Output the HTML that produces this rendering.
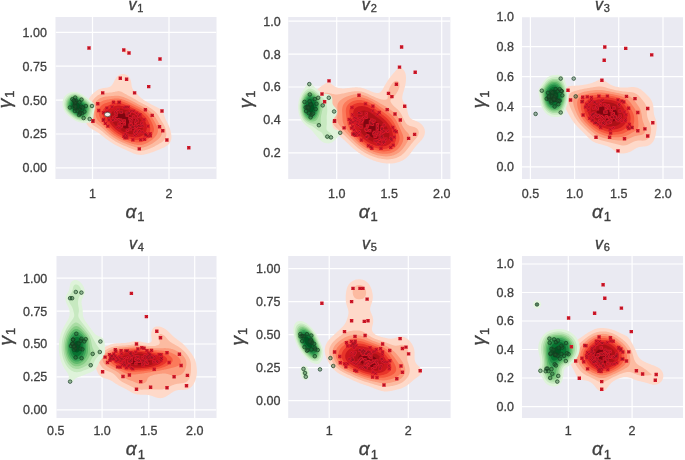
<!DOCTYPE html>
<html><head><meta charset="utf-8"><style>
html,body{margin:0;padding:0;background:#fff;width:685px;height:460px;overflow:hidden;position:relative}
text{font-family:"Liberation Sans",sans-serif;fill:#404040}
.tk{font-size:12.5px;stroke:#404040;stroke-width:0.3px}
.ti{font-size:16px;stroke:#404040;stroke-width:0.35px}
.lb{font-size:19px;stroke:#404040;stroke-width:0.35px}
</style></head><body>
<svg width="685" height="460" viewBox="0 0 685 460" style="position:absolute;left:0;top:0;filter:blur(0.45px)">
<defs>
<clipPath id="c0"><rect x="55.5" y="17" width="161" height="162"/></clipPath>
<clipPath id="c1"><rect x="288.2" y="17" width="162.2" height="162"/></clipPath>
<clipPath id="c2"><rect x="522" y="17" width="161" height="162"/></clipPath>
<clipPath id="c3"><rect x="56.3" y="256" width="160.2" height="162"/></clipPath>
<clipPath id="c4"><rect x="288.2" y="256" width="162.4" height="162"/></clipPath>
<clipPath id="c5"><rect x="522" y="256" width="161" height="162"/></clipPath>
</defs>
<rect x="55.5" y="17" width="161" height="162" fill="#EAEAF2"/>
<g clip-path="url(#c0)">
<line x1="92.5" y1="17" x2="92.5" y2="179" stroke="#fff" stroke-width="1.2"/>
<line x1="169.0" y1="17" x2="169.0" y2="179" stroke="#fff" stroke-width="1.2"/>
<line x1="55.5" y1="32.3" x2="216.5" y2="32.3" stroke="#fff" stroke-width="1.2"/>
<line x1="55.5" y1="66.2" x2="216.5" y2="66.2" stroke="#fff" stroke-width="1.2"/>
<line x1="55.5" y1="100.1" x2="216.5" y2="100.1" stroke="#fff" stroke-width="1.2"/>
<line x1="55.5" y1="134.0" x2="216.5" y2="134.0" stroke="#fff" stroke-width="1.2"/>
<line x1="55.5" y1="167.9" x2="216.5" y2="167.9" stroke="#fff" stroke-width="1.2"/>
<path d="M124.5 49.8L125.5 49.2L126.5 49.1L127.5 49.5L128.2 50.0L128.5 50.4L128.8 51.0L128.9 52.0L128.6 53.0L128.5 53.1L127.5 53.7L126.5 53.9L125.5 53.6L124.6 53.0L124.5 52.9L124.0 52.0L123.9 51.0L124.3 50.0ZM122.5 74.0L122.7 74.0L123.5 74.0L124.5 74.1L125.5 74.4L126.5 74.9L126.7 75.0L127.5 75.5L128.1 76.0L128.5 76.4L129.0 77.0L129.5 77.7L129.7 78.0L130.2 79.0L130.5 79.8L130.6 80.0L130.9 81.0L131.1 82.0L131.3 83.0L131.4 84.0L131.5 84.8L131.5 85.0L131.7 86.0L131.9 87.0L132.2 88.0L132.5 88.6L132.7 89.0L133.4 90.0L133.5 90.1L134.4 91.0L134.5 91.1L135.4 92.0L135.5 92.1L136.4 93.0L136.5 93.1L137.3 94.0L137.5 94.2L138.2 95.0L138.5 95.4L139.0 96.0L139.5 96.5L140.0 97.0L140.5 97.5L141.1 98.0L141.5 98.3L142.3 99.0L142.5 99.1L143.5 99.8L143.8 100.0L144.5 100.4L145.4 101.0L145.5 101.1L146.5 101.6L147.1 102.0L147.5 102.2L148.5 102.7L148.9 103.0L149.5 103.3L150.5 103.9L150.7 104.0L151.5 104.4L152.5 105.0L152.6 105.0L153.5 105.5L154.5 106.0L154.5 106.0L155.5 106.5L156.5 107.0L156.5 107.0L157.5 107.5L158.5 108.0L158.5 108.0L159.5 108.6L160.1 109.0L160.5 109.3L161.3 110.0L161.5 110.2L162.2 111.0L162.5 111.4L162.9 112.0L163.3 113.0L163.5 113.4L163.7 114.0L164.1 115.0L164.4 116.0L164.5 116.3L164.7 117.0L165.1 118.0L165.5 119.0L165.5 119.0L166.0 120.0L166.5 121.0L166.5 121.1L167.0 122.0L167.5 123.0L167.5 123.0L168.0 124.0L168.5 125.0L168.5 125.1L168.9 126.0L169.3 127.0L169.5 127.5L169.7 128.0L170.1 129.0L170.3 130.0L170.5 130.6L170.6 131.0L170.9 132.0L171.0 133.0L171.2 134.0L171.3 135.0L171.4 136.0L171.4 137.0L171.4 138.0L171.3 139.0L171.1 140.0L170.7 141.0L170.5 141.6L170.3 142.0L169.7 143.0L169.5 143.3L168.9 144.0L168.5 144.4L167.9 145.0L167.5 145.3L166.5 146.0L166.5 146.0L165.5 146.6L164.8 147.0L164.5 147.2L163.5 147.7L162.8 148.0L162.5 148.1L161.5 148.6L160.5 149.0L160.5 149.0L159.5 149.4L158.5 149.8L158.1 150.0L157.5 150.2L156.5 150.6L155.6 151.0L155.5 151.0L154.5 151.4L153.5 151.8L152.9 152.0L152.5 152.2L151.5 152.5L150.5 152.8L150.0 153.0L149.5 153.2L148.5 153.5L147.5 153.8L146.7 154.0L146.5 154.1L145.5 154.3L144.5 154.5L143.5 154.7L142.5 154.8L141.5 154.9L140.5 154.9L139.5 154.8L138.5 154.8L137.5 154.6L136.5 154.4L135.5 154.1L135.2 154.0L134.5 153.8L133.5 153.4L132.6 153.0L132.5 153.0L131.5 152.5L130.5 152.1L130.3 152.0L129.5 151.6L128.5 151.2L128.2 151.0L127.5 150.7L126.5 150.2L126.0 150.0L125.5 149.8L124.5 149.3L123.8 149.0L123.5 148.9L122.5 148.5L121.5 148.0L121.5 148.0L120.5 147.5L119.5 147.0L119.4 147.0L118.5 146.6L117.5 146.1L117.4 146.0L116.5 145.5L115.5 145.0L115.5 145.0L114.5 144.4L113.8 144.0L113.5 143.9L112.5 143.3L112.1 143.0L111.5 142.6L110.6 142.0L110.5 142.0L109.5 141.3L109.1 141.0L108.5 140.6L107.7 140.0L107.5 139.9L106.5 139.1L106.3 139.0L105.5 138.4L105.0 138.0L104.5 137.6L103.8 137.0L103.5 136.8L102.6 136.0L102.5 136.0L101.5 135.2L101.3 135.0L100.5 134.4L100.0 134.0L99.5 133.6L98.6 133.0L98.5 132.9L97.5 132.3L97.1 132.0L96.5 131.7L95.5 131.1L95.4 131.0L94.5 130.5L93.5 130.0L93.5 130.0L92.5 129.4L91.8 129.0L91.5 128.8L90.5 128.1L90.3 128.0L89.5 127.4L89.1 127.0L88.5 126.4L88.1 126.0L87.5 125.2L87.4 125.0L86.7 124.0L86.5 123.5L86.3 123.0L85.9 122.0L85.6 121.0L85.5 120.3L85.4 120.0L85.3 119.0L85.2 118.0L85.2 117.0L85.2 116.0L85.3 115.0L85.4 114.0L85.5 113.0L85.5 112.6L85.5 112.0L85.6 111.0L85.7 110.0L85.8 109.0L86.0 108.0L86.1 107.0L86.3 106.0L86.5 105.0L86.5 105.0L86.7 104.0L87.0 103.0L87.3 102.0L87.5 101.6L87.7 101.0L88.2 100.0L88.5 99.4L88.7 99.0L89.3 98.0L89.5 97.7L90.0 97.0L90.5 96.3L90.8 96.0L91.5 95.1L91.6 95.0L92.5 94.1L92.6 94.0L93.5 93.1L93.6 93.0L94.5 92.2L94.8 92.0L95.5 91.4L96.1 91.0L96.5 90.7L97.5 90.1L97.7 90.0L98.5 89.6L99.5 89.1L99.8 89.0L100.5 88.7L101.5 88.5L102.5 88.2L103.5 88.1L104.0 88.0L104.5 87.9L105.5 87.8L106.5 87.7L107.5 87.5L108.5 87.2L109.3 87.0L109.5 86.9L110.5 86.4L111.0 86.0L111.5 85.6L112.0 85.0L112.5 84.3L112.7 84.0L113.3 83.0L113.5 82.6L113.8 82.0L114.2 81.0L114.5 80.5L114.7 80.0L115.3 79.0L115.5 78.7L115.9 78.0L116.5 77.2L116.7 77.0L117.5 76.2L117.7 76.0L118.5 75.4L119.1 75.0L119.5 74.8L120.5 74.4L121.5 74.1L122.5 74.0Z" fill="#fed9c9"/>
<path d="M114.5 91.9L115.5 91.6L116.5 91.4L117.5 91.2L118.5 91.1L119.5 91.2L120.5 91.4L121.5 91.8L121.9 92.0L122.5 92.3L123.5 92.9L123.6 93.0L124.5 93.5L125.3 94.0L125.5 94.1L126.5 94.6L127.1 95.0L127.5 95.2L128.5 95.7L129.1 96.0L129.5 96.2L130.5 96.7L131.0 97.0L131.5 97.3L132.5 97.8L132.8 98.0L133.5 98.4L134.5 99.0L134.5 99.0L135.5 99.6L136.2 100.0L136.5 100.2L137.5 100.8L137.8 101.0L138.5 101.4L139.5 102.0L139.5 102.0L140.5 102.5L141.4 103.0L141.5 103.1L142.5 103.6L143.3 104.0L143.5 104.1L144.5 104.6L145.2 105.0L145.5 105.1L146.5 105.7L147.1 106.0L147.5 106.3L148.5 106.8L148.7 107.0L149.5 107.5L150.3 108.0L150.5 108.1L151.5 108.8L151.8 109.0L152.5 109.5L153.1 110.0L153.5 110.3L154.4 111.0L154.5 111.1L155.5 112.0L155.5 112.0L156.4 113.0L156.5 113.1L157.3 114.0L157.5 114.3L158.0 115.0L158.5 115.8L158.6 116.0L159.2 117.0L159.5 117.5L159.8 118.0L160.4 119.0L160.5 119.2L161.0 120.0L161.5 120.9L161.5 121.0L162.2 122.0L162.5 122.5L162.8 123.0L163.4 124.0L163.5 124.2L163.9 125.0L164.4 126.0L164.5 126.1L164.9 127.0L165.3 128.0L165.5 128.6L165.6 129.0L165.9 130.0L166.1 131.0L166.2 132.0L166.3 133.0L166.3 134.0L166.3 135.0L166.1 136.0L165.9 137.0L165.5 138.0L165.5 138.0L165.0 139.0L164.5 139.7L164.3 140.0L163.5 140.8L163.3 141.0L162.5 141.7L162.0 142.0L161.5 142.4L160.5 143.0L160.5 143.0L159.5 143.6L158.8 144.0L158.5 144.2L157.5 144.7L157.0 145.0L156.5 145.3L155.5 145.8L155.2 146.0L154.5 146.4L153.5 146.9L153.2 147.0L152.5 147.4L151.5 147.8L151.1 148.0L150.5 148.3L149.5 148.7L148.7 149.0L148.5 149.1L147.5 149.5L146.5 149.8L145.9 150.0L145.5 150.1L144.5 150.4L143.5 150.6L142.5 150.8L141.5 150.9L140.5 150.9L139.5 150.9L138.5 150.8L137.5 150.6L136.5 150.4L135.5 150.2L135.0 150.0L134.5 149.8L133.5 149.5L132.5 149.1L132.3 149.0L131.5 148.7L130.5 148.3L129.8 148.0L129.5 147.9L128.5 147.5L127.5 147.0L127.4 147.0L126.5 146.6L125.5 146.2L125.0 146.0L124.5 145.8L123.5 145.4L122.7 145.0L122.5 144.9L121.5 144.5L120.5 144.0L120.5 144.0L119.5 143.5L118.5 143.0L118.5 143.0L117.5 142.5L116.6 142.0L116.5 141.9L115.5 141.4L114.9 141.0L114.5 140.8L113.5 140.1L113.3 140.0L112.5 139.5L111.8 139.0L111.5 138.8L110.5 138.1L110.4 138.0L109.5 137.4L109.0 137.0L108.5 136.6L107.7 136.0L107.5 135.8L106.5 135.0L106.5 135.0L105.5 134.2L105.3 134.0L104.5 133.3L104.1 133.0L103.5 132.5L103.0 132.0L102.5 131.6L101.8 131.0L101.5 130.8L100.5 130.0L100.5 130.0L99.5 129.3L99.1 129.0L98.5 128.6L97.6 128.0L97.5 127.9L96.5 127.3L96.0 127.0L95.5 126.7L94.5 126.1L94.4 126.0L93.5 125.4L93.0 125.0L92.5 124.5L92.0 124.0L91.5 123.5L91.1 123.0L90.5 122.0L90.5 122.0L90.0 121.0L89.7 120.0L89.5 119.1L89.5 119.0L89.3 118.0L89.3 117.0L89.3 116.0L89.3 115.0L89.4 114.0L89.4 113.0L89.5 112.3L89.5 112.0L89.6 111.0L89.7 110.0L89.9 109.0L90.0 108.0L90.2 107.0L90.5 106.0L90.5 105.9L90.7 105.0L91.1 104.0L91.5 103.0L91.5 102.9L91.9 102.0L92.5 101.0L92.5 101.0L93.1 100.0L93.5 99.5L93.9 99.0L94.5 98.3L94.8 98.0L95.5 97.3L95.8 97.0L96.5 96.4L97.0 96.0L97.5 95.6L98.4 95.0L98.5 95.0L99.5 94.4L100.4 94.0L100.5 93.9L101.5 93.6L102.5 93.3L103.5 93.1L104.0 93.0L104.5 92.9L105.5 92.8L106.5 92.8L107.5 92.7L108.5 92.7L109.5 92.6L110.5 92.5L111.5 92.4L112.5 92.2L113.5 92.1L113.9 92.0Z" fill="#fcbba1"/>
<path d="M112.5 96.0L113.5 95.9L114.5 95.8L115.5 95.8L116.5 95.7L117.5 95.8L118.5 95.8L119.5 96.0L119.5 96.0L120.5 96.2L121.5 96.4L122.5 96.7L123.2 97.0L123.5 97.1L124.5 97.5L125.5 97.9L125.8 98.0L126.5 98.3L127.5 98.8L128.0 99.0L128.5 99.2L129.5 99.7L130.1 100.0L130.5 100.2L131.5 100.7L132.1 101.0L132.5 101.2L133.5 101.7L134.0 102.0L134.5 102.3L135.5 102.8L135.9 103.0L136.5 103.3L137.5 103.9L137.8 104.0L138.5 104.4L139.5 104.9L139.7 105.0L140.5 105.4L141.5 105.9L141.7 106.0L142.5 106.4L143.5 106.9L143.6 107.0L144.5 107.5L145.4 108.0L145.5 108.1L146.5 108.7L147.0 109.0L147.5 109.3L148.4 110.0L148.5 110.1L149.5 110.8L149.7 111.0L150.5 111.7L150.9 112.0L151.5 112.6L151.9 113.0L152.5 113.6L152.9 114.0L153.5 114.8L153.7 115.0L154.4 116.0L154.5 116.1L155.1 117.0L155.5 117.6L155.8 118.0L156.4 119.0L156.5 119.2L157.0 120.0L157.5 120.8L157.6 121.0L158.2 122.0L158.5 122.4L158.8 123.0L159.5 124.0L159.5 124.1L160.0 125.0L160.5 125.8L160.6 126.0L161.1 127.0L161.5 128.0L161.5 128.1L161.8 129.0L162.0 130.0L162.1 131.0L162.1 132.0L162.0 133.0L161.8 134.0L161.5 134.9L161.4 135.0L160.9 136.0L160.5 136.7L160.3 137.0L159.5 137.9L159.4 138.0L158.5 138.9L158.4 139.0L157.5 139.8L157.2 140.0L156.5 140.6L156.0 141.0L155.5 141.3L154.6 142.0L154.5 142.1L153.5 142.7L153.1 143.0L152.5 143.4L151.5 144.0L151.5 144.0L150.5 144.6L149.7 145.0L149.5 145.1L148.5 145.6L147.6 146.0L147.5 146.0L146.5 146.4L145.5 146.8L144.9 147.0L144.5 147.1L143.5 147.4L142.5 147.6L141.5 147.7L140.5 147.8L139.5 147.8L138.5 147.7L137.5 147.6L136.5 147.4L135.5 147.2L134.8 147.0L134.5 146.9L133.5 146.6L132.5 146.3L131.8 146.0L131.5 145.9L130.5 145.6L129.5 145.2L129.0 145.0L128.5 144.8L127.5 144.4L126.5 144.0L126.4 144.0L125.5 143.6L124.5 143.2L124.0 143.0L123.5 142.8L122.5 142.4L121.7 142.0L121.5 141.9L120.5 141.4L119.7 141.0L119.5 140.9L118.5 140.4L117.8 140.0L117.5 139.9L116.5 139.3L116.0 139.0L115.5 138.7L114.5 138.0L114.4 138.0L113.5 137.4L112.9 137.0L112.5 136.7L111.6 136.0L111.5 136.0L110.5 135.2L110.2 135.0L109.5 134.4L109.0 134.0L108.5 133.6L107.8 133.0L107.5 132.7L106.7 132.0L106.5 131.8L105.6 131.0L105.5 130.9L104.5 130.0L104.5 130.0L103.5 129.1L103.4 129.0L102.5 128.2L102.3 128.0L101.5 127.3L101.1 127.0L100.5 126.5L99.8 126.0L99.5 125.8L98.5 125.0L98.5 125.0L97.5 124.3L97.2 124.0L96.5 123.5L95.9 123.0L95.5 122.6L94.9 122.0L94.5 121.5L94.1 121.0L93.5 120.0L93.5 119.9L93.1 119.0L92.9 118.0L92.7 117.0L92.6 116.0L92.5 115.0L92.5 114.0L92.6 113.0L92.6 112.0L92.7 111.0L92.8 110.0L93.0 109.0L93.2 108.0L93.4 107.0L93.5 106.7L93.7 106.0L94.1 105.0L94.5 104.1L94.5 104.0L95.1 103.0L95.5 102.4L95.8 102.0L96.5 101.1L96.6 101.0L97.5 100.1L97.7 100.0L98.5 99.3L99.0 99.0L99.5 98.6L100.5 98.1L100.7 98.0L101.5 97.7L102.5 97.3L103.5 97.0L103.6 97.0L104.5 96.8L105.5 96.6L106.5 96.5L107.5 96.4L108.5 96.3L109.5 96.2L110.5 96.2L111.5 96.1L112.3 96.0Z" fill="#fc9b7c"/>
<path d="M111.5 98.9L112.5 98.8L113.5 98.7L114.5 98.6L115.5 98.5L116.5 98.5L117.5 98.5L118.5 98.5L119.5 98.7L120.5 98.9L121.1 99.0L121.5 99.1L122.5 99.4L123.5 99.7L124.4 100.0L124.5 100.0L125.5 100.4L126.5 100.9L126.8 101.0L127.5 101.3L128.5 101.7L129.0 102.0L129.5 102.2L130.5 102.7L131.1 103.0L131.5 103.2L132.5 103.7L133.1 104.0L133.5 104.2L134.5 104.7L135.0 105.0L135.5 105.2L136.5 105.8L137.0 106.0L137.5 106.3L138.5 106.8L138.9 107.0L139.5 107.3L140.5 107.8L140.9 108.0L141.5 108.3L142.5 108.9L142.7 109.0L143.5 109.5L144.3 110.0L144.5 110.1L145.5 110.8L145.8 111.0L146.5 111.5L147.1 112.0L147.5 112.3L148.3 113.0L148.5 113.2L149.3 114.0L149.5 114.2L150.2 115.0L150.5 115.4L151.0 116.0L151.5 116.7L151.7 117.0L152.4 118.0L152.5 118.2L153.0 119.0L153.5 119.8L153.6 120.0L154.2 121.0L154.5 121.6L154.7 122.0L155.3 123.0L155.5 123.4L155.8 124.0L156.3 125.0L156.5 125.3L156.8 126.0L157.2 127.0L157.5 127.8L157.6 128.0L157.8 129.0L157.9 130.0L157.9 131.0L157.8 132.0L157.5 133.0L157.5 133.0L157.1 134.0L156.5 135.0L156.5 135.0L155.8 136.0L155.5 136.3L154.9 137.0L154.5 137.5L154.0 138.0L153.5 138.5L153.0 139.0L152.5 139.4L151.8 140.0L151.5 140.2L150.5 141.0L150.4 141.0L149.5 141.6L148.9 142.0L148.5 142.3L147.5 142.8L147.1 143.0L146.5 143.3L145.5 143.8L144.9 144.0L144.5 144.1L143.5 144.5L142.5 144.7L141.5 144.9L140.7 145.0L140.5 145.0L139.5 145.1L138.5 145.1L137.9 145.0L137.5 145.0L136.5 144.8L135.5 144.6L134.5 144.4L133.5 144.1L133.0 144.0L132.5 143.9L131.5 143.6L130.5 143.2L129.8 143.0L129.5 142.9L128.5 142.6L127.5 142.2L127.0 142.0L126.5 141.8L125.5 141.4L124.5 141.0L124.4 141.0L123.5 140.6L122.5 140.2L122.1 140.0L121.5 139.7L120.5 139.2L120.1 139.0L119.5 138.7L118.5 138.2L118.2 138.0L117.5 137.6L116.5 137.0L116.5 137.0L115.5 136.3L115.0 136.0L114.5 135.7L113.6 135.0L113.5 135.0L112.5 134.2L112.2 134.0L111.5 133.4L111.0 133.0L110.5 132.6L109.8 132.0L109.5 131.7L108.7 131.0L108.5 130.8L107.6 130.0L107.5 129.9L106.6 129.0L106.5 128.9L105.6 128.0L105.5 127.9L104.6 127.0L104.5 126.9L103.6 126.0L103.5 125.9L102.5 125.0L102.5 125.0L101.5 124.0L101.5 124.0L100.5 123.1L100.4 123.0L99.5 122.1L99.4 122.0L98.5 121.1L98.4 121.0L97.6 120.0L97.5 119.8L97.0 119.0L96.5 118.1L96.5 118.0L96.1 117.0L95.8 116.0L95.7 115.0L95.6 114.0L95.5 113.0L95.6 112.0L95.6 111.0L95.7 110.0L95.9 109.0L96.2 108.0L96.5 107.0L96.5 107.0L96.9 106.0L97.5 105.0L97.5 105.0L98.2 104.0L98.5 103.7L99.2 103.0L99.5 102.7L100.4 102.0L100.5 102.0L101.5 101.4L102.3 101.0L102.5 100.9L103.5 100.5L104.5 100.2L105.4 100.0L105.5 100.0L106.5 99.8L107.5 99.6L108.5 99.4L109.5 99.2L110.5 99.1L111.0 99.0Z" fill="#fb7a5a"/>
<path d="M114.5 101.0L115.5 100.9L116.5 100.8L117.5 100.8L118.5 100.9L119.5 101.0L119.8 101.0L120.5 101.1L121.5 101.3L122.5 101.6L123.5 101.9L123.7 102.0L124.5 102.3L125.5 102.7L126.3 103.0L126.5 103.1L127.5 103.5L128.5 104.0L128.6 104.0L129.5 104.4L130.5 104.9L130.6 105.0L131.5 105.4L132.5 105.9L132.7 106.0L133.5 106.4L134.5 106.9L134.6 107.0L135.5 107.4L136.5 108.0L136.6 108.0L137.5 108.5L138.5 109.0L138.5 109.0L139.5 109.5L140.3 110.0L140.5 110.1L141.5 110.7L142.0 111.0L142.5 111.3L143.5 112.0L143.5 112.0L144.5 112.8L144.8 113.0L145.5 113.6L145.9 114.0L146.5 114.5L146.9 115.0L147.5 115.6L147.8 116.0L148.5 116.8L148.6 117.0L149.3 118.0L149.5 118.3L150.0 119.0L150.5 119.9L150.5 120.0L151.1 121.0L151.5 121.8L151.6 122.0L152.1 123.0L152.5 124.0L152.5 124.0L152.9 125.0L153.3 126.0L153.5 126.8L153.5 127.0L153.8 128.0L153.9 129.0L153.9 130.0L153.8 131.0L153.5 132.0L153.5 132.1L153.2 133.0L152.7 134.0L152.5 134.3L152.0 135.0L151.5 135.7L151.3 136.0L150.5 136.9L150.4 137.0L149.5 137.9L149.4 138.0L148.5 138.7L148.2 139.0L147.5 139.5L146.7 140.0L146.5 140.1L145.5 140.7L144.9 141.0L144.5 141.2L143.5 141.6L142.5 141.9L142.2 142.0L141.5 142.2L140.5 142.3L139.5 142.5L138.5 142.5L137.5 142.5L136.5 142.4L135.5 142.3L134.5 142.1L134.1 142.0L133.5 141.9L132.5 141.6L131.5 141.4L130.5 141.1L130.2 141.0L129.5 140.8L128.5 140.5L127.5 140.1L127.1 140.0L126.5 139.8L125.5 139.4L124.5 139.0L124.5 139.0L123.5 138.6L122.5 138.1L122.2 138.0L121.5 137.6L120.5 137.1L120.3 137.0L119.5 136.6L118.5 136.0L118.5 136.0L117.5 135.4L116.8 135.0L116.5 134.8L115.5 134.1L115.4 134.0L114.5 133.4L114.0 133.0L113.5 132.6L112.7 132.0L112.5 131.8L111.6 131.0L111.5 131.0L110.5 130.0L110.4 130.0L109.5 129.1L109.4 129.0L108.5 128.1L108.4 128.0L107.5 127.0L107.5 127.0L106.6 126.0L106.5 125.9L105.7 125.0L105.5 124.8L104.8 124.0L104.5 123.6L104.0 123.0L103.5 122.4L103.1 122.0L102.5 121.2L102.3 121.0L101.5 120.0L101.5 120.0L100.8 119.0L100.5 118.5L100.2 118.0L99.7 117.0L99.5 116.4L99.3 116.0L99.0 115.0L98.9 114.0L98.7 113.0L98.7 112.0L98.8 111.0L99.0 110.0L99.2 109.0L99.5 108.3L99.6 108.0L100.2 107.0L100.5 106.6L101.0 106.0L101.5 105.5L102.1 105.0L102.5 104.7L103.5 104.1L103.7 104.0L104.5 103.6L105.5 103.2L106.1 103.0L106.5 102.9L107.5 102.6L108.5 102.3L109.5 102.0L109.6 102.0L110.5 101.8L111.5 101.5L112.5 101.3L113.5 101.1L114.4 101.0Z" fill="#f6583e"/>
<path d="M112.5 103.9L113.5 103.7L114.5 103.4L115.5 103.3L116.5 103.1L117.5 103.1L118.5 103.1L119.5 103.2L120.5 103.3L121.5 103.5L122.5 103.8L123.2 104.0L123.5 104.1L124.5 104.4L125.5 104.8L125.9 105.0L126.5 105.2L127.5 105.7L128.2 106.0L128.5 106.1L129.5 106.6L130.3 107.0L130.5 107.1L131.5 107.6L132.4 108.0L132.5 108.1L133.5 108.6L134.3 109.0L134.5 109.1L135.5 109.6L136.2 110.0L136.5 110.2L137.5 110.7L138.0 111.0L138.5 111.3L139.5 111.9L139.7 112.0L140.5 112.5L141.2 113.0L141.5 113.2L142.5 114.0L142.5 114.0L143.5 114.9L143.6 115.0L144.5 115.9L144.6 116.0L145.5 117.0L145.5 117.0L146.3 118.0L146.5 118.3L147.0 119.0L147.5 119.9L147.6 120.0L148.1 121.0L148.5 121.9L148.6 122.0L149.0 123.0L149.4 124.0L149.5 124.4L149.7 125.0L149.9 126.0L150.1 127.0L150.2 128.0L150.3 129.0L150.2 130.0L150.0 131.0L149.7 132.0L149.5 132.4L149.2 133.0L148.6 134.0L148.5 134.2L147.9 135.0L147.5 135.5L147.0 136.0L146.5 136.5L145.9 137.0L145.5 137.3L144.5 138.0L144.4 138.0L143.5 138.5L142.5 139.0L142.4 139.0L141.5 139.3L140.5 139.6L139.5 139.8L138.5 139.9L137.5 140.0L136.5 140.0L135.5 139.9L134.5 139.8L133.5 139.6L132.5 139.4L131.5 139.2L130.6 139.0L130.5 139.0L129.5 138.7L128.5 138.4L127.5 138.1L127.2 138.0L126.5 137.7L125.5 137.4L124.6 137.0L124.5 137.0L123.5 136.5L122.5 136.1L122.4 136.0L121.5 135.6L120.5 135.0L120.4 135.0L119.5 134.5L118.7 134.0L118.5 133.9L117.5 133.2L117.2 133.0L116.5 132.5L115.8 132.0L115.5 131.8L114.5 131.0L114.5 131.0L113.5 130.2L113.3 130.0L112.5 129.3L112.2 129.0L111.5 128.3L111.2 128.0L110.5 127.3L110.3 127.0L109.5 126.1L109.4 126.0L108.5 125.0L108.5 125.0L107.7 124.0L107.5 123.7L107.0 123.0L106.5 122.3L106.3 122.0L105.6 121.0L105.5 120.8L105.0 120.0L104.5 119.2L104.4 119.0L103.8 118.0L103.5 117.2L103.4 117.0L103.0 116.0L102.7 115.0L102.5 114.0L102.5 113.6L102.5 113.0L102.5 112.0L102.5 111.9L102.7 111.0L103.0 110.0L103.5 109.1L103.6 109.0L104.4 108.0L104.5 107.9L105.5 107.1L105.6 107.0L106.5 106.4L107.3 106.0L107.5 105.9L108.5 105.4L109.4 105.0L109.5 105.0L110.5 104.6L111.5 104.2L112.3 104.0Z" fill="#e83429"/>
<path d="M115.5 105.9L116.5 105.7L117.5 105.6L118.5 105.6L119.5 105.6L120.5 105.7L121.5 105.9L122.1 106.0L122.5 106.1L123.5 106.4L124.5 106.7L125.2 107.0L125.5 107.1L126.5 107.5L127.5 107.9L127.6 108.0L128.5 108.4L129.5 108.9L129.8 109.0L130.5 109.4L131.5 109.8L131.8 110.0L132.5 110.4L133.5 110.9L133.7 111.0L134.5 111.4L135.5 112.0L135.5 112.0L136.5 112.6L137.2 113.0L137.5 113.2L138.5 113.9L138.7 114.0L139.5 114.6L140.0 115.0L140.5 115.4L141.2 116.0L141.5 116.3L142.2 117.0L142.5 117.4L143.0 118.0L143.5 118.6L143.8 119.0L144.4 120.0L144.5 120.1L145.0 121.0L145.5 122.0L145.5 122.1L145.9 123.0L146.2 124.0L146.5 125.0L146.5 125.2L146.7 126.0L146.8 127.0L146.8 128.0L146.7 129.0L146.5 130.0L146.5 130.1L146.2 131.0L145.8 132.0L145.5 132.4L145.1 133.0L144.5 133.8L144.3 134.0L143.5 134.7L143.2 135.0L142.5 135.5L141.6 136.0L141.5 136.1L140.5 136.5L139.5 136.9L138.9 137.0L138.5 137.1L137.5 137.3L136.5 137.3L135.5 137.4L134.5 137.3L133.5 137.2L132.5 137.1L131.8 137.0L131.5 136.9L130.5 136.7L129.5 136.5L128.5 136.2L127.8 136.0L127.5 135.9L126.5 135.6L125.5 135.2L125.0 135.0L124.5 134.8L123.5 134.3L122.8 134.0L122.5 133.8L121.5 133.3L120.9 133.0L120.5 132.8L119.5 132.1L119.3 132.0L118.5 131.5L117.8 131.0L117.5 130.8L116.5 130.0L116.5 130.0L115.5 129.2L115.3 129.0L114.5 128.3L114.2 128.0L113.5 127.3L113.2 127.0L112.5 126.2L112.3 126.0L111.5 125.1L111.4 125.0L110.7 124.0L110.5 123.8L110.0 123.0L109.5 122.3L109.3 122.0L108.7 121.0L108.5 120.6L108.2 120.0L107.7 119.0L107.5 118.4L107.3 118.0L107.0 117.0L106.8 116.0L106.6 115.0L106.6 114.0L106.7 113.0L107.0 112.0L107.5 111.0L107.5 111.0L108.2 110.0L108.5 109.7L109.2 109.0L109.5 108.8L110.5 108.1L110.6 108.0L111.5 107.5L112.4 107.0L112.5 107.0L113.5 106.6L114.5 106.2L115.2 106.0Z" fill="#ca181d"/>
<path d="M117.5 108.8L118.5 108.6L119.5 108.6L120.5 108.6L121.5 108.7L122.5 108.9L123.0 109.0L123.5 109.1L124.5 109.5L125.5 109.8L126.0 110.0L126.5 110.2L127.5 110.6L128.4 111.0L128.5 111.0L129.5 111.5L130.5 112.0L130.5 112.0L131.5 112.5L132.4 113.0L132.5 113.1L133.5 113.6L134.1 114.0L134.5 114.2L135.5 114.9L135.7 115.0L136.5 115.6L137.0 116.0L137.5 116.4L138.2 117.0L138.5 117.3L139.2 118.0L139.5 118.4L140.0 119.0L140.5 119.6L140.8 120.0L141.4 121.0L141.5 121.2L141.9 122.0L142.3 123.0L142.5 123.6L142.6 124.0L142.8 125.0L143.0 126.0L143.0 127.0L142.9 128.0L142.6 129.0L142.5 129.4L142.3 130.0L141.7 131.0L141.5 131.2L140.8 132.0L140.5 132.3L139.5 133.0L139.5 133.0L138.5 133.5L137.5 133.9L137.1 134.0L136.5 134.1L135.5 134.3L134.5 134.4L133.5 134.4L132.5 134.3L131.5 134.2L130.5 134.1L130.1 134.0L129.5 133.9L128.5 133.6L127.5 133.3L126.5 133.0L126.5 133.0L125.5 132.6L124.5 132.2L124.1 132.0L123.5 131.7L122.5 131.2L122.1 131.0L121.5 130.6L120.5 130.0L120.5 130.0L119.5 129.3L119.1 129.0L118.5 128.5L117.8 128.0L117.5 127.7L116.7 127.0L116.5 126.8L115.7 126.0L115.5 125.8L114.8 125.0L114.5 124.6L114.0 124.0L113.5 123.2L113.3 123.0L112.7 122.0L112.5 121.6L112.2 121.0L111.7 120.0L111.5 119.4L111.4 119.0L111.1 118.0L110.9 117.0L110.9 116.0L110.9 115.0L111.2 114.0L111.5 113.2L111.6 113.0L112.2 112.0L112.5 111.7L113.1 111.0L113.5 110.7L114.4 110.0L114.5 110.0L115.5 109.4L116.5 109.0L116.6 109.0Z" fill="#ac1117"/>
<path d="M118.5 114.0L119.5 113.5L120.5 113.2L121.5 113.1L122.5 113.1L123.5 113.3L124.5 113.5L125.5 113.8L126.2 114.0L126.5 114.1L127.5 114.5L128.5 114.9L128.6 115.0L129.5 115.5L130.5 116.0L130.5 116.0L131.5 116.6L132.1 117.0L132.5 117.3L133.5 118.0L133.5 118.0L134.5 118.9L134.6 119.0L135.5 120.0L135.5 120.0L136.2 121.0L136.5 121.5L136.8 122.0L137.2 123.0L137.5 124.0L137.5 124.4L137.6 125.0L137.5 125.9L137.5 126.0L137.2 127.0L136.6 128.0L136.5 128.2L135.6 129.0L135.5 129.1L134.5 129.6L133.5 129.9L133.0 130.0L132.5 130.1L131.5 130.1L130.5 130.1L129.6 130.0L129.5 130.0L128.5 129.8L127.5 129.5L126.5 129.2L126.0 129.0L125.5 128.8L124.5 128.3L123.9 128.0L123.5 127.8L122.5 127.1L122.3 127.0L121.5 126.4L121.0 126.0L120.5 125.6L119.9 125.0L119.5 124.6L119.0 124.0L118.5 123.4L118.2 123.0L117.6 122.0L117.5 121.8L117.1 121.0L116.7 120.0L116.5 119.0L116.5 119.0L116.4 118.0L116.5 117.2L116.5 117.0L116.8 116.0L117.4 115.0L117.5 114.9L118.5 114.0Z" fill="#7e0610"/>
<path d="M72.5 91.9L73.5 91.7L74.5 91.7L75.5 91.8L76.5 91.9L76.7 92.0L77.5 92.2L78.5 92.5L79.5 92.9L79.7 93.0L80.5 93.4L81.5 93.9L81.6 94.0L82.5 94.5L83.2 95.0L83.5 95.2L84.5 95.9L84.7 96.0L85.5 96.6L86.1 97.0L86.5 97.3L87.3 98.0L87.5 98.1L88.5 99.0L88.5 99.0L89.5 99.8L89.8 100.0L90.5 100.5L91.1 101.0L91.5 101.3L92.3 102.0L92.5 102.2L93.3 103.0L93.5 103.2L94.1 104.0L94.5 104.9L94.6 105.0L94.9 106.0L94.9 107.0L94.9 108.0L94.7 109.0L94.5 109.9L94.5 110.0L94.3 111.0L94.0 112.0L93.9 113.0L93.7 114.0L93.6 115.0L93.5 116.0L93.5 116.4L93.4 117.0L93.3 118.0L93.0 119.0L92.5 120.0L92.5 120.1L91.8 121.0L91.5 121.3L90.5 121.9L90.4 122.0L89.5 122.4L88.5 122.7L87.5 122.8L86.5 122.9L85.5 123.0L84.5 123.0L83.5 123.0L82.5 122.9L81.5 122.7L80.5 122.6L79.5 122.3L78.7 122.0L78.5 121.9L77.5 121.6L76.5 121.2L76.1 121.0L75.5 120.7L74.5 120.2L74.2 120.0L73.5 119.6L72.6 119.0L72.5 118.9L71.5 118.2L71.2 118.0L70.5 117.5L69.9 117.0L69.5 116.6L68.8 116.0L68.5 115.8L67.7 115.0L67.5 114.8L66.7 114.0L66.5 113.7L65.9 113.0L65.5 112.5L65.1 112.0L64.5 111.0L64.5 111.0L64.0 110.0L63.5 109.0L63.5 108.9L63.2 108.0L62.9 107.0L62.7 106.0L62.6 105.0L62.5 104.0L62.5 103.0L62.6 102.0L62.7 101.0L62.9 100.0L63.3 99.0L63.5 98.5L63.7 98.0L64.2 97.0L64.5 96.6L65.0 96.0L65.5 95.4L65.9 95.0L66.5 94.5L67.1 94.0L67.5 93.7L68.5 93.2L68.9 93.0L69.5 92.7L70.5 92.3L71.5 92.1L71.8 92.0Z" fill="#dff3da"/>
<path d="M71.5 93.8L72.5 93.6L73.5 93.4L74.5 93.3L75.5 93.4L76.5 93.5L77.5 93.8L78.0 94.0L78.5 94.2L79.5 94.6L80.2 95.0L80.5 95.2L81.5 95.7L81.9 96.0L82.5 96.4L83.4 97.0L83.5 97.1L84.5 97.8L84.8 98.0L85.5 98.6L86.1 99.0L86.5 99.3L87.3 100.0L87.5 100.2L88.5 101.0L88.5 101.0L89.5 101.9L89.6 102.0L90.5 102.9L90.6 103.0L91.5 104.0L91.5 104.0L92.2 105.0L92.5 105.9L92.5 106.0L92.7 107.0L92.7 108.0L92.6 109.0L92.5 109.5L92.4 110.0L92.2 111.0L92.0 112.0L91.8 113.0L91.6 114.0L91.5 114.5L91.4 115.0L91.3 116.0L91.1 117.0L90.7 118.0L90.5 118.4L90.1 119.0L89.5 119.6L89.0 120.0L88.5 120.3L87.5 120.6L86.5 120.9L85.9 121.0L85.5 121.1L84.5 121.2L83.5 121.2L82.5 121.1L81.5 121.0L81.4 121.0L80.5 120.8L79.5 120.6L78.5 120.3L77.8 120.0L77.5 119.9L76.5 119.5L75.6 119.0L75.5 119.0L74.5 118.4L73.9 118.0L73.5 117.7L72.5 117.0L72.5 117.0L71.5 116.3L71.2 116.0L70.5 115.4L70.0 115.0L69.5 114.5L68.9 114.0L68.5 113.6L67.9 113.0L67.5 112.5L67.1 112.0L66.5 111.2L66.4 111.0L65.7 110.0L65.5 109.5L65.3 109.0L64.9 108.0L64.6 107.0L64.5 106.2L64.5 106.0L64.3 105.0L64.3 104.0L64.4 103.0L64.5 102.1L64.5 102.0L64.7 101.0L65.0 100.0L65.5 99.0L65.5 99.0L66.0 98.0L66.5 97.4L66.8 97.0L67.5 96.2L67.8 96.0L68.5 95.4L69.1 95.0L69.5 94.7L70.5 94.2L71.1 94.0Z" fill="#c7e9c0"/>
<path d="M72.5 94.8L73.5 94.6L74.5 94.5L75.5 94.6L76.5 94.7L77.4 95.0L77.5 95.0L78.5 95.4L79.5 95.9L79.7 96.0L80.5 96.5L81.3 97.0L81.5 97.1L82.5 97.8L82.8 98.0L83.5 98.5L84.2 99.0L84.5 99.2L85.5 100.0L85.5 100.0L86.5 100.8L86.7 101.0L87.5 101.7L87.8 102.0L88.5 102.6L88.9 103.0L89.5 103.7L89.7 104.0L90.4 105.0L90.5 105.2L90.9 106.0L91.1 107.0L91.1 108.0L91.1 109.0L90.9 110.0L90.7 111.0L90.5 111.7L90.4 112.0L90.2 113.0L90.0 114.0L89.7 115.0L89.5 115.7L89.4 116.0L89.0 117.0L88.5 117.7L88.3 118.0L87.5 118.6L86.9 119.0L86.5 119.2L85.5 119.5L84.5 119.7L83.5 119.8L82.5 119.8L81.5 119.8L80.5 119.6L79.5 119.4L78.5 119.1L78.4 119.0L77.5 118.7L76.5 118.2L76.1 118.0L75.5 117.7L74.5 117.0L74.4 117.0L73.5 116.4L73.0 116.0L72.5 115.6L71.8 115.0L71.5 114.8L70.6 114.0L70.5 113.9L69.5 113.0L69.5 113.0L68.6 112.0L68.5 111.9L67.7 111.0L67.5 110.7L67.1 110.0L66.5 109.0L66.5 108.9L66.1 108.0L65.9 107.0L65.7 106.0L65.6 105.0L65.6 104.0L65.7 103.0L65.9 102.0L66.2 101.0L66.5 100.2L66.6 100.0L67.1 99.0L67.5 98.4L67.8 98.0L68.5 97.2L68.7 97.0L69.5 96.3L70.0 96.0L70.5 95.7L71.5 95.2L72.0 95.0Z" fill="#a9dca3"/>
<path d="M72.5 95.9L73.5 95.6L74.5 95.5L75.5 95.5L76.5 95.7L77.4 96.0L77.5 96.0L78.5 96.5L79.5 97.0L79.5 97.0L80.5 97.6L81.1 98.0L81.5 98.3L82.5 99.0L82.5 99.0L83.5 99.7L83.9 100.0L84.5 100.5L85.2 101.0L85.5 101.3L86.4 102.0L86.5 102.1L87.4 103.0L87.5 103.1L88.3 104.0L88.5 104.3L89.0 105.0L89.5 106.0L89.5 106.1L89.7 107.0L89.8 108.0L89.8 109.0L89.6 110.0L89.5 110.4L89.4 111.0L89.1 112.0L88.8 113.0L88.5 114.0L88.5 114.0L88.1 115.0L87.6 116.0L87.5 116.2L86.9 117.0L86.5 117.4L85.5 118.0L85.5 118.0L84.5 118.4L83.5 118.6L82.5 118.7L81.5 118.7L80.5 118.5L79.5 118.3L78.5 118.0L78.5 118.0L77.5 117.6L76.5 117.1L76.3 117.0L75.5 116.6L74.7 116.0L74.5 115.9L73.5 115.1L73.3 115.0L72.5 114.3L72.1 114.0L71.5 113.5L70.9 113.0L70.5 112.6L69.9 112.0L69.5 111.6L69.0 111.0L68.5 110.4L68.2 110.0L67.6 109.0L67.5 108.7L67.2 108.0L66.9 107.0L66.7 106.0L66.7 105.0L66.7 104.0L66.9 103.0L67.1 102.0L67.4 101.0L67.5 100.8L67.9 100.0L68.5 99.0L68.5 99.0L69.3 98.0L69.5 97.8L70.4 97.0L70.5 97.0L71.5 96.3L72.3 96.0Z" fill="#86cc85"/>
<path d="M72.5 96.9L73.5 96.6L74.5 96.5L75.5 96.5L76.5 96.7L77.5 97.0L77.5 97.0L78.5 97.5L79.4 98.0L79.5 98.1L80.5 98.7L80.9 99.0L81.5 99.4L82.3 100.0L82.5 100.1L83.5 100.9L83.7 101.0L84.5 101.6L84.9 102.0L85.5 102.5L86.1 103.0L86.5 103.4L87.0 104.0L87.5 104.7L87.7 105.0L88.3 106.0L88.5 106.9L88.5 107.0L88.6 108.0L88.6 109.0L88.5 109.4L88.4 110.0L88.1 111.0L87.8 112.0L87.5 112.9L87.5 113.0L87.1 114.0L86.5 115.0L86.5 115.1L85.8 116.0L85.5 116.3L84.5 117.0L84.4 117.0L83.5 117.4L82.5 117.6L81.5 117.6L80.5 117.5L79.5 117.3L78.5 117.0L78.4 117.0L77.5 116.6L76.5 116.1L76.3 116.0L75.5 115.5L74.8 115.0L74.5 114.8L73.5 114.0L73.5 114.0L72.5 113.2L72.3 113.0L71.5 112.3L71.2 112.0L70.5 111.3L70.2 111.0L69.5 110.2L69.3 110.0L68.7 109.0L68.5 108.6L68.2 108.0L67.9 107.0L67.7 106.0L67.7 105.0L67.7 104.0L67.9 103.0L68.2 102.0L68.5 101.2L68.6 101.0L69.1 100.0L69.5 99.4L69.8 99.0L70.5 98.3L70.8 98.0L71.5 97.5L72.4 97.0Z" fill="#60ba6c"/>
<path d="M72.5 98.0L73.5 97.6L74.5 97.4L75.5 97.4L76.5 97.6L77.5 98.0L77.6 98.0L78.5 98.5L79.3 99.0L79.5 99.1L80.5 99.8L80.8 100.0L81.5 100.5L82.1 101.0L82.5 101.3L83.5 102.0L83.5 102.0L84.5 102.8L84.7 103.0L85.5 103.8L85.7 104.0L86.5 105.0L86.5 105.0L87.1 106.0L87.4 107.0L87.5 108.0L87.4 109.0L87.2 110.0L86.9 111.0L86.5 112.0L86.5 112.1L86.1 113.0L85.6 114.0L85.5 114.1L84.8 115.0L84.5 115.3L83.5 116.0L83.5 116.0L82.5 116.3L81.5 116.5L80.5 116.5L79.5 116.3L78.5 116.0L78.4 116.0L77.5 115.6L76.5 115.0L76.4 115.0L75.5 114.4L75.0 114.0L74.5 113.6L73.7 113.0L73.5 112.8L72.6 112.0L72.5 112.0L71.5 111.0L71.5 111.0L70.5 110.0L70.5 110.0L69.8 109.0L69.5 108.5L69.2 108.0L68.9 107.0L68.7 106.0L68.7 105.0L68.8 104.0L69.0 103.0L69.3 102.0L69.5 101.5L69.7 101.0L70.3 100.0L70.5 99.8L71.2 99.0L71.5 98.7L72.5 98.0Z" fill="#3ba458"/>
<path d="M73.5 98.7L74.5 98.4L75.5 98.4L76.5 98.6L77.5 99.0L77.5 99.0L78.5 99.6L79.1 100.0L79.5 100.3L80.5 101.0L80.5 101.0L81.5 101.8L81.8 102.0L82.5 102.5L83.1 103.0L83.5 103.3L84.3 104.0L84.5 104.2L85.2 105.0L85.5 105.5L85.8 106.0L86.1 107.0L86.3 108.0L86.2 109.0L85.9 110.0L85.6 111.0L85.5 111.1L85.1 112.0L84.5 113.0L84.5 113.1L83.7 114.0L83.5 114.2L82.5 114.9L82.3 115.0L81.5 115.2L80.5 115.3L79.5 115.2L78.8 115.0L78.5 114.9L77.5 114.4L76.7 114.0L76.5 113.9L75.5 113.1L75.3 113.0L74.5 112.3L74.1 112.0L73.5 111.5L72.9 111.0L72.5 110.6L71.9 110.0L71.5 109.6L71.0 109.0L70.5 108.2L70.4 108.0L70.0 107.0L69.8 106.0L69.7 105.0L69.8 104.0L70.1 103.0L70.4 102.0L70.5 101.8L70.9 101.0L71.5 100.2L71.6 100.0L72.5 99.2L72.8 99.0Z" fill="#228a44"/>
<path d="M73.5 100.0L74.5 99.6L75.5 99.6L76.5 99.8L76.9 100.0L77.5 100.3L78.5 101.0L78.6 101.0L79.5 101.8L79.8 102.0L80.5 102.5L81.1 103.0L81.5 103.3L82.4 104.0L82.5 104.1L83.5 105.0L83.5 105.0L84.3 106.0L84.5 106.5L84.7 107.0L84.8 108.0L84.7 109.0L84.5 109.6L84.3 110.0L83.9 111.0L83.5 111.7L83.3 112.0L82.5 112.9L82.4 113.0L81.5 113.6L80.5 113.8L79.5 113.8L78.5 113.5L77.5 113.0L77.4 113.0L76.5 112.4L76.0 112.0L75.5 111.6L74.8 111.0L74.5 110.8L73.6 110.0L73.5 109.9L72.6 109.0L72.5 108.9L71.8 108.0L71.5 107.5L71.3 107.0L71.0 106.0L71.0 105.0L71.1 104.0L71.3 103.0L71.5 102.5L71.7 102.0L72.3 101.0L72.5 100.8L73.4 100.0Z" fill="#077331"/>
<path d="M74.5 101.5L75.5 101.3L76.5 101.7L77.1 102.0L77.5 102.4L78.2 103.0L78.5 103.3L79.2 104.0L79.5 104.3L80.4 105.0L80.5 105.1L81.5 106.0L81.5 106.0L82.1 107.0L82.3 108.0L82.0 109.0L81.6 110.0L81.5 110.1L80.6 111.0L80.5 111.1L79.5 111.3L78.5 111.1L78.3 111.0L77.5 110.5L76.8 110.0L76.5 109.7L75.5 109.0L75.5 109.0L74.5 108.2L74.3 108.0L73.5 107.1L73.4 107.0L73.0 106.0L72.8 105.0L72.9 104.0L73.2 103.0L73.5 102.3L73.8 102.0Z" fill="#005321"/>
<circle cx="81.2" cy="106.7" r="1.8" fill="#245c31" fill-opacity="0.4" stroke="#163c1f" stroke-width="0.7"/><circle cx="74.3" cy="105.8" r="1.8" fill="#245c31" fill-opacity="0.4" stroke="#163c1f" stroke-width="0.7"/><circle cx="82.2" cy="113.2" r="1.8" fill="#245c31" fill-opacity="0.4" stroke="#163c1f" stroke-width="0.7"/><circle cx="81.5" cy="99.6" r="1.8" fill="#245c31" fill-opacity="0.4" stroke="#163c1f" stroke-width="0.7"/><circle cx="76.0" cy="100.8" r="1.8" fill="#245c31" fill-opacity="0.4" stroke="#163c1f" stroke-width="0.7"/><circle cx="82.7" cy="107.5" r="1.8" fill="#245c31" fill-opacity="0.4" stroke="#163c1f" stroke-width="0.7"/><circle cx="75.0" cy="108.4" r="1.8" fill="#245c31" fill-opacity="0.4" stroke="#163c1f" stroke-width="0.7"/><circle cx="74.9" cy="111.0" r="1.8" fill="#245c31" fill-opacity="0.4" stroke="#163c1f" stroke-width="0.7"/><circle cx="79.4" cy="110.0" r="1.8" fill="#245c31" fill-opacity="0.4" stroke="#163c1f" stroke-width="0.7"/><circle cx="72.4" cy="99.3" r="1.8" fill="#245c31" fill-opacity="0.4" stroke="#163c1f" stroke-width="0.7"/><circle cx="74.8" cy="103.1" r="1.8" fill="#245c31" fill-opacity="0.4" stroke="#163c1f" stroke-width="0.7"/><circle cx="80.0" cy="112.8" r="1.8" fill="#245c31" fill-opacity="0.4" stroke="#163c1f" stroke-width="0.7"/><circle cx="80.1" cy="113.9" r="1.8" fill="#245c31" fill-opacity="0.4" stroke="#163c1f" stroke-width="0.7"/><circle cx="84.4" cy="111.7" r="1.8" fill="#245c31" fill-opacity="0.4" stroke="#163c1f" stroke-width="0.7"/><circle cx="75.5" cy="106.6" r="1.8" fill="#245c31" fill-opacity="0.4" stroke="#163c1f" stroke-width="0.7"/><circle cx="77.5" cy="110.9" r="1.8" fill="#245c31" fill-opacity="0.4" stroke="#163c1f" stroke-width="0.7"/><circle cx="75.1" cy="102.2" r="1.8" fill="#245c31" fill-opacity="0.4" stroke="#163c1f" stroke-width="0.7"/><circle cx="79.4" cy="102.3" r="1.8" fill="#245c31" fill-opacity="0.4" stroke="#163c1f" stroke-width="0.7"/><circle cx="75.2" cy="97.6" r="1.8" fill="#245c31" fill-opacity="0.4" stroke="#163c1f" stroke-width="0.7"/><circle cx="74.0" cy="100.6" r="1.8" fill="#245c31" fill-opacity="0.4" stroke="#163c1f" stroke-width="0.7"/><circle cx="69.9" cy="107.5" r="1.8" fill="#245c31" fill-opacity="0.4" stroke="#163c1f" stroke-width="0.7"/><circle cx="85.9" cy="106.0" r="1.8" fill="#245c31" fill-opacity="0.4" stroke="#163c1f" stroke-width="0.7"/><circle cx="92.0" cy="106.0" r="1.8" fill="#245c31" fill-opacity="0.4" stroke="#163c1f" stroke-width="0.7"/><circle cx="79.0" cy="115.0" r="1.8" fill="#245c31" fill-opacity="0.4" stroke="#163c1f" stroke-width="0.7"/><circle cx="83.6" cy="118.0" r="1.8" fill="#245c31" fill-opacity="0.4" stroke="#163c1f" stroke-width="0.7"/><circle cx="89.7" cy="119.0" r="1.8" fill="#245c31" fill-opacity="0.4" stroke="#163c1f" stroke-width="0.7"/>
<path d="M104.9 112.3h3.4v3.4h-3.4zM134.9 132.9h3.4v3.4h-3.4zM103.7 121.7h3.4v3.4h-3.4zM132.7 133.7h3.4v3.4h-3.4zM131.2 138.0h3.4v3.4h-3.4zM101.8 111.0h3.4v3.4h-3.4zM114.3 113.7h3.4v3.4h-3.4zM125.4 111.5h3.4v3.4h-3.4zM129.5 123.2h3.4v3.4h-3.4zM131.8 109.5h3.4v3.4h-3.4zM128.6 127.2h3.4v3.4h-3.4zM125.7 128.6h3.4v3.4h-3.4zM113.7 109.8h3.4v3.4h-3.4zM134.8 117.6h3.4v3.4h-3.4zM128.4 123.5h3.4v3.4h-3.4zM111.8 100.5h3.4v3.4h-3.4zM139.0 138.1h3.4v3.4h-3.4zM126.5 105.5h3.4v3.4h-3.4zM106.2 124.4h3.4v3.4h-3.4zM114.2 117.9h3.4v3.4h-3.4zM141.0 124.1h3.4v3.4h-3.4zM107.3 118.3h3.4v3.4h-3.4zM125.5 113.3h3.4v3.4h-3.4zM136.8 124.1h3.4v3.4h-3.4zM136.9 114.5h3.4v3.4h-3.4zM142.3 117.9h3.4v3.4h-3.4zM143.5 132.0h3.4v3.4h-3.4zM130.0 117.9h3.4v3.4h-3.4zM125.1 133.8h3.4v3.4h-3.4zM105.4 110.2h3.4v3.4h-3.4zM107.5 110.6h3.4v3.4h-3.4zM123.3 136.2h3.4v3.4h-3.4zM131.9 115.2h3.4v3.4h-3.4zM134.6 125.7h3.4v3.4h-3.4zM146.2 124.5h3.4v3.4h-3.4zM146.0 134.4h3.4v3.4h-3.4zM123.6 132.3h3.4v3.4h-3.4zM119.6 110.4h3.4v3.4h-3.4zM134.0 124.2h3.4v3.4h-3.4zM128.3 116.8h3.4v3.4h-3.4zM115.5 125.8h3.4v3.4h-3.4zM143.8 133.3h3.4v3.4h-3.4zM114.5 111.5h3.4v3.4h-3.4zM122.6 122.1h3.4v3.4h-3.4zM119.7 119.5h3.4v3.4h-3.4zM122.5 119.2h3.4v3.4h-3.4zM140.0 121.5h3.4v3.4h-3.4zM144.4 133.3h3.4v3.4h-3.4zM111.0 118.5h3.4v3.4h-3.4zM112.2 115.8h3.4v3.4h-3.4zM122.2 134.5h3.4v3.4h-3.4zM131.6 125.9h3.4v3.4h-3.4zM148.4 132.1h3.4v3.4h-3.4zM119.6 110.4h3.4v3.4h-3.4zM148.7 134.2h3.4v3.4h-3.4zM106.7 113.6h3.4v3.4h-3.4zM111.2 118.6h3.4v3.4h-3.4zM101.7 118.7h3.4v3.4h-3.4zM125.2 136.0h3.4v3.4h-3.4zM134.1 129.3h3.4v3.4h-3.4zM127.6 111.6h3.4v3.4h-3.4zM117.9 126.2h3.4v3.4h-3.4zM101.9 117.7h3.4v3.4h-3.4zM140.7 130.2h3.4v3.4h-3.4zM119.7 124.3h3.4v3.4h-3.4zM137.1 123.9h3.4v3.4h-3.4zM134.9 111.5h3.4v3.4h-3.4zM133.1 130.6h3.4v3.4h-3.4zM136.9 130.3h3.4v3.4h-3.4zM127.1 111.5h3.4v3.4h-3.4zM135.3 119.2h3.4v3.4h-3.4zM133.7 120.5h3.4v3.4h-3.4zM117.2 100.8h3.4v3.4h-3.4zM137.8 128.9h3.4v3.4h-3.4zM116.3 107.6h3.4v3.4h-3.4zM130.5 125.7h3.4v3.4h-3.4zM110.4 105.2h3.4v3.4h-3.4zM129.2 119.9h3.4v3.4h-3.4zM118.8 118.5h3.4v3.4h-3.4zM124.3 105.4h3.4v3.4h-3.4zM138.8 124.5h3.4v3.4h-3.4zM117.5 122.3h3.4v3.4h-3.4zM138.2 112.9h3.4v3.4h-3.4zM103.7 111.5h3.4v3.4h-3.4zM122.3 105.9h3.4v3.4h-3.4zM116.8 118.0h3.4v3.4h-3.4zM129.0 109.5h3.4v3.4h-3.4zM131.2 124.8h3.4v3.4h-3.4zM142.8 137.6h3.4v3.4h-3.4zM105.2 106.4h3.4v3.4h-3.4zM87.3 46.3h3.4v3.4h-3.4zM122.1 48.3h3.4v3.4h-3.4zM127.3 51.3h3.4v3.4h-3.4zM118.6 76.5h3.4v3.4h-3.4zM124.9 77.5h3.4v3.4h-3.4zM147.0 84.9h3.4v3.4h-3.4zM158.3 57.3h3.4v3.4h-3.4zM101.0 91.2h3.4v3.4h-3.4zM132.9 91.2h3.4v3.4h-3.4zM117.7 100.6h3.4v3.4h-3.4zM96.1 102.0h3.4v3.4h-3.4zM97.1 108.8h3.4v3.4h-3.4zM160.3 109.3h3.4v3.4h-3.4zM143.7 108.0h3.4v3.4h-3.4zM150.5 113.7h3.4v3.4h-3.4zM91.2 119.6h3.4v3.4h-3.4zM157.8 125.1h3.4v3.4h-3.4zM161.1 129.0h3.4v3.4h-3.4zM165.2 138.3h3.4v3.4h-3.4zM137.6 147.2h3.4v3.4h-3.4zM187.1 146.0h3.4v3.4h-3.4zM91.3 119.1h3.4v3.4h-3.4z" fill="#e0182a"/><path d="M105.4 112.8l2.4 2.4M105.4 115.2l2.4 -2.4M135.4 133.4l2.4 2.4M135.4 135.8l2.4 -2.4M104.2 122.2l2.4 2.4M104.2 124.6l2.4 -2.4M133.2 134.2l2.4 2.4M133.2 136.6l2.4 -2.4M131.7 138.5l2.4 2.4M131.7 140.9l2.4 -2.4M102.3 111.5l2.4 2.4M102.3 113.9l2.4 -2.4M114.8 114.2l2.4 2.4M114.8 116.6l2.4 -2.4M125.9 112.0l2.4 2.4M125.9 114.4l2.4 -2.4M130.0 123.7l2.4 2.4M130.0 126.1l2.4 -2.4M132.3 110.0l2.4 2.4M132.3 112.4l2.4 -2.4M129.1 127.7l2.4 2.4M129.1 130.1l2.4 -2.4M126.2 129.1l2.4 2.4M126.2 131.5l2.4 -2.4M114.2 110.3l2.4 2.4M114.2 112.7l2.4 -2.4M135.3 118.1l2.4 2.4M135.3 120.5l2.4 -2.4M128.9 124.0l2.4 2.4M128.9 126.4l2.4 -2.4M112.3 101.0l2.4 2.4M112.3 103.4l2.4 -2.4M139.5 138.6l2.4 2.4M139.5 141.0l2.4 -2.4M127.0 106.0l2.4 2.4M127.0 108.4l2.4 -2.4M106.7 124.9l2.4 2.4M106.7 127.3l2.4 -2.4M114.7 118.4l2.4 2.4M114.7 120.8l2.4 -2.4M141.5 124.6l2.4 2.4M141.5 127.0l2.4 -2.4M107.8 118.8l2.4 2.4M107.8 121.2l2.4 -2.4M126.0 113.8l2.4 2.4M126.0 116.2l2.4 -2.4M137.3 124.6l2.4 2.4M137.3 127.0l2.4 -2.4M137.4 115.0l2.4 2.4M137.4 117.4l2.4 -2.4M142.8 118.4l2.4 2.4M142.8 120.8l2.4 -2.4M144.0 132.5l2.4 2.4M144.0 134.9l2.4 -2.4M130.5 118.4l2.4 2.4M130.5 120.8l2.4 -2.4M125.6 134.3l2.4 2.4M125.6 136.7l2.4 -2.4M105.9 110.7l2.4 2.4M105.9 113.1l2.4 -2.4M108.0 111.1l2.4 2.4M108.0 113.5l2.4 -2.4M123.8 136.7l2.4 2.4M123.8 139.1l2.4 -2.4M132.4 115.7l2.4 2.4M132.4 118.1l2.4 -2.4M135.1 126.2l2.4 2.4M135.1 128.6l2.4 -2.4M146.7 125.0l2.4 2.4M146.7 127.4l2.4 -2.4M146.5 134.9l2.4 2.4M146.5 137.3l2.4 -2.4M124.1 132.8l2.4 2.4M124.1 135.2l2.4 -2.4M120.1 110.9l2.4 2.4M120.1 113.3l2.4 -2.4M134.5 124.7l2.4 2.4M134.5 127.1l2.4 -2.4M128.8 117.3l2.4 2.4M128.8 119.7l2.4 -2.4M116.0 126.3l2.4 2.4M116.0 128.7l2.4 -2.4M144.3 133.8l2.4 2.4M144.3 136.2l2.4 -2.4M115.0 112.0l2.4 2.4M115.0 114.4l2.4 -2.4M123.1 122.6l2.4 2.4M123.1 125.0l2.4 -2.4M120.2 120.0l2.4 2.4M120.2 122.4l2.4 -2.4M123.0 119.7l2.4 2.4M123.0 122.1l2.4 -2.4M140.5 122.0l2.4 2.4M140.5 124.4l2.4 -2.4M144.9 133.8l2.4 2.4M144.9 136.2l2.4 -2.4M111.5 119.0l2.4 2.4M111.5 121.4l2.4 -2.4M112.7 116.3l2.4 2.4M112.7 118.7l2.4 -2.4M122.7 135.0l2.4 2.4M122.7 137.4l2.4 -2.4M132.1 126.4l2.4 2.4M132.1 128.8l2.4 -2.4M148.9 132.6l2.4 2.4M148.9 135.0l2.4 -2.4M120.1 110.9l2.4 2.4M120.1 113.3l2.4 -2.4M149.2 134.7l2.4 2.4M149.2 137.1l2.4 -2.4M107.2 114.1l2.4 2.4M107.2 116.5l2.4 -2.4M111.7 119.1l2.4 2.4M111.7 121.5l2.4 -2.4M102.2 119.2l2.4 2.4M102.2 121.6l2.4 -2.4M125.7 136.5l2.4 2.4M125.7 138.9l2.4 -2.4M134.6 129.8l2.4 2.4M134.6 132.2l2.4 -2.4M128.1 112.1l2.4 2.4M128.1 114.5l2.4 -2.4M118.4 126.7l2.4 2.4M118.4 129.1l2.4 -2.4M102.4 118.2l2.4 2.4M102.4 120.6l2.4 -2.4M141.2 130.7l2.4 2.4M141.2 133.1l2.4 -2.4M120.2 124.8l2.4 2.4M120.2 127.2l2.4 -2.4M137.6 124.4l2.4 2.4M137.6 126.8l2.4 -2.4M135.4 112.0l2.4 2.4M135.4 114.4l2.4 -2.4M133.6 131.1l2.4 2.4M133.6 133.5l2.4 -2.4M137.4 130.8l2.4 2.4M137.4 133.2l2.4 -2.4M127.6 112.0l2.4 2.4M127.6 114.4l2.4 -2.4M135.8 119.7l2.4 2.4M135.8 122.1l2.4 -2.4M134.2 121.0l2.4 2.4M134.2 123.4l2.4 -2.4M117.7 101.3l2.4 2.4M117.7 103.7l2.4 -2.4M138.3 129.4l2.4 2.4M138.3 131.8l2.4 -2.4M116.8 108.1l2.4 2.4M116.8 110.5l2.4 -2.4M131.0 126.2l2.4 2.4M131.0 128.6l2.4 -2.4M110.9 105.7l2.4 2.4M110.9 108.1l2.4 -2.4M129.7 120.4l2.4 2.4M129.7 122.8l2.4 -2.4M119.3 119.0l2.4 2.4M119.3 121.4l2.4 -2.4M124.8 105.9l2.4 2.4M124.8 108.3l2.4 -2.4M139.3 125.0l2.4 2.4M139.3 127.4l2.4 -2.4M118.0 122.8l2.4 2.4M118.0 125.2l2.4 -2.4M138.7 113.4l2.4 2.4M138.7 115.8l2.4 -2.4M104.2 112.0l2.4 2.4M104.2 114.4l2.4 -2.4M122.8 106.4l2.4 2.4M122.8 108.8l2.4 -2.4M117.3 118.5l2.4 2.4M117.3 120.9l2.4 -2.4M129.5 110.0l2.4 2.4M129.5 112.4l2.4 -2.4M131.7 125.3l2.4 2.4M131.7 127.7l2.4 -2.4M143.3 138.1l2.4 2.4M143.3 140.5l2.4 -2.4M105.7 106.9l2.4 2.4M105.7 109.3l2.4 -2.4M87.8 46.8l2.4 2.4M87.8 49.2l2.4 -2.4M122.6 48.8l2.4 2.4M122.6 51.2l2.4 -2.4M127.8 51.8l2.4 2.4M127.8 54.2l2.4 -2.4M119.1 77.0l2.4 2.4M119.1 79.4l2.4 -2.4M125.4 78.0l2.4 2.4M125.4 80.4l2.4 -2.4M147.5 85.4l2.4 2.4M147.5 87.8l2.4 -2.4M158.8 57.8l2.4 2.4M158.8 60.2l2.4 -2.4M101.5 91.7l2.4 2.4M101.5 94.1l2.4 -2.4M133.4 91.7l2.4 2.4M133.4 94.1l2.4 -2.4M118.2 101.1l2.4 2.4M118.2 103.5l2.4 -2.4M96.6 102.5l2.4 2.4M96.6 104.9l2.4 -2.4M97.6 109.3l2.4 2.4M97.6 111.7l2.4 -2.4M160.8 109.8l2.4 2.4M160.8 112.2l2.4 -2.4M144.2 108.5l2.4 2.4M144.2 110.9l2.4 -2.4M151.0 114.2l2.4 2.4M151.0 116.6l2.4 -2.4M91.7 120.1l2.4 2.4M91.7 122.5l2.4 -2.4M158.3 125.6l2.4 2.4M158.3 128.0l2.4 -2.4M161.6 129.5l2.4 2.4M161.6 131.9l2.4 -2.4M165.7 138.8l2.4 2.4M165.7 141.2l2.4 -2.4M138.1 147.7l2.4 2.4M138.1 150.1l2.4 -2.4M187.6 146.5l2.4 2.4M187.6 148.9l2.4 -2.4M91.8 119.6l2.4 2.4M91.8 122.0l2.4 -2.4" stroke="#7a1420" stroke-width="0.6" opacity="0.75" fill="none"/>
<ellipse cx="107.5" cy="114.5" rx="3" ry="2.2" fill="#f4eeee" stroke="#2a4a30" stroke-width="0.6"/>
</g>
<text x="92.5" y="197.5" text-anchor="middle" class="tk">1</text>
<text x="169.0" y="197.5" text-anchor="middle" class="tk">2</text>
<text x="46.9" y="36.7" text-anchor="end" class="tk">1.00</text>
<text x="46.9" y="70.6" text-anchor="end" class="tk">0.75</text>
<text x="46.9" y="104.5" text-anchor="end" class="tk">0.50</text>
<text x="46.9" y="138.4" text-anchor="end" class="tk">0.25</text>
<text x="46.9" y="172.3" text-anchor="end" class="tk">0.00</text>
<text x="136.0" y="9.5" text-anchor="middle" class="ti"><tspan font-style="italic">v</tspan><tspan font-size="11" dy="2.2" dx="0.8">1</tspan></text>
<text x="135.0" y="217.7" text-anchor="middle" class="lb"><tspan font-style="italic">&#945;</tspan><tspan font-size="13" dy="3.3" dx="1">1</tspan></text>
<text transform="translate(10.9,99.3) rotate(-90)" text-anchor="middle" class="lb"><tspan font-style="italic">&#947;</tspan><tspan font-size="13" dy="3.3" dx="1">1</tspan></text>
<rect x="288.2" y="17" width="162.2" height="162" fill="#EAEAF2"/>
<g clip-path="url(#c1)">
<line x1="336.7" y1="17" x2="336.7" y2="179" stroke="#fff" stroke-width="1.2"/>
<line x1="389.2" y1="17" x2="389.2" y2="179" stroke="#fff" stroke-width="1.2"/>
<line x1="441.7" y1="17" x2="441.7" y2="179" stroke="#fff" stroke-width="1.2"/>
<line x1="288.2" y1="21.2" x2="450.4" y2="21.2" stroke="#fff" stroke-width="1.2"/>
<line x1="288.2" y1="54.1" x2="450.4" y2="54.1" stroke="#fff" stroke-width="1.2"/>
<line x1="288.2" y1="87.0" x2="450.4" y2="87.0" stroke="#fff" stroke-width="1.2"/>
<line x1="288.2" y1="119.9" x2="450.4" y2="119.9" stroke="#fff" stroke-width="1.2"/>
<line x1="288.2" y1="152.8" x2="450.4" y2="152.8" stroke="#fff" stroke-width="1.2"/>
<path d="M400.2 68.0L400.2 68.0L401.2 68.2L402.2 68.7L402.5 69.0L403.2 69.6L403.6 70.0L404.2 70.8L404.3 71.0L404.9 72.0L405.2 72.7L405.3 73.0L405.6 74.0L405.8 75.0L405.9 76.0L406.0 77.0L406.0 78.0L406.0 79.0L405.9 80.0L405.9 81.0L405.8 82.0L405.7 83.0L405.5 84.0L405.3 85.0L405.2 85.7L405.1 86.0L404.9 87.0L404.6 88.0L404.3 89.0L404.2 89.4L404.0 90.0L403.7 91.0L403.4 92.0L403.2 92.7L403.1 93.0L402.8 94.0L402.6 95.0L402.4 96.0L402.3 97.0L402.2 98.0L402.3 99.0L402.6 100.0L403.0 101.0L403.2 101.4L403.6 102.0L404.2 102.9L404.3 103.0L405.0 104.0L405.2 104.3L405.6 105.0L406.2 106.0L406.2 106.1L406.6 107.0L406.9 108.0L407.1 109.0L407.2 109.5L407.3 110.0L407.5 111.0L407.6 112.0L407.9 113.0L408.1 114.0L408.2 114.2L408.5 115.0L408.9 116.0L409.2 116.5L409.5 117.0L410.2 117.9L410.3 118.0L411.2 118.8L411.5 119.0L412.2 119.4L413.2 119.9L413.4 120.0L414.2 120.3L415.2 120.7L415.9 121.0L416.2 121.1L417.2 121.5L418.1 122.0L418.2 122.0L419.2 122.6L419.8 123.0L420.2 123.3L421.1 124.0L421.2 124.1L422.1 125.0L422.2 125.1L422.9 126.0L423.2 126.4L423.6 127.0L424.1 128.0L424.2 128.3L424.5 129.0L424.7 130.0L424.9 131.0L425.0 132.0L424.9 133.0L424.7 134.0L424.5 135.0L424.2 135.7L424.1 136.0L423.6 137.0L423.2 137.7L423.0 138.0L422.3 139.0L422.2 139.2L421.6 140.0L421.2 140.4L420.7 141.0L420.2 141.5L419.8 142.0L419.2 142.6L418.8 143.0L418.2 143.6L417.9 144.0L417.2 144.7L416.9 145.0L416.2 145.8L416.1 146.0L415.2 147.0L415.2 147.0L414.4 148.0L414.2 148.3L413.7 149.0L413.2 149.6L412.9 150.0L412.2 151.0L412.2 151.0L411.5 152.0L411.2 152.4L410.7 153.0L410.2 153.7L410.0 154.0L409.2 154.9L409.2 155.0L408.3 156.0L408.2 156.1L407.3 157.0L407.2 157.1L406.2 158.0L406.2 158.0L405.2 158.8L404.9 159.0L404.2 159.5L403.4 160.0L403.2 160.1L402.2 160.7L401.5 161.0L401.2 161.1L400.2 161.6L399.2 161.9L399.0 162.0L398.2 162.3L397.2 162.6L396.2 162.8L395.2 163.0L395.2 163.0L394.2 163.2L393.2 163.3L392.2 163.4L391.2 163.5L390.2 163.5L389.2 163.5L388.2 163.5L387.2 163.5L386.2 163.4L385.2 163.3L384.2 163.2L383.2 163.0L383.0 163.0L382.2 162.9L381.2 162.7L380.2 162.5L379.2 162.2L378.3 162.0L378.2 162.0L377.2 161.7L376.2 161.4L375.2 161.1L374.9 161.0L374.2 160.8L373.2 160.4L372.2 160.0L372.2 160.0L371.2 159.6L370.2 159.2L369.8 159.0L369.2 158.8L368.2 158.3L367.6 158.0L367.2 157.8L366.2 157.3L365.6 157.0L365.2 156.8L364.2 156.2L363.8 156.0L363.2 155.6L362.2 155.0L362.2 155.0L361.2 154.4L360.6 154.0L360.2 153.8L359.2 153.1L359.1 153.0L358.2 152.4L357.7 152.0L357.2 151.6L356.4 151.0L356.2 150.9L355.2 150.1L355.1 150.0L354.2 149.3L353.9 149.0L353.2 148.4L352.7 148.0L352.2 147.6L351.6 147.0L351.2 146.7L350.5 146.0L350.2 145.7L349.4 145.0L349.2 144.8L348.4 144.0L348.2 143.8L347.3 143.0L347.2 142.9L346.3 142.0L346.2 141.9L345.2 141.0L345.2 141.0L344.2 140.1L344.1 140.0L343.2 139.2L343.0 139.0L342.2 138.3L341.8 138.0L341.2 137.4L340.7 137.0L340.2 136.6L339.5 136.0L339.2 135.7L338.3 135.0L338.2 134.9L337.2 134.1L337.1 134.0L336.2 133.3L335.8 133.0L335.2 132.5L334.6 132.0L334.2 131.7L333.3 131.0L333.2 130.9L332.2 130.1L332.1 130.0L331.2 129.1L331.0 129.0L330.2 128.1L330.1 128.0L329.3 127.0L329.2 126.9L328.6 126.0L328.2 125.3L328.0 125.0L327.5 124.0L327.2 123.0L327.2 123.0L326.9 122.0L326.7 121.0L326.5 120.0L326.4 119.0L326.3 118.0L326.2 117.6L326.1 117.0L325.9 116.0L325.6 115.0L325.2 114.0L325.2 114.0L324.6 113.0L324.2 112.6L323.7 112.0L323.2 111.5L322.6 111.0L322.2 110.7L321.3 110.0L321.2 109.9L320.2 109.1L320.0 109.0L319.2 108.3L318.8 108.0L318.2 107.4L317.8 107.0L317.2 106.4L316.9 106.0L316.2 105.2L316.1 105.0L315.4 104.0L315.2 103.6L314.9 103.0L314.5 102.0L314.2 101.2L314.1 101.0L313.9 100.0L313.8 99.0L313.7 98.0L313.8 97.0L313.9 96.0L314.1 95.0L314.2 94.8L314.5 94.0L314.9 93.0L315.2 92.5L315.5 92.0L316.2 91.0L316.2 91.0L317.0 90.0L317.2 89.8L318.0 89.0L318.2 88.8L319.1 88.0L319.2 87.9L320.2 87.1L320.3 87.0L321.2 86.3L321.7 86.0L322.2 85.6L323.1 85.0L323.2 84.9L324.2 84.2L324.6 84.0L325.2 83.6L326.2 83.1L326.4 83.0L327.2 82.7L328.2 82.5L329.2 82.6L330.1 83.0L330.2 83.0L331.2 83.7L331.5 84.0L332.2 84.5L332.7 85.0L333.2 85.3L334.0 86.0L334.2 86.1L335.2 86.7L335.7 87.0L336.2 87.2L337.2 87.6L338.2 87.9L338.6 88.0L339.2 88.1L340.2 88.3L341.2 88.3L342.2 88.4L343.2 88.4L344.2 88.4L345.2 88.3L346.2 88.2L347.2 88.1L348.2 88.0L348.5 88.0L349.2 87.9L350.2 87.8L351.2 87.7L352.2 87.6L353.2 87.5L354.2 87.4L355.2 87.3L356.2 87.3L357.2 87.3L358.2 87.4L359.2 87.5L360.2 87.6L361.2 87.8L362.2 88.0L362.2 88.0L363.2 88.3L364.2 88.6L365.2 88.9L365.4 89.0L366.2 89.3L367.2 89.7L367.9 90.0L368.2 90.1L369.2 90.6L370.2 91.0L370.2 91.0L371.2 91.4L372.2 91.8L372.6 92.0L373.2 92.2L374.2 92.5L375.2 92.8L376.2 93.0L376.2 93.0L377.2 93.1L378.2 93.0L378.3 93.0L379.2 92.8L380.2 92.2L380.5 92.0L381.2 91.3L381.4 91.0L382.2 90.0L382.2 90.0L382.8 89.0L383.2 88.3L383.4 88.0L383.9 87.0L384.2 86.6L384.5 86.0L385.1 85.0L385.2 84.8L385.7 84.0L386.2 83.1L386.3 83.0L386.9 82.0L387.2 81.5L387.5 81.0L388.1 80.0L388.2 79.9L388.8 79.0L389.2 78.5L389.6 78.0L390.2 77.2L390.3 77.0L391.1 76.0L391.2 75.9L392.0 75.0L392.2 74.7L392.8 74.0L393.2 73.5L393.7 73.0L394.2 72.4L394.6 72.0L395.2 71.2L395.4 71.0L396.2 70.1L396.4 70.0L397.2 69.2L397.5 69.0L398.2 68.5L399.2 68.1L400.2 68.0Z" fill="#fed9c9"/>
<path d="M396.2 80.8L397.2 80.9L397.5 81.0L398.2 81.4L398.7 82.0L399.2 82.9L399.2 83.0L399.5 84.0L399.5 85.0L399.5 86.0L399.3 87.0L399.2 87.4L399.0 88.0L398.7 89.0L398.3 90.0L398.2 90.2L397.8 91.0L397.3 92.0L397.2 92.1L396.7 93.0L396.2 93.8L396.0 94.0L395.3 95.0L395.2 95.2L394.5 96.0L394.2 96.4L393.5 97.0L393.2 97.4L392.5 98.0L392.2 98.3L391.3 99.0L391.2 99.1L390.5 100.0L390.4 101.0L390.7 102.0L391.2 102.8L391.3 103.0L392.0 104.0L392.2 104.2L392.8 105.0L393.2 105.4L393.8 106.0L394.2 106.4L394.9 107.0L395.2 107.3L396.0 108.0L396.2 108.2L397.1 109.0L397.2 109.1L398.2 110.0L398.2 110.0L399.1 111.0L399.2 111.1L399.9 112.0L400.2 112.4L400.6 113.0L401.2 114.0L401.2 114.0L401.8 115.0L402.2 115.9L402.3 116.0L402.7 117.0L403.2 118.0L403.2 118.0L403.7 119.0L404.1 120.0L404.2 120.1L404.7 121.0L405.2 122.0L405.2 122.0L405.9 123.0L406.2 123.4L406.8 124.0L407.2 124.4L408.0 125.0L408.2 125.1L409.2 125.7L410.1 126.0L410.2 126.0L411.2 126.3L412.2 126.6L413.2 126.8L413.9 127.0L414.2 127.1L415.2 127.5L416.2 128.0L416.2 128.0L417.2 128.8L417.4 129.0L418.1 130.0L418.2 130.1L418.6 131.0L418.8 132.0L418.8 133.0L418.6 134.0L418.3 135.0L418.2 135.2L417.8 136.0L417.2 136.9L417.1 137.0L416.4 138.0L416.2 138.2L415.6 139.0L415.2 139.4L414.7 140.0L414.2 140.6L413.8 141.0L413.2 141.7L413.0 142.0L412.2 142.9L412.1 143.0L411.3 144.0L411.2 144.1L410.5 145.0L410.2 145.4L409.7 146.0L409.2 146.7L409.0 147.0L408.2 148.0L408.2 148.0L407.4 149.0L407.2 149.3L406.7 150.0L406.2 150.6L405.8 151.0L405.2 151.7L405.0 152.0L404.2 152.8L404.0 153.0L403.2 153.8L402.9 154.0L402.2 154.6L401.7 155.0L401.2 155.4L400.3 156.0L400.2 156.1L399.2 156.6L398.5 157.0L398.2 157.1L397.2 157.6L396.2 158.0L396.1 158.0L395.2 158.3L394.2 158.6L393.2 158.8L392.2 159.0L392.2 159.0L391.2 159.1L390.2 159.3L389.2 159.3L388.2 159.4L387.2 159.4L386.2 159.4L385.2 159.3L384.2 159.2L383.2 159.1L382.4 159.0L382.2 159.0L381.2 158.8L380.2 158.6L379.2 158.4L378.2 158.2L377.5 158.0L377.2 157.9L376.2 157.6L375.2 157.3L374.3 157.0L374.2 157.0L373.2 156.6L372.2 156.2L371.6 156.0L371.2 155.8L370.2 155.4L369.3 155.0L369.2 154.9L368.2 154.5L367.3 154.0L367.2 153.9L366.2 153.4L365.5 153.0L365.2 152.9L364.2 152.3L363.8 152.0L363.2 151.7L362.2 151.0L362.2 151.0L361.2 150.4L360.7 150.0L360.2 149.7L359.3 149.0L359.2 148.9L358.2 148.2L358.0 148.0L357.2 147.4L356.8 147.0L356.2 146.5L355.6 146.0L355.2 145.7L354.5 145.0L354.2 144.8L353.4 144.0L353.2 143.8L352.3 143.0L352.2 142.9L351.3 142.0L351.2 141.9L350.3 141.0L350.2 140.9L349.3 140.0L349.2 139.9L348.3 139.0L348.2 138.9L347.2 138.0L347.2 138.0L346.2 137.0L346.2 137.0L345.2 136.1L345.1 136.0L344.2 135.1L344.1 135.0L343.2 134.2L343.0 134.0L342.2 133.2L341.9 133.0L341.2 132.3L340.9 132.0L340.2 131.4L339.8 131.0L339.2 130.5L338.7 130.0L338.2 129.6L337.6 129.0L337.2 128.6L336.5 128.0L336.2 127.7L335.5 127.0L335.2 126.7L334.5 126.0L334.2 125.6L333.7 125.0L333.2 124.2L333.1 124.0L332.5 123.0L332.2 122.1L332.2 122.0L331.9 121.0L331.7 120.0L331.7 119.0L331.7 118.0L331.7 117.0L331.8 116.0L331.8 115.0L331.8 114.0L331.7 113.0L331.5 112.0L331.2 111.0L331.2 111.0L330.7 110.0L330.2 109.3L330.0 109.0L329.2 108.2L328.9 108.0L328.2 107.4L327.5 107.0L327.2 106.8L326.2 106.2L325.8 106.0L325.2 105.6L324.2 105.0L324.2 105.0L323.2 104.3L322.9 104.0L322.2 103.4L321.9 103.0L321.2 102.1L321.1 102.0L320.6 101.0L320.2 100.0L320.2 100.0L320.0 99.0L320.0 98.0L320.2 97.0L320.2 96.9L320.6 96.0L321.2 95.0L321.2 95.0L322.2 94.0L322.2 94.0L323.2 93.4L324.1 93.0L324.2 93.0L325.2 92.7L326.2 92.7L327.2 92.7L328.2 92.9L328.8 93.0L329.2 93.1L330.2 93.4L331.2 93.6L332.2 93.9L332.6 94.0L333.2 94.1L334.2 94.3L335.2 94.4L336.2 94.4L337.2 94.4L338.2 94.3L339.2 94.2L340.2 94.0L340.3 94.0L341.2 93.8L342.2 93.6L343.2 93.4L344.2 93.2L345.1 93.0L345.2 93.0L346.2 92.8L347.2 92.5L348.2 92.3L349.2 92.1L349.8 92.0L350.2 91.9L351.2 91.7L352.2 91.6L353.2 91.4L354.2 91.3L355.2 91.2L356.2 91.2L357.2 91.2L358.2 91.2L359.2 91.3L360.2 91.4L361.2 91.6L362.2 91.8L362.7 92.0L363.2 92.1L364.2 92.5L365.2 92.8L365.7 93.0L366.2 93.2L367.2 93.6L368.1 94.0L368.2 94.1L369.2 94.5L370.2 95.0L370.3 95.0L371.2 95.4L372.2 95.9L372.5 96.0L373.2 96.3L374.2 96.8L374.7 97.0L375.2 97.2L376.2 97.7L377.0 98.0L377.2 98.1L378.2 98.5L379.2 98.8L379.8 99.0L380.2 99.1L381.2 99.4L382.2 99.6L383.2 99.7L384.2 99.8L385.2 99.7L386.2 99.5L387.1 99.0L387.2 98.9L387.7 98.0L387.7 97.0L387.7 96.0L387.7 95.0L387.8 94.0L387.9 93.0L388.1 92.0L388.2 91.6L388.4 91.0L388.7 90.0L389.0 89.0L389.2 88.6L389.5 88.0L390.0 87.0L390.2 86.5L390.5 86.0L391.1 85.0L391.2 84.8L391.8 84.0L392.2 83.5L392.6 83.0L393.2 82.4L393.7 82.0L394.2 81.6L395.2 81.1L395.4 81.0Z" fill="#fcbba1"/>
<path d="M352.2 94.9L353.2 94.6L354.2 94.5L355.2 94.3L356.2 94.2L357.2 94.2L358.2 94.2L359.2 94.3L360.2 94.4L361.2 94.6L362.2 94.8L362.8 95.0L363.2 95.1L364.2 95.4L365.2 95.8L365.8 96.0L366.2 96.1L367.2 96.5L368.2 97.0L368.2 97.0L369.2 97.4L370.2 97.9L370.4 98.0L371.2 98.4L372.2 98.9L372.5 99.0L373.2 99.4L374.2 99.9L374.4 100.0L375.2 100.5L376.1 101.0L376.2 101.0L377.2 101.6L377.9 102.0L378.2 102.2L379.2 102.8L379.6 103.0L380.2 103.4L381.2 104.0L381.3 104.0L382.2 104.5L383.0 105.0L383.2 105.1L384.2 105.7L384.8 106.0L385.2 106.2L386.2 106.8L386.4 107.0L387.2 107.5L388.0 108.0L388.2 108.1L389.2 108.8L389.5 109.0L390.2 109.5L390.9 110.0L391.2 110.2L392.2 111.0L392.2 111.0L393.2 111.8L393.4 112.0L394.2 112.7L394.5 113.0L395.2 113.6L395.6 114.0L396.2 114.7L396.5 115.0L397.2 115.9L397.2 116.0L397.9 117.0L398.2 117.4L398.6 118.0L399.1 119.0L399.2 119.1L399.6 120.0L400.1 121.0L400.2 121.2L400.6 122.0L401.0 123.0L401.2 123.3L401.5 124.0L402.0 125.0L402.2 125.4L402.5 126.0L403.0 127.0L403.2 127.3L403.7 128.0L404.2 128.8L404.3 129.0L405.1 130.0L405.2 130.1L406.0 131.0L406.2 131.2L407.0 132.0L407.2 132.2L408.0 133.0L408.2 133.3L408.7 134.0L409.2 135.0L409.2 135.0L409.4 136.0L409.3 137.0L409.2 137.5L409.1 138.0L408.7 139.0L408.3 140.0L408.2 140.2L407.8 141.0L407.3 142.0L407.2 142.1L406.7 143.0L406.2 143.8L406.1 144.0L405.4 145.0L405.2 145.4L404.8 146.0L404.2 146.8L404.1 147.0L403.3 148.0L403.2 148.2L402.5 149.0L402.2 149.4L401.6 150.0L401.2 150.5L400.6 151.0L400.2 151.4L399.5 152.0L399.2 152.2L398.2 153.0L398.2 153.0L397.2 153.6L396.5 154.0L396.2 154.2L395.2 154.6L394.3 155.0L394.2 155.0L393.2 155.4L392.2 155.6L391.2 155.9L390.5 156.0L390.2 156.1L389.2 156.2L388.2 156.3L387.2 156.4L386.2 156.4L385.2 156.4L384.2 156.3L383.2 156.2L382.2 156.1L381.3 156.0L381.2 156.0L380.2 155.8L379.2 155.6L378.2 155.4L377.2 155.2L376.7 155.0L376.2 154.9L375.2 154.6L374.2 154.2L373.6 154.0L373.2 153.9L372.2 153.5L371.2 153.1L371.1 153.0L370.2 152.6L369.2 152.2L368.9 152.0L368.2 151.7L367.2 151.1L367.0 151.0L366.2 150.6L365.2 150.0L365.2 150.0L364.2 149.4L363.6 149.0L363.2 148.7L362.2 148.1L362.1 148.0L361.2 147.3L360.7 147.0L360.2 146.6L359.4 146.0L359.2 145.8L358.2 145.0L358.2 145.0L357.2 144.1L357.1 144.0L356.2 143.2L355.9 143.0L355.2 142.3L354.9 142.0L354.2 141.3L353.9 141.0L353.2 140.3L352.9 140.0L352.2 139.3L351.9 139.0L351.2 138.3L350.9 138.0L350.2 137.2L350.0 137.0L349.2 136.2L349.0 136.0L348.2 135.1L348.1 135.0L347.2 134.1L347.1 134.0L346.2 133.0L346.2 133.0L345.2 132.0L345.2 132.0L344.3 131.0L344.2 130.9L343.4 130.0L343.2 129.8L342.5 129.0L342.2 128.6L341.6 128.0L341.2 127.4L340.8 127.0L340.2 126.2L340.0 126.0L339.3 125.0L339.2 124.8L338.6 124.0L338.2 123.2L338.1 123.0L337.7 122.0L337.4 121.0L337.2 120.0L337.2 120.0L337.1 119.0L337.2 118.0L337.2 117.6L337.3 117.0L337.4 116.0L337.5 115.0L337.5 114.0L337.6 113.0L337.6 112.0L337.6 111.0L337.5 110.0L337.4 109.0L337.4 108.0L337.3 107.0L337.4 106.0L337.5 105.0L337.7 104.0L338.1 103.0L338.2 102.9L338.7 102.0L339.2 101.5L339.6 101.0L340.2 100.5L340.7 100.0L341.2 99.7L342.1 99.0L342.2 98.9L343.2 98.3L343.8 98.0L344.2 97.8L345.2 97.3L345.8 97.0L346.2 96.8L347.2 96.4L348.2 96.0L348.3 96.0L349.2 95.7L350.2 95.4L351.2 95.1L351.6 95.0Z" fill="#fc9b7c"/>
<path d="M353.2 97.8L354.2 97.5L355.2 97.3L356.2 97.2L357.2 97.1L358.2 97.1L359.2 97.1L360.2 97.2L361.2 97.3L362.2 97.5L363.2 97.8L364.0 98.0L364.2 98.1L365.2 98.4L366.2 98.7L366.9 99.0L367.2 99.1L368.2 99.5L369.2 100.0L369.2 100.0L370.2 100.5L371.2 101.0L371.3 101.0L372.2 101.5L373.1 102.0L373.2 102.1L374.2 102.7L374.7 103.0L375.2 103.3L376.2 104.0L376.3 104.0L377.2 104.6L377.7 105.0L378.2 105.3L379.2 106.0L379.2 106.0L380.2 106.7L380.6 107.0L381.2 107.4L382.1 108.0L382.2 108.1L383.2 108.7L383.6 109.0L384.2 109.4L385.1 110.0L385.2 110.1L386.2 110.7L386.6 111.0L387.2 111.4L388.0 112.0L388.2 112.2L389.2 112.9L389.3 113.0L390.2 113.7L390.5 114.0L391.2 114.6L391.6 115.0L392.2 115.6L392.6 116.0L393.2 116.6L393.6 117.0L394.2 117.7L394.4 118.0L395.2 119.0L395.2 119.1L395.8 120.0L396.2 120.6L396.4 121.0L397.0 122.0L397.2 122.4L397.5 123.0L398.0 124.0L398.2 124.5L398.4 125.0L398.9 126.0L399.2 126.8L399.3 127.0L399.8 128.0L400.2 129.0L400.2 129.0L400.7 130.0L401.1 131.0L401.2 131.2L401.6 132.0L402.0 133.0L402.2 133.4L402.5 134.0L402.8 135.0L403.1 136.0L403.2 136.4L403.3 137.0L403.4 138.0L403.4 139.0L403.2 140.0L403.2 140.1L403.0 141.0L402.7 142.0L402.2 143.0L402.2 143.1L401.7 144.0L401.2 145.0L401.2 145.0L400.5 146.0L400.2 146.4L399.8 147.0L399.2 147.7L399.0 148.0L398.2 148.8L398.0 149.0L397.2 149.7L396.8 150.0L396.2 150.5L395.4 151.0L395.2 151.1L394.2 151.7L393.6 152.0L393.2 152.2L392.2 152.6L391.2 152.9L390.9 153.0L390.2 153.2L389.2 153.4L388.2 153.6L387.2 153.7L386.2 153.8L385.2 153.8L384.2 153.8L383.2 153.8L382.2 153.7L381.2 153.6L380.2 153.4L379.2 153.2L378.2 153.0L378.1 153.0L377.2 152.8L376.2 152.5L375.2 152.2L374.6 152.0L374.2 151.9L373.2 151.5L372.2 151.1L371.9 151.0L371.2 150.7L370.2 150.2L369.7 150.0L369.2 149.8L368.2 149.3L367.7 149.0L367.2 148.7L366.2 148.1L366.0 148.0L365.2 147.5L364.4 147.0L364.2 146.9L363.2 146.2L362.9 146.0L362.2 145.5L361.6 145.0L361.2 144.7L360.3 144.0L360.2 143.9L359.2 143.1L359.1 143.0L358.2 142.2L358.0 142.0L357.2 141.2L356.9 141.0L356.2 140.3L355.9 140.0L355.2 139.3L355.0 139.0L354.2 138.2L354.0 138.0L353.2 137.1L353.1 137.0L352.2 136.0L352.2 136.0L351.3 135.0L351.2 134.9L350.4 134.0L350.2 133.7L349.6 133.0L349.2 132.6L348.7 132.0L348.2 131.4L347.9 131.0L347.2 130.1L347.1 130.0L346.4 129.0L346.2 128.7L345.7 128.0L345.2 127.2L345.1 127.0L344.5 126.0L344.2 125.4L344.0 125.0L343.6 124.0L343.2 123.0L343.2 122.9L342.9 122.0L342.7 121.0L342.6 120.0L342.5 119.0L342.5 118.0L342.4 117.0L342.4 116.0L342.3 115.0L342.3 114.0L342.2 113.0L342.2 112.4L342.2 112.0L342.1 111.0L342.1 110.0L342.2 109.0L342.2 108.8L342.3 108.0L342.5 107.0L342.8 106.0L343.2 105.0L343.2 105.0L343.8 104.0L344.2 103.4L344.5 103.0L345.2 102.3L345.5 102.0L346.2 101.4L346.7 101.0L347.2 100.6L348.1 100.0L348.2 100.0L349.2 99.4L349.9 99.0L350.2 98.9L351.2 98.5L352.2 98.1L352.4 98.0Z" fill="#fb7a5a"/>
<path d="M357.2 100.0L358.2 99.9L359.2 99.9L360.2 99.9L361.0 100.0L361.2 100.0L362.2 100.2L363.2 100.4L364.2 100.6L365.2 100.9L365.5 101.0L366.2 101.2L367.2 101.6L368.2 102.0L368.2 102.0L369.2 102.4L370.2 102.9L370.3 103.0L371.2 103.5L372.1 104.0L372.2 104.1L373.2 104.7L373.7 105.0L374.2 105.4L375.1 106.0L375.2 106.1L376.2 106.8L376.5 107.0L377.2 107.5L377.8 108.0L378.2 108.3L379.1 109.0L379.2 109.1L380.2 109.8L380.5 110.0L381.2 110.5L381.9 111.0L382.2 111.2L383.2 112.0L383.3 112.0L384.2 112.7L384.6 113.0L385.2 113.4L386.0 114.0L386.2 114.2L387.2 115.0L387.2 115.0L388.2 115.8L388.4 116.0L389.2 116.8L389.5 117.0L390.2 117.7L390.5 118.0L391.2 118.8L391.4 119.0L392.2 120.0L392.2 120.0L392.9 121.0L393.2 121.4L393.6 122.0L394.2 122.9L394.2 123.0L394.8 124.0L395.2 124.8L395.3 125.0L395.8 126.0L396.2 126.9L396.3 127.0L396.7 128.0L397.1 129.0L397.2 129.3L397.5 130.0L397.9 131.0L398.2 131.9L398.2 132.0L398.6 133.0L398.9 134.0L399.1 135.0L399.2 135.4L399.3 136.0L399.5 137.0L399.5 138.0L399.5 139.0L399.4 140.0L399.2 140.7L399.1 141.0L398.8 142.0L398.4 143.0L398.2 143.4L397.9 144.0L397.3 145.0L397.2 145.1L396.5 146.0L396.2 146.3L395.6 147.0L395.2 147.4L394.5 148.0L394.2 148.2L393.2 148.9L393.1 149.0L392.2 149.5L391.2 150.0L391.1 150.0L390.2 150.4L389.2 150.7L388.2 150.9L387.9 151.0L387.2 151.1L386.2 151.3L385.2 151.3L384.2 151.4L383.2 151.4L382.2 151.3L381.2 151.3L380.2 151.1L379.4 151.0L379.2 151.0L378.2 150.8L377.2 150.5L376.2 150.3L375.2 150.0L375.2 150.0L374.2 149.7L373.2 149.3L372.4 149.0L372.2 148.9L371.2 148.5L370.2 148.0L370.2 148.0L369.2 147.5L368.2 147.0L368.2 147.0L367.2 146.4L366.5 146.0L366.2 145.8L365.2 145.2L365.0 145.0L364.2 144.5L363.5 144.0L363.2 143.8L362.2 143.0L362.2 143.0L361.2 142.2L361.0 142.0L360.2 141.3L359.9 141.0L359.2 140.4L358.8 140.0L358.2 139.4L357.8 139.0L357.2 138.4L356.8 138.0L356.2 137.3L355.9 137.0L355.2 136.2L355.0 136.0L354.2 135.0L354.2 135.0L353.4 134.0L353.2 133.8L352.6 133.0L352.2 132.5L351.8 132.0L351.2 131.2L351.1 131.0L350.4 130.0L350.2 129.7L349.7 129.0L349.2 128.1L349.1 128.0L348.6 127.0L348.2 126.1L348.1 126.0L347.8 125.0L347.4 124.0L347.2 123.1L347.2 123.0L347.0 122.0L346.8 121.0L346.7 120.0L346.6 119.0L346.5 118.0L346.4 117.0L346.2 116.0L346.2 115.6L346.1 115.0L346.0 114.0L345.9 113.0L345.9 112.0L345.8 111.0L345.9 110.0L346.0 109.0L346.2 108.0L346.2 107.9L346.5 107.0L347.0 106.0L347.2 105.7L347.7 105.0L348.2 104.4L348.6 104.0L349.2 103.4L349.8 103.0L350.2 102.7L351.2 102.0L351.3 102.0L352.2 101.5L353.2 101.0L353.3 101.0L354.2 100.7L355.2 100.4L356.2 100.2L357.2 100.0Z" fill="#f6583e"/>
<path d="M358.2 103.0L359.2 102.8L360.2 102.8L361.2 102.8L362.2 102.9L362.7 103.0L363.2 103.1L364.2 103.3L365.2 103.5L366.2 103.8L366.7 104.0L367.2 104.2L368.2 104.6L369.1 105.0L369.2 105.0L370.2 105.6L371.0 106.0L371.2 106.1L372.2 106.8L372.5 107.0L373.2 107.5L373.9 108.0L374.2 108.2L375.2 109.0L375.3 109.0L376.2 109.7L376.5 110.0L377.2 110.5L377.8 111.0L378.2 111.3L379.1 112.0L379.2 112.1L380.2 112.8L380.4 113.0L381.2 113.6L381.7 114.0L382.2 114.4L383.0 115.0L383.2 115.1L384.2 115.9L384.3 116.0L385.2 116.8L385.5 117.0L386.2 117.6L386.6 118.0L387.2 118.6L387.7 119.0L388.2 119.6L388.6 120.0L389.2 120.7L389.5 121.0L390.2 121.9L390.3 122.0L391.0 123.0L391.2 123.3L391.7 124.0L392.2 124.8L392.3 125.0L392.8 126.0L393.2 126.7L393.3 127.0L393.8 128.0L394.2 128.9L394.2 129.0L394.6 130.0L395.0 131.0L395.2 131.7L395.3 132.0L395.6 133.0L395.8 134.0L396.0 135.0L396.1 136.0L396.2 137.0L396.2 138.0L396.1 139.0L395.9 140.0L395.6 141.0L395.2 142.0L395.2 142.0L394.7 143.0L394.2 143.7L394.0 144.0L393.2 145.0L393.2 145.0L392.2 145.9L392.1 146.0L391.2 146.7L390.6 147.0L390.2 147.3L389.2 147.7L388.5 148.0L388.2 148.1L387.2 148.4L386.2 148.7L385.2 148.8L384.2 148.9L383.2 149.0L382.2 149.0L381.2 148.9L380.2 148.8L379.2 148.7L378.2 148.5L377.2 148.3L376.2 148.1L376.0 148.0L375.2 147.8L374.2 147.4L373.2 147.1L373.0 147.0L372.2 146.7L371.2 146.2L370.7 146.0L370.2 145.8L369.2 145.3L368.7 145.0L368.2 144.7L367.2 144.1L367.0 144.0L366.2 143.5L365.5 143.0L365.2 142.8L364.2 142.0L364.1 142.0L363.2 141.3L362.9 141.0L362.2 140.4L361.7 140.0L361.2 139.5L360.7 139.0L360.2 138.6L359.6 138.0L359.2 137.5L358.7 137.0L358.2 136.4L357.8 136.0L357.2 135.3L357.0 135.0L356.2 134.0L356.2 134.0L355.4 133.0L355.2 132.7L354.7 132.0L354.2 131.3L354.0 131.0L353.4 130.0L353.2 129.7L352.8 129.0L352.3 128.0L352.2 127.8L351.8 127.0L351.4 126.0L351.2 125.3L351.1 125.0L350.8 124.0L350.6 123.0L350.4 122.0L350.3 121.0L350.2 120.1L350.2 120.0L350.1 119.0L349.9 118.0L349.8 117.0L349.7 116.0L349.6 115.0L349.5 114.0L349.4 113.0L349.3 112.0L349.3 111.0L349.5 110.0L349.7 109.0L350.1 108.0L350.2 107.7L350.6 107.0L351.2 106.3L351.5 106.0L352.2 105.4L352.7 105.0L353.2 104.7L354.2 104.1L354.5 104.0L355.2 103.7L356.2 103.4L357.2 103.1L357.9 103.0Z" fill="#e83429"/>
<path d="M357.2 106.9L358.2 106.6L359.2 106.3L360.2 106.2L361.2 106.1L362.2 106.1L363.2 106.2L364.2 106.3L365.2 106.5L366.2 106.8L366.8 107.0L367.2 107.1L368.2 107.6L369.1 108.0L369.2 108.0L370.2 108.6L370.8 109.0L371.2 109.2L372.2 109.9L372.3 110.0L373.2 110.6L373.7 111.0L374.2 111.4L375.0 112.0L375.2 112.2L376.2 113.0L376.2 113.0L377.2 113.8L377.5 114.0L378.2 114.5L378.8 115.0L379.2 115.3L380.1 116.0L380.2 116.1L381.2 116.8L381.4 117.0L382.2 117.7L382.6 118.0L383.2 118.5L383.8 119.0L384.2 119.4L384.9 120.0L385.2 120.3L385.9 121.0L386.2 121.3L386.8 122.0L387.2 122.5L387.6 123.0L388.2 123.7L388.4 124.0L389.1 125.0L389.2 125.1L389.7 126.0L390.2 126.8L390.3 127.0L390.8 128.0L391.2 128.8L391.3 129.0L391.7 130.0L392.0 131.0L392.2 131.5L392.3 132.0L392.6 133.0L392.8 134.0L392.9 135.0L393.0 136.0L393.0 137.0L392.8 138.0L392.6 139.0L392.3 140.0L392.2 140.3L391.9 141.0L391.3 142.0L391.2 142.1L390.5 143.0L390.2 143.3L389.4 144.0L389.2 144.1L388.2 144.8L387.8 145.0L387.2 145.3L386.2 145.7L385.2 146.0L385.0 146.0L384.2 146.2L383.2 146.3L382.2 146.4L381.2 146.4L380.2 146.3L379.2 146.2L378.2 146.1L377.6 146.0L377.2 145.9L376.2 145.7L375.2 145.4L374.2 145.1L374.0 145.0L373.2 144.7L372.2 144.3L371.5 144.0L371.2 143.9L370.2 143.4L369.5 143.0L369.2 142.8L368.2 142.2L367.8 142.0L367.2 141.6L366.4 141.0L366.2 140.9L365.2 140.1L365.0 140.0L364.2 139.3L363.8 139.0L363.2 138.4L362.7 138.0L362.2 137.5L361.7 137.0L361.2 136.5L360.8 136.0L360.2 135.3L359.9 135.0L359.2 134.1L359.1 134.0L358.4 133.0L358.2 132.8L357.7 132.0L357.2 131.3L357.0 131.0L356.4 130.0L356.2 129.5L355.9 129.0L355.5 128.0L355.2 127.4L355.0 127.0L354.7 126.0L354.4 125.0L354.2 124.0L354.2 124.0L354.0 123.0L353.9 122.0L353.8 121.0L353.7 120.0L353.6 119.0L353.5 118.0L353.4 117.0L353.4 116.0L353.3 115.0L353.2 114.0L353.2 113.0L353.3 112.0L353.5 111.0L353.8 110.0L354.2 109.4L354.4 109.0L355.2 108.2L355.4 108.0L356.2 107.5L357.1 107.0Z" fill="#ca181d"/>
<path d="M362.2 110.8L363.2 110.7L364.2 110.6L365.2 110.7L366.2 110.9L366.6 111.0L367.2 111.2L368.2 111.6L369.1 112.0L369.2 112.0L370.2 112.6L370.9 113.0L371.2 113.2L372.2 113.9L372.4 114.0L373.2 114.6L373.8 115.0L374.2 115.3L375.2 116.0L375.2 116.0L376.2 116.7L376.6 117.0L377.2 117.4L377.9 118.0L378.2 118.2L379.2 119.0L379.3 119.0L380.2 119.8L380.5 120.0L381.2 120.6L381.7 121.0L382.2 121.5L382.7 122.0L383.2 122.5L383.7 123.0L384.2 123.5L384.6 124.0L385.2 124.7L385.4 125.0L386.2 126.0L386.2 126.0L386.8 127.0L387.2 127.7L387.4 128.0L387.9 129.0L388.2 129.7L388.3 130.0L388.7 131.0L388.9 132.0L389.2 133.0L389.2 133.3L389.3 134.0L389.3 135.0L389.3 136.0L389.2 136.8L389.2 137.0L388.9 138.0L388.5 139.0L388.2 139.4L387.8 140.0L387.2 140.7L386.9 141.0L386.2 141.6L385.6 142.0L385.2 142.2L384.2 142.6L383.2 143.0L383.0 143.0L382.2 143.2L381.2 143.3L380.2 143.3L379.2 143.3L378.2 143.2L377.2 143.1L376.9 143.0L376.2 142.8L375.2 142.6L374.2 142.3L373.4 142.0L373.2 141.9L372.2 141.5L371.2 141.0L371.2 141.0L370.2 140.5L369.4 140.0L369.2 139.9L368.2 139.2L367.9 139.0L367.2 138.5L366.5 138.0L366.2 137.7L365.4 137.0L365.2 136.9L364.3 136.0L364.2 135.9L363.4 135.0L363.2 134.8L362.5 134.0L362.2 133.6L361.7 133.0L361.2 132.2L361.0 132.0L360.4 131.0L360.2 130.6L359.9 130.0L359.4 129.0L359.2 128.6L359.0 128.0L358.6 127.0L358.3 126.0L358.2 125.4L358.1 125.0L358.0 124.0L357.9 123.0L357.8 122.0L357.8 121.0L357.8 120.0L357.9 119.0L357.9 118.0L358.0 117.0L358.1 116.0L358.2 115.6L358.3 115.0L358.6 114.0L359.1 113.0L359.2 112.8L359.9 112.0L360.2 111.8L361.2 111.2L361.6 111.0Z" fill="#ac1117"/>
<path d="M366.2 118.9L367.2 118.5L368.2 118.4L369.2 118.5L370.2 118.7L371.0 119.0L371.2 119.1L372.2 119.5L373.2 120.0L373.2 120.0L374.2 120.6L374.9 121.0L375.2 121.2L376.2 121.8L376.4 122.0L377.2 122.6L377.8 123.0L378.2 123.4L379.0 124.0L379.2 124.2L380.0 125.0L380.2 125.2L380.9 126.0L381.2 126.4L381.7 127.0L382.2 127.7L382.4 128.0L382.9 129.0L383.2 129.5L383.4 130.0L383.7 131.0L384.0 132.0L384.1 133.0L384.1 134.0L383.9 135.0L383.4 136.0L383.2 136.4L382.7 137.0L382.2 137.5L381.4 138.0L381.2 138.1L380.2 138.5L379.2 138.7L378.2 138.7L377.2 138.7L376.2 138.6L375.2 138.4L374.2 138.1L374.0 138.0L373.2 137.7L372.2 137.2L371.7 137.0L371.2 136.7L370.2 136.1L370.1 136.0L369.2 135.3L368.8 135.0L368.2 134.5L367.7 134.0L367.2 133.5L366.8 133.0L366.2 132.3L366.0 132.0L365.3 131.0L365.2 130.8L364.8 130.0L364.3 129.0L364.2 128.8L363.9 128.0L363.7 127.0L363.5 126.0L363.5 125.0L363.5 124.0L363.7 123.0L363.9 122.0L364.2 121.3L364.3 121.0L364.9 120.0L365.2 119.7L366.0 119.0Z" fill="#7e0610"/>
<path d="M309.2 82.9L310.2 83.0L310.3 83.0L311.2 83.4L311.9 84.0L312.2 84.3L312.8 85.0L313.2 85.4L313.6 86.0L314.2 86.6L314.5 87.0L315.2 87.7L315.5 88.0L316.2 88.6L316.6 89.0L317.2 89.5L317.8 90.0L318.2 90.3L319.1 91.0L319.2 91.1L320.2 91.8L320.6 92.0L321.2 92.4L322.2 92.9L322.4 93.0L323.2 93.3L324.2 93.6L325.2 93.7L326.2 93.8L327.2 93.9L327.6 94.0L328.2 94.1L329.2 94.5L330.2 95.0L330.2 95.0L331.2 96.0L331.2 96.0L331.8 97.0L332.2 98.0L332.2 98.2L332.3 99.0L332.4 100.0L332.4 101.0L332.4 102.0L332.4 103.0L332.7 104.0L333.1 105.0L333.2 105.1L333.8 106.0L334.2 106.4L334.8 107.0L335.2 107.4L335.7 108.0L336.2 108.7L336.4 109.0L336.9 110.0L337.2 111.0L337.2 111.3L337.2 112.0L337.2 112.3L337.1 113.0L336.8 114.0L336.3 115.0L336.2 115.2L335.7 116.0L335.2 116.7L334.9 117.0L334.2 118.0L334.2 118.0L333.6 119.0L333.2 119.8L333.1 120.0L332.8 121.0L332.5 122.0L332.4 123.0L332.3 124.0L332.4 125.0L332.5 126.0L332.8 127.0L333.2 127.8L333.3 128.0L334.2 128.9L334.3 129.0L335.2 129.5L336.2 129.9L336.6 130.0L337.2 130.2L338.2 130.4L339.2 130.7L339.9 131.0L340.2 131.2L340.9 132.0L341.1 133.0L340.8 134.0L340.2 134.8L340.1 135.0L339.2 135.7L338.9 136.0L338.2 136.5L337.7 137.0L337.2 137.5L336.8 138.0L336.2 138.6L335.9 139.0L335.2 139.8L335.0 140.0L334.2 140.8L334.0 141.0L333.2 141.6L332.6 142.0L332.2 142.3L331.2 142.7L330.3 143.0L330.2 143.0L329.2 143.3L328.2 143.4L327.2 143.3L326.2 143.2L325.2 143.0L325.2 143.0L324.2 142.7L323.2 142.2L322.7 142.0L322.2 141.7L321.2 141.0L321.2 141.0L320.2 140.1L320.0 140.0L319.2 139.2L319.0 139.0L318.2 138.1L318.1 138.0L317.3 137.0L317.2 136.9L316.4 136.0L316.2 135.8L315.6 135.0L315.2 134.6L314.7 134.0L314.2 133.4L313.9 133.0L313.2 132.1L313.1 132.0L312.3 131.0L312.2 130.9L311.4 130.0L311.2 129.8L310.4 129.0L310.2 128.9L309.2 128.0L309.2 128.0L308.2 127.3L307.8 127.0L307.2 126.6L306.5 126.0L306.2 125.8L305.3 125.0L305.2 124.9L304.3 124.0L304.2 123.9L303.4 123.0L303.2 122.8L302.6 122.0L302.2 121.5L301.9 121.0L301.3 120.0L301.2 119.8L300.7 119.0L300.3 118.0L300.2 117.8L299.9 117.0L299.5 116.0L299.2 115.0L299.2 114.9L298.9 114.0L298.7 113.0L298.5 112.0L298.4 111.0L298.3 110.0L298.2 109.2L298.2 109.0L298.1 108.0L298.1 107.0L298.1 106.0L298.2 105.0L298.2 104.8L298.3 104.0L298.4 103.0L298.5 102.0L298.7 101.0L298.9 100.0L299.2 99.0L299.2 99.0L299.5 98.0L299.8 97.0L300.2 96.0L300.2 96.0L300.6 95.0L301.0 94.0L301.2 93.7L301.5 93.0L302.1 92.0L302.2 91.9L302.7 91.0L303.2 90.2L303.4 90.0L304.0 89.0L304.2 88.7L304.7 88.0L305.2 87.1L305.3 87.0L305.9 86.0L306.2 85.4L306.5 85.0L307.2 84.0L307.2 84.0L308.2 83.2L308.8 83.0Z" fill="#dff3da"/>
<path d="M308.2 88.8L309.2 88.5L310.2 88.4L311.2 88.6L312.2 89.0L312.2 89.0L313.2 89.5L314.0 90.0L314.2 90.1L315.2 90.8L315.4 91.0L316.2 91.6L316.7 92.0L317.2 92.4L317.9 93.0L318.2 93.3L319.0 94.0L319.2 94.2L320.0 95.0L320.2 95.2L321.0 96.0L321.2 96.2L322.0 97.0L322.2 97.2L323.0 98.0L323.2 98.2L324.1 99.0L324.2 99.1L325.1 100.0L325.2 100.2L325.8 101.0L326.2 102.0L326.2 102.1L326.5 103.0L326.6 104.0L326.8 105.0L326.9 106.0L327.0 107.0L327.1 108.0L327.2 108.7L327.2 109.0L327.3 110.0L327.3 111.0L327.2 112.0L327.2 112.2L327.1 113.0L327.0 114.0L326.8 115.0L326.7 116.0L326.7 117.0L326.7 118.0L326.7 119.0L326.8 120.0L326.8 121.0L326.8 122.0L326.8 123.0L326.8 124.0L326.7 125.0L326.6 126.0L326.5 127.0L326.4 128.0L326.5 129.0L326.8 130.0L327.2 130.5L327.6 131.0L328.2 131.5L328.9 132.0L329.2 132.2L330.2 133.0L330.2 133.0L331.2 134.0L331.2 134.1L331.7 135.0L332.0 136.0L331.8 137.0L331.3 138.0L331.2 138.1L330.2 139.0L330.2 139.0L329.2 139.3L328.2 139.4L327.2 139.3L326.3 139.0L326.2 139.0L325.2 138.3L324.9 138.0L324.2 137.1L324.1 137.0L323.6 136.0L323.2 135.1L323.1 135.0L322.7 134.0L322.2 133.2L322.1 133.0L321.2 132.3L320.9 132.0L320.2 131.7L319.2 131.1L319.0 131.0L318.2 130.5L317.4 130.0L317.2 129.9L316.2 129.1L316.1 129.0L315.2 128.2L314.9 128.0L314.2 127.4L313.6 127.0L313.2 126.7L312.2 126.1L312.0 126.0L311.2 125.6L310.2 125.2L309.9 125.0L309.2 124.7L308.2 124.2L308.0 124.0L307.2 123.6L306.4 123.0L306.2 122.8L305.3 122.0L305.2 122.0L304.3 121.0L304.2 120.9L303.5 120.0L303.2 119.6L302.8 119.0L302.2 118.0L302.2 118.0L301.7 117.0L301.3 116.0L301.2 115.8L300.9 115.0L300.6 114.0L300.3 113.0L300.2 112.4L300.1 112.0L299.9 111.0L299.8 110.0L299.7 109.0L299.6 108.0L299.6 107.0L299.6 106.0L299.7 105.0L299.8 104.0L299.9 103.0L300.1 102.0L300.2 101.5L300.3 101.0L300.5 100.0L300.8 99.0L301.2 98.0L301.2 98.0L301.6 97.0L302.0 96.0L302.2 95.6L302.5 95.0L303.1 94.0L303.2 93.8L303.7 93.0L304.2 92.3L304.5 92.0L305.2 91.1L305.3 91.0L306.2 90.2L306.4 90.0L307.2 89.4L307.9 89.0Z" fill="#c7e9c0"/>
<path d="M309.2 90.7L310.2 90.6L311.2 90.8L312.0 91.0L312.2 91.1L313.2 91.5L314.1 92.0L314.2 92.1L315.2 92.8L315.5 93.0L316.2 93.6L316.7 94.0L317.2 94.5L317.7 95.0L318.2 95.6L318.6 96.0L319.2 96.8L319.3 97.0L320.0 98.0L320.2 98.4L320.6 99.0L321.1 100.0L321.2 100.3L321.5 101.0L321.9 102.0L322.2 102.9L322.2 103.0L322.5 104.0L322.7 105.0L322.8 106.0L322.8 107.0L322.7 108.0L322.6 109.0L322.4 110.0L322.2 110.7L322.1 111.0L321.9 112.0L321.7 113.0L321.5 114.0L321.2 115.0L321.2 115.2L321.1 116.0L320.9 117.0L320.8 118.0L320.7 119.0L320.7 120.0L320.7 121.0L320.8 122.0L320.9 123.0L320.7 124.0L320.2 124.8L319.7 125.0L319.2 125.1L318.5 125.0L318.2 125.0L317.2 124.6L316.2 124.3L315.2 124.1L314.9 124.0L314.2 123.9L313.2 123.7L312.2 123.5L311.2 123.3L310.4 123.0L310.2 123.0L309.2 122.6L308.2 122.1L308.0 122.0L307.2 121.6L306.5 121.0L306.2 120.8L305.3 120.0L305.2 119.9L304.5 119.0L304.2 118.7L303.7 118.0L303.2 117.1L303.1 117.0L302.6 116.0L302.2 115.0L302.2 115.0L301.8 114.0L301.5 113.0L301.3 112.0L301.2 111.7L301.1 111.0L300.9 110.0L300.8 109.0L300.7 108.0L300.7 107.0L300.7 106.0L300.8 105.0L300.9 104.0L301.1 103.0L301.2 102.3L301.3 102.0L301.5 101.0L301.8 100.0L302.1 99.0L302.2 98.7L302.5 98.0L302.9 97.0L303.2 96.4L303.4 96.0L304.0 95.0L304.2 94.7L304.7 94.0L305.2 93.4L305.6 93.0L306.2 92.4L306.7 92.0L307.2 91.6L308.2 91.1L308.4 91.0Z" fill="#a9dca3"/>
<path d="M308.2 92.7L309.2 92.4L310.2 92.3L311.2 92.4L312.2 92.6L313.0 93.0L313.2 93.1L314.2 93.7L314.6 94.0L315.2 94.4L315.9 95.0L316.2 95.3L316.8 96.0L317.2 96.5L317.6 97.0L318.2 97.9L318.3 98.0L318.8 99.0L319.2 99.8L319.3 100.0L319.7 101.0L320.0 102.0L320.2 102.7L320.3 103.0L320.5 104.0L320.7 105.0L320.8 106.0L320.8 107.0L320.7 108.0L320.6 109.0L320.4 110.0L320.2 111.0L320.2 111.0L320.0 112.0L319.7 113.0L319.5 114.0L319.2 114.8L319.1 115.0L318.8 116.0L318.4 117.0L318.2 117.4L317.9 118.0L317.3 119.0L317.2 119.2L316.5 120.0L316.2 120.3L315.2 120.9L315.0 121.0L314.2 121.3L313.2 121.5L312.2 121.5L311.2 121.4L310.2 121.2L309.4 121.0L309.2 120.9L308.2 120.5L307.4 120.0L307.2 119.9L306.2 119.1L306.1 119.0L305.2 118.0L305.2 118.0L304.4 117.0L304.2 116.6L303.8 116.0L303.3 115.0L303.2 114.7L302.9 114.0L302.6 113.0L302.3 112.0L302.2 111.6L302.1 111.0L301.9 110.0L301.8 109.0L301.7 108.0L301.7 107.0L301.7 106.0L301.8 105.0L301.9 104.0L302.1 103.0L302.2 102.3L302.3 102.0L302.5 101.0L302.8 100.0L303.2 99.0L303.2 99.0L303.6 98.0L304.1 97.0L304.2 96.9L304.7 96.0L305.2 95.3L305.5 95.0L306.2 94.2L306.4 94.0L307.2 93.3L307.7 93.0Z" fill="#86cc85"/>
<path d="M309.2 93.9L310.2 93.7L311.2 93.8L312.0 94.0L312.2 94.1L313.2 94.5L313.9 95.0L314.2 95.2L315.2 96.0L315.2 96.0L316.1 97.0L316.2 97.1L316.8 98.0L317.2 98.6L317.4 99.0L317.9 100.0L318.2 100.7L318.3 101.0L318.7 102.0L318.9 103.0L319.1 104.0L319.2 104.6L319.3 105.0L319.3 106.0L319.4 107.0L319.3 108.0L319.2 109.0L319.2 109.0L319.0 110.0L318.9 111.0L318.6 112.0L318.3 113.0L318.2 113.3L318.0 114.0L317.6 115.0L317.2 115.8L317.1 116.0L316.5 117.0L316.2 117.4L315.7 118.0L315.2 118.5L314.5 119.0L314.2 119.2L313.2 119.6L312.2 119.8L311.2 119.8L310.2 119.7L309.2 119.4L308.3 119.0L308.2 119.0L307.2 118.3L306.8 118.0L306.2 117.4L305.8 117.0L305.2 116.2L305.1 116.0L304.5 115.0L304.2 114.5L304.0 114.0L303.6 113.0L303.3 112.0L303.2 111.8L303.0 111.0L302.8 110.0L302.7 109.0L302.6 108.0L302.6 107.0L302.6 106.0L302.7 105.0L302.8 104.0L303.0 103.0L303.2 102.1L303.2 102.0L303.5 101.0L303.9 100.0L304.2 99.2L304.3 99.0L304.8 98.0L305.2 97.3L305.4 97.0L306.1 96.0L306.2 95.9L307.1 95.0L307.2 94.9L308.2 94.3L308.8 94.0Z" fill="#60ba6c"/>
<path d="M308.2 95.8L309.2 95.3L310.2 95.1L311.2 95.2L312.2 95.5L313.2 96.0L313.2 96.0L314.2 96.8L314.5 97.0L315.2 97.8L315.4 98.0L316.1 99.0L316.2 99.2L316.6 100.0L317.1 101.0L317.2 101.3L317.4 102.0L317.7 103.0L317.9 104.0L318.1 105.0L318.2 106.0L318.2 107.0L318.1 108.0L318.0 109.0L317.9 110.0L317.7 111.0L317.4 112.0L317.2 112.6L317.1 113.0L316.6 114.0L316.2 114.9L316.1 115.0L315.5 116.0L315.2 116.3L314.5 117.0L314.2 117.3L313.2 117.9L312.9 118.0L312.2 118.2L311.2 118.3L310.2 118.2L309.4 118.0L309.2 117.9L308.2 117.4L307.6 117.0L307.2 116.7L306.5 116.0L306.2 115.7L305.7 115.0L305.2 114.2L305.1 114.0L304.6 113.0L304.3 112.0L304.2 111.8L304.0 111.0L303.8 110.0L303.6 109.0L303.5 108.0L303.5 107.0L303.5 106.0L303.6 105.0L303.8 104.0L304.0 103.0L304.2 102.1L304.2 102.0L304.6 101.0L305.0 100.0L305.2 99.5L305.5 99.0L306.1 98.0L306.2 97.8L306.8 97.0L307.2 96.6L307.9 96.0Z" fill="#3ba458"/>
<path d="M309.2 96.9L310.2 96.7L311.2 96.7L312.1 97.0L312.2 97.0L313.2 97.6L313.6 98.0L314.2 98.6L314.6 99.0L315.2 99.9L315.3 100.0L315.8 101.0L316.2 102.0L316.2 102.0L316.5 103.0L316.8 104.0L316.9 105.0L317.0 106.0L317.1 107.0L317.0 108.0L316.9 109.0L316.7 110.0L316.5 111.0L316.2 111.9L316.2 112.0L315.7 113.0L315.2 114.0L315.2 114.0L314.5 115.0L314.2 115.3L313.4 116.0L313.2 116.1L312.2 116.6L311.2 116.7L310.2 116.7L309.2 116.4L308.5 116.0L308.2 115.8L307.3 115.0L307.2 114.9L306.5 114.0L306.2 113.6L305.9 113.0L305.4 112.0L305.2 111.5L305.1 111.0L304.8 110.0L304.6 109.0L304.5 108.0L304.5 107.0L304.5 106.0L304.6 105.0L304.8 104.0L305.0 103.0L305.2 102.4L305.3 102.0L305.8 101.0L306.2 100.0L306.2 100.0L306.9 99.0L307.2 98.5L307.7 98.0L308.2 97.5L309.1 97.0Z" fill="#228a44"/>
<path d="M309.2 98.9L310.2 98.6L311.2 98.6L312.2 99.0L312.3 99.0L313.2 99.7L313.5 100.0L314.2 100.9L314.2 101.0L314.7 102.0L315.2 103.0L315.2 103.1L315.5 104.0L315.6 105.0L315.8 106.0L315.8 107.0L315.8 108.0L315.7 109.0L315.5 110.0L315.2 110.9L315.2 111.0L314.7 112.0L314.2 113.0L314.2 113.0L313.3 114.0L313.2 114.1L312.2 114.7L311.2 114.9L310.2 114.9L309.2 114.5L308.5 114.0L308.2 113.8L307.5 113.0L307.2 112.6L306.9 112.0L306.4 111.0L306.2 110.4L306.1 110.0L305.9 109.0L305.8 108.0L305.7 107.0L305.8 106.0L305.9 105.0L306.1 104.0L306.2 103.6L306.4 103.0L306.8 102.0L307.2 101.1L307.3 101.0L308.0 100.0L308.2 99.8L309.1 99.0Z" fill="#077331"/>
<path d="M310.2 101.7L311.2 101.6L312.2 102.0L312.2 102.0L313.0 103.0L313.2 103.3L313.5 104.0L313.9 105.0L314.1 106.0L314.2 107.0L314.1 108.0L313.9 109.0L313.6 110.0L313.2 110.9L313.1 111.0L312.2 111.9L312.0 112.0L311.2 112.3L310.2 112.1L310.0 112.0L309.2 111.4L308.9 111.0L308.3 110.0L308.2 109.8L308.0 109.0L307.8 108.0L307.8 107.0L307.9 106.0L308.0 105.0L308.2 104.3L308.3 104.0L308.8 103.0L309.2 102.4L309.7 102.0Z" fill="#005321"/>
<circle cx="308.6" cy="108.5" r="1.8" fill="#245c31" fill-opacity="0.4" stroke="#163c1f" stroke-width="0.7"/><circle cx="311.6" cy="114.9" r="1.8" fill="#245c31" fill-opacity="0.4" stroke="#163c1f" stroke-width="0.7"/><circle cx="310.6" cy="117.3" r="1.8" fill="#245c31" fill-opacity="0.4" stroke="#163c1f" stroke-width="0.7"/><circle cx="307.3" cy="106.6" r="1.8" fill="#245c31" fill-opacity="0.4" stroke="#163c1f" stroke-width="0.7"/><circle cx="307.2" cy="107.5" r="1.8" fill="#245c31" fill-opacity="0.4" stroke="#163c1f" stroke-width="0.7"/><circle cx="315.7" cy="109.1" r="1.8" fill="#245c31" fill-opacity="0.4" stroke="#163c1f" stroke-width="0.7"/><circle cx="305.7" cy="107.4" r="1.8" fill="#245c31" fill-opacity="0.4" stroke="#163c1f" stroke-width="0.7"/><circle cx="306.1" cy="111.1" r="1.8" fill="#245c31" fill-opacity="0.4" stroke="#163c1f" stroke-width="0.7"/><circle cx="308.4" cy="107.5" r="1.8" fill="#245c31" fill-opacity="0.4" stroke="#163c1f" stroke-width="0.7"/><circle cx="316.5" cy="103.8" r="1.8" fill="#245c31" fill-opacity="0.4" stroke="#163c1f" stroke-width="0.7"/><circle cx="308.9" cy="113.2" r="1.8" fill="#245c31" fill-opacity="0.4" stroke="#163c1f" stroke-width="0.7"/><circle cx="310.5" cy="104.3" r="1.8" fill="#245c31" fill-opacity="0.4" stroke="#163c1f" stroke-width="0.7"/><circle cx="304.5" cy="101.9" r="1.8" fill="#245c31" fill-opacity="0.4" stroke="#163c1f" stroke-width="0.7"/><circle cx="309.6" cy="101.4" r="1.8" fill="#245c31" fill-opacity="0.4" stroke="#163c1f" stroke-width="0.7"/><circle cx="314.8" cy="99.1" r="1.8" fill="#245c31" fill-opacity="0.4" stroke="#163c1f" stroke-width="0.7"/><circle cx="313.0" cy="113.6" r="1.8" fill="#245c31" fill-opacity="0.4" stroke="#163c1f" stroke-width="0.7"/><circle cx="309.3" cy="84.1" r="1.8" fill="#245c31" fill-opacity="0.4" stroke="#163c1f" stroke-width="0.7"/><circle cx="309.8" cy="94.5" r="1.8" fill="#245c31" fill-opacity="0.4" stroke="#163c1f" stroke-width="0.7"/><circle cx="318.2" cy="97.8" r="1.8" fill="#245c31" fill-opacity="0.4" stroke="#163c1f" stroke-width="0.7"/><circle cx="328.8" cy="97.8" r="1.8" fill="#245c31" fill-opacity="0.4" stroke="#163c1f" stroke-width="0.7"/><circle cx="322.7" cy="105.4" r="1.8" fill="#245c31" fill-opacity="0.4" stroke="#163c1f" stroke-width="0.7"/><circle cx="334.1" cy="111.5" r="1.8" fill="#245c31" fill-opacity="0.4" stroke="#163c1f" stroke-width="0.7"/><circle cx="318.9" cy="125.2" r="1.8" fill="#245c31" fill-opacity="0.4" stroke="#163c1f" stroke-width="0.7"/><circle cx="327.3" cy="136.6" r="1.8" fill="#245c31" fill-opacity="0.4" stroke="#163c1f" stroke-width="0.7"/><circle cx="331.0" cy="137.4" r="1.8" fill="#245c31" fill-opacity="0.4" stroke="#163c1f" stroke-width="0.7"/><circle cx="340.2" cy="132.8" r="1.8" fill="#245c31" fill-opacity="0.4" stroke="#163c1f" stroke-width="0.7"/>
<path d="M376.2 142.1h3.4v3.4h-3.4zM365.0 128.5h3.4v3.4h-3.4zM378.2 142.7h3.4v3.4h-3.4zM352.5 128.1h3.4v3.4h-3.4zM375.6 112.9h3.4v3.4h-3.4zM364.9 135.6h3.4v3.4h-3.4zM375.2 130.4h3.4v3.4h-3.4zM347.5 117.7h3.4v3.4h-3.4zM370.2 146.6h3.4v3.4h-3.4zM353.6 119.1h3.4v3.4h-3.4zM351.2 132.3h3.4v3.4h-3.4zM373.4 134.5h3.4v3.4h-3.4zM381.3 139.8h3.4v3.4h-3.4zM379.3 146.7h3.4v3.4h-3.4zM377.7 137.5h3.4v3.4h-3.4zM369.2 121.1h3.4v3.4h-3.4zM351.2 120.5h3.4v3.4h-3.4zM380.0 127.9h3.4v3.4h-3.4zM356.8 123.8h3.4v3.4h-3.4zM391.5 143.4h3.4v3.4h-3.4zM380.4 126.1h3.4v3.4h-3.4zM370.8 122.5h3.4v3.4h-3.4zM372.2 119.4h3.4v3.4h-3.4zM369.2 145.2h3.4v3.4h-3.4zM368.8 120.3h3.4v3.4h-3.4zM391.1 125.8h3.4v3.4h-3.4zM384.1 137.6h3.4v3.4h-3.4zM366.7 144.0h3.4v3.4h-3.4zM352.5 115.9h3.4v3.4h-3.4zM375.7 126.9h3.4v3.4h-3.4zM357.2 111.2h3.4v3.4h-3.4zM375.7 125.7h3.4v3.4h-3.4zM386.0 129.6h3.4v3.4h-3.4zM380.3 127.5h3.4v3.4h-3.4zM364.4 115.6h3.4v3.4h-3.4zM375.5 139.1h3.4v3.4h-3.4zM377.5 110.7h3.4v3.4h-3.4zM381.8 141.8h3.4v3.4h-3.4zM354.4 116.6h3.4v3.4h-3.4zM357.2 110.9h3.4v3.4h-3.4zM364.2 127.5h3.4v3.4h-3.4zM392.8 129.1h3.4v3.4h-3.4zM355.0 131.0h3.4v3.4h-3.4zM394.5 130.1h3.4v3.4h-3.4zM377.6 131.3h3.4v3.4h-3.4zM375.7 123.1h3.4v3.4h-3.4zM368.0 128.9h3.4v3.4h-3.4zM373.5 139.4h3.4v3.4h-3.4zM357.7 129.9h3.4v3.4h-3.4zM364.6 111.8h3.4v3.4h-3.4zM349.9 126.4h3.4v3.4h-3.4zM359.1 111.7h3.4v3.4h-3.4zM355.1 122.8h3.4v3.4h-3.4zM361.9 115.7h3.4v3.4h-3.4zM357.5 133.2h3.4v3.4h-3.4zM380.3 134.3h3.4v3.4h-3.4zM389.1 135.9h3.4v3.4h-3.4zM352.4 131.8h3.4v3.4h-3.4zM369.9 118.4h3.4v3.4h-3.4zM352.6 133.0h3.4v3.4h-3.4zM382.5 129.4h3.4v3.4h-3.4zM366.0 134.2h3.4v3.4h-3.4zM382.5 123.2h3.4v3.4h-3.4zM365.7 124.3h3.4v3.4h-3.4zM376.7 133.2h3.4v3.4h-3.4zM382.7 140.1h3.4v3.4h-3.4zM348.7 121.4h3.4v3.4h-3.4zM389.0 145.7h3.4v3.4h-3.4zM351.1 124.7h3.4v3.4h-3.4zM356.0 120.2h3.4v3.4h-3.4zM350.9 113.0h3.4v3.4h-3.4zM359.2 125.3h3.4v3.4h-3.4zM349.2 118.8h3.4v3.4h-3.4zM354.1 133.6h3.4v3.4h-3.4zM389.2 137.4h3.4v3.4h-3.4zM372.2 131.8h3.4v3.4h-3.4zM381.2 130.7h3.4v3.4h-3.4zM392.4 135.4h3.4v3.4h-3.4zM364.8 135.2h3.4v3.4h-3.4zM380.4 136.1h3.4v3.4h-3.4zM373.0 130.7h3.4v3.4h-3.4zM370.9 109.3h3.4v3.4h-3.4zM360.5 118.4h3.4v3.4h-3.4zM358.1 116.7h3.4v3.4h-3.4zM359.6 120.0h3.4v3.4h-3.4zM359.7 138.3h3.4v3.4h-3.4zM368.8 122.2h3.4v3.4h-3.4zM379.5 134.8h3.4v3.4h-3.4zM389.9 138.4h3.4v3.4h-3.4zM370.7 122.6h3.4v3.4h-3.4zM399.9 45.3h3.4v3.4h-3.4zM397.8 65.4h3.4v3.4h-3.4zM413.5 70.6h3.4v3.4h-3.4zM327.3 79.2h3.4v3.4h-3.4zM394.7 82.6h3.4v3.4h-3.4zM320.3 92.3h3.4v3.4h-3.4zM322.9 100.1h3.4v3.4h-3.4zM357.3 93.6h3.4v3.4h-3.4zM386.8 91.7h3.4v3.4h-3.4zM390.2 94.9h3.4v3.4h-3.4zM403.0 104.5h3.4v3.4h-3.4zM363.8 102.2h3.4v3.4h-3.4zM371.2 104.5h3.4v3.4h-3.4zM350.3 105.8h3.4v3.4h-3.4zM332.8 119.7h3.4v3.4h-3.4zM342.4 126.2h3.4v3.4h-3.4zM385.5 107.9h3.4v3.4h-3.4zM393.3 112.3h3.4v3.4h-3.4zM398.6 118.3h3.4v3.4h-3.4zM406.9 136.7h3.4v3.4h-3.4zM412.9 132.7h3.4v3.4h-3.4zM332.9 119.0h3.4v3.4h-3.4z" fill="#e0182a"/><path d="M376.7 142.6l2.4 2.4M376.7 145.0l2.4 -2.4M365.5 129.0l2.4 2.4M365.5 131.4l2.4 -2.4M378.7 143.2l2.4 2.4M378.7 145.6l2.4 -2.4M353.0 128.6l2.4 2.4M353.0 131.0l2.4 -2.4M376.1 113.4l2.4 2.4M376.1 115.8l2.4 -2.4M365.4 136.1l2.4 2.4M365.4 138.5l2.4 -2.4M375.7 130.9l2.4 2.4M375.7 133.3l2.4 -2.4M348.0 118.2l2.4 2.4M348.0 120.6l2.4 -2.4M370.7 147.1l2.4 2.4M370.7 149.5l2.4 -2.4M354.1 119.6l2.4 2.4M354.1 122.0l2.4 -2.4M351.7 132.8l2.4 2.4M351.7 135.2l2.4 -2.4M373.9 135.0l2.4 2.4M373.9 137.4l2.4 -2.4M381.8 140.3l2.4 2.4M381.8 142.7l2.4 -2.4M379.8 147.2l2.4 2.4M379.8 149.6l2.4 -2.4M378.2 138.0l2.4 2.4M378.2 140.4l2.4 -2.4M369.7 121.6l2.4 2.4M369.7 124.0l2.4 -2.4M351.7 121.0l2.4 2.4M351.7 123.4l2.4 -2.4M380.5 128.4l2.4 2.4M380.5 130.8l2.4 -2.4M357.3 124.3l2.4 2.4M357.3 126.7l2.4 -2.4M392.0 143.9l2.4 2.4M392.0 146.3l2.4 -2.4M380.9 126.6l2.4 2.4M380.9 129.0l2.4 -2.4M371.3 123.0l2.4 2.4M371.3 125.4l2.4 -2.4M372.7 119.9l2.4 2.4M372.7 122.3l2.4 -2.4M369.7 145.7l2.4 2.4M369.7 148.1l2.4 -2.4M369.3 120.8l2.4 2.4M369.3 123.2l2.4 -2.4M391.6 126.3l2.4 2.4M391.6 128.7l2.4 -2.4M384.6 138.1l2.4 2.4M384.6 140.5l2.4 -2.4M367.2 144.5l2.4 2.4M367.2 146.9l2.4 -2.4M353.0 116.4l2.4 2.4M353.0 118.8l2.4 -2.4M376.2 127.4l2.4 2.4M376.2 129.8l2.4 -2.4M357.7 111.7l2.4 2.4M357.7 114.1l2.4 -2.4M376.2 126.2l2.4 2.4M376.2 128.6l2.4 -2.4M386.5 130.1l2.4 2.4M386.5 132.5l2.4 -2.4M380.8 128.0l2.4 2.4M380.8 130.4l2.4 -2.4M364.9 116.1l2.4 2.4M364.9 118.5l2.4 -2.4M376.0 139.6l2.4 2.4M376.0 142.0l2.4 -2.4M378.0 111.2l2.4 2.4M378.0 113.6l2.4 -2.4M382.3 142.3l2.4 2.4M382.3 144.7l2.4 -2.4M354.9 117.1l2.4 2.4M354.9 119.5l2.4 -2.4M357.7 111.4l2.4 2.4M357.7 113.8l2.4 -2.4M364.7 128.0l2.4 2.4M364.7 130.4l2.4 -2.4M393.3 129.6l2.4 2.4M393.3 132.0l2.4 -2.4M355.5 131.5l2.4 2.4M355.5 133.9l2.4 -2.4M395.0 130.6l2.4 2.4M395.0 133.0l2.4 -2.4M378.1 131.8l2.4 2.4M378.1 134.2l2.4 -2.4M376.2 123.6l2.4 2.4M376.2 126.0l2.4 -2.4M368.5 129.4l2.4 2.4M368.5 131.8l2.4 -2.4M374.0 139.9l2.4 2.4M374.0 142.3l2.4 -2.4M358.2 130.4l2.4 2.4M358.2 132.8l2.4 -2.4M365.1 112.3l2.4 2.4M365.1 114.7l2.4 -2.4M350.4 126.9l2.4 2.4M350.4 129.3l2.4 -2.4M359.6 112.2l2.4 2.4M359.6 114.6l2.4 -2.4M355.6 123.3l2.4 2.4M355.6 125.7l2.4 -2.4M362.4 116.2l2.4 2.4M362.4 118.6l2.4 -2.4M358.0 133.7l2.4 2.4M358.0 136.1l2.4 -2.4M380.8 134.8l2.4 2.4M380.8 137.2l2.4 -2.4M389.6 136.4l2.4 2.4M389.6 138.8l2.4 -2.4M352.9 132.3l2.4 2.4M352.9 134.7l2.4 -2.4M370.4 118.9l2.4 2.4M370.4 121.3l2.4 -2.4M353.1 133.5l2.4 2.4M353.1 135.9l2.4 -2.4M383.0 129.9l2.4 2.4M383.0 132.3l2.4 -2.4M366.5 134.7l2.4 2.4M366.5 137.1l2.4 -2.4M383.0 123.7l2.4 2.4M383.0 126.1l2.4 -2.4M366.2 124.8l2.4 2.4M366.2 127.2l2.4 -2.4M377.2 133.7l2.4 2.4M377.2 136.1l2.4 -2.4M383.2 140.6l2.4 2.4M383.2 143.0l2.4 -2.4M349.2 121.9l2.4 2.4M349.2 124.3l2.4 -2.4M389.5 146.2l2.4 2.4M389.5 148.6l2.4 -2.4M351.6 125.2l2.4 2.4M351.6 127.6l2.4 -2.4M356.5 120.7l2.4 2.4M356.5 123.1l2.4 -2.4M351.4 113.5l2.4 2.4M351.4 115.9l2.4 -2.4M359.7 125.8l2.4 2.4M359.7 128.2l2.4 -2.4M349.7 119.3l2.4 2.4M349.7 121.7l2.4 -2.4M354.6 134.1l2.4 2.4M354.6 136.5l2.4 -2.4M389.7 137.9l2.4 2.4M389.7 140.3l2.4 -2.4M372.7 132.3l2.4 2.4M372.7 134.7l2.4 -2.4M381.7 131.2l2.4 2.4M381.7 133.6l2.4 -2.4M392.9 135.9l2.4 2.4M392.9 138.3l2.4 -2.4M365.3 135.7l2.4 2.4M365.3 138.1l2.4 -2.4M380.9 136.6l2.4 2.4M380.9 139.0l2.4 -2.4M373.5 131.2l2.4 2.4M373.5 133.6l2.4 -2.4M371.4 109.8l2.4 2.4M371.4 112.2l2.4 -2.4M361.0 118.9l2.4 2.4M361.0 121.3l2.4 -2.4M358.6 117.2l2.4 2.4M358.6 119.6l2.4 -2.4M360.1 120.5l2.4 2.4M360.1 122.9l2.4 -2.4M360.2 138.8l2.4 2.4M360.2 141.2l2.4 -2.4M369.3 122.7l2.4 2.4M369.3 125.1l2.4 -2.4M380.0 135.3l2.4 2.4M380.0 137.7l2.4 -2.4M390.4 138.9l2.4 2.4M390.4 141.3l2.4 -2.4M371.2 123.1l2.4 2.4M371.2 125.5l2.4 -2.4M400.4 45.8l2.4 2.4M400.4 48.2l2.4 -2.4M398.3 65.9l2.4 2.4M398.3 68.3l2.4 -2.4M414.0 71.1l2.4 2.4M414.0 73.5l2.4 -2.4M327.8 79.7l2.4 2.4M327.8 82.1l2.4 -2.4M395.2 83.1l2.4 2.4M395.2 85.5l2.4 -2.4M320.8 92.8l2.4 2.4M320.8 95.2l2.4 -2.4M323.4 100.6l2.4 2.4M323.4 103.0l2.4 -2.4M357.8 94.1l2.4 2.4M357.8 96.5l2.4 -2.4M387.3 92.2l2.4 2.4M387.3 94.6l2.4 -2.4M390.7 95.4l2.4 2.4M390.7 97.8l2.4 -2.4M403.5 105.0l2.4 2.4M403.5 107.4l2.4 -2.4M364.3 102.7l2.4 2.4M364.3 105.1l2.4 -2.4M371.7 105.0l2.4 2.4M371.7 107.4l2.4 -2.4M350.8 106.3l2.4 2.4M350.8 108.7l2.4 -2.4M333.3 120.2l2.4 2.4M333.3 122.6l2.4 -2.4M342.9 126.7l2.4 2.4M342.9 129.1l2.4 -2.4M386.0 108.4l2.4 2.4M386.0 110.8l2.4 -2.4M393.8 112.8l2.4 2.4M393.8 115.2l2.4 -2.4M399.1 118.8l2.4 2.4M399.1 121.2l2.4 -2.4M407.4 137.2l2.4 2.4M407.4 139.6l2.4 -2.4M413.4 133.2l2.4 2.4M413.4 135.6l2.4 -2.4M333.4 119.5l2.4 2.4M333.4 121.9l2.4 -2.4" stroke="#7a1420" stroke-width="0.6" opacity="0.75" fill="none"/>
</g>
<text x="336.7" y="197.5" text-anchor="middle" class="tk">1.0</text>
<text x="389.2" y="197.5" text-anchor="middle" class="tk">1.5</text>
<text x="441.7" y="197.5" text-anchor="middle" class="tk">2.0</text>
<text x="280.7" y="25.6" text-anchor="end" class="tk">1.0</text>
<text x="280.7" y="58.5" text-anchor="end" class="tk">0.8</text>
<text x="280.7" y="91.4" text-anchor="end" class="tk">0.6</text>
<text x="280.7" y="124.3" text-anchor="end" class="tk">0.4</text>
<text x="280.7" y="157.2" text-anchor="end" class="tk">0.2</text>
<text x="369.3" y="9.5" text-anchor="middle" class="ti"><tspan font-style="italic">v</tspan><tspan font-size="11" dy="2.2" dx="0.8">2</tspan></text>
<text x="368.3" y="217.7" text-anchor="middle" class="lb"><tspan font-style="italic">&#945;</tspan><tspan font-size="13" dy="3.3" dx="1">1</tspan></text>
<text transform="translate(251.6,99.3) rotate(-90)" text-anchor="middle" class="lb"><tspan font-style="italic">&#947;</tspan><tspan font-size="13" dy="3.3" dx="1">1</tspan></text>
<rect x="522" y="17" width="161" height="162" fill="#EAEAF2"/>
<g clip-path="url(#c2)">
<line x1="530.4" y1="17" x2="530.4" y2="179" stroke="#fff" stroke-width="1.2"/>
<line x1="574.6" y1="17" x2="574.6" y2="179" stroke="#fff" stroke-width="1.2"/>
<line x1="618.7" y1="17" x2="618.7" y2="179" stroke="#fff" stroke-width="1.2"/>
<line x1="663.0" y1="17" x2="663.0" y2="179" stroke="#fff" stroke-width="1.2"/>
<line x1="522" y1="16.6" x2="683" y2="16.6" stroke="#fff" stroke-width="1.2"/>
<line x1="522" y1="46.6" x2="683" y2="46.6" stroke="#fff" stroke-width="1.2"/>
<line x1="522" y1="76.7" x2="683" y2="76.7" stroke="#fff" stroke-width="1.2"/>
<line x1="522" y1="106.7" x2="683" y2="106.7" stroke="#fff" stroke-width="1.2"/>
<line x1="522" y1="136.8" x2="683" y2="136.8" stroke="#fff" stroke-width="1.2"/>
<line x1="522" y1="166.8" x2="683" y2="166.8" stroke="#fff" stroke-width="1.2"/>
<path d="M599.0 79.8L600.0 79.6L601.0 79.4L602.0 79.5L603.0 79.7L603.7 80.0L604.0 80.1L605.0 80.7L605.4 81.0L606.0 81.4L606.7 82.0L607.0 82.2L608.0 83.0L608.0 83.0L609.0 83.7L609.5 84.0L610.0 84.3L611.0 84.9L611.3 85.0L612.0 85.3L613.0 85.7L613.7 86.0L614.0 86.1L615.0 86.4L616.0 86.7L617.0 86.9L617.5 87.0L618.0 87.1L619.0 87.2L620.0 87.4L621.0 87.5L622.0 87.5L623.0 87.6L624.0 87.6L625.0 87.6L626.0 87.5L627.0 87.5L628.0 87.4L629.0 87.3L630.0 87.2L631.0 87.1L632.0 87.1L633.0 87.1L634.0 87.1L635.0 87.2L636.0 87.4L637.0 87.6L638.0 88.0L638.1 88.0L639.0 88.4L640.0 88.9L640.1 89.0L641.0 89.6L641.5 90.0L642.0 90.4L642.8 91.0L643.0 91.2L643.9 92.0L644.0 92.1L645.0 93.0L645.0 93.0L646.0 94.0L646.0 94.0L647.0 95.0L647.0 95.0L648.0 96.0L648.0 96.0L649.0 97.0L649.0 97.0L649.8 98.0L650.0 98.2L650.6 99.0L651.0 99.7L651.2 100.0L651.7 101.0L652.0 101.6L652.2 102.0L652.6 103.0L652.8 104.0L653.0 104.7L653.1 105.0L653.2 106.0L653.4 107.0L653.4 108.0L653.5 109.0L653.6 110.0L653.6 111.0L653.7 112.0L653.8 113.0L654.0 114.0L654.0 114.1L654.2 115.0L654.5 116.0L654.8 117.0L655.0 117.4L655.2 118.0L655.6 119.0L655.9 120.0L656.0 120.3L656.2 121.0L656.5 122.0L656.6 123.0L656.8 124.0L656.8 125.0L656.8 126.0L656.8 127.0L656.7 128.0L656.6 129.0L656.4 130.0L656.3 131.0L656.1 132.0L656.0 132.7L656.0 133.0L655.8 134.0L655.6 135.0L655.4 136.0L655.1 137.0L655.0 137.3L654.8 138.0L654.5 139.0L654.0 140.0L654.0 140.0L653.5 141.0L653.0 141.8L652.8 142.0L652.0 143.0L652.0 143.0L651.0 144.0L651.0 144.0L650.0 144.7L649.5 145.0L649.0 145.3L648.0 145.7L647.0 146.0L647.0 146.0L646.0 146.3L645.0 146.4L644.0 146.5L643.0 146.6L642.0 146.7L641.0 146.7L640.0 146.9L639.3 147.0L639.0 147.1L638.0 147.4L637.0 147.8L636.5 148.0L636.0 148.3L635.0 148.9L634.8 149.0L634.0 149.5L633.3 150.0L633.0 150.2L632.0 150.8L631.7 151.0L631.0 151.4L630.0 151.8L629.6 152.0L629.0 152.2L628.0 152.6L627.0 152.9L626.4 153.0L626.0 153.1L625.0 153.3L624.0 153.4L623.0 153.5L622.0 153.5L621.0 153.5L620.0 153.4L619.0 153.2L618.4 153.0L618.0 152.9L617.0 152.4L616.3 152.0L616.0 151.8L615.0 151.1L614.9 151.0L614.0 150.3L613.6 150.0L613.0 149.5L612.3 149.0L612.0 148.8L611.0 148.1L610.9 148.0L610.0 147.5L609.1 147.0L609.0 147.0L608.0 146.5L607.0 146.1L606.7 146.0L606.0 145.8L605.0 145.5L604.0 145.2L603.4 145.0L603.0 144.9L602.0 144.6L601.0 144.4L600.0 144.1L599.5 144.0L599.0 143.9L598.0 143.6L597.0 143.3L596.1 143.0L596.0 143.0L595.0 142.6L594.0 142.1L593.8 142.0L593.0 141.5L592.2 141.0L592.0 140.9L591.0 140.1L590.8 140.0L590.0 139.3L589.7 139.0L589.0 138.3L588.7 138.0L588.0 137.3L587.7 137.0L587.0 136.3L586.7 136.0L586.0 135.2L585.8 135.0L585.0 134.2L584.8 134.0L584.0 133.2L583.8 133.0L583.0 132.2L582.8 132.0L582.0 131.2L581.8 131.0L581.0 130.3L580.7 130.0L580.0 129.3L579.7 129.0L579.0 128.3L578.7 128.0L578.0 127.3L577.7 127.0L577.0 126.2L576.8 126.0L576.0 125.1L575.9 125.0L575.0 124.0L575.0 124.0L574.2 123.0L574.0 122.7L573.5 122.0L573.0 121.4L572.7 121.0L572.1 120.0L572.0 119.9L571.4 119.0L571.0 118.3L570.8 118.0L570.2 117.0L570.0 116.7L569.6 116.0L569.1 115.0L569.0 114.9L568.5 114.0L568.0 113.1L568.0 113.0L567.4 112.0L567.0 111.2L566.9 111.0L566.4 110.0L566.0 109.2L565.9 109.0L565.4 108.0L565.0 107.1L565.0 107.0L564.5 106.0L564.1 105.0L564.0 104.6L563.8 104.0L563.5 103.0L563.2 102.0L563.0 101.0L563.0 101.0L562.8 100.0L562.7 99.0L562.6 98.0L562.5 97.0L562.5 96.0L562.6 95.0L562.7 94.0L562.9 93.0L563.0 92.5L563.1 92.0L563.5 91.0L564.0 90.0L564.0 90.0L564.7 89.0L565.0 88.6L565.7 88.0L566.0 87.7L567.0 87.1L567.1 87.0L568.0 86.6L569.0 86.3L570.0 86.1L570.4 86.0L571.0 85.9L572.0 85.8L573.0 85.8L574.0 85.7L575.0 85.7L576.0 85.6L577.0 85.6L578.0 85.5L579.0 85.4L580.0 85.3L581.0 85.2L582.0 85.0L582.2 85.0L583.0 84.9L584.0 84.7L585.0 84.5L586.0 84.4L587.0 84.2L588.0 84.0L588.0 84.0L589.0 83.8L590.0 83.5L591.0 83.2L591.8 83.0L592.0 82.9L593.0 82.5L594.0 82.1L594.3 82.0L595.0 81.7L596.0 81.2L596.4 81.0L597.0 80.7L598.0 80.2L598.6 80.0Z" fill="#fed9c9"/>
<path d="M595.0 87.0L596.0 86.8L597.0 86.7L598.0 86.6L599.0 86.5L600.0 86.5L601.0 86.6L602.0 86.7L603.0 86.8L603.7 87.0L604.0 87.1L605.0 87.3L606.0 87.6L607.0 87.9L607.3 88.0L608.0 88.2L609.0 88.5L610.0 88.8L610.7 89.0L611.0 89.1L612.0 89.3L613.0 89.6L614.0 89.8L614.9 90.0L615.0 90.0L616.0 90.2L617.0 90.4L618.0 90.6L619.0 90.8L620.0 90.9L620.5 91.0L621.0 91.1L622.0 91.2L623.0 91.4L624.0 91.5L625.0 91.6L626.0 91.7L627.0 91.8L628.0 91.9L629.0 92.0L629.3 92.0L630.0 92.1L631.0 92.2L632.0 92.3L633.0 92.5L634.0 92.8L634.6 93.0L635.0 93.2L636.0 93.7L636.6 94.0L637.0 94.3L637.9 95.0L638.0 95.1L639.0 96.0L639.0 96.0L639.9 97.0L640.0 97.1L640.8 98.0L641.0 98.3L641.6 99.0L642.0 99.5L642.5 100.0L643.0 100.7L643.3 101.0L644.0 101.9L644.1 102.0L644.8 103.0L645.0 103.4L645.3 104.0L645.8 105.0L646.0 105.5L646.2 106.0L646.5 107.0L646.6 108.0L646.8 109.0L646.8 110.0L646.9 111.0L646.9 112.0L646.9 113.0L647.0 114.0L647.0 114.2L647.1 115.0L647.2 116.0L647.4 117.0L647.7 118.0L648.0 118.9L648.0 119.0L648.4 120.0L648.9 121.0L649.0 121.3L649.3 122.0L649.8 123.0L650.0 123.6L650.2 124.0L650.5 125.0L650.7 126.0L650.9 127.0L651.0 127.9L651.0 128.0L651.1 129.0L651.1 130.0L651.0 131.0L651.0 131.3L650.9 132.0L650.8 133.0L650.6 134.0L650.3 135.0L650.0 135.9L650.0 136.0L649.5 137.0L649.0 137.8L648.8 138.0L648.0 138.9L647.9 139.0L647.0 139.6L646.3 140.0L646.0 140.1L645.0 140.4L644.0 140.6L643.0 140.7L642.0 140.7L641.0 140.6L640.0 140.6L639.0 140.6L638.0 140.6L637.0 140.7L636.0 140.9L635.7 141.0L635.0 141.2L634.0 141.6L633.0 142.0L633.0 142.0L632.0 142.5L631.1 143.0L631.0 143.1L630.0 143.6L629.3 144.0L629.0 144.1L628.0 144.6L627.0 144.9L626.6 145.0L626.0 145.2L625.0 145.3L624.0 145.4L623.0 145.4L622.0 145.4L621.0 145.2L620.0 145.0L619.8 145.0L619.0 144.8L618.0 144.6L617.0 144.3L616.0 144.1L615.8 144.0L615.0 143.8L614.0 143.6L613.0 143.3L612.0 143.0L611.8 143.0L611.0 142.8L610.0 142.6L609.0 142.3L608.0 142.1L607.7 142.0L607.0 141.8L606.0 141.6L605.0 141.3L604.0 141.1L603.8 141.0L603.0 140.8L602.0 140.5L601.0 140.2L600.3 140.0L600.0 139.9L599.0 139.6L598.0 139.2L597.5 139.0L597.0 138.8L596.0 138.3L595.4 138.0L595.0 137.8L594.0 137.1L593.8 137.0L593.0 136.4L592.5 136.0L592.0 135.6L591.3 135.0L591.0 134.7L590.2 134.0L590.0 133.8L589.1 133.0L589.0 132.9L588.1 132.0L588.0 131.9L587.0 131.0L587.0 131.0L586.0 130.0L586.0 130.0L585.0 129.1L584.9 129.0L584.0 128.1L583.9 128.0L583.0 127.1L582.9 127.0L582.0 126.1L581.9 126.0L581.0 125.1L580.9 125.0L580.0 124.0L580.0 124.0L579.2 123.0L579.0 122.8L578.3 122.0L578.0 121.5L577.6 121.0L577.0 120.2L576.9 120.0L576.2 119.0L576.0 118.7L575.6 118.0L575.0 117.0L575.0 117.0L574.4 116.0L574.0 115.2L573.9 115.0L573.4 114.0L573.0 113.2L572.9 113.0L572.4 112.0L572.0 111.1L571.9 111.0L571.5 110.0L571.0 109.0L571.0 108.9L570.6 108.0L570.1 107.0L570.0 106.6L569.7 106.0L569.4 105.0L569.0 104.0L569.0 103.9L568.7 103.0L568.5 102.0L568.3 101.0L568.2 100.0L568.2 99.0L568.2 98.0L568.4 97.0L568.6 96.0L569.0 95.1L569.0 95.0L569.7 94.0L570.0 93.6L570.7 93.0L571.0 92.7L572.0 92.1L572.2 92.0L573.0 91.7L574.0 91.3L574.8 91.0L575.0 90.9L576.0 90.7L577.0 90.4L578.0 90.1L578.5 90.0L579.0 89.9L580.0 89.6L581.0 89.4L582.0 89.2L582.8 89.0L583.0 89.0L584.0 88.7L585.0 88.6L586.0 88.4L587.0 88.2L588.0 88.1L588.4 88.0L589.0 87.9L590.0 87.7L591.0 87.6L592.0 87.4L593.0 87.3L594.0 87.1L594.8 87.0Z" fill="#fcbba1"/>
<path d="M597.0 90.0L598.0 90.0L599.0 89.9L600.0 90.0L600.8 90.0L601.0 90.0L602.0 90.1L603.0 90.2L604.0 90.3L605.0 90.5L606.0 90.7L607.0 90.9L607.4 91.0L608.0 91.1L609.0 91.3L610.0 91.5L611.0 91.7L612.0 92.0L612.2 92.0L613.0 92.1L614.0 92.3L615.0 92.5L616.0 92.7L617.0 92.9L617.3 93.0L618.0 93.1L619.0 93.3L620.0 93.6L621.0 93.8L621.9 94.0L622.0 94.0L623.0 94.3L624.0 94.5L625.0 94.8L625.7 95.0L626.0 95.1L627.0 95.4L628.0 95.8L628.6 96.0L629.0 96.2L630.0 96.6L630.7 97.0L631.0 97.2L632.0 97.9L632.1 98.0L633.0 98.8L633.2 99.0L634.0 99.9L634.1 100.0L634.9 101.0L635.0 101.2L635.6 102.0L636.0 102.6L636.3 103.0L636.9 104.0L637.0 104.1L637.6 105.0L638.0 105.5L638.3 106.0L639.0 107.0L639.0 107.1L639.6 108.0L640.0 108.9L640.1 109.0L640.5 110.0L640.9 111.0L641.0 111.5L641.1 112.0L641.3 113.0L641.5 114.0L641.7 115.0L641.8 116.0L642.0 117.0L642.0 117.3L642.1 118.0L642.3 119.0L642.5 120.0L642.8 121.0L643.0 121.7L643.1 122.0L643.5 123.0L643.9 124.0L644.0 124.4L644.3 125.0L644.6 126.0L644.9 127.0L645.0 127.3L645.2 128.0L645.3 129.0L645.3 130.0L645.2 131.0L645.0 131.9L645.0 132.0L644.4 133.0L644.0 133.5L643.4 134.0L643.0 134.3L642.0 134.7L641.0 135.0L640.9 135.0L640.0 135.2L639.0 135.3L638.0 135.5L637.0 135.7L636.0 135.9L635.5 136.0L635.0 136.1L634.0 136.5L633.0 136.8L632.6 137.0L632.0 137.2L631.0 137.7L630.3 138.0L630.0 138.2L629.0 138.6L628.1 139.0L628.0 139.1L627.0 139.5L626.0 139.8L625.2 140.0L625.0 140.0L624.0 140.2L623.0 140.4L622.0 140.4L621.0 140.5L620.0 140.5L619.0 140.4L618.0 140.4L617.0 140.3L616.0 140.2L615.0 140.1L614.1 140.0L614.0 140.0L613.0 139.9L612.0 139.8L611.0 139.6L610.0 139.5L609.0 139.3L608.0 139.1L607.7 139.0L607.0 138.8L606.0 138.6L605.0 138.3L604.0 138.1L603.8 138.0L603.0 137.8L602.0 137.4L601.0 137.1L600.8 137.0L600.0 136.7L599.0 136.3L598.3 136.0L598.0 135.8L597.0 135.3L596.4 135.0L596.0 134.7L595.0 134.1L594.9 134.0L594.0 133.4L593.5 133.0L593.0 132.6L592.3 132.0L592.0 131.8L591.1 131.0L591.0 130.9L590.0 130.0L589.9 130.0L589.0 129.2L588.8 129.0L588.0 128.2L587.7 128.0L587.0 127.3L586.7 127.0L586.0 126.3L585.6 126.0L585.0 125.4L584.6 125.0L584.0 124.3L583.7 124.0L583.0 123.2L582.8 123.0L582.0 122.1L581.9 122.0L581.1 121.0L581.0 120.8L580.4 120.0L580.0 119.4L579.7 119.0L579.1 118.0L579.0 117.9L578.5 117.0L578.0 116.1L577.9 116.0L577.4 115.0L577.0 114.2L576.9 114.0L576.5 113.0L576.0 112.0L576.0 111.9L575.6 111.0L575.2 110.0L575.0 109.4L574.9 109.0L574.5 108.0L574.2 107.0L574.0 106.5L573.8 106.0L573.6 105.0L573.3 104.0L573.2 103.0L573.1 102.0L573.1 101.0L573.2 100.0L573.4 99.0L573.8 98.0L574.0 97.7L574.4 97.0L575.0 96.3L575.3 96.0L576.0 95.4L576.6 95.0L577.0 94.7L578.0 94.1L578.2 94.0L579.0 93.6L580.0 93.2L580.5 93.0L581.0 92.8L582.0 92.4L583.0 92.1L583.5 92.0L584.0 91.8L585.0 91.6L586.0 91.4L587.0 91.2L588.0 91.0L588.1 91.0L589.0 90.9L590.0 90.7L591.0 90.6L592.0 90.5L593.0 90.3L594.0 90.2L595.0 90.1L596.0 90.1L597.0 90.0Z" fill="#fc9b7c"/>
<path d="M593.0 92.9L594.0 92.8L595.0 92.7L596.0 92.6L597.0 92.6L598.0 92.5L599.0 92.5L600.0 92.5L601.0 92.6L602.0 92.6L603.0 92.7L604.0 92.8L605.0 92.9L605.3 93.0L606.0 93.1L607.0 93.2L608.0 93.4L609.0 93.6L610.0 93.8L611.0 93.9L611.4 94.0L612.0 94.1L613.0 94.3L614.0 94.5L615.0 94.7L616.0 94.9L616.5 95.0L617.0 95.1L618.0 95.4L619.0 95.6L620.0 95.9L620.3 96.0L621.0 96.2L622.0 96.6L623.0 97.0L623.1 97.0L624.0 97.4L625.0 97.9L625.2 98.0L626.0 98.5L626.8 99.0L627.0 99.1L628.0 99.9L628.1 100.0L629.0 100.9L629.1 101.0L630.0 102.0L630.0 102.0L630.8 103.0L631.0 103.3L631.5 104.0L632.0 104.7L632.2 105.0L632.9 106.0L633.0 106.1L633.6 107.0L634.0 107.6L634.3 108.0L634.9 109.0L635.0 109.1L635.5 110.0L636.0 110.9L636.1 111.0L636.5 112.0L636.9 113.0L637.0 113.4L637.2 114.0L637.4 115.0L637.6 116.0L637.8 117.0L637.9 118.0L638.0 119.0L638.0 119.2L638.1 120.0L638.2 121.0L638.3 122.0L638.3 123.0L638.4 124.0L638.4 125.0L638.4 126.0L638.2 127.0L638.0 127.8L637.9 128.0L637.4 129.0L637.0 129.4L636.5 130.0L636.0 130.4L635.1 131.0L635.0 131.1L634.0 131.7L633.5 132.0L633.0 132.3L632.0 132.8L631.6 133.0L631.0 133.3L630.0 133.9L629.8 134.0L629.0 134.4L628.0 134.9L627.8 135.0L627.0 135.4L626.0 135.8L625.4 136.0L625.0 136.1L624.0 136.4L623.0 136.7L622.0 136.9L621.1 137.0L621.0 137.0L620.0 137.1L619.0 137.2L618.0 137.2L617.0 137.3L616.0 137.3L615.0 137.3L614.0 137.2L613.0 137.2L612.0 137.1L611.2 137.0L611.0 137.0L610.0 136.8L609.0 136.7L608.0 136.5L607.0 136.3L606.0 136.0L605.9 136.0L605.0 135.7L604.0 135.4L603.0 135.1L602.7 135.0L602.0 134.7L601.0 134.3L600.2 134.0L600.0 133.9L599.0 133.4L598.2 133.0L598.0 132.9L597.0 132.3L596.5 132.0L596.0 131.7L595.0 131.0L595.0 131.0L594.0 130.3L593.6 130.0L593.0 129.5L592.4 129.0L592.0 128.7L591.2 128.0L591.0 127.8L590.0 127.0L590.0 127.0L589.0 126.1L588.9 126.0L588.0 125.1L587.9 125.0L587.0 124.1L586.9 124.0L586.0 123.1L585.9 123.0L585.0 122.0L585.0 122.0L584.2 121.0L584.0 120.7L583.4 120.0L583.0 119.4L582.7 119.0L582.0 118.0L582.0 117.9L581.4 117.0L581.0 116.2L580.9 116.0L580.4 115.0L580.0 114.2L579.9 114.0L579.5 113.0L579.1 112.0L579.0 111.7L578.7 111.0L578.4 110.0L578.1 109.0L578.0 108.6L577.8 108.0L577.6 107.0L577.4 106.0L577.2 105.0L577.2 104.0L577.1 103.0L577.2 102.0L577.4 101.0L577.8 100.0L578.0 99.6L578.3 99.0L579.0 98.1L579.1 98.0L580.0 97.1L580.1 97.0L581.0 96.4L581.5 96.0L582.0 95.7L583.0 95.2L583.5 95.0L584.0 94.8L585.0 94.5L586.0 94.2L586.6 94.0L587.0 93.9L588.0 93.7L589.0 93.5L590.0 93.3L591.0 93.2L592.0 93.0L592.2 93.0Z" fill="#fb7a5a"/>
<path d="M596.0 95.0L597.0 94.9L598.0 94.8L599.0 94.8L600.0 94.8L601.0 94.8L602.0 94.9L603.0 94.9L604.0 95.0L604.0 95.0L605.0 95.1L606.0 95.2L607.0 95.3L608.0 95.5L609.0 95.6L610.0 95.8L611.0 95.9L611.3 96.0L612.0 96.1L613.0 96.3L614.0 96.5L615.0 96.7L616.0 96.9L616.2 97.0L617.0 97.2L618.0 97.5L619.0 97.8L619.4 98.0L620.0 98.2L621.0 98.7L621.7 99.0L622.0 99.2L623.0 99.8L623.4 100.0L624.0 100.5L624.7 101.0L625.0 101.3L625.8 102.0L626.0 102.2L626.7 103.0L627.0 103.4L627.5 104.0L628.0 104.6L628.3 105.0L629.0 106.0L629.0 106.1L629.6 107.0L630.0 107.5L630.3 108.0L630.9 109.0L631.0 109.1L631.5 110.0L632.0 110.8L632.1 111.0L632.6 112.0L633.0 112.9L633.0 113.0L633.4 114.0L633.7 115.0L633.9 116.0L634.0 116.6L634.1 117.0L634.2 118.0L634.2 119.0L634.2 120.0L634.2 121.0L634.1 122.0L634.0 122.4L633.9 123.0L633.7 124.0L633.4 125.0L633.0 125.8L632.9 126.0L632.3 127.0L632.0 127.4L631.5 128.0L631.0 128.5L630.5 129.0L630.0 129.4L629.3 130.0L629.0 130.2L628.0 130.9L627.8 131.0L627.0 131.5L626.2 132.0L626.0 132.1L625.0 132.6L624.0 133.0L624.0 133.0L623.0 133.4L622.0 133.7L621.0 133.9L620.7 134.0L620.0 134.2L619.0 134.3L618.0 134.4L617.0 134.6L616.0 134.6L615.0 134.7L614.0 134.7L613.0 134.7L612.0 134.6L611.0 134.5L610.0 134.4L609.0 134.3L608.0 134.1L607.6 134.0L607.0 133.9L606.0 133.6L605.0 133.3L604.1 133.0L604.0 133.0L603.0 132.6L602.0 132.2L601.5 132.0L601.0 131.8L600.0 131.3L599.4 131.0L599.0 130.8L598.0 130.2L597.6 130.0L597.0 129.6L596.1 129.0L596.0 129.0L595.0 128.3L594.7 128.0L594.0 127.5L593.4 127.0L593.0 126.7L592.2 126.0L592.0 125.9L591.0 125.0L591.0 125.0L590.0 124.1L589.9 124.0L589.0 123.1L588.9 123.0L588.0 122.0L588.0 122.0L587.1 121.0L587.0 120.9L586.3 120.0L586.0 119.6L585.5 119.0L585.0 118.2L584.8 118.0L584.2 117.0L584.0 116.6L583.7 116.0L583.1 115.0L583.0 114.7L582.7 114.0L582.3 113.0L582.0 112.2L581.9 112.0L581.6 111.0L581.3 110.0L581.1 109.0L581.0 108.5L580.9 108.0L580.8 107.0L580.7 106.0L580.6 105.0L580.7 104.0L580.8 103.0L581.0 102.4L581.1 102.0L581.5 101.0L582.0 100.3L582.2 100.0L583.0 99.1L583.1 99.0L584.0 98.3L584.4 98.0L585.0 97.6L586.0 97.1L586.3 97.0L587.0 96.7L588.0 96.4L589.0 96.1L589.4 96.0L590.0 95.9L591.0 95.7L592.0 95.5L593.0 95.3L594.0 95.2L595.0 95.1L595.7 95.0Z" fill="#f6583e"/>
<path d="M593.0 97.8L594.0 97.6L595.0 97.5L596.0 97.3L597.0 97.2L598.0 97.1L599.0 97.1L600.0 97.0L601.0 97.0L602.0 97.0L603.0 97.1L604.0 97.1L605.0 97.2L606.0 97.3L607.0 97.4L608.0 97.5L609.0 97.6L610.0 97.8L611.0 97.9L611.3 98.0L612.0 98.1L613.0 98.3L614.0 98.5L615.0 98.8L615.8 99.0L616.0 99.1L617.0 99.4L618.0 99.8L618.5 100.0L619.0 100.2L620.0 100.7L620.4 101.0L621.0 101.4L621.9 102.0L622.0 102.1L623.0 103.0L623.0 103.0L624.0 104.0L624.0 104.0L624.8 105.0L625.0 105.3L625.5 106.0L626.0 106.7L626.2 107.0L626.9 108.0L627.0 108.2L627.5 109.0L628.0 109.9L628.1 110.0L628.6 111.0L629.0 111.8L629.1 112.0L629.5 113.0L629.9 114.0L630.0 114.4L630.2 115.0L630.4 116.0L630.5 117.0L630.6 118.0L630.6 119.0L630.5 120.0L630.4 121.0L630.1 122.0L630.0 122.4L629.8 123.0L629.4 124.0L629.0 124.6L628.8 125.0L628.1 126.0L628.0 126.1L627.2 127.0L627.0 127.2L626.1 128.0L626.0 128.1L625.0 128.8L624.7 129.0L624.0 129.5L623.0 130.0L623.0 130.0L622.0 130.5L621.0 130.9L620.6 131.0L620.0 131.2L619.0 131.5L618.0 131.7L617.0 131.9L616.0 132.0L616.0 132.0L615.0 132.1L614.0 132.2L613.0 132.2L612.0 132.2L611.0 132.1L610.0 132.0L609.9 132.0L609.0 131.9L608.0 131.7L607.0 131.5L606.0 131.2L605.4 131.0L605.0 130.9L604.0 130.5L603.0 130.1L602.6 130.0L602.0 129.7L601.0 129.3L600.5 129.0L600.0 128.8L599.0 128.2L598.6 128.0L598.0 127.6L597.0 127.0L597.0 127.0L596.0 126.3L595.6 126.0L595.0 125.5L594.3 125.0L594.0 124.7L593.1 124.0L593.0 123.9L592.0 123.0L592.0 123.0L591.0 122.0L591.0 122.0L590.0 121.0L590.0 121.0L589.2 120.0L589.0 119.8L588.4 119.0L588.0 118.5L587.7 118.0L587.0 117.0L587.0 117.0L586.4 116.0L586.0 115.2L585.9 115.0L585.5 114.0L585.1 113.0L585.0 112.8L584.7 112.0L584.5 111.0L584.3 110.0L584.1 109.0L584.0 108.2L584.0 108.0L583.9 107.0L584.0 106.0L584.0 105.7L584.1 105.0L584.3 104.0L584.7 103.0L585.0 102.4L585.3 102.0L586.0 101.1L586.1 101.0L587.0 100.2L587.3 100.0L588.0 99.6L589.0 99.1L589.2 99.0L590.0 98.7L591.0 98.4L592.0 98.1L592.3 98.0Z" fill="#e83429"/>
<path d="M596.0 100.0L597.0 99.8L598.0 99.6L599.0 99.5L600.0 99.4L601.0 99.4L602.0 99.3L603.0 99.3L604.0 99.4L605.0 99.4L606.0 99.5L607.0 99.6L608.0 99.7L609.0 99.8L610.0 99.9L610.5 100.0L611.0 100.1L612.0 100.3L613.0 100.5L614.0 100.7L614.9 101.0L615.0 101.0L616.0 101.4L617.0 101.8L617.3 102.0L618.0 102.4L619.0 103.0L619.0 103.0L620.0 103.8L620.3 104.0L621.0 104.7L621.3 105.0L622.0 105.8L622.2 106.0L622.9 107.0L623.0 107.1L623.6 108.0L624.0 108.7L624.2 109.0L624.7 110.0L625.0 110.5L625.2 111.0L625.7 112.0L626.0 112.7L626.1 113.0L626.4 114.0L626.7 115.0L626.9 116.0L627.0 117.0L627.0 117.0L627.0 118.0L627.0 118.3L626.9 119.0L626.8 120.0L626.5 121.0L626.1 122.0L626.0 122.3L625.6 123.0L625.0 123.9L625.0 124.0L624.1 125.0L624.0 125.1L623.1 126.0L623.0 126.0L622.0 126.8L621.7 127.0L621.0 127.4L620.0 127.9L619.8 128.0L619.0 128.3L618.0 128.7L617.0 129.0L616.8 129.0L616.0 129.2L615.0 129.3L614.0 129.5L613.0 129.5L612.0 129.6L611.0 129.5L610.0 129.4L609.0 129.3L608.0 129.1L607.4 129.0L607.0 128.9L606.0 128.6L605.0 128.3L604.1 128.0L604.0 128.0L603.0 127.6L602.0 127.1L601.8 127.0L601.0 126.6L600.0 126.1L599.8 126.0L599.0 125.5L598.2 125.0L598.0 124.9L597.0 124.2L596.8 124.0L596.0 123.4L595.5 123.0L595.0 122.6L594.3 122.0L594.0 121.7L593.3 121.0L593.0 120.7L592.3 120.0L592.0 119.6L591.5 119.0L591.0 118.4L590.7 118.0L590.0 117.0L590.0 117.0L589.4 116.0L589.0 115.2L588.9 115.0L588.4 114.0L588.1 113.0L588.0 112.8L587.8 112.0L587.5 111.0L587.4 110.0L587.3 109.0L587.3 108.0L587.4 107.0L587.6 106.0L588.0 105.0L588.0 105.0L588.6 104.0L589.0 103.4L589.4 103.0L590.0 102.5L590.6 102.0L591.0 101.8L592.0 101.2L592.5 101.0L593.0 100.8L594.0 100.5L595.0 100.2L595.8 100.0Z" fill="#ca181d"/>
<path d="M604.0 102.0L604.2 102.0L605.0 102.0L606.0 102.0L607.0 102.1L608.0 102.2L609.0 102.3L610.0 102.5L611.0 102.6L612.0 102.9L612.5 103.0L613.0 103.1L614.0 103.5L615.0 103.9L615.2 104.0L616.0 104.4L616.9 105.0L617.0 105.1L618.0 105.9L618.2 106.0L619.0 106.9L619.1 107.0L619.9 108.0L620.0 108.2L620.6 109.0L621.0 109.8L621.1 110.0L621.6 111.0L622.0 111.8L622.1 112.0L622.4 113.0L622.7 114.0L622.9 115.0L623.0 115.5L623.1 116.0L623.1 117.0L623.0 118.0L623.0 118.1L622.8 119.0L622.5 120.0L622.1 121.0L622.0 121.1L621.4 122.0L621.0 122.5L620.6 123.0L620.0 123.5L619.4 124.0L619.0 124.3L618.0 124.9L617.8 125.0L617.0 125.4L616.0 125.8L615.2 126.0L615.0 126.1L614.0 126.3L613.0 126.4L612.0 126.5L611.0 126.5L610.0 126.4L609.0 126.3L608.0 126.2L607.1 126.0L607.0 126.0L606.0 125.7L605.0 125.4L604.0 125.0L604.0 125.0L603.0 124.6L602.0 124.1L601.8 124.0L601.0 123.5L600.1 123.0L600.0 123.0L599.0 122.3L598.6 122.0L598.0 121.5L597.3 121.0L597.0 120.7L596.2 120.0L596.0 119.8L595.2 119.0L595.0 118.8L594.3 118.0L594.0 117.5L593.6 117.0L593.0 116.1L592.9 116.0L592.4 115.0L592.0 114.1L592.0 114.0L591.6 113.0L591.4 112.0L591.2 111.0L591.2 110.0L591.3 109.0L591.5 108.0L591.8 107.0L592.0 106.7L592.4 106.0L593.0 105.3L593.3 105.0L594.0 104.5L594.7 104.0L595.0 103.8L596.0 103.4L597.0 103.0L597.0 103.0L598.0 102.7L599.0 102.5L600.0 102.3L601.0 102.2L602.0 102.1L603.0 102.0L603.9 102.0Z" fill="#ac1117"/>
<path d="M605.0 105.9L606.0 105.9L607.0 105.9L608.0 106.0L608.3 106.0L609.0 106.1L610.0 106.3L611.0 106.5L612.0 106.9L612.3 107.0L613.0 107.4L614.0 108.0L614.1 108.0L615.0 108.8L615.2 109.0L616.0 110.0L616.0 110.0L616.6 111.0L617.0 111.9L617.0 112.0L617.4 113.0L617.6 114.0L617.7 115.0L617.6 116.0L617.5 117.0L617.1 118.0L617.0 118.3L616.6 119.0L616.0 119.7L615.7 120.0L615.0 120.5L614.3 121.0L614.0 121.1L613.0 121.5L612.0 121.8L611.0 122.0L611.0 122.0L610.0 122.1L609.0 122.0L608.8 122.0L608.0 121.9L607.0 121.7L606.0 121.4L605.0 121.1L604.8 121.0L604.0 120.6L603.0 120.1L602.8 120.0L602.0 119.5L601.3 119.0L601.0 118.8L600.1 118.0L600.0 117.9L599.1 117.0L599.0 116.8L598.4 116.0L598.0 115.4L597.7 115.0L597.3 114.0L597.0 113.1L597.0 113.0L596.9 112.0L596.9 111.0L597.0 110.5L597.2 110.0L597.7 109.0L598.0 108.6L598.6 108.0L599.0 107.7L600.0 107.1L600.2 107.0L601.0 106.7L602.0 106.4L603.0 106.2L604.0 106.0L604.0 106.0Z" fill="#7e0610"/>
<path d="M555.0 74.9L556.0 74.9L557.0 74.8L558.0 74.8L559.0 74.9L559.5 75.0L560.0 75.1L561.0 75.4L562.0 75.9L562.2 76.0L563.0 76.7L563.3 77.0L563.9 78.0L564.0 78.2L564.4 79.0L564.7 80.0L565.0 81.0L565.0 81.1L565.3 82.0L565.6 83.0L566.0 84.0L566.0 84.1L566.3 85.0L566.7 86.0L567.0 87.0L567.0 87.0L567.3 88.0L567.6 89.0L567.8 90.0L568.0 91.0L568.0 91.0L568.2 92.0L568.4 93.0L568.5 94.0L568.6 95.0L568.6 96.0L568.6 97.0L568.5 98.0L568.4 99.0L568.2 100.0L568.0 101.0L568.0 101.1L567.8 102.0L567.6 103.0L567.3 104.0L567.0 105.0L567.0 105.0L566.7 106.0L566.4 107.0L566.0 108.0L566.0 108.0L565.7 109.0L565.4 110.0L565.1 111.0L565.0 111.2L564.8 112.0L564.3 113.0L564.0 113.6L563.7 114.0L563.0 114.9L562.9 115.0L562.0 115.7L561.4 116.0L561.0 116.2L560.0 116.5L559.0 116.8L558.0 116.9L557.0 116.9L556.0 117.0L555.0 117.0L554.0 116.9L553.0 116.8L552.0 116.7L551.0 116.4L550.0 116.0L550.0 116.0L549.0 115.5L548.1 115.0L548.0 114.9L547.0 114.2L546.8 114.0L546.0 113.3L545.7 113.0L545.0 112.3L544.7 112.0L544.0 111.1L544.0 111.0L543.3 110.0L543.0 109.6L542.7 109.0L542.2 108.0L542.0 107.6L541.7 107.0L541.3 106.0L541.0 105.0L541.0 105.0L540.7 104.0L540.4 103.0L540.2 102.0L540.0 101.0L540.0 100.9L539.8 100.0L539.7 99.0L539.5 98.0L539.4 97.0L539.2 96.0L539.0 95.0L539.0 94.9L538.8 94.0L538.6 93.0L538.5 92.0L538.5 91.0L538.6 90.0L538.9 89.0L539.0 88.8L539.3 88.0L539.9 87.0L540.0 86.9L540.6 86.0L541.0 85.4L541.3 85.0L542.0 84.0L542.0 83.9L542.6 83.0L543.0 82.4L543.3 82.0L544.0 81.0L544.0 81.0L544.8 80.0L545.0 79.7L545.7 79.0L546.0 78.7L546.8 78.0L547.0 77.8L548.0 77.1L548.1 77.0L549.0 76.5L550.0 76.0L550.0 76.0L551.0 75.6L552.0 75.3L553.0 75.1L554.0 75.0L554.3 75.0Z" fill="#dff3da"/>
<path d="M551.0 77.9L552.0 77.6L553.0 77.4L554.0 77.3L555.0 77.2L556.0 77.1L557.0 77.1L558.0 77.1L559.0 77.2L560.0 77.5L560.9 78.0L561.0 78.0L561.9 79.0L562.0 79.2L562.4 80.0L562.9 81.0L563.0 81.4L563.2 82.0L563.6 83.0L564.0 83.9L564.0 84.0L564.5 85.0L564.9 86.0L565.0 86.4L565.3 87.0L565.6 88.0L565.9 89.0L566.0 89.4L566.2 90.0L566.4 91.0L566.6 92.0L566.7 93.0L566.8 94.0L566.9 95.0L566.9 96.0L566.9 97.0L566.8 98.0L566.7 99.0L566.6 100.0L566.4 101.0L566.2 102.0L566.0 102.6L565.9 103.0L565.6 104.0L565.3 105.0L565.0 105.7L564.9 106.0L564.5 107.0L564.1 108.0L564.0 108.4L563.8 109.0L563.4 110.0L563.0 111.0L563.0 111.1L562.6 112.0L562.0 112.9L561.9 113.0L561.0 113.8L560.6 114.0L560.0 114.3L559.0 114.6L558.0 114.7L557.0 114.8L556.0 114.8L555.0 114.8L554.0 114.7L553.0 114.6L552.0 114.4L551.0 114.1L550.9 114.0L550.0 113.6L549.0 113.1L548.9 113.0L548.0 112.4L547.5 112.0L547.0 111.6L546.4 111.0L546.0 110.5L545.6 110.0L545.0 109.2L544.8 109.0L544.2 108.0L544.0 107.6L543.6 107.0L543.2 106.0L543.0 105.6L542.8 105.0L542.4 104.0L542.1 103.0L542.0 102.6L541.8 102.0L541.6 101.0L541.4 100.0L541.3 99.0L541.1 98.0L541.0 97.0L541.0 97.0L540.8 96.0L540.7 95.0L540.5 94.0L540.3 93.0L540.3 92.0L540.3 91.0L540.5 90.0L540.8 89.0L541.0 88.7L541.4 88.0L542.0 87.0L542.0 87.0L542.7 86.0L543.0 85.5L543.4 85.0L544.0 84.1L544.1 84.0L544.8 83.0L545.0 82.7L545.5 82.0L546.0 81.5L546.4 81.0L547.0 80.4L547.5 80.0L548.0 79.6L548.9 79.0L549.0 78.9L550.0 78.4L550.9 78.0Z" fill="#c7e9c0"/>
<path d="M554.0 79.0L555.0 78.9L556.0 78.9L557.0 78.9L557.9 79.0L558.0 79.0L559.0 79.3L560.0 79.9L560.1 80.0L560.9 81.0L561.0 81.1L561.5 82.0L562.0 83.0L562.0 83.0L562.5 84.0L563.0 85.0L563.0 85.0L563.5 86.0L563.9 87.0L564.0 87.2L564.3 88.0L564.6 89.0L564.9 90.0L565.0 90.3L565.2 91.0L565.4 92.0L565.5 93.0L565.6 94.0L565.7 95.0L565.7 96.0L565.7 97.0L565.6 98.0L565.5 99.0L565.4 100.0L565.2 101.0L565.0 101.7L564.9 102.0L564.6 103.0L564.3 104.0L564.0 104.8L563.9 105.0L563.5 106.0L563.1 107.0L563.0 107.2L562.7 108.0L562.2 109.0L562.0 109.5L561.8 110.0L561.2 111.0L561.0 111.3L560.3 112.0L560.0 112.2L559.0 112.7L558.0 113.0L557.8 113.0L557.0 113.1L556.0 113.1L555.0 113.1L554.0 113.0L553.7 113.0L553.0 112.9L552.0 112.7L551.0 112.3L550.3 112.0L550.0 111.9L549.0 111.3L548.7 111.0L548.0 110.5L547.5 110.0L547.0 109.5L546.5 109.0L546.0 108.3L545.8 108.0L545.1 107.0L545.0 106.8L544.6 106.0L544.1 105.0L544.0 104.7L543.7 104.0L543.4 103.0L543.1 102.0L543.0 101.7L542.8 101.0L542.6 100.0L542.5 99.0L542.3 98.0L542.2 97.0L542.1 96.0L542.0 95.6L541.9 95.0L541.8 94.0L541.7 93.0L541.6 92.0L541.7 91.0L541.9 90.0L542.0 89.9L542.4 89.0L542.9 88.0L543.0 87.9L543.6 87.0L544.0 86.4L544.3 86.0L545.0 85.0L545.0 85.0L545.7 84.0L546.0 83.6L546.5 83.0L547.0 82.5L547.5 82.0L548.0 81.5L548.7 81.0L549.0 80.7L550.0 80.1L550.3 80.0L551.0 79.7L552.0 79.3L553.0 79.1L553.7 79.0Z" fill="#a9dca3"/>
<path d="M552.0 80.8L553.0 80.6L554.0 80.4L555.0 80.4L556.0 80.5L557.0 80.6L558.0 80.9L558.2 81.0L559.0 81.5L559.5 82.0L560.0 82.5L560.4 83.0L561.0 83.9L561.1 84.0L561.7 85.0L562.0 85.6L562.2 86.0L562.7 87.0L563.0 87.7L563.1 88.0L563.5 89.0L563.8 90.0L564.0 90.6L564.1 91.0L564.3 92.0L564.5 93.0L564.6 94.0L564.7 95.0L564.7 96.0L564.7 97.0L564.6 98.0L564.5 99.0L564.3 100.0L564.1 101.0L564.0 101.4L563.8 102.0L563.5 103.0L563.2 104.0L563.0 104.4L562.7 105.0L562.3 106.0L562.0 106.6L561.8 107.0L561.2 108.0L561.0 108.4L560.6 109.0L560.0 109.9L559.9 110.0L559.0 110.8L558.6 111.0L558.0 111.2L557.0 111.5L556.0 111.6L555.0 111.6L554.0 111.6L553.0 111.4L552.0 111.2L551.5 111.0L551.0 110.8L550.0 110.3L549.5 110.0L549.0 109.6L548.3 109.0L548.0 108.8L547.3 108.0L547.0 107.7L546.5 107.0L546.0 106.2L545.9 106.0L545.3 105.0L545.0 104.3L544.9 104.0L544.5 103.0L544.2 102.0L544.0 101.4L543.9 101.0L543.7 100.0L543.5 99.0L543.3 98.0L543.2 97.0L543.1 96.0L543.0 95.1L543.0 95.0L542.9 94.0L542.8 93.0L542.8 92.0L543.0 91.0L543.0 90.9L543.3 90.0L543.7 89.0L544.0 88.5L544.3 88.0L545.0 87.0L545.0 87.0L545.7 86.0L546.0 85.5L546.4 85.0L547.0 84.3L547.3 84.0L548.0 83.2L548.2 83.0L549.0 82.4L549.5 82.0L550.0 81.7L551.0 81.2L551.5 81.0Z" fill="#86cc85"/>
<path d="M553.0 82.0L554.0 81.9L555.0 81.9L556.0 82.0L556.0 82.0L557.0 82.3L558.0 82.8L558.3 83.0L559.0 83.5L559.4 84.0L560.0 84.7L560.2 85.0L560.9 86.0L561.0 86.1L561.5 87.0L562.0 88.0L562.0 88.0L562.4 89.0L562.8 90.0L563.0 90.7L563.1 91.0L563.3 92.0L563.5 93.0L563.6 94.0L563.7 95.0L563.7 96.0L563.7 97.0L563.6 98.0L563.5 99.0L563.3 100.0L563.1 101.0L563.0 101.3L562.8 102.0L562.4 103.0L562.0 104.0L562.0 104.1L561.5 105.0L561.0 106.0L561.0 106.0L560.4 107.0L560.0 107.6L559.6 108.0L559.0 108.7L558.6 109.0L558.0 109.4L557.0 109.9L556.4 110.0L556.0 110.1L555.0 110.2L554.0 110.2L553.0 110.0L552.9 110.0L552.0 109.8L551.0 109.4L550.3 109.0L550.0 108.8L549.0 108.1L548.9 108.0L548.0 107.1L547.9 107.0L547.2 106.0L547.0 105.8L546.5 105.0L546.0 104.0L546.0 104.0L545.6 103.0L545.2 102.0L545.0 101.3L544.9 101.0L544.7 100.0L544.5 99.0L544.3 98.0L544.2 97.0L544.1 96.0L544.0 95.0L544.0 94.9L543.9 94.0L543.9 93.0L544.0 92.0L544.0 91.9L544.2 91.0L544.5 90.0L545.0 89.0L545.0 89.0L545.6 88.0L546.0 87.4L546.3 87.0L547.0 86.1L547.1 86.0L547.9 85.0L548.0 84.9L548.9 84.0L549.0 83.9L550.0 83.2L550.3 83.0L551.0 82.6L552.0 82.2L552.9 82.0Z" fill="#60ba6c"/>
<path d="M552.0 83.7L553.0 83.4L554.0 83.3L555.0 83.3L556.0 83.5L557.0 83.9L557.1 84.0L558.0 84.5L558.5 85.0L559.0 85.5L559.5 86.0L560.0 86.7L560.2 87.0L560.8 88.0L561.0 88.4L561.3 89.0L561.7 90.0L562.0 90.8L562.1 91.0L562.3 92.0L562.5 93.0L562.6 94.0L562.7 95.0L562.8 96.0L562.7 97.0L562.6 98.0L562.5 99.0L562.3 100.0L562.1 101.0L562.0 101.2L561.7 102.0L561.3 103.0L561.0 103.7L560.8 104.0L560.2 105.0L560.0 105.4L559.5 106.0L559.0 106.7L558.7 107.0L558.0 107.6L557.3 108.0L557.0 108.2L556.0 108.5L555.0 108.7L554.0 108.7L553.0 108.6L552.0 108.3L551.2 108.0L551.0 107.9L550.0 107.3L549.7 107.0L549.0 106.4L548.6 106.0L548.0 105.2L547.8 105.0L547.2 104.0L547.0 103.6L546.7 103.0L546.3 102.0L546.0 101.2L545.9 101.0L545.7 100.0L545.5 99.0L545.3 98.0L545.2 97.0L545.1 96.0L545.0 95.0L545.0 94.0L545.0 93.0L545.2 92.0L545.4 91.0L545.8 90.0L546.0 89.6L546.4 89.0L547.0 88.0L547.0 88.0L547.7 87.0L548.0 86.7L548.6 86.0L549.0 85.6L549.7 85.0L550.0 84.7L551.0 84.1L551.2 84.0Z" fill="#3ba458"/>
<path d="M553.0 84.9L554.0 84.8L555.0 84.9L555.4 85.0L556.0 85.2L557.0 85.7L557.5 86.0L558.0 86.4L558.6 87.0L559.0 87.5L559.4 88.0L560.0 89.0L560.0 89.0L560.5 90.0L560.9 91.0L561.0 91.3L561.2 92.0L561.4 93.0L561.6 94.0L561.7 95.0L561.7 96.0L561.7 97.0L561.6 98.0L561.4 99.0L561.2 100.0L561.0 100.7L560.9 101.0L560.5 102.0L560.0 103.0L560.0 103.0L559.4 104.0L559.0 104.6L558.6 105.0L558.0 105.6L557.6 106.0L557.0 106.4L556.0 106.9L555.5 107.0L555.0 107.1L554.0 107.2L553.0 107.1L552.8 107.0L552.0 106.8L551.0 106.3L550.6 106.0L550.0 105.5L549.5 105.0L549.0 104.5L548.7 104.0L548.0 103.0L548.0 103.0L547.5 102.0L547.1 101.0L547.0 100.7L546.8 100.0L546.6 99.0L546.4 98.0L546.3 97.0L546.2 96.0L546.2 95.0L546.2 94.0L546.3 93.0L546.5 92.0L546.8 91.0L547.0 90.5L547.2 90.0L547.8 89.0L548.0 88.7L548.5 88.0L549.0 87.4L549.4 87.0L550.0 86.5L550.6 86.0L551.0 85.7L552.0 85.2L552.8 85.0Z" fill="#228a44"/>
<path d="M553.0 86.8L554.0 86.7L555.0 86.8L555.6 87.0L556.0 87.1L557.0 87.8L557.3 88.0L558.0 88.7L558.2 89.0L558.9 90.0L559.0 90.1L559.4 91.0L559.8 92.0L560.0 92.6L560.1 93.0L560.3 94.0L560.4 95.0L560.4 96.0L560.4 97.0L560.3 98.0L560.1 99.0L560.0 99.4L559.8 100.0L559.4 101.0L559.0 101.9L558.9 102.0L558.2 103.0L558.0 103.3L557.3 104.0L557.0 104.3L556.0 104.9L555.7 105.0L555.0 105.2L554.0 105.3L553.0 105.2L552.4 105.0L552.0 104.8L551.0 104.2L550.7 104.0L550.0 103.3L549.8 103.0L549.1 102.0L549.0 101.9L548.6 101.0L548.2 100.0L548.0 99.4L547.9 99.0L547.7 98.0L547.6 97.0L547.5 96.0L547.5 95.0L547.6 94.0L547.7 93.0L548.0 92.0L548.0 91.9L548.4 91.0L548.9 90.0L549.0 89.9L549.7 89.0L550.0 88.6L550.7 88.0L551.0 87.8L552.0 87.2L552.4 87.0Z" fill="#077331"/>
<path d="M553.0 89.7L554.0 89.5L555.0 89.7L555.6 90.0L556.0 90.2L556.8 91.0L557.0 91.2L557.5 92.0L558.0 93.0L558.0 93.1L558.2 94.0L558.4 95.0L558.4 96.0L558.4 97.0L558.2 98.0L558.0 98.9L558.0 99.0L557.5 100.0L557.0 100.8L556.8 101.0L556.0 101.8L555.6 102.0L555.0 102.3L554.0 102.5L553.0 102.3L552.4 102.0L552.0 101.8L551.2 101.0L551.0 100.8L550.5 100.0L550.0 99.0L550.0 99.0L549.8 98.0L549.6 97.0L549.5 96.0L549.6 95.0L549.7 94.0L549.9 93.0L550.0 92.8L550.4 92.0L551.0 91.1L551.1 91.0L552.0 90.2L552.3 90.0Z" fill="#005321"/>
<circle cx="548.0" cy="92.8" r="1.8" fill="#245c31" fill-opacity="0.4" stroke="#163c1f" stroke-width="0.7"/><circle cx="558.9" cy="101.1" r="1.8" fill="#245c31" fill-opacity="0.4" stroke="#163c1f" stroke-width="0.7"/><circle cx="561.8" cy="91.2" r="1.8" fill="#245c31" fill-opacity="0.4" stroke="#163c1f" stroke-width="0.7"/><circle cx="546.7" cy="98.8" r="1.8" fill="#245c31" fill-opacity="0.4" stroke="#163c1f" stroke-width="0.7"/><circle cx="555.7" cy="89.1" r="1.8" fill="#245c31" fill-opacity="0.4" stroke="#163c1f" stroke-width="0.7"/><circle cx="551.0" cy="97.6" r="1.8" fill="#245c31" fill-opacity="0.4" stroke="#163c1f" stroke-width="0.7"/><circle cx="555.9" cy="99.9" r="1.8" fill="#245c31" fill-opacity="0.4" stroke="#163c1f" stroke-width="0.7"/><circle cx="559.7" cy="100.7" r="1.8" fill="#245c31" fill-opacity="0.4" stroke="#163c1f" stroke-width="0.7"/><circle cx="551.4" cy="102.6" r="1.8" fill="#245c31" fill-opacity="0.4" stroke="#163c1f" stroke-width="0.7"/><circle cx="551.5" cy="91.5" r="1.8" fill="#245c31" fill-opacity="0.4" stroke="#163c1f" stroke-width="0.7"/><circle cx="553.7" cy="98.8" r="1.8" fill="#245c31" fill-opacity="0.4" stroke="#163c1f" stroke-width="0.7"/><circle cx="551.2" cy="100.8" r="1.8" fill="#245c31" fill-opacity="0.4" stroke="#163c1f" stroke-width="0.7"/><circle cx="551.9" cy="95.9" r="1.8" fill="#245c31" fill-opacity="0.4" stroke="#163c1f" stroke-width="0.7"/><circle cx="555.6" cy="95.6" r="1.8" fill="#245c31" fill-opacity="0.4" stroke="#163c1f" stroke-width="0.7"/><circle cx="549.0" cy="99.3" r="1.8" fill="#245c31" fill-opacity="0.4" stroke="#163c1f" stroke-width="0.7"/><circle cx="554.6" cy="106.5" r="1.8" fill="#245c31" fill-opacity="0.4" stroke="#163c1f" stroke-width="0.7"/><circle cx="554.9" cy="99.9" r="1.8" fill="#245c31" fill-opacity="0.4" stroke="#163c1f" stroke-width="0.7"/><circle cx="548.7" cy="97.4" r="1.8" fill="#245c31" fill-opacity="0.4" stroke="#163c1f" stroke-width="0.7"/><circle cx="558.3" cy="104.2" r="1.8" fill="#245c31" fill-opacity="0.4" stroke="#163c1f" stroke-width="0.7"/><circle cx="561.1" cy="90.8" r="1.8" fill="#245c31" fill-opacity="0.4" stroke="#163c1f" stroke-width="0.7"/><circle cx="554.4" cy="97.3" r="1.8" fill="#245c31" fill-opacity="0.4" stroke="#163c1f" stroke-width="0.7"/><circle cx="552.4" cy="92.6" r="1.8" fill="#245c31" fill-opacity="0.4" stroke="#163c1f" stroke-width="0.7"/><circle cx="557.6" cy="91.3" r="1.8" fill="#245c31" fill-opacity="0.4" stroke="#163c1f" stroke-width="0.7"/><circle cx="559.7" cy="89.2" r="1.8" fill="#245c31" fill-opacity="0.4" stroke="#163c1f" stroke-width="0.7"/><circle cx="557.6" cy="100.6" r="1.8" fill="#245c31" fill-opacity="0.4" stroke="#163c1f" stroke-width="0.7"/><circle cx="553.9" cy="99.3" r="1.8" fill="#245c31" fill-opacity="0.4" stroke="#163c1f" stroke-width="0.7"/><circle cx="548.9" cy="96.5" r="1.8" fill="#245c31" fill-opacity="0.4" stroke="#163c1f" stroke-width="0.7"/><circle cx="562.3" cy="95.4" r="1.8" fill="#245c31" fill-opacity="0.4" stroke="#163c1f" stroke-width="0.7"/><circle cx="535.6" cy="113.9" r="1.8" fill="#245c31" fill-opacity="0.4" stroke="#163c1f" stroke-width="0.7"/><circle cx="541.8" cy="90.7" r="1.8" fill="#245c31" fill-opacity="0.4" stroke="#163c1f" stroke-width="0.7"/><circle cx="573.7" cy="78.6" r="1.8" fill="#245c31" fill-opacity="0.4" stroke="#163c1f" stroke-width="0.7"/><circle cx="575.7" cy="96.4" r="1.8" fill="#245c31" fill-opacity="0.4" stroke="#163c1f" stroke-width="0.7"/><circle cx="560.7" cy="78.6" r="1.8" fill="#245c31" fill-opacity="0.4" stroke="#163c1f" stroke-width="0.7"/><circle cx="560.7" cy="112.5" r="1.8" fill="#245c31" fill-opacity="0.4" stroke="#163c1f" stroke-width="0.7"/>
<path d="M626.9 106.5h3.4v3.4h-3.4zM591.0 118.1h3.4v3.4h-3.4zM599.0 125.8h3.4v3.4h-3.4zM603.0 103.2h3.4v3.4h-3.4zM594.2 121.2h3.4v3.4h-3.4zM601.0 98.6h3.4v3.4h-3.4zM596.9 113.7h3.4v3.4h-3.4zM630.4 125.8h3.4v3.4h-3.4zM618.4 109.3h3.4v3.4h-3.4zM609.3 118.1h3.4v3.4h-3.4zM608.6 120.7h3.4v3.4h-3.4zM590.4 112.8h3.4v3.4h-3.4zM624.3 113.0h3.4v3.4h-3.4zM583.8 105.4h3.4v3.4h-3.4zM593.0 100.1h3.4v3.4h-3.4zM589.7 95.8h3.4v3.4h-3.4zM585.6 95.2h3.4v3.4h-3.4zM623.6 119.4h3.4v3.4h-3.4zM616.7 116.7h3.4v3.4h-3.4zM581.4 113.3h3.4v3.4h-3.4zM608.5 127.6h3.4v3.4h-3.4zM604.5 106.5h3.4v3.4h-3.4zM613.2 115.8h3.4v3.4h-3.4zM600.8 115.9h3.4v3.4h-3.4zM617.1 102.5h3.4v3.4h-3.4zM580.8 99.5h3.4v3.4h-3.4zM627.1 126.9h3.4v3.4h-3.4zM587.0 105.5h3.4v3.4h-3.4zM623.8 117.7h3.4v3.4h-3.4zM593.9 113.3h3.4v3.4h-3.4zM580.3 100.1h3.4v3.4h-3.4zM611.6 112.0h3.4v3.4h-3.4zM592.8 101.0h3.4v3.4h-3.4zM586.8 108.4h3.4v3.4h-3.4zM618.9 116.7h3.4v3.4h-3.4zM591.5 115.7h3.4v3.4h-3.4zM589.7 98.5h3.4v3.4h-3.4zM605.7 94.4h3.4v3.4h-3.4zM590.5 118.9h3.4v3.4h-3.4zM587.9 100.5h3.4v3.4h-3.4zM630.1 125.9h3.4v3.4h-3.4zM613.7 115.3h3.4v3.4h-3.4zM595.1 102.4h3.4v3.4h-3.4zM612.3 106.3h3.4v3.4h-3.4zM607.7 106.4h3.4v3.4h-3.4zM622.1 100.3h3.4v3.4h-3.4zM612.7 114.8h3.4v3.4h-3.4zM594.8 120.8h3.4v3.4h-3.4zM599.0 103.0h3.4v3.4h-3.4zM620.1 99.4h3.4v3.4h-3.4zM601.8 121.8h3.4v3.4h-3.4zM607.9 116.3h3.4v3.4h-3.4zM606.4 119.9h3.4v3.4h-3.4zM604.3 110.4h3.4v3.4h-3.4zM602.4 117.4h3.4v3.4h-3.4zM591.9 106.4h3.4v3.4h-3.4zM595.7 107.0h3.4v3.4h-3.4zM587.9 116.6h3.4v3.4h-3.4zM610.5 112.8h3.4v3.4h-3.4zM602.0 119.9h3.4v3.4h-3.4zM590.0 113.7h3.4v3.4h-3.4zM622.6 110.3h3.4v3.4h-3.4zM618.5 114.4h3.4v3.4h-3.4zM585.1 102.8h3.4v3.4h-3.4zM626.1 125.4h3.4v3.4h-3.4zM601.0 121.4h3.4v3.4h-3.4zM616.4 118.9h3.4v3.4h-3.4zM603.0 122.6h3.4v3.4h-3.4zM598.0 118.8h3.4v3.4h-3.4zM599.8 114.8h3.4v3.4h-3.4zM627.7 122.6h3.4v3.4h-3.4zM597.2 94.5h3.4v3.4h-3.4zM596.6 122.5h3.4v3.4h-3.4zM592.1 111.5h3.4v3.4h-3.4zM609.5 108.9h3.4v3.4h-3.4zM603.2 110.3h3.4v3.4h-3.4zM608.9 131.4h3.4v3.4h-3.4zM617.6 104.0h3.4v3.4h-3.4zM606.7 104.0h3.4v3.4h-3.4zM591.4 112.4h3.4v3.4h-3.4zM598.8 124.3h3.4v3.4h-3.4zM620.2 119.6h3.4v3.4h-3.4zM604.7 115.0h3.4v3.4h-3.4zM606.1 121.2h3.4v3.4h-3.4zM596.0 114.5h3.4v3.4h-3.4zM611.7 125.9h3.4v3.4h-3.4zM593.0 121.1h3.4v3.4h-3.4zM595.1 105.0h3.4v3.4h-3.4zM615.1 117.7h3.4v3.4h-3.4zM598.8 99.4h3.4v3.4h-3.4zM603.1 45.3h3.4v3.4h-3.4zM624.0 46.7h3.4v3.4h-3.4zM650.0 53.2h3.4v3.4h-3.4zM602.5 58.5h3.4v3.4h-3.4zM600.2 78.6h3.4v3.4h-3.4zM566.3 88.5h3.4v3.4h-3.4zM624.8 94.7h3.4v3.4h-3.4zM633.3 96.9h3.4v3.4h-3.4zM616.3 98.3h3.4v3.4h-3.4zM646.0 106.8h3.4v3.4h-3.4zM651.1 121.0h3.4v3.4h-3.4zM636.1 110.8h3.4v3.4h-3.4zM643.2 127.2h3.4v3.4h-3.4zM636.1 129.1h3.4v3.4h-3.4zM646.0 134.3h3.4v3.4h-3.4zM622.8 137.1h3.4v3.4h-3.4zM607.9 135.6h3.4v3.4h-3.4zM594.3 135.6h3.4v3.4h-3.4zM616.3 149.2h3.4v3.4h-3.4zM568.9 98.3h3.4v3.4h-3.4zM581.0 95.5h3.4v3.4h-3.4z" fill="#e0182a"/><path d="M627.4 107.0l2.4 2.4M627.4 109.4l2.4 -2.4M591.5 118.6l2.4 2.4M591.5 121.0l2.4 -2.4M599.5 126.3l2.4 2.4M599.5 128.7l2.4 -2.4M603.5 103.7l2.4 2.4M603.5 106.1l2.4 -2.4M594.7 121.7l2.4 2.4M594.7 124.1l2.4 -2.4M601.5 99.1l2.4 2.4M601.5 101.5l2.4 -2.4M597.4 114.2l2.4 2.4M597.4 116.6l2.4 -2.4M630.9 126.3l2.4 2.4M630.9 128.7l2.4 -2.4M618.9 109.8l2.4 2.4M618.9 112.2l2.4 -2.4M609.8 118.6l2.4 2.4M609.8 121.0l2.4 -2.4M609.1 121.2l2.4 2.4M609.1 123.6l2.4 -2.4M590.9 113.3l2.4 2.4M590.9 115.7l2.4 -2.4M624.8 113.5l2.4 2.4M624.8 115.9l2.4 -2.4M584.3 105.9l2.4 2.4M584.3 108.3l2.4 -2.4M593.5 100.6l2.4 2.4M593.5 103.0l2.4 -2.4M590.2 96.3l2.4 2.4M590.2 98.7l2.4 -2.4M586.1 95.7l2.4 2.4M586.1 98.1l2.4 -2.4M624.1 119.9l2.4 2.4M624.1 122.3l2.4 -2.4M617.2 117.2l2.4 2.4M617.2 119.6l2.4 -2.4M581.9 113.8l2.4 2.4M581.9 116.2l2.4 -2.4M609.0 128.1l2.4 2.4M609.0 130.5l2.4 -2.4M605.0 107.0l2.4 2.4M605.0 109.4l2.4 -2.4M613.7 116.3l2.4 2.4M613.7 118.7l2.4 -2.4M601.3 116.4l2.4 2.4M601.3 118.8l2.4 -2.4M617.6 103.0l2.4 2.4M617.6 105.4l2.4 -2.4M581.3 100.0l2.4 2.4M581.3 102.4l2.4 -2.4M627.6 127.4l2.4 2.4M627.6 129.8l2.4 -2.4M587.5 106.0l2.4 2.4M587.5 108.4l2.4 -2.4M624.3 118.2l2.4 2.4M624.3 120.6l2.4 -2.4M594.4 113.8l2.4 2.4M594.4 116.2l2.4 -2.4M580.8 100.6l2.4 2.4M580.8 103.0l2.4 -2.4M612.1 112.5l2.4 2.4M612.1 114.9l2.4 -2.4M593.3 101.5l2.4 2.4M593.3 103.9l2.4 -2.4M587.3 108.9l2.4 2.4M587.3 111.3l2.4 -2.4M619.4 117.2l2.4 2.4M619.4 119.6l2.4 -2.4M592.0 116.2l2.4 2.4M592.0 118.6l2.4 -2.4M590.2 99.0l2.4 2.4M590.2 101.4l2.4 -2.4M606.2 94.9l2.4 2.4M606.2 97.3l2.4 -2.4M591.0 119.4l2.4 2.4M591.0 121.8l2.4 -2.4M588.4 101.0l2.4 2.4M588.4 103.4l2.4 -2.4M630.6 126.4l2.4 2.4M630.6 128.8l2.4 -2.4M614.2 115.8l2.4 2.4M614.2 118.2l2.4 -2.4M595.6 102.9l2.4 2.4M595.6 105.3l2.4 -2.4M612.8 106.8l2.4 2.4M612.8 109.2l2.4 -2.4M608.2 106.9l2.4 2.4M608.2 109.3l2.4 -2.4M622.6 100.8l2.4 2.4M622.6 103.2l2.4 -2.4M613.2 115.3l2.4 2.4M613.2 117.7l2.4 -2.4M595.3 121.3l2.4 2.4M595.3 123.7l2.4 -2.4M599.5 103.5l2.4 2.4M599.5 105.9l2.4 -2.4M620.6 99.9l2.4 2.4M620.6 102.3l2.4 -2.4M602.3 122.3l2.4 2.4M602.3 124.7l2.4 -2.4M608.4 116.8l2.4 2.4M608.4 119.2l2.4 -2.4M606.9 120.4l2.4 2.4M606.9 122.8l2.4 -2.4M604.8 110.9l2.4 2.4M604.8 113.3l2.4 -2.4M602.9 117.9l2.4 2.4M602.9 120.3l2.4 -2.4M592.4 106.9l2.4 2.4M592.4 109.3l2.4 -2.4M596.2 107.5l2.4 2.4M596.2 109.9l2.4 -2.4M588.4 117.1l2.4 2.4M588.4 119.5l2.4 -2.4M611.0 113.3l2.4 2.4M611.0 115.7l2.4 -2.4M602.5 120.4l2.4 2.4M602.5 122.8l2.4 -2.4M590.5 114.2l2.4 2.4M590.5 116.6l2.4 -2.4M623.1 110.8l2.4 2.4M623.1 113.2l2.4 -2.4M619.0 114.9l2.4 2.4M619.0 117.3l2.4 -2.4M585.6 103.3l2.4 2.4M585.6 105.7l2.4 -2.4M626.6 125.9l2.4 2.4M626.6 128.3l2.4 -2.4M601.5 121.9l2.4 2.4M601.5 124.3l2.4 -2.4M616.9 119.4l2.4 2.4M616.9 121.8l2.4 -2.4M603.5 123.1l2.4 2.4M603.5 125.5l2.4 -2.4M598.5 119.3l2.4 2.4M598.5 121.7l2.4 -2.4M600.3 115.3l2.4 2.4M600.3 117.7l2.4 -2.4M628.2 123.1l2.4 2.4M628.2 125.5l2.4 -2.4M597.7 95.0l2.4 2.4M597.7 97.4l2.4 -2.4M597.1 123.0l2.4 2.4M597.1 125.4l2.4 -2.4M592.6 112.0l2.4 2.4M592.6 114.4l2.4 -2.4M610.0 109.4l2.4 2.4M610.0 111.8l2.4 -2.4M603.7 110.8l2.4 2.4M603.7 113.2l2.4 -2.4M609.4 131.9l2.4 2.4M609.4 134.3l2.4 -2.4M618.1 104.5l2.4 2.4M618.1 106.9l2.4 -2.4M607.2 104.5l2.4 2.4M607.2 106.9l2.4 -2.4M591.9 112.9l2.4 2.4M591.9 115.3l2.4 -2.4M599.3 124.8l2.4 2.4M599.3 127.2l2.4 -2.4M620.7 120.1l2.4 2.4M620.7 122.5l2.4 -2.4M605.2 115.5l2.4 2.4M605.2 117.9l2.4 -2.4M606.6 121.7l2.4 2.4M606.6 124.1l2.4 -2.4M596.5 115.0l2.4 2.4M596.5 117.4l2.4 -2.4M612.2 126.4l2.4 2.4M612.2 128.8l2.4 -2.4M593.5 121.6l2.4 2.4M593.5 124.0l2.4 -2.4M595.6 105.5l2.4 2.4M595.6 107.9l2.4 -2.4M615.6 118.2l2.4 2.4M615.6 120.6l2.4 -2.4M599.3 99.9l2.4 2.4M599.3 102.3l2.4 -2.4M603.6 45.8l2.4 2.4M603.6 48.2l2.4 -2.4M624.5 47.2l2.4 2.4M624.5 49.6l2.4 -2.4M650.5 53.7l2.4 2.4M650.5 56.1l2.4 -2.4M603.0 59.0l2.4 2.4M603.0 61.4l2.4 -2.4M600.7 79.1l2.4 2.4M600.7 81.5l2.4 -2.4M566.8 89.0l2.4 2.4M566.8 91.4l2.4 -2.4M625.3 95.2l2.4 2.4M625.3 97.6l2.4 -2.4M633.8 97.4l2.4 2.4M633.8 99.8l2.4 -2.4M616.8 98.8l2.4 2.4M616.8 101.2l2.4 -2.4M646.5 107.3l2.4 2.4M646.5 109.7l2.4 -2.4M651.6 121.5l2.4 2.4M651.6 123.9l2.4 -2.4M636.6 111.3l2.4 2.4M636.6 113.7l2.4 -2.4M643.7 127.7l2.4 2.4M643.7 130.1l2.4 -2.4M636.6 129.6l2.4 2.4M636.6 132.0l2.4 -2.4M646.5 134.8l2.4 2.4M646.5 137.2l2.4 -2.4M623.3 137.6l2.4 2.4M623.3 140.0l2.4 -2.4M608.4 136.1l2.4 2.4M608.4 138.5l2.4 -2.4M594.8 136.1l2.4 2.4M594.8 138.5l2.4 -2.4M616.8 149.7l2.4 2.4M616.8 152.1l2.4 -2.4M569.4 98.8l2.4 2.4M569.4 101.2l2.4 -2.4M581.5 96.0l2.4 2.4M581.5 98.4l2.4 -2.4" stroke="#7a1420" stroke-width="0.6" opacity="0.75" fill="none"/>
</g>
<text x="530.4" y="197.5" text-anchor="middle" class="tk">0.5</text>
<text x="574.6" y="197.5" text-anchor="middle" class="tk">1.0</text>
<text x="618.7" y="197.5" text-anchor="middle" class="tk">1.5</text>
<text x="663.0" y="197.5" text-anchor="middle" class="tk">2.0</text>
<text x="514.0" y="21.0" text-anchor="end" class="tk">1.0</text>
<text x="514.0" y="51.0" text-anchor="end" class="tk">0.8</text>
<text x="514.0" y="81.1" text-anchor="end" class="tk">0.6</text>
<text x="514.0" y="111.1" text-anchor="end" class="tk">0.4</text>
<text x="514.0" y="141.2" text-anchor="end" class="tk">0.2</text>
<text x="514.0" y="171.2" text-anchor="end" class="tk">0.0</text>
<text x="602.5" y="9.5" text-anchor="middle" class="ti"><tspan font-style="italic">v</tspan><tspan font-size="11" dy="2.2" dx="0.8">3</tspan></text>
<text x="601.5" y="217.7" text-anchor="middle" class="lb"><tspan font-style="italic">&#945;</tspan><tspan font-size="13" dy="3.3" dx="1">1</tspan></text>
<text transform="translate(485.4,99.3) rotate(-90)" text-anchor="middle" class="lb"><tspan font-style="italic">&#947;</tspan><tspan font-size="13" dy="3.3" dx="1">1</tspan></text>
<rect x="56.3" y="256" width="160.2" height="162" fill="#EAEAF2"/>
<g clip-path="url(#c3)">
<line x1="55.8" y1="256" x2="55.8" y2="418" stroke="#fff" stroke-width="1.2"/>
<line x1="102.1" y1="256" x2="102.1" y2="418" stroke="#fff" stroke-width="1.2"/>
<line x1="148.8" y1="256" x2="148.8" y2="418" stroke="#fff" stroke-width="1.2"/>
<line x1="194.7" y1="256" x2="194.7" y2="418" stroke="#fff" stroke-width="1.2"/>
<line x1="56.3" y1="278.2" x2="216.5" y2="278.2" stroke="#fff" stroke-width="1.2"/>
<line x1="56.3" y1="311.1" x2="216.5" y2="311.1" stroke="#fff" stroke-width="1.2"/>
<line x1="56.3" y1="344.0" x2="216.5" y2="344.0" stroke="#fff" stroke-width="1.2"/>
<line x1="56.3" y1="376.9" x2="216.5" y2="376.9" stroke="#fff" stroke-width="1.2"/>
<line x1="56.3" y1="409.8" x2="216.5" y2="409.8" stroke="#fff" stroke-width="1.2"/>
<path d="M155.3 326.8L156.3 326.5L157.3 326.4L158.3 326.4L159.3 326.5L160.3 326.8L161.1 327.0L161.3 327.0L162.3 327.4L163.3 327.9L163.6 328.0L164.3 328.4L165.2 329.0L165.3 329.0L166.3 329.7L166.6 330.0L167.3 330.5L167.8 331.0L168.3 331.4L168.9 332.0L169.3 332.4L169.9 333.0L170.3 333.4L170.9 334.0L171.3 334.4L171.9 335.0L172.3 335.4L172.9 336.0L173.3 336.3L174.0 337.0L174.3 337.2L175.2 338.0L175.3 338.1L176.3 338.8L176.5 339.0L177.3 339.5L177.9 340.0L178.3 340.3L179.3 341.0L179.3 341.0L180.3 341.7L180.7 342.0L181.3 342.5L181.9 343.0L182.3 343.3L183.1 344.0L183.3 344.2L184.1 345.0L184.3 345.2L185.1 346.0L185.3 346.2L186.0 347.0L186.3 347.3L186.9 348.0L187.3 348.4L187.8 349.0L188.3 349.6L188.6 350.0L189.3 350.8L189.5 351.0L190.3 352.0L190.3 352.0L191.1 353.0L191.3 353.3L191.8 354.0L192.3 354.7L192.5 355.0L193.1 356.0L193.3 356.3L193.7 357.0L194.2 358.0L194.3 358.2L194.7 359.0L195.1 360.0L195.3 360.7L195.4 361.0L195.7 362.0L196.0 363.0L196.2 364.0L196.3 364.8L196.3 365.0L196.5 366.0L196.6 367.0L196.7 368.0L196.8 369.0L196.9 370.0L196.9 371.0L196.9 372.0L196.9 373.0L196.8 374.0L196.7 375.0L196.5 376.0L196.3 377.0L196.3 377.1L196.1 378.0L195.8 379.0L195.5 380.0L195.3 380.4L195.1 381.0L194.6 382.0L194.3 382.7L194.1 383.0L193.6 384.0L193.3 384.5L192.9 385.0L192.3 385.9L192.2 386.0L191.3 387.0L191.3 387.0L190.3 387.8L190.0 388.0L189.3 388.5L188.3 389.0L188.3 389.0L187.3 389.4L186.3 389.6L185.3 389.8L184.3 389.8L183.3 389.9L182.3 389.9L181.3 389.8L180.3 389.9L179.3 389.9L178.3 390.0L178.3 390.0L177.3 390.2L176.3 390.5L175.3 390.8L174.9 391.0L174.3 391.3L173.3 391.8L172.9 392.0L172.3 392.4L171.3 393.0L171.3 393.0L170.3 393.7L169.9 394.0L169.3 394.4L168.4 395.0L168.3 395.1L167.3 395.7L166.9 396.0L166.3 396.3L165.3 396.9L165.0 397.0L164.3 397.3L163.3 397.7L162.3 397.9L161.9 398.0L161.3 398.1L160.3 398.2L159.3 398.1L158.4 398.0L158.3 398.0L157.3 397.8L156.3 397.5L155.3 397.2L154.9 397.0L154.3 396.8L153.3 396.4L152.3 396.1L152.1 396.0L151.3 395.7L150.3 395.5L149.3 395.2L148.3 395.0L148.2 395.0L147.3 394.9L146.3 394.8L145.3 394.7L144.3 394.7L143.3 394.7L142.3 394.7L141.3 394.7L140.3 394.7L139.3 394.6L138.3 394.6L137.3 394.4L136.3 394.3L135.3 394.0L135.3 394.0L134.3 393.7L133.3 393.3L132.7 393.0L132.3 392.8L131.3 392.3L130.8 392.0L130.3 391.7L129.3 391.1L129.2 391.0L128.3 390.5L127.5 390.0L127.3 389.9L126.3 389.3L125.8 389.0L125.3 388.7L124.3 388.2L123.9 388.0L123.3 387.7L122.3 387.2L121.8 387.0L121.3 386.8L120.3 386.3L119.8 386.0L119.3 385.8L118.3 385.2L117.9 385.0L117.3 384.6L116.3 384.0L116.3 384.0L115.3 383.4L114.8 383.0L114.3 382.7L113.3 382.0L113.3 382.0L112.3 381.3L111.7 381.0L111.3 380.7L110.3 380.2L109.9 380.0L109.3 379.7L108.3 379.4L107.3 379.0L107.2 379.0L106.3 378.7L105.3 378.5L104.3 378.2L103.9 378.0L103.3 377.8L102.3 377.4L101.6 377.0L101.3 376.8L100.3 376.1L100.2 376.0L99.3 375.1L99.2 375.0L98.4 374.0L98.3 373.8L97.9 373.0L97.4 372.0L97.3 371.8L97.0 371.0L96.6 370.0L96.3 369.2L96.2 369.0L95.9 368.0L95.5 367.0L95.3 366.6L95.1 366.0L94.7 365.0L94.3 364.1L94.3 364.0L93.9 363.0L93.5 362.0L93.3 361.0L93.3 361.0L93.1 360.0L93.0 359.0L93.1 358.0L93.3 357.1L93.3 357.0L93.7 356.0L94.2 355.0L94.3 354.8L94.9 354.0L95.3 353.5L95.8 353.0L96.3 352.5L96.9 352.0L97.3 351.7L98.2 351.0L98.3 350.9L99.3 350.2L99.7 350.0L100.3 349.6L101.3 349.0L101.3 349.0L102.3 348.4L103.1 348.0L103.3 347.9L104.3 347.4L105.0 347.0L105.3 346.8L106.3 346.3L107.0 346.0L107.3 345.9L108.3 345.4L109.3 345.0L109.4 345.0L110.3 344.6L111.3 344.3L112.3 344.0L112.4 344.0L113.3 343.8L114.3 343.6L115.3 343.4L116.3 343.3L117.3 343.2L118.3 343.2L119.3 343.2L120.3 343.2L121.3 343.1L122.3 343.1L123.3 343.1L124.3 343.0L124.7 343.0L125.3 342.9L126.3 342.8L127.3 342.6L128.3 342.5L129.3 342.3L130.3 342.1L130.6 342.0L131.3 341.8L132.3 341.6L133.3 341.4L134.3 341.2L135.3 341.1L136.3 341.1L137.3 341.1L138.3 341.2L139.3 341.3L140.3 341.5L141.3 341.8L142.2 342.0L142.3 342.0L143.3 342.2L144.3 342.4L145.3 342.6L146.3 342.8L147.3 342.9L148.3 342.9L149.3 342.7L150.3 342.4L151.1 342.0L151.3 341.7L151.6 341.0L151.7 340.0L151.7 339.0L151.5 338.0L151.4 337.0L151.3 336.5L151.2 336.0L151.2 335.0L151.2 334.0L151.3 333.0L151.3 332.8L151.4 332.0L151.7 331.0L152.1 330.0L152.3 329.5L152.6 329.0L153.3 328.1L153.4 328.0L154.3 327.3L154.8 327.0Z" fill="#fed9c9"/>
<path d="M159.3 334.5L160.3 334.1L161.3 334.1L162.3 334.4L163.3 334.9L163.4 335.0L164.3 335.6L164.7 336.0L165.3 336.6L165.7 337.0L166.3 337.7L166.5 338.0L167.3 338.9L167.4 339.0L168.2 340.0L168.3 340.1L169.2 341.0L169.3 341.1L170.3 341.9L170.4 342.0L171.3 342.6L171.9 343.0L172.3 343.2L173.3 343.8L173.7 344.0L174.3 344.3L175.3 344.9L175.5 345.0L176.3 345.4L177.3 346.0L177.3 346.0L178.3 346.6L178.8 347.0L179.3 347.3L180.2 348.0L180.3 348.0L181.3 348.8L181.5 349.0L182.3 349.7L182.6 350.0L183.3 350.6L183.7 351.0L184.3 351.6L184.7 352.0L185.3 352.6L185.6 353.0L186.3 353.8L186.5 354.0L187.3 355.0L187.3 355.0L188.0 356.0L188.3 356.5L188.6 357.0L189.2 358.0L189.3 358.2L189.7 359.0L190.1 360.0L190.3 360.8L190.4 361.0L190.6 362.0L190.8 363.0L190.9 364.0L191.0 365.0L191.0 366.0L191.0 367.0L191.0 368.0L191.0 369.0L191.0 370.0L190.9 371.0L190.9 372.0L190.8 373.0L190.6 374.0L190.5 375.0L190.3 375.7L190.2 376.0L189.9 377.0L189.5 378.0L189.3 378.5L189.0 379.0L188.4 380.0L188.3 380.1L187.5 381.0L187.3 381.2L186.3 382.0L186.2 382.0L185.3 382.5L184.3 382.8L183.6 383.0L183.3 383.1L182.3 383.2L181.3 383.3L180.3 383.4L179.3 383.5L178.3 383.7L177.3 383.8L176.5 384.0L176.3 384.0L175.3 384.3L174.3 384.6L173.3 384.9L173.1 385.0L172.3 385.3L171.3 385.8L170.7 386.0L170.3 386.2L169.3 386.7L168.6 387.0L168.3 387.2L167.3 387.6L166.5 388.0L166.3 388.1L165.3 388.5L164.3 388.9L163.8 389.0L163.3 389.2L162.3 389.4L161.3 389.5L160.3 389.6L159.3 389.6L158.3 389.6L157.3 389.6L156.3 389.5L155.3 389.5L154.3 389.4L153.3 389.4L152.3 389.4L151.3 389.4L150.3 389.4L149.3 389.4L148.3 389.5L147.3 389.5L146.3 389.5L145.3 389.6L144.3 389.6L143.3 389.6L142.3 389.7L141.3 389.7L140.3 389.6L139.3 389.6L138.3 389.4L137.3 389.2L136.5 389.0L136.3 388.9L135.3 388.6L134.3 388.1L134.0 388.0L133.3 387.6L132.3 387.1L132.2 387.0L131.3 386.5L130.4 386.0L130.3 386.0L129.3 385.4L128.5 385.0L128.3 384.9L127.3 384.4L126.4 384.0L126.3 384.0L125.3 383.5L124.3 383.0L124.3 383.0L123.3 382.5L122.4 382.0L122.3 381.9L121.3 381.3L120.9 381.0L120.3 380.6L119.6 380.0L119.3 379.7L118.6 379.0L118.3 378.7L117.6 378.0L117.3 377.6L116.8 377.0L116.3 376.5L115.9 376.0L115.3 375.4L114.9 375.0L114.3 374.5L113.7 374.0L113.3 373.7L112.3 373.1L112.1 373.0L111.3 372.6L110.3 372.1L110.1 372.0L109.3 371.7L108.3 371.3L107.6 371.0L107.3 370.9L106.3 370.4L105.5 370.0L105.3 369.9L104.3 369.3L103.9 369.0L103.3 368.5L102.8 368.0L102.3 367.5L101.9 367.0L101.3 366.3L101.1 366.0L100.4 365.0L100.3 364.8L99.8 364.0L99.4 363.0L99.3 362.8L99.0 362.0L98.7 361.0L98.5 360.0L98.5 359.0L98.6 358.0L98.9 357.0L99.3 356.0L99.3 356.0L99.9 355.0L100.3 354.5L100.7 354.0L101.3 353.4L101.7 353.0L102.3 352.5L102.9 352.0L103.3 351.7L104.2 351.0L104.3 351.0L105.3 350.3L105.8 350.0L106.3 349.7L107.3 349.1L107.5 349.0L108.3 348.6L109.3 348.1L109.6 348.0L110.3 347.7L111.3 347.3L112.2 347.0L112.3 347.0L113.3 346.7L114.3 346.4L115.3 346.2L116.3 346.1L117.0 346.0L117.3 346.0L118.3 345.9L119.3 345.8L120.3 345.7L121.3 345.7L122.3 345.6L123.3 345.6L124.3 345.5L125.3 345.4L126.3 345.3L127.3 345.2L128.3 345.1L129.3 345.0L129.3 345.0L130.3 344.9L131.3 344.7L132.3 344.6L133.3 344.5L134.3 344.4L135.3 344.4L136.3 344.3L137.3 344.4L138.3 344.4L139.3 344.5L140.3 344.7L141.3 344.8L142.3 345.0L142.3 345.0L143.3 345.2L144.3 345.3L145.3 345.5L146.3 345.6L147.3 345.8L148.3 345.9L149.2 346.0L149.3 346.0L150.3 346.1L151.3 346.1L152.3 346.1L153.3 346.1L154.3 346.0L154.5 346.0L155.3 345.9L156.3 345.6L157.3 345.3L158.1 345.0L158.3 344.9L159.3 344.0L159.3 344.0L159.8 343.0L159.7 342.0L159.4 341.0L159.3 340.6L159.1 340.0L158.7 339.0L158.4 338.0L158.3 337.1L158.3 337.0L158.3 336.8L158.4 336.0L158.8 335.0Z" fill="#fcbba1"/>
<path d="M127.3 347.0L128.3 346.8L129.3 346.7L130.3 346.6L131.3 346.5L132.3 346.4L133.3 346.3L134.3 346.3L135.3 346.2L136.3 346.2L137.3 346.3L138.3 346.3L139.3 346.4L140.3 346.5L141.3 346.6L142.3 346.8L143.3 346.9L143.7 347.0L144.3 347.1L145.3 347.2L146.3 347.4L147.3 347.5L148.3 347.7L149.3 347.8L150.3 347.9L151.1 348.0L151.3 348.0L152.3 348.1L153.3 348.2L154.3 348.2L155.3 348.3L156.3 348.3L157.3 348.3L158.3 348.3L159.3 348.3L160.3 348.3L161.3 348.3L162.3 348.2L163.3 348.2L164.3 348.1L165.3 348.1L166.3 348.2L167.3 348.2L168.3 348.3L169.3 348.5L170.3 348.6L171.3 348.9L171.7 349.0L172.3 349.1L173.3 349.5L174.3 349.8L174.7 350.0L175.3 350.2L176.3 350.7L176.9 351.0L177.3 351.2L178.3 351.8L178.7 352.0L179.3 352.4L180.1 353.0L180.3 353.1L181.3 354.0L181.3 354.0L182.3 354.9L182.4 355.0L183.3 356.0L183.3 356.0L184.1 357.0L184.3 357.2L184.8 358.0L185.3 358.9L185.4 359.0L185.8 360.0L186.1 361.0L186.3 361.9L186.3 362.0L186.4 363.0L186.4 364.0L186.4 365.0L186.3 365.6L186.2 366.0L186.0 367.0L185.7 368.0L185.4 369.0L185.3 369.3L185.0 370.0L184.5 371.0L184.3 371.3L183.8 372.0L183.3 372.7L183.0 373.0L182.3 373.7L181.9 374.0L181.3 374.4L180.3 374.9L180.0 375.0L179.3 375.2L178.3 375.5L177.3 375.7L176.3 375.8L175.3 375.9L174.3 375.9L173.3 375.8L172.3 375.6L171.3 375.3L170.7 375.0L170.3 374.9L169.3 374.5L168.3 374.2L167.8 374.0L167.3 373.9L166.3 373.7L165.3 373.6L164.3 373.6L163.3 373.6L162.3 373.6L161.3 373.7L160.3 373.8L159.3 373.9L158.3 374.0L158.2 374.0L157.3 374.2L156.3 374.4L155.3 374.6L154.3 374.8L153.4 375.0L153.3 375.0L152.3 375.4L151.3 375.7L150.5 376.0L150.3 376.1L149.3 376.7L148.8 377.0L148.3 377.6L147.9 378.0L147.4 379.0L147.3 379.5L147.1 380.0L146.7 381.0L146.3 381.6L146.0 382.0L145.3 382.5L144.6 383.0L144.3 383.1L143.3 383.4L142.3 383.7L141.3 383.8L140.3 383.8L139.3 383.7L138.3 383.5L137.3 383.2L136.7 383.0L136.3 382.8L135.3 382.4L134.4 382.0L134.3 382.0L133.3 381.5L132.3 381.1L132.0 381.0L131.3 380.7L130.3 380.4L129.3 380.0L129.2 380.0L128.3 379.7L127.3 379.3L126.7 379.0L126.3 378.8L125.3 378.3L124.8 378.0L124.3 377.6L123.4 377.0L123.3 376.9L122.3 376.0L122.3 376.0L121.3 375.1L121.2 375.0L120.3 374.2L120.0 374.0L119.3 373.4L118.8 373.0L118.3 372.6L117.4 372.0L117.3 371.9L116.3 371.3L115.8 371.0L115.3 370.7L114.3 370.2L114.0 370.0L113.3 369.7L112.3 369.2L112.0 369.0L111.3 368.7L110.3 368.2L109.9 368.0L109.3 367.7L108.3 367.1L108.1 367.0L107.3 366.5L106.6 366.0L106.3 365.8L105.4 365.0L105.3 364.9L104.5 364.0L104.3 363.8L103.7 363.0L103.3 362.2L103.2 362.0L102.8 361.0L102.6 360.0L102.5 359.0L102.7 358.0L102.9 357.0L103.3 356.2L103.4 356.0L104.0 355.0L104.3 354.7L104.9 354.0L105.3 353.6L105.9 353.0L106.3 352.7L107.1 352.0L107.3 351.9L108.3 351.2L108.6 351.0L109.3 350.6L110.3 350.1L110.4 350.0L111.3 349.6L112.3 349.2L112.8 349.0L113.3 348.8L114.3 348.5L115.3 348.3L116.3 348.1L116.6 348.0L117.3 347.9L118.3 347.7L119.3 347.6L120.3 347.5L121.3 347.5L122.3 347.4L123.3 347.3L124.3 347.2L125.3 347.1L126.3 347.1L126.9 347.0Z" fill="#fc9b7c"/>
<path d="M131.3 348.0L132.3 347.9L133.3 347.8L134.3 347.8L135.3 347.7L136.3 347.7L137.3 347.8L138.3 347.8L139.3 347.9L140.3 348.0L140.5 348.0L141.3 348.1L142.3 348.2L143.3 348.4L144.3 348.5L145.3 348.7L146.3 348.8L147.3 349.0L147.5 349.0L148.3 349.1L149.3 349.3L150.3 349.4L151.3 349.5L152.3 349.7L153.3 349.8L154.3 349.9L155.0 350.0L155.3 350.0L156.3 350.1L157.3 350.2L158.3 350.3L159.3 350.4L160.3 350.5L161.3 350.6L162.3 350.7L163.3 350.8L164.3 351.0L164.5 351.0L165.3 351.1L166.3 351.3L167.3 351.5L168.3 351.8L169.1 352.0L169.3 352.1L170.3 352.4L171.3 352.8L171.9 353.0L172.3 353.2L173.3 353.7L174.0 354.0L174.3 354.2L175.3 354.8L175.7 355.0L176.3 355.4L177.1 356.0L177.3 356.2L178.3 357.0L178.3 357.0L179.2 358.0L179.3 358.2L179.9 359.0L180.3 359.8L180.4 360.0L180.7 361.0L180.8 362.0L180.6 363.0L180.3 363.7L180.1 364.0L179.3 365.0L179.3 365.0L178.3 365.7L177.8 366.0L177.3 366.2L176.3 366.6L175.3 366.9L175.0 367.0L174.3 367.2L173.3 367.5L172.3 367.7L171.3 368.0L171.2 368.0L170.3 368.2L169.3 368.5L168.3 368.7L167.3 368.9L167.1 369.0L166.3 369.2L165.3 369.4L164.3 369.6L163.3 369.9L162.6 370.0L162.3 370.1L161.3 370.3L160.3 370.5L159.3 370.7L158.3 370.9L157.5 371.0L157.3 371.0L156.3 371.2L155.3 371.4L154.3 371.6L153.3 371.8L152.3 371.9L151.8 372.0L151.3 372.1L150.3 372.3L149.3 372.4L148.3 372.6L147.3 372.8L146.3 372.9L145.6 373.0L145.3 373.1L144.3 373.2L143.3 373.4L142.3 373.5L141.3 373.7L140.3 373.8L139.3 373.9L138.4 374.0L138.3 374.0L137.3 374.2L136.3 374.3L135.3 374.4L134.3 374.5L133.3 374.5L132.3 374.6L131.3 374.6L130.3 374.5L129.3 374.4L128.3 374.2L127.4 374.0L127.3 374.0L126.3 373.7L125.3 373.3L124.7 373.0L124.3 372.8L123.3 372.4L122.7 372.0L122.3 371.8L121.3 371.3L120.8 371.0L120.3 370.7L119.3 370.2L119.0 370.0L118.3 369.7L117.3 369.1L117.1 369.0L116.3 368.6L115.3 368.1L115.2 368.0L114.3 367.6L113.3 367.0L113.3 367.0L112.3 366.5L111.5 366.0L111.3 365.9L110.3 365.2L109.9 365.0L109.3 364.5L108.7 364.0L108.3 363.6L107.7 363.0L107.3 362.5L107.0 362.0L106.5 361.0L106.3 360.5L106.2 360.0L106.0 359.0L106.1 358.0L106.3 357.3L106.4 357.0L106.8 356.0L107.3 355.3L107.5 355.0L108.3 354.1L108.4 354.0L109.3 353.2L109.5 353.0L110.3 352.4L111.0 352.0L111.3 351.8L112.3 351.3L112.8 351.0L113.3 350.8L114.3 350.4L115.3 350.1L115.6 350.0L116.3 349.8L117.3 349.6L118.3 349.4L119.3 349.2L120.3 349.1L121.3 349.0L121.4 349.0L122.3 348.9L123.3 348.8L124.3 348.7L125.3 348.6L126.3 348.5L127.3 348.4L128.3 348.3L129.3 348.2L130.3 348.1L131.2 348.0Z" fill="#fb7a5a"/>
<path d="M126.3 349.9L127.3 349.8L128.3 349.7L129.3 349.5L130.3 349.4L131.3 349.3L132.3 349.2L133.3 349.2L134.3 349.1L135.3 349.1L136.3 349.1L137.3 349.1L138.3 349.1L139.3 349.2L140.3 349.3L141.3 349.4L142.3 349.5L143.3 349.7L144.3 349.8L145.3 350.0L145.5 350.0L146.3 350.1L147.3 350.3L148.3 350.4L149.3 350.6L150.3 350.8L151.3 350.9L151.7 351.0L152.3 351.1L153.3 351.3L154.3 351.4L155.3 351.6L156.3 351.8L157.3 351.9L157.8 352.0L158.3 352.1L159.3 352.3L160.3 352.4L161.3 352.6L162.3 352.8L163.0 353.0L163.3 353.1L164.3 353.3L165.3 353.6L166.3 354.0L166.3 354.0L167.3 354.4L168.3 354.9L168.5 355.0L169.3 355.5L170.0 356.0L170.3 356.2L171.2 357.0L171.3 357.2L172.0 358.0L172.3 358.6L172.5 359.0L172.7 360.0L172.6 361.0L172.3 361.7L172.2 362.0L171.3 363.0L171.3 363.0L170.3 363.9L170.1 364.0L169.3 364.6L168.6 365.0L168.3 365.1L167.3 365.7L166.6 366.0L166.3 366.1L165.3 366.5L164.3 366.9L164.1 367.0L163.3 367.3L162.3 367.6L161.3 367.9L161.0 368.0L160.3 368.2L159.3 368.5L158.3 368.7L157.3 369.0L157.1 369.0L156.3 369.2L155.3 369.4L154.3 369.6L153.3 369.8L152.3 369.9L151.9 370.0L151.3 370.1L150.3 370.3L149.3 370.4L148.3 370.6L147.3 370.7L146.3 370.8L145.3 370.9L144.7 371.0L144.3 371.0L143.3 371.2L142.3 371.3L141.3 371.3L140.3 371.4L139.3 371.5L138.3 371.6L137.3 371.6L136.3 371.7L135.3 371.7L134.3 371.8L133.3 371.8L132.3 371.8L131.3 371.7L130.3 371.7L129.3 371.5L128.3 371.4L127.3 371.2L126.7 371.0L126.3 370.9L125.3 370.6L124.3 370.2L123.7 370.0L123.3 369.8L122.3 369.4L121.4 369.0L121.3 368.9L120.3 368.5L119.4 368.0L119.3 368.0L118.3 367.5L117.4 367.0L117.3 366.9L116.3 366.4L115.6 366.0L115.3 365.8L114.3 365.2L114.0 365.0L113.3 364.5L112.6 364.0L112.3 363.8L111.4 363.0L111.3 362.9L110.5 362.0L110.3 361.7L109.9 361.0L109.5 360.0L109.3 359.0L109.3 358.0L109.6 357.0L110.1 356.0L110.3 355.7L110.8 355.0L111.3 354.5L111.8 354.0L112.3 353.6L113.2 353.0L113.3 353.0L114.3 352.4L115.2 352.0L115.3 352.0L116.3 351.6L117.3 351.3L118.3 351.0L118.5 351.0L119.3 350.8L120.3 350.7L121.3 350.5L122.3 350.4L123.3 350.2L124.3 350.1L125.3 350.0L125.3 350.0Z" fill="#f6583e"/>
<path d="M129.3 350.9L130.3 350.8L131.3 350.7L132.3 350.6L133.3 350.5L134.3 350.4L135.3 350.4L136.3 350.4L137.3 350.4L138.3 350.5L139.3 350.5L140.3 350.6L141.3 350.7L142.3 350.8L143.3 351.0L143.6 351.0L144.3 351.1L145.3 351.3L146.3 351.4L147.3 351.6L148.3 351.8L149.3 352.0L149.5 352.0L150.3 352.2L151.3 352.4L152.3 352.6L153.3 352.8L154.3 353.0L154.5 353.0L155.3 353.2L156.3 353.4L157.3 353.6L158.3 353.9L158.8 354.0L159.3 354.1L160.3 354.4L161.3 354.8L162.0 355.0L162.3 355.1L163.3 355.6L164.2 356.0L164.3 356.1L165.3 356.7L165.7 357.0L166.3 357.7L166.6 358.0L167.1 359.0L167.2 360.0L167.0 361.0L166.5 362.0L166.3 362.2L165.6 363.0L165.3 363.3L164.3 364.0L164.3 364.0L163.3 364.6L162.6 365.0L162.3 365.2L161.3 365.6L160.4 366.0L160.3 366.0L159.3 366.4L158.3 366.7L157.4 367.0L157.3 367.0L156.3 367.3L155.3 367.6L154.3 367.8L153.5 368.0L153.3 368.0L152.3 368.2L151.3 368.4L150.3 368.6L149.3 368.8L148.3 368.9L147.6 369.0L147.3 369.0L146.3 369.2L145.3 369.3L144.3 369.4L143.3 369.5L142.3 369.6L141.3 369.7L140.3 369.7L139.3 369.8L138.3 369.8L137.3 369.9L136.3 369.9L135.3 369.9L134.3 369.9L133.3 369.9L132.3 369.9L131.3 369.8L130.3 369.7L129.3 369.6L128.3 369.4L127.3 369.2L126.7 369.0L126.3 368.9L125.3 368.6L124.3 368.2L123.7 368.0L123.3 367.8L122.3 367.4L121.4 367.0L121.3 366.9L120.3 366.4L119.5 366.0L119.3 365.9L118.3 365.3L117.8 365.0L117.3 364.7L116.3 364.0L116.3 364.0L115.3 363.2L115.0 363.0L114.3 362.3L114.0 362.0L113.3 361.0L113.3 361.0L112.8 360.0L112.6 359.0L112.6 358.0L112.9 357.0L113.3 356.3L113.5 356.0L114.3 355.1L114.4 355.0L115.3 354.3L115.8 354.0L116.3 353.7L117.3 353.3L118.0 353.0L118.3 352.9L119.3 352.6L120.3 352.3L121.3 352.1L121.9 352.0L122.3 351.9L123.3 351.8L124.3 351.6L125.3 351.5L126.3 351.3L127.3 351.2L128.3 351.0L128.6 351.0Z" fill="#e83429"/>
<path d="M133.3 352.0L134.3 351.9L135.3 351.8L136.3 351.8L137.3 351.8L138.3 351.9L139.3 351.9L140.3 352.0L140.3 352.0L141.3 352.1L142.3 352.2L143.3 352.4L144.3 352.5L145.3 352.7L146.3 352.9L147.0 353.0L147.3 353.1L148.3 353.3L149.3 353.5L150.3 353.7L151.3 353.9L151.6 354.0L152.3 354.2L153.3 354.5L154.3 354.7L155.3 355.0L155.3 355.0L156.3 355.3L157.3 355.7L158.1 356.0L158.3 356.1L159.3 356.6L160.1 357.0L160.3 357.1L161.3 357.9L161.4 358.0L162.2 359.0L162.3 359.6L162.4 360.0L162.3 360.6L162.2 361.0L161.6 362.0L161.3 362.3L160.6 363.0L160.3 363.2L159.3 363.9L159.1 364.0L158.3 364.4L157.3 364.9L157.1 365.0L156.3 365.3L155.3 365.6L154.3 366.0L154.2 366.0L153.3 366.2L152.3 366.5L151.3 366.7L150.3 366.9L150.0 367.0L149.3 367.1L148.3 367.3L147.3 367.5L146.3 367.6L145.3 367.7L144.3 367.8L143.3 367.9L142.6 368.0L142.3 368.0L141.3 368.1L140.3 368.2L139.3 368.2L138.3 368.2L137.3 368.3L136.3 368.3L135.3 368.3L134.3 368.3L133.3 368.2L132.3 368.2L131.3 368.1L130.8 368.0L130.3 367.9L129.3 367.8L128.3 367.6L127.3 367.3L126.3 367.0L126.2 367.0L125.3 366.7L124.3 366.3L123.7 366.0L123.3 365.8L122.3 365.3L121.7 365.0L121.3 364.7L120.3 364.1L120.1 364.0L119.3 363.4L118.8 363.0L118.3 362.5L117.7 362.0L117.3 361.4L117.0 361.0L116.4 360.0L116.3 359.3L116.2 359.0L116.3 358.3L116.3 358.0L116.8 357.0L117.3 356.4L117.6 356.0L118.3 355.5L119.1 355.0L119.3 354.9L120.3 354.5L121.3 354.1L121.6 354.0L122.3 353.8L123.3 353.6L124.3 353.4L125.3 353.1L126.0 353.0L126.3 352.9L127.3 352.8L128.3 352.6L129.3 352.5L130.3 352.3L131.3 352.2L132.3 352.1L132.8 352.0Z" fill="#ca181d"/>
<path d="M132.3 353.9L133.3 353.8L134.3 353.7L135.3 353.6L136.3 353.6L137.3 353.6L138.3 353.6L139.3 353.6L140.3 353.7L141.3 353.8L142.3 353.9L142.8 354.0L143.3 354.1L144.3 354.3L145.3 354.5L146.3 354.7L147.3 354.9L147.8 355.0L148.3 355.1L149.3 355.4L150.3 355.7L151.3 356.0L151.4 356.0L152.3 356.4L153.3 356.8L153.9 357.0L154.3 357.2L155.3 357.8L155.6 358.0L156.3 358.6L156.7 359.0L157.1 360.0L157.0 361.0L156.3 362.0L156.3 362.0L155.3 362.9L155.1 363.0L154.3 363.4L153.3 364.0L153.2 364.0L152.3 364.3L151.3 364.7L150.3 365.0L150.3 365.0L149.3 365.2L148.3 365.5L147.3 365.7L146.3 365.9L145.4 366.0L145.3 366.0L144.3 366.1L143.3 366.3L142.3 366.3L141.3 366.4L140.3 366.5L139.3 366.5L138.3 366.6L137.3 366.6L136.3 366.6L135.3 366.6L134.3 366.5L133.3 366.5L132.3 366.4L131.3 366.2L130.3 366.1L130.0 366.0L129.3 365.8L128.3 365.5L127.3 365.2L126.7 365.0L126.3 364.8L125.3 364.3L124.7 364.0L124.3 363.8L123.3 363.1L123.2 363.0L122.3 362.2L122.1 362.0L121.3 361.0L121.3 360.9L120.9 360.0L120.9 359.0L121.3 358.0L121.3 358.0L122.2 357.0L122.3 356.9L123.3 356.4L124.0 356.0L124.3 355.9L125.3 355.5L126.3 355.2L127.0 355.0L127.3 354.9L128.3 354.7L129.3 354.5L130.3 354.2L131.3 354.1L131.6 354.0Z" fill="#ac1117"/>
<path d="M133.3 357.0L134.3 356.8L135.3 356.6L136.3 356.5L137.3 356.4L138.3 356.4L139.3 356.4L140.3 356.5L141.3 356.6L142.3 356.7L143.3 356.9L144.0 357.0L144.3 357.1L145.3 357.4L146.3 357.7L147.3 358.0L147.3 358.0L148.3 358.5L149.1 359.0L149.3 359.2L149.9 360.0L149.9 361.0L149.3 361.7L149.0 362.0L148.3 362.4L147.3 362.9L147.0 363.0L146.3 363.2L145.3 363.5L144.3 363.7L143.3 363.9L142.8 364.0L142.3 364.1L141.3 364.2L140.3 364.2L139.3 364.3L138.3 364.3L137.3 364.3L136.3 364.3L135.3 364.2L134.3 364.1L133.3 364.0L133.2 364.0L132.3 363.8L131.3 363.5L130.3 363.1L130.0 363.0L129.3 362.5L128.5 362.0L128.3 361.6L127.9 361.0L128.0 360.0L128.3 359.5L128.7 359.0L129.3 358.6L130.3 358.0L130.4 358.0L131.3 357.6L132.3 357.3L133.2 357.0Z" fill="#7e0610"/>
<path d="M75.3 279.9L76.1 280.0L76.3 280.0L77.3 280.3L78.3 280.7L78.8 281.0L79.3 281.3L80.1 282.0L80.3 282.2L81.1 283.0L81.3 283.2L81.9 284.0L82.3 284.6L82.6 285.0L83.2 286.0L83.3 286.3L83.7 287.0L84.1 288.0L84.3 288.7L84.4 289.0L84.7 290.0L84.8 291.0L84.8 292.0L84.7 293.0L84.5 294.0L84.3 294.5L84.1 295.0L83.7 296.0L83.3 296.7L83.1 297.0L82.6 298.0L82.3 298.6L82.1 299.0L81.8 300.0L81.6 301.0L81.5 302.0L81.5 303.0L81.6 304.0L81.8 305.0L82.0 306.0L82.2 307.0L82.3 307.6L82.4 308.0L82.5 309.0L82.7 310.0L82.7 311.0L82.8 312.0L82.8 313.0L82.9 314.0L82.9 315.0L83.1 316.0L83.3 316.9L83.3 317.0L83.7 318.0L84.2 319.0L84.3 319.3L84.7 320.0L85.3 320.9L85.3 321.0L86.0 322.0L86.3 322.4L86.8 323.0L87.3 323.7L87.5 324.0L88.2 325.0L88.3 325.1L89.0 326.0L89.3 326.4L89.7 327.0L90.3 327.8L90.5 328.0L91.2 329.0L91.3 329.2L91.9 330.0L92.3 330.5L92.6 331.0L93.3 331.9L93.4 332.0L94.2 333.0L94.3 333.2L95.1 334.0L95.3 334.3L96.2 335.0L96.3 335.1L97.3 335.6L98.2 336.0L98.3 336.0L99.3 336.4L100.3 336.8L100.8 337.0L101.3 337.3L102.3 338.0L102.4 338.0L103.3 339.0L103.3 339.0L103.9 340.0L104.3 340.9L104.3 341.0L104.6 342.0L104.7 343.0L104.7 344.0L104.7 345.0L104.7 346.0L104.8 347.0L104.8 348.0L104.9 349.0L105.0 350.0L105.0 351.0L105.0 352.0L104.9 353.0L104.6 354.0L104.3 354.9L104.3 355.0L103.8 356.0L103.3 356.8L103.2 357.0L102.4 358.0L102.3 358.2L101.6 359.0L101.3 359.4L100.8 360.0L100.3 360.6L100.0 361.0L99.4 362.0L99.3 362.1L98.9 363.0L98.4 364.0L98.3 364.2L98.0 365.0L97.5 366.0L97.3 366.4L97.0 367.0L96.4 368.0L96.3 368.1L95.6 369.0L95.3 369.3L94.6 370.0L94.3 370.2L93.3 371.0L93.2 371.0L92.3 371.6L91.4 372.0L91.3 372.1L90.3 372.5L89.3 372.9L89.0 373.0L88.3 373.3L87.3 373.7L86.5 374.0L86.3 374.1L85.3 374.5L84.3 374.9L84.1 375.0L83.3 375.3L82.3 375.7L81.5 376.0L81.3 376.1L80.3 376.4L79.3 376.8L78.5 377.0L78.3 377.1L77.3 377.5L76.3 378.0L76.3 378.0L75.3 378.7L75.0 379.0L74.3 379.8L74.2 380.0L73.4 381.0L73.3 381.1L72.4 382.0L72.3 382.1L71.3 382.6L70.3 382.6L69.3 382.1L69.2 382.0L68.6 381.0L68.4 380.0L68.5 379.0L68.7 378.0L68.8 377.0L68.8 376.0L68.5 375.0L68.3 374.5L68.1 374.0L67.5 373.0L67.3 372.7L66.9 372.0L66.3 371.2L66.2 371.0L65.5 370.0L65.3 369.8L64.8 369.0L64.3 368.2L64.1 368.0L63.6 367.0L63.3 366.5L63.0 366.0L62.5 365.0L62.3 364.5L62.1 364.0L61.7 363.0L61.3 362.0L61.3 362.0L60.9 361.0L60.6 360.0L60.4 359.0L60.3 358.8L60.1 358.0L59.9 357.0L59.7 356.0L59.5 355.0L59.3 354.0L59.3 353.7L59.2 353.0L59.1 352.0L59.0 351.0L58.9 350.0L58.9 349.0L58.9 348.0L58.9 347.0L58.9 346.0L58.9 345.0L59.0 344.0L59.1 343.0L59.2 342.0L59.3 341.1L59.3 341.0L59.4 340.0L59.6 339.0L59.8 338.0L60.0 337.0L60.3 336.0L60.3 336.0L60.5 335.0L60.8 334.0L61.2 333.0L61.3 332.7L61.5 332.0L61.9 331.0L62.3 330.1L62.3 330.0L62.8 329.0L63.3 328.0L63.3 327.9L63.8 327.0L64.3 326.0L64.3 326.0L64.9 325.0L65.3 324.3L65.4 324.0L66.0 323.0L66.3 322.6L66.6 322.0L67.2 321.0L67.3 320.9L67.8 320.0L68.3 319.0L68.3 319.0L68.7 318.0L69.1 317.0L69.3 316.3L69.4 316.0L69.6 315.0L69.7 314.0L69.7 313.0L69.6 312.0L69.5 311.0L69.3 310.0L69.3 309.9L69.1 309.0L68.7 308.0L68.3 307.0L68.3 307.0L67.8 306.0L67.3 305.0L67.3 304.9L66.8 304.0L66.4 303.0L66.3 302.7L66.0 302.0L65.7 301.0L65.6 300.0L65.5 299.0L65.5 298.0L65.7 297.0L66.0 296.0L66.3 295.3L66.4 295.0L66.9 294.0L67.3 293.3L67.5 293.0L68.1 292.0L68.3 291.6L68.6 291.0L69.0 290.0L69.3 289.0L69.3 288.8L69.5 288.0L69.6 287.0L69.8 286.0L70.0 285.0L70.2 284.0L70.3 283.8L70.7 283.0L71.3 282.0L71.3 282.0L72.3 281.0L72.3 281.0L73.3 280.4L74.3 280.0L74.7 280.0Z" fill="#dff3da"/>
<path d="M75.3 284.5L76.3 284.4L77.3 284.7L77.9 285.0L78.3 285.2L79.1 286.0L79.3 286.2L79.9 287.0L80.3 287.7L80.5 288.0L80.9 289.0L81.2 290.0L81.3 291.0L81.2 292.0L81.0 293.0L80.6 294.0L80.3 294.7L80.1 295.0L79.6 296.0L79.3 296.6L79.1 297.0L78.7 298.0L78.4 299.0L78.3 299.6L78.2 300.0L78.1 301.0L78.0 302.0L78.0 303.0L78.0 304.0L78.2 305.0L78.3 305.9L78.3 306.0L78.5 307.0L78.7 308.0L78.8 309.0L78.9 310.0L78.9 311.0L78.8 312.0L78.6 313.0L78.4 314.0L78.3 315.0L78.3 316.0L78.5 317.0L78.9 318.0L79.3 318.6L79.5 319.0L80.1 320.0L80.3 320.2L80.9 321.0L81.3 321.6L81.6 322.0L82.3 322.9L82.4 323.0L83.2 324.0L83.3 324.2L84.0 325.0L84.3 325.4L84.7 326.0L85.3 326.7L85.5 327.0L86.3 328.0L86.3 328.0L87.0 329.0L87.3 329.4L87.8 330.0L88.3 330.7L88.5 331.0L89.2 332.0L89.3 332.1L90.0 333.0L90.3 333.5L90.6 334.0L91.2 335.0L91.3 335.1L91.8 336.0L92.3 336.9L92.3 337.0L92.9 338.0L93.3 338.9L93.4 339.0L93.9 340.0L94.3 340.8L94.4 341.0L95.0 342.0L95.3 342.6L95.6 343.0L96.2 344.0L96.3 344.2L96.8 345.0L97.3 345.7L97.5 346.0L98.2 347.0L98.3 347.1L98.9 348.0L99.3 348.7L99.4 349.0L99.8 350.0L100.1 351.0L100.1 352.0L100.0 353.0L99.6 354.0L99.3 354.5L99.0 355.0L98.3 355.9L98.2 356.0L97.4 357.0L97.3 357.1L96.5 358.0L96.3 358.3L95.8 359.0L95.3 359.7L95.1 360.0L94.6 361.0L94.3 361.8L94.2 362.0L93.9 363.0L93.5 364.0L93.3 364.5L93.1 365.0L92.4 366.0L92.3 366.2L91.5 367.0L91.3 367.2L90.3 367.9L90.0 368.0L89.3 368.4L88.3 368.8L87.7 369.0L87.3 369.2L86.3 369.5L85.3 369.9L85.0 370.0L84.3 370.3L83.3 370.6L82.4 371.0L82.3 371.0L81.3 371.4L80.3 371.7L79.3 371.9L78.8 372.0L78.3 372.1L77.3 372.2L76.3 372.2L75.3 372.1L74.8 372.0L74.3 371.9L73.3 371.6L72.3 371.1L72.1 371.0L71.3 370.5L70.6 370.0L70.3 369.8L69.4 369.0L69.3 368.9L68.4 368.0L68.3 367.9L67.6 367.0L67.3 366.7L66.8 366.0L66.3 365.2L66.1 365.0L65.5 364.0L65.3 363.6L65.0 363.0L64.5 362.0L64.3 361.5L64.1 361.0L63.7 360.0L63.4 359.0L63.3 358.8L63.0 358.0L62.8 357.0L62.5 356.0L62.3 355.0L62.3 355.0L62.1 354.0L61.9 353.0L61.8 352.0L61.7 351.0L61.6 350.0L61.6 349.0L61.5 348.0L61.5 347.0L61.6 346.0L61.6 345.0L61.7 344.0L61.8 343.0L61.9 342.0L62.0 341.0L62.2 340.0L62.3 339.6L62.4 339.0L62.6 338.0L62.9 337.0L63.2 336.0L63.3 335.7L63.5 335.0L63.9 334.0L64.3 333.0L64.3 332.9L64.7 332.0L65.1 331.0L65.3 330.7L65.6 330.0L66.2 329.0L66.3 328.8L66.7 328.0L67.3 327.1L67.3 327.0L68.0 326.0L68.3 325.5L68.6 325.0L69.3 324.0L69.3 324.0L70.0 323.0L70.3 322.6L70.7 322.0L71.3 321.2L71.4 321.0L72.1 320.0L72.3 319.7L72.8 319.0L73.3 318.2L73.4 318.0L73.9 317.0L74.2 316.0L74.2 315.0L74.1 314.0L73.9 313.0L73.7 312.0L73.4 311.0L73.3 310.5L73.2 310.0L72.9 309.0L72.5 308.0L72.3 307.6L72.1 307.0L71.5 306.0L71.3 305.7L70.9 305.0L70.3 304.2L70.2 304.0L69.6 303.0L69.3 302.4L69.1 302.0L68.7 301.0L68.5 300.0L68.4 299.0L68.5 298.0L68.8 297.0L69.2 296.0L69.3 295.8L69.8 295.0L70.3 294.2L70.5 294.0L71.1 293.0L71.3 292.7L71.7 292.0L72.1 291.0L72.3 290.5L72.5 290.0L72.7 289.0L73.0 288.0L73.2 287.0L73.3 286.8L73.7 286.0L74.3 285.1L74.4 285.0Z" fill="#c7e9c0"/>
<path d="M73.3 298.5L73.5 299.0L73.3 299.5L73.0 299.0ZM75.3 322.6L76.3 322.5L77.3 322.7L77.8 323.0L78.3 323.2L79.3 323.9L79.4 324.0L80.3 324.8L80.5 325.0L81.3 325.8L81.5 326.0L82.3 326.9L82.4 327.0L83.2 328.0L83.3 328.1L84.1 329.0L84.3 329.3L84.9 330.0L85.3 330.5L85.7 331.0L86.3 331.7L86.5 332.0L87.3 333.0L87.3 333.0L88.0 334.0L88.3 334.4L88.7 335.0L89.3 336.0L89.3 336.1L89.8 337.0L90.2 338.0L90.3 338.2L90.6 339.0L90.9 340.0L91.1 341.0L91.3 341.9L91.3 342.0L91.5 343.0L91.7 344.0L91.9 345.0L92.1 346.0L92.3 346.8L92.4 347.0L92.7 348.0L93.2 349.0L93.3 349.2L93.7 350.0L94.2 351.0L94.3 351.4L94.5 352.0L94.5 353.0L94.3 354.0L94.3 354.1L93.9 355.0L93.4 356.0L93.3 356.1L92.7 357.0L92.3 357.7L92.1 358.0L91.5 359.0L91.3 359.4L91.0 360.0L90.5 361.0L90.3 361.5L90.1 362.0L89.5 363.0L89.3 363.3L88.7 364.0L88.3 364.4L87.6 365.0L87.3 365.2L86.3 365.8L86.0 366.0L85.3 366.3L84.3 366.8L83.9 367.0L83.3 367.3L82.3 367.7L81.6 368.0L81.3 368.1L80.3 368.5L79.3 368.7L78.3 368.9L77.3 369.0L76.3 368.9L75.3 368.8L74.3 368.6L73.3 368.2L72.9 368.0L72.3 367.7L71.3 367.0L71.3 367.0L70.3 366.2L70.1 366.0L69.3 365.2L69.1 365.0L68.3 364.0L68.3 364.0L67.6 363.0L67.3 362.5L67.0 362.0L66.5 361.0L66.3 360.7L66.0 360.0L65.6 359.0L65.3 358.3L65.2 358.0L64.9 357.0L64.6 356.0L64.3 355.0L64.3 354.9L64.1 354.0L63.9 353.0L63.8 352.0L63.6 351.0L63.5 350.0L63.5 349.0L63.5 348.0L63.4 347.0L63.5 346.0L63.5 345.0L63.6 344.0L63.7 343.0L63.8 342.0L64.0 341.0L64.2 340.0L64.3 339.6L64.4 339.0L64.7 338.0L65.0 337.0L65.3 336.1L65.3 336.0L65.7 335.0L66.1 334.0L66.3 333.5L66.5 333.0L67.0 332.0L67.3 331.5L67.6 331.0L68.2 330.0L68.3 329.8L68.8 329.0L69.3 328.2L69.5 328.0L70.2 327.0L70.3 326.9L71.0 326.0L71.3 325.7L71.9 325.0L72.3 324.6L73.0 324.0L73.3 323.7L74.3 323.1L74.4 323.0Z" fill="#a9dca3"/>
<path d="M74.3 326.5L75.3 326.2L76.3 326.1L77.3 326.2L78.3 326.6L78.9 327.0L79.3 327.3L80.2 328.0L80.3 328.0L81.3 329.0L81.3 329.0L82.3 330.0L82.3 330.0L83.2 331.0L83.3 331.1L84.1 332.0L84.3 332.2L85.0 333.0L85.3 333.3L85.8 334.0L86.3 334.6L86.6 335.0L87.2 336.0L87.3 336.1L87.8 337.0L88.3 338.0L88.3 338.1L88.7 339.0L88.9 340.0L89.1 341.0L89.3 342.0L89.3 342.0L89.4 343.0L89.5 344.0L89.6 345.0L89.7 346.0L89.8 347.0L90.0 348.0L90.1 349.0L90.3 350.0L90.3 350.1L90.5 351.0L90.5 352.0L90.5 353.0L90.3 354.0L90.3 354.1L90.0 355.0L89.6 356.0L89.3 356.5L89.1 357.0L88.5 358.0L88.3 358.4L88.0 359.0L87.3 360.0L87.3 360.1L86.7 361.0L86.3 361.5L85.9 362.0L85.3 362.6L84.9 363.0L84.3 363.5L83.6 364.0L83.3 364.2L82.3 364.8L81.9 365.0L81.3 365.3L80.3 365.7L79.4 366.0L79.3 366.0L78.3 366.3L77.3 366.3L76.3 366.3L75.3 366.2L74.7 366.0L74.3 365.9L73.3 365.5L72.5 365.0L72.3 364.9L71.3 364.1L71.2 364.0L70.3 363.1L70.2 363.0L69.3 362.0L69.3 361.9L68.6 361.0L68.3 360.4L68.0 360.0L67.5 359.0L67.3 358.5L67.1 358.0L66.7 357.0L66.3 356.0L66.3 355.8L66.0 355.0L65.8 354.0L65.6 353.0L65.4 352.0L65.3 351.2L65.3 351.0L65.2 350.0L65.1 349.0L65.0 348.0L65.0 347.0L65.1 346.0L65.1 345.0L65.2 344.0L65.3 343.2L65.3 343.0L65.5 342.0L65.7 341.0L65.9 340.0L66.1 339.0L66.3 338.5L66.4 338.0L66.8 337.0L67.2 336.0L67.3 335.6L67.6 335.0L68.0 334.0L68.3 333.5L68.6 333.0L69.2 332.0L69.3 331.8L69.8 331.0L70.3 330.3L70.5 330.0L71.3 329.0L71.3 329.0L72.3 328.0L72.3 328.0L73.3 327.2L73.5 327.0Z" fill="#86cc85"/>
<path d="M76.3 328.9L76.7 329.0L77.3 329.1L78.3 329.5L79.2 330.0L79.3 330.0L80.3 330.8L80.6 331.0L81.3 331.6L81.7 332.0L82.3 332.6L82.7 333.0L83.3 333.6L83.6 334.0L84.3 334.7L84.5 335.0L85.3 336.0L85.3 336.0L86.0 337.0L86.3 337.6L86.5 338.0L86.9 339.0L87.2 340.0L87.3 340.3L87.5 341.0L87.6 342.0L87.7 343.0L87.8 344.0L87.8 345.0L87.8 346.0L87.9 347.0L87.9 348.0L88.0 349.0L88.0 350.0L88.0 351.0L87.9 352.0L87.8 353.0L87.5 354.0L87.3 354.7L87.2 355.0L86.8 356.0L86.3 356.9L86.3 357.0L85.7 358.0L85.3 358.6L85.0 359.0L84.3 360.0L84.3 360.0L83.4 361.0L83.3 361.1L82.3 362.0L82.2 362.0L81.3 362.6L80.7 363.0L80.3 363.2L79.3 363.6L78.3 363.8L77.3 364.0L76.3 363.9L75.3 363.8L74.3 363.4L73.4 363.0L73.3 362.9L72.3 362.3L72.0 362.0L71.3 361.4L71.0 361.0L70.3 360.2L70.2 360.0L69.5 359.0L69.3 358.7L68.9 358.0L68.4 357.0L68.3 356.7L68.0 356.0L67.7 355.0L67.4 354.0L67.3 353.7L67.1 353.0L66.9 352.0L66.8 351.0L66.6 350.0L66.6 349.0L66.5 348.0L66.5 347.0L66.5 346.0L66.6 345.0L66.7 344.0L66.8 343.0L67.0 342.0L67.2 341.0L67.3 340.6L67.4 340.0L67.7 339.0L68.1 338.0L68.3 337.4L68.5 337.0L68.9 336.0L69.3 335.2L69.4 335.0L70.0 334.0L70.3 333.5L70.6 333.0L71.3 332.1L71.4 332.0L72.2 331.0L72.3 330.9L73.3 330.1L73.4 330.0L74.3 329.4L75.3 329.1L75.9 329.0Z" fill="#60ba6c"/>
<path d="M75.3 331.7L76.3 331.6L77.3 331.7L78.3 332.0L78.3 332.0L79.3 332.5L79.9 333.0L80.3 333.2L81.2 334.0L81.3 334.1L82.3 335.0L82.3 335.0L83.2 336.0L83.3 336.1L84.0 337.0L84.3 337.4L84.7 338.0L85.2 339.0L85.3 339.3L85.6 340.0L85.8 341.0L86.0 342.0L86.1 343.0L86.1 344.0L86.2 345.0L86.2 346.0L86.2 347.0L86.2 348.0L86.1 349.0L86.1 350.0L86.0 351.0L85.8 352.0L85.6 353.0L85.3 354.0L85.3 354.0L84.9 355.0L84.4 356.0L84.3 356.2L83.9 357.0L83.3 357.8L83.2 358.0L82.3 359.0L82.3 359.0L81.3 359.9L81.2 360.0L80.3 360.6L79.6 361.0L79.3 361.1L78.3 361.5L77.3 361.6L76.3 361.6L75.3 361.4L74.3 361.0L74.3 361.0L73.3 360.4L72.7 360.0L72.3 359.6L71.7 359.0L71.3 358.5L70.9 358.0L70.3 357.0L70.3 357.0L69.8 356.0L69.3 355.0L69.3 354.9L69.0 354.0L68.7 353.0L68.4 352.0L68.3 351.3L68.2 351.0L68.1 350.0L68.0 349.0L67.9 348.0L67.9 347.0L67.9 346.0L68.0 345.0L68.1 344.0L68.3 343.0L68.3 342.9L68.5 342.0L68.7 341.0L69.0 340.0L69.3 339.1L69.3 339.0L69.7 338.0L70.2 337.0L70.3 336.8L70.8 336.0L71.3 335.1L71.4 335.0L72.1 334.0L72.3 333.8L73.1 333.0L73.3 332.8L74.3 332.1L74.6 332.0Z" fill="#3ba458"/>
<path d="M74.3 334.9L75.3 334.4L76.3 334.2L77.3 334.2L78.3 334.5L79.2 335.0L79.3 335.0L80.3 335.7L80.6 336.0L81.3 336.6L81.7 337.0L82.3 337.6L82.6 338.0L83.3 339.0L83.3 339.1L83.7 340.0L84.1 341.0L84.3 342.0L84.3 342.0L84.4 343.0L84.5 344.0L84.5 345.0L84.5 346.0L84.5 347.0L84.5 348.0L84.4 349.0L84.3 350.0L84.3 350.0L84.1 351.0L83.9 352.0L83.6 353.0L83.3 353.8L83.2 354.0L82.7 355.0L82.3 355.7L82.1 356.0L81.3 357.0L81.3 357.0L80.3 357.9L80.2 358.0L79.3 358.6L78.3 359.0L78.3 359.0L77.3 359.2L76.3 359.2L75.6 359.0L75.3 358.9L74.3 358.5L73.6 358.0L73.3 357.7L72.6 357.0L72.3 356.7L71.8 356.0L71.3 355.2L71.2 355.0L70.7 354.0L70.3 353.0L70.3 352.9L70.1 352.0L69.8 351.0L69.6 350.0L69.5 349.0L69.4 348.0L69.4 347.0L69.4 346.0L69.5 345.0L69.6 344.0L69.8 343.0L70.1 342.0L70.3 341.1L70.3 341.0L70.7 340.0L71.1 339.0L71.3 338.6L71.6 338.0L72.2 337.0L72.3 336.9L73.0 336.0L73.3 335.7L74.1 335.0Z" fill="#228a44"/>
<path d="M77.3 337.0L77.3 337.0L78.3 337.3L79.3 337.8L79.6 338.0L80.3 338.6L80.7 339.0L81.3 339.8L81.5 340.0L82.0 341.0L82.3 341.9L82.3 342.0L82.5 343.0L82.7 344.0L82.7 345.0L82.7 346.0L82.7 347.0L82.6 348.0L82.5 349.0L82.4 350.0L82.3 350.3L82.1 351.0L81.8 352.0L81.4 353.0L81.3 353.2L80.8 354.0L80.3 354.6L79.9 355.0L79.3 355.6L78.6 356.0L78.3 356.1L77.3 356.4L76.3 356.4L75.3 356.1L75.1 356.0L74.3 355.5L73.8 355.0L73.3 354.4L73.0 354.0L72.4 353.0L72.3 352.8L72.0 352.0L71.7 351.0L71.4 350.0L71.3 349.4L71.2 349.0L71.2 348.0L71.1 347.0L71.2 346.0L71.2 345.0L71.3 344.5L71.4 344.0L71.6 343.0L71.9 342.0L72.3 341.0L72.3 341.0L72.8 340.0L73.3 339.2L73.4 339.0L74.3 338.0L74.3 338.0L75.3 337.3L76.3 337.0L76.7 337.0Z" fill="#077331"/>
<path d="M76.3 340.9L77.3 340.8L77.9 341.0L78.3 341.2L79.2 342.0L79.3 342.1L79.7 343.0L80.1 344.0L80.3 345.0L80.3 345.3L80.3 346.0L80.3 347.0L80.3 347.4L80.2 348.0L80.0 349.0L79.7 350.0L79.3 350.9L79.2 351.0L78.4 352.0L78.3 352.1L77.3 352.5L76.3 352.4L75.5 352.0L75.3 351.9L74.6 351.0L74.3 350.5L74.1 350.0L73.8 349.0L73.6 348.0L73.6 347.0L73.6 346.0L73.7 345.0L74.0 344.0L74.3 343.1L74.3 343.0L75.0 342.0L75.3 341.6L76.2 341.0Z" fill="#005321"/>
<circle cx="72.9" cy="343.6" r="1.8" fill="#245c31" fill-opacity="0.4" stroke="#163c1f" stroke-width="0.7"/><circle cx="81.4" cy="338.8" r="1.8" fill="#245c31" fill-opacity="0.4" stroke="#163c1f" stroke-width="0.7"/><circle cx="71.0" cy="346.0" r="1.8" fill="#245c31" fill-opacity="0.4" stroke="#163c1f" stroke-width="0.7"/><circle cx="84.3" cy="341.4" r="1.8" fill="#245c31" fill-opacity="0.4" stroke="#163c1f" stroke-width="0.7"/><circle cx="74.2" cy="349.7" r="1.8" fill="#245c31" fill-opacity="0.4" stroke="#163c1f" stroke-width="0.7"/><circle cx="73.2" cy="339.6" r="1.8" fill="#245c31" fill-opacity="0.4" stroke="#163c1f" stroke-width="0.7"/><circle cx="76.3" cy="333.8" r="1.8" fill="#245c31" fill-opacity="0.4" stroke="#163c1f" stroke-width="0.7"/><circle cx="80.4" cy="348.7" r="1.8" fill="#245c31" fill-opacity="0.4" stroke="#163c1f" stroke-width="0.7"/><circle cx="81.6" cy="358.2" r="1.8" fill="#245c31" fill-opacity="0.4" stroke="#163c1f" stroke-width="0.7"/><circle cx="82.4" cy="349.3" r="1.8" fill="#245c31" fill-opacity="0.4" stroke="#163c1f" stroke-width="0.7"/><circle cx="78.8" cy="343.6" r="1.8" fill="#245c31" fill-opacity="0.4" stroke="#163c1f" stroke-width="0.7"/><circle cx="75.6" cy="357.5" r="1.8" fill="#245c31" fill-opacity="0.4" stroke="#163c1f" stroke-width="0.7"/><circle cx="75.1" cy="348.2" r="1.8" fill="#245c31" fill-opacity="0.4" stroke="#163c1f" stroke-width="0.7"/><circle cx="74.3" cy="345.9" r="1.8" fill="#245c31" fill-opacity="0.4" stroke="#163c1f" stroke-width="0.7"/><circle cx="80.8" cy="340.8" r="1.8" fill="#245c31" fill-opacity="0.4" stroke="#163c1f" stroke-width="0.7"/><circle cx="73.0" cy="339.7" r="1.8" fill="#245c31" fill-opacity="0.4" stroke="#163c1f" stroke-width="0.7"/><circle cx="73.8" cy="346.6" r="1.8" fill="#245c31" fill-opacity="0.4" stroke="#163c1f" stroke-width="0.7"/><circle cx="72.2" cy="344.0" r="1.8" fill="#245c31" fill-opacity="0.4" stroke="#163c1f" stroke-width="0.7"/><circle cx="75.8" cy="292.0" r="1.8" fill="#245c31" fill-opacity="0.4" stroke="#163c1f" stroke-width="0.7"/><circle cx="81.4" cy="292.6" r="1.8" fill="#245c31" fill-opacity="0.4" stroke="#163c1f" stroke-width="0.7"/><circle cx="70.1" cy="298.2" r="1.8" fill="#245c31" fill-opacity="0.4" stroke="#163c1f" stroke-width="0.7"/><circle cx="72.1" cy="298.2" r="1.8" fill="#245c31" fill-opacity="0.4" stroke="#163c1f" stroke-width="0.7"/><circle cx="85.7" cy="339.2" r="1.8" fill="#245c31" fill-opacity="0.4" stroke="#163c1f" stroke-width="0.7"/><circle cx="100.4" cy="341.5" r="1.8" fill="#245c31" fill-opacity="0.4" stroke="#163c1f" stroke-width="0.7"/><circle cx="99.8" cy="352.0" r="1.8" fill="#245c31" fill-opacity="0.4" stroke="#163c1f" stroke-width="0.7"/><circle cx="92.7" cy="353.9" r="1.8" fill="#245c31" fill-opacity="0.4" stroke="#163c1f" stroke-width="0.7"/><circle cx="90.7" cy="365.2" r="1.8" fill="#245c31" fill-opacity="0.4" stroke="#163c1f" stroke-width="0.7"/><circle cx="70.1" cy="381.6" r="1.8" fill="#245c31" fill-opacity="0.4" stroke="#163c1f" stroke-width="0.7"/>
<path d="M149.8 348.7h3.4v3.4h-3.4zM119.9 352.1h3.4v3.4h-3.4zM122.7 362.5h3.4v3.4h-3.4zM134.8 355.1h3.4v3.4h-3.4zM145.2 356.6h3.4v3.4h-3.4zM112.2 352.3h3.4v3.4h-3.4zM141.0 361.1h3.4v3.4h-3.4zM146.9 357.2h3.4v3.4h-3.4zM119.3 356.9h3.4v3.4h-3.4zM126.9 359.5h3.4v3.4h-3.4zM150.3 356.3h3.4v3.4h-3.4zM135.5 358.8h3.4v3.4h-3.4zM134.2 361.9h3.4v3.4h-3.4zM142.3 346.6h3.4v3.4h-3.4zM141.5 363.1h3.4v3.4h-3.4zM167.4 360.8h3.4v3.4h-3.4zM157.5 352.9h3.4v3.4h-3.4zM131.1 353.9h3.4v3.4h-3.4zM126.9 364.6h3.4v3.4h-3.4zM159.2 358.9h3.4v3.4h-3.4zM140.5 355.8h3.4v3.4h-3.4zM125.7 355.7h3.4v3.4h-3.4zM129.4 359.5h3.4v3.4h-3.4zM112.0 357.0h3.4v3.4h-3.4zM136.2 347.3h3.4v3.4h-3.4zM118.9 359.4h3.4v3.4h-3.4zM143.3 354.1h3.4v3.4h-3.4zM134.0 350.4h3.4v3.4h-3.4zM120.7 362.8h3.4v3.4h-3.4zM105.8 360.8h3.4v3.4h-3.4zM110.5 354.2h3.4v3.4h-3.4zM159.8 356.6h3.4v3.4h-3.4zM129.7 354.2h3.4v3.4h-3.4zM159.4 353.0h3.4v3.4h-3.4zM108.8 357.2h3.4v3.4h-3.4zM111.5 357.3h3.4v3.4h-3.4zM134.1 357.7h3.4v3.4h-3.4zM152.5 367.6h3.4v3.4h-3.4zM123.2 363.6h3.4v3.4h-3.4zM113.5 354.4h3.4v3.4h-3.4zM127.2 363.4h3.4v3.4h-3.4zM108.2 358.7h3.4v3.4h-3.4zM155.1 359.4h3.4v3.4h-3.4zM141.5 359.4h3.4v3.4h-3.4zM136.3 355.3h3.4v3.4h-3.4zM118.5 365.4h3.4v3.4h-3.4zM137.7 358.7h3.4v3.4h-3.4zM145.2 348.9h3.4v3.4h-3.4zM128.9 358.6h3.4v3.4h-3.4zM124.7 366.1h3.4v3.4h-3.4zM129.9 357.3h3.4v3.4h-3.4zM145.2 355.0h3.4v3.4h-3.4zM131.1 367.2h3.4v3.4h-3.4zM114.1 349.6h3.4v3.4h-3.4zM115.9 365.2h3.4v3.4h-3.4zM146.7 351.4h3.4v3.4h-3.4zM120.4 357.2h3.4v3.4h-3.4zM125.2 349.3h3.4v3.4h-3.4zM117.9 355.5h3.4v3.4h-3.4zM122.7 356.9h3.4v3.4h-3.4zM128.3 351.8h3.4v3.4h-3.4zM145.5 361.5h3.4v3.4h-3.4zM125.7 349.3h3.4v3.4h-3.4zM152.2 360.0h3.4v3.4h-3.4zM148.3 353.7h3.4v3.4h-3.4zM129.0 352.4h3.4v3.4h-3.4zM119.4 349.0h3.4v3.4h-3.4zM114.7 359.4h3.4v3.4h-3.4zM140.1 346.0h3.4v3.4h-3.4zM146.5 354.0h3.4v3.4h-3.4zM129.8 366.2h3.4v3.4h-3.4zM148.1 352.4h3.4v3.4h-3.4zM159.5 356.7h3.4v3.4h-3.4zM129.1 350.9h3.4v3.4h-3.4zM103.4 355.4h3.4v3.4h-3.4zM115.1 356.1h3.4v3.4h-3.4zM147.9 356.2h3.4v3.4h-3.4zM107.8 352.9h3.4v3.4h-3.4zM150.0 355.3h3.4v3.4h-3.4zM155.8 360.7h3.4v3.4h-3.4zM153.0 355.0h3.4v3.4h-3.4zM108.9 356.0h3.4v3.4h-3.4zM128.0 360.1h3.4v3.4h-3.4zM141.6 358.4h3.4v3.4h-3.4zM116.4 358.3h3.4v3.4h-3.4zM109.8 354.2h3.4v3.4h-3.4zM124.1 349.2h3.4v3.4h-3.4zM144.2 360.0h3.4v3.4h-3.4zM122.6 360.4h3.4v3.4h-3.4zM137.4 359.5h3.4v3.4h-3.4zM129.7 291.7h3.4v3.4h-3.4zM144.7 314.9h3.4v3.4h-3.4zM155.1 329.6h3.4v3.4h-3.4zM158.8 336.1h3.4v3.4h-3.4zM177.7 352.5h3.4v3.4h-3.4zM165.3 351.1h3.4v3.4h-3.4zM179.4 363.8h3.4v3.4h-3.4zM185.7 373.7h3.4v3.4h-3.4zM184.8 384.1h3.4v3.4h-3.4zM172.4 375.1h3.4v3.4h-3.4zM165.3 386.1h3.4v3.4h-3.4zM148.9 385.5h3.4v3.4h-3.4zM134.8 387.5h3.4v3.4h-3.4zM139.0 379.9h3.4v3.4h-3.4zM121.3 374.8h3.4v3.4h-3.4zM127.7 373.3h3.4v3.4h-3.4zM100.9 370.0h3.4v3.4h-3.4zM134.8 342.3h3.4v3.4h-3.4zM113.6 348.0h3.4v3.4h-3.4z" fill="#e0182a"/><path d="M150.3 349.2l2.4 2.4M150.3 351.6l2.4 -2.4M120.4 352.6l2.4 2.4M120.4 355.0l2.4 -2.4M123.2 363.0l2.4 2.4M123.2 365.4l2.4 -2.4M135.3 355.6l2.4 2.4M135.3 358.0l2.4 -2.4M145.7 357.1l2.4 2.4M145.7 359.5l2.4 -2.4M112.7 352.8l2.4 2.4M112.7 355.2l2.4 -2.4M141.5 361.6l2.4 2.4M141.5 364.0l2.4 -2.4M147.4 357.7l2.4 2.4M147.4 360.1l2.4 -2.4M119.8 357.4l2.4 2.4M119.8 359.8l2.4 -2.4M127.4 360.0l2.4 2.4M127.4 362.4l2.4 -2.4M150.8 356.8l2.4 2.4M150.8 359.2l2.4 -2.4M136.0 359.3l2.4 2.4M136.0 361.7l2.4 -2.4M134.7 362.4l2.4 2.4M134.7 364.8l2.4 -2.4M142.8 347.1l2.4 2.4M142.8 349.5l2.4 -2.4M142.0 363.6l2.4 2.4M142.0 366.0l2.4 -2.4M167.9 361.3l2.4 2.4M167.9 363.7l2.4 -2.4M158.0 353.4l2.4 2.4M158.0 355.8l2.4 -2.4M131.6 354.4l2.4 2.4M131.6 356.8l2.4 -2.4M127.4 365.1l2.4 2.4M127.4 367.5l2.4 -2.4M159.7 359.4l2.4 2.4M159.7 361.8l2.4 -2.4M141.0 356.3l2.4 2.4M141.0 358.7l2.4 -2.4M126.2 356.2l2.4 2.4M126.2 358.6l2.4 -2.4M129.9 360.0l2.4 2.4M129.9 362.4l2.4 -2.4M112.5 357.5l2.4 2.4M112.5 359.9l2.4 -2.4M136.7 347.8l2.4 2.4M136.7 350.2l2.4 -2.4M119.4 359.9l2.4 2.4M119.4 362.3l2.4 -2.4M143.8 354.6l2.4 2.4M143.8 357.0l2.4 -2.4M134.5 350.9l2.4 2.4M134.5 353.3l2.4 -2.4M121.2 363.3l2.4 2.4M121.2 365.7l2.4 -2.4M106.3 361.3l2.4 2.4M106.3 363.7l2.4 -2.4M111.0 354.7l2.4 2.4M111.0 357.1l2.4 -2.4M160.3 357.1l2.4 2.4M160.3 359.5l2.4 -2.4M130.2 354.7l2.4 2.4M130.2 357.1l2.4 -2.4M159.9 353.5l2.4 2.4M159.9 355.9l2.4 -2.4M109.3 357.7l2.4 2.4M109.3 360.1l2.4 -2.4M112.0 357.8l2.4 2.4M112.0 360.2l2.4 -2.4M134.6 358.2l2.4 2.4M134.6 360.6l2.4 -2.4M153.0 368.1l2.4 2.4M153.0 370.5l2.4 -2.4M123.7 364.1l2.4 2.4M123.7 366.5l2.4 -2.4M114.0 354.9l2.4 2.4M114.0 357.3l2.4 -2.4M127.7 363.9l2.4 2.4M127.7 366.3l2.4 -2.4M108.7 359.2l2.4 2.4M108.7 361.6l2.4 -2.4M155.6 359.9l2.4 2.4M155.6 362.3l2.4 -2.4M142.0 359.9l2.4 2.4M142.0 362.3l2.4 -2.4M136.8 355.8l2.4 2.4M136.8 358.2l2.4 -2.4M119.0 365.9l2.4 2.4M119.0 368.3l2.4 -2.4M138.2 359.2l2.4 2.4M138.2 361.6l2.4 -2.4M145.7 349.4l2.4 2.4M145.7 351.8l2.4 -2.4M129.4 359.1l2.4 2.4M129.4 361.5l2.4 -2.4M125.2 366.6l2.4 2.4M125.2 369.0l2.4 -2.4M130.4 357.8l2.4 2.4M130.4 360.2l2.4 -2.4M145.7 355.5l2.4 2.4M145.7 357.9l2.4 -2.4M131.6 367.7l2.4 2.4M131.6 370.1l2.4 -2.4M114.6 350.1l2.4 2.4M114.6 352.5l2.4 -2.4M116.4 365.7l2.4 2.4M116.4 368.1l2.4 -2.4M147.2 351.9l2.4 2.4M147.2 354.3l2.4 -2.4M120.9 357.7l2.4 2.4M120.9 360.1l2.4 -2.4M125.7 349.8l2.4 2.4M125.7 352.2l2.4 -2.4M118.4 356.0l2.4 2.4M118.4 358.4l2.4 -2.4M123.2 357.4l2.4 2.4M123.2 359.8l2.4 -2.4M128.8 352.3l2.4 2.4M128.8 354.7l2.4 -2.4M146.0 362.0l2.4 2.4M146.0 364.4l2.4 -2.4M126.2 349.8l2.4 2.4M126.2 352.2l2.4 -2.4M152.7 360.5l2.4 2.4M152.7 362.9l2.4 -2.4M148.8 354.2l2.4 2.4M148.8 356.6l2.4 -2.4M129.5 352.9l2.4 2.4M129.5 355.3l2.4 -2.4M119.9 349.5l2.4 2.4M119.9 351.9l2.4 -2.4M115.2 359.9l2.4 2.4M115.2 362.3l2.4 -2.4M140.6 346.5l2.4 2.4M140.6 348.9l2.4 -2.4M147.0 354.5l2.4 2.4M147.0 356.9l2.4 -2.4M130.3 366.7l2.4 2.4M130.3 369.1l2.4 -2.4M148.6 352.9l2.4 2.4M148.6 355.3l2.4 -2.4M160.0 357.2l2.4 2.4M160.0 359.6l2.4 -2.4M129.6 351.4l2.4 2.4M129.6 353.8l2.4 -2.4M103.9 355.9l2.4 2.4M103.9 358.3l2.4 -2.4M115.6 356.6l2.4 2.4M115.6 359.0l2.4 -2.4M148.4 356.7l2.4 2.4M148.4 359.1l2.4 -2.4M108.3 353.4l2.4 2.4M108.3 355.8l2.4 -2.4M150.5 355.8l2.4 2.4M150.5 358.2l2.4 -2.4M156.3 361.2l2.4 2.4M156.3 363.6l2.4 -2.4M153.5 355.5l2.4 2.4M153.5 357.9l2.4 -2.4M109.4 356.5l2.4 2.4M109.4 358.9l2.4 -2.4M128.5 360.6l2.4 2.4M128.5 363.0l2.4 -2.4M142.1 358.9l2.4 2.4M142.1 361.3l2.4 -2.4M116.9 358.8l2.4 2.4M116.9 361.2l2.4 -2.4M110.3 354.7l2.4 2.4M110.3 357.1l2.4 -2.4M124.6 349.7l2.4 2.4M124.6 352.1l2.4 -2.4M144.7 360.5l2.4 2.4M144.7 362.9l2.4 -2.4M123.1 360.9l2.4 2.4M123.1 363.3l2.4 -2.4M137.9 360.0l2.4 2.4M137.9 362.4l2.4 -2.4M130.2 292.2l2.4 2.4M130.2 294.6l2.4 -2.4M145.2 315.4l2.4 2.4M145.2 317.8l2.4 -2.4M155.6 330.1l2.4 2.4M155.6 332.5l2.4 -2.4M159.3 336.6l2.4 2.4M159.3 339.0l2.4 -2.4M178.2 353.0l2.4 2.4M178.2 355.4l2.4 -2.4M165.8 351.6l2.4 2.4M165.8 354.0l2.4 -2.4M179.9 364.3l2.4 2.4M179.9 366.7l2.4 -2.4M186.2 374.2l2.4 2.4M186.2 376.6l2.4 -2.4M185.3 384.6l2.4 2.4M185.3 387.0l2.4 -2.4M172.9 375.6l2.4 2.4M172.9 378.0l2.4 -2.4M165.8 386.6l2.4 2.4M165.8 389.0l2.4 -2.4M149.4 386.0l2.4 2.4M149.4 388.4l2.4 -2.4M135.3 388.0l2.4 2.4M135.3 390.4l2.4 -2.4M139.5 380.4l2.4 2.4M139.5 382.8l2.4 -2.4M121.8 375.3l2.4 2.4M121.8 377.7l2.4 -2.4M128.2 373.8l2.4 2.4M128.2 376.2l2.4 -2.4M101.4 370.5l2.4 2.4M101.4 372.9l2.4 -2.4M135.3 342.8l2.4 2.4M135.3 345.2l2.4 -2.4M114.1 348.5l2.4 2.4M114.1 350.9l2.4 -2.4" stroke="#7a1420" stroke-width="0.6" opacity="0.75" fill="none"/>
</g>
<text x="55.8" y="435.1" text-anchor="middle" class="tk">0.5</text>
<text x="102.1" y="435.1" text-anchor="middle" class="tk">1.0</text>
<text x="148.8" y="435.1" text-anchor="middle" class="tk">1.5</text>
<text x="194.7" y="435.1" text-anchor="middle" class="tk">2.0</text>
<text x="47.3" y="282.6" text-anchor="end" class="tk">1.00</text>
<text x="47.3" y="315.5" text-anchor="end" class="tk">0.75</text>
<text x="47.3" y="348.4" text-anchor="end" class="tk">0.50</text>
<text x="47.3" y="381.3" text-anchor="end" class="tk">0.25</text>
<text x="47.3" y="414.2" text-anchor="end" class="tk">0.00</text>
<text x="136.4" y="248.5" text-anchor="middle" class="ti"><tspan font-style="italic">v</tspan><tspan font-size="11" dy="2.2" dx="0.8">4</tspan></text>
<text x="135.4" y="455.4" text-anchor="middle" class="lb"><tspan font-style="italic">&#945;</tspan><tspan font-size="13" dy="3.3" dx="1">1</tspan></text>
<text transform="translate(11.7,336.7) rotate(-90)" text-anchor="middle" class="lb"><tspan font-style="italic">&#947;</tspan><tspan font-size="13" dy="3.3" dx="1">1</tspan></text>
<rect x="288.2" y="256" width="162.4" height="162" fill="#EAEAF2"/>
<g clip-path="url(#c4)">
<line x1="329.2" y1="256" x2="329.2" y2="418" stroke="#fff" stroke-width="1.2"/>
<line x1="408.3" y1="256" x2="408.3" y2="418" stroke="#fff" stroke-width="1.2"/>
<line x1="288.2" y1="268.7" x2="450.6" y2="268.7" stroke="#fff" stroke-width="1.2"/>
<line x1="288.2" y1="301.7" x2="450.6" y2="301.7" stroke="#fff" stroke-width="1.2"/>
<line x1="288.2" y1="334.7" x2="450.6" y2="334.7" stroke="#fff" stroke-width="1.2"/>
<line x1="288.2" y1="367.7" x2="450.6" y2="367.7" stroke="#fff" stroke-width="1.2"/>
<line x1="288.2" y1="400.7" x2="450.6" y2="400.7" stroke="#fff" stroke-width="1.2"/>
<path d="M355.2 279.8L356.2 279.6L357.2 279.4L358.2 279.3L359.2 279.2L360.2 279.3L361.2 279.4L362.2 279.6L363.2 279.9L363.4 280.0L364.2 280.3L365.2 280.8L365.5 281.0L366.2 281.5L366.9 282.0L367.2 282.3L368.0 283.0L368.2 283.3L368.8 284.0L369.2 284.5L369.5 285.0L370.1 286.0L370.2 286.2L370.6 287.0L371.0 288.0L371.2 288.4L371.4 289.0L371.7 290.0L372.0 291.0L372.2 291.9L372.2 292.0L372.4 293.0L372.6 294.0L372.7 295.0L372.8 296.0L372.8 297.0L372.8 298.0L372.7 299.0L372.5 300.0L372.3 301.0L372.2 301.5L372.1 302.0L371.8 303.0L371.4 304.0L371.2 304.6L371.0 305.0L370.7 306.0L370.4 307.0L370.2 307.9L370.2 308.0L370.1 309.0L370.2 310.0L370.2 310.1L370.4 311.0L370.7 312.0L371.1 313.0L371.2 313.1L371.6 314.0L372.0 315.0L372.2 315.5L372.4 316.0L372.7 317.0L372.9 318.0L373.1 319.0L373.2 319.8L373.2 320.0L373.2 321.0L373.2 321.8L373.2 322.0L373.1 323.0L372.9 324.0L372.6 325.0L372.4 326.0L372.2 326.8L372.2 327.0L372.0 328.0L371.9 329.0L372.0 330.0L372.2 330.8L372.2 331.0L372.8 332.0L373.2 332.6L373.5 333.0L374.2 333.6L374.6 334.0L375.2 334.4L376.1 335.0L376.2 335.0L377.2 335.5L378.2 335.9L378.4 336.0L379.2 336.3L380.2 336.6L381.2 336.9L381.7 337.0L382.2 337.1L383.2 337.4L384.2 337.6L385.2 337.8L385.9 338.0L386.2 338.1L387.2 338.3L388.2 338.5L389.2 338.6L390.2 338.7L391.2 338.7L392.2 338.6L393.2 338.5L394.2 338.2L394.8 338.0L395.2 337.9L396.2 337.5L397.2 337.1L397.6 337.0L398.2 336.8L399.2 336.6L400.2 336.5L401.2 336.4L402.2 336.5L403.2 336.8L403.9 337.0L404.2 337.1L405.2 337.6L406.0 338.0L406.2 338.1L407.2 338.8L407.5 339.0L408.2 339.6L408.6 340.0L409.2 340.5L409.7 341.0L410.2 341.6L410.5 342.0L411.2 342.9L411.3 343.0L412.0 344.0L412.2 344.4L412.5 345.0L413.0 346.0L413.2 346.4L413.4 347.0L413.8 348.0L414.1 349.0L414.2 349.7L414.3 350.0L414.4 351.0L414.5 352.0L414.6 353.0L414.6 354.0L414.6 355.0L414.5 356.0L414.5 357.0L414.6 358.0L414.6 359.0L414.8 360.0L415.0 361.0L415.2 361.6L415.4 362.0L415.9 363.0L416.2 363.5L416.6 364.0L417.2 364.8L417.4 365.0L418.2 365.8L418.4 366.0L419.2 366.8L419.4 367.0L420.2 367.8L420.3 368.0L421.0 369.0L421.2 369.4L421.5 370.0L421.6 371.0L421.6 372.0L421.4 373.0L421.2 373.3L420.8 374.0L420.2 374.8L420.1 375.0L419.2 375.8L419.0 376.0L418.2 376.6L417.6 377.0L417.2 377.3L416.2 378.0L416.2 378.0L415.2 378.7L414.9 379.0L414.2 379.5L413.6 380.0L413.2 380.3L412.5 381.0L412.2 381.2L411.3 382.0L411.2 382.1L410.2 383.0L410.2 383.0L409.2 383.8L408.9 384.0L408.2 384.6L407.6 385.0L407.2 385.3L406.2 385.9L406.1 386.0L405.2 386.5L404.3 387.0L404.2 387.1L403.2 387.6L402.2 388.0L402.1 388.0L401.2 388.4L400.2 388.7L399.3 389.0L399.2 389.0L398.2 389.3L397.2 389.6L396.2 389.8L395.4 390.0L395.2 390.0L394.2 390.3L393.2 390.5L392.2 390.7L391.2 390.9L390.4 391.0L390.2 391.0L389.2 391.2L388.2 391.3L387.2 391.4L386.2 391.4L385.2 391.4L384.2 391.4L383.2 391.3L382.2 391.1L381.7 391.0L381.2 390.9L380.2 390.6L379.2 390.3L378.3 390.0L378.2 390.0L377.2 389.6L376.2 389.2L375.8 389.0L375.2 388.8L374.2 388.4L373.4 388.0L373.2 387.9L372.2 387.6L371.2 387.2L370.7 387.0L370.2 386.8L369.2 386.5L368.2 386.1L367.8 386.0L367.2 385.8L366.2 385.5L365.2 385.1L364.8 385.0L364.2 384.8L363.2 384.5L362.2 384.1L362.0 384.0L361.2 383.7L360.2 383.4L359.3 383.0L359.2 383.0L358.2 382.6L357.2 382.2L356.8 382.0L356.2 381.8L355.2 381.3L354.5 381.0L354.2 380.9L353.2 380.4L352.3 380.0L352.2 380.0L351.2 379.5L350.2 379.0L350.1 379.0L349.2 378.6L348.2 378.1L348.0 378.0L347.2 377.7L346.2 377.2L345.8 377.0L345.2 376.7L344.2 376.3L343.7 376.0L343.2 375.8L342.2 375.3L341.6 375.0L341.2 374.8L340.2 374.2L339.8 374.0L339.2 373.7L338.2 373.0L338.2 373.0L337.2 372.4L336.7 372.0L336.2 371.6L335.5 371.0L335.2 370.8L334.4 370.0L334.2 369.8L333.4 369.0L333.2 368.8L332.5 368.0L332.2 367.7L331.7 367.0L331.2 366.4L330.9 366.0L330.2 365.0L330.2 365.0L329.6 364.0L329.2 363.4L328.9 363.0L328.4 362.0L328.2 361.7L327.8 361.0L327.3 360.0L327.2 359.7L326.8 359.0L326.4 358.0L326.2 357.4L326.0 357.0L325.7 356.0L325.4 355.0L325.2 354.1L325.2 354.0L325.0 353.0L324.8 352.0L324.8 351.0L324.8 350.0L324.8 349.0L325.0 348.0L325.2 347.0L325.2 346.8L325.4 346.0L325.7 345.0L326.2 344.0L326.2 344.0L326.7 343.0L327.2 342.1L327.3 342.0L327.9 341.0L328.2 340.7L328.7 340.0L329.2 339.4L329.6 339.0L330.2 338.4L330.6 338.0L331.2 337.4L331.6 337.0L332.2 336.4L332.7 336.0L333.2 335.5L333.8 335.0L334.2 334.6L334.9 334.0L335.2 333.7L336.0 333.0L336.2 332.8L337.0 332.0L337.2 331.8L338.1 331.0L338.2 330.9L339.2 330.0L339.2 330.0L340.2 329.0L340.2 329.0L341.2 328.1L341.3 328.0L342.2 327.1L342.3 327.0L343.2 326.0L343.2 326.0L344.1 325.0L344.2 324.8L344.8 324.0L345.2 323.3L345.4 323.0L345.9 322.0L346.2 321.3L346.3 321.0L346.7 320.0L347.0 319.0L347.2 318.5L347.4 318.0L347.7 317.0L347.9 316.0L348.2 315.0L348.2 314.8L348.4 314.0L348.5 313.0L348.5 312.0L348.4 311.0L348.2 310.2L348.2 310.0L347.9 309.0L347.6 308.0L347.2 307.0L347.2 307.0L346.9 306.0L346.6 305.0L346.3 304.0L346.2 303.6L346.1 303.0L345.9 302.0L345.8 301.0L345.7 300.0L345.7 299.0L345.7 298.0L345.7 297.0L345.7 296.0L345.8 295.0L345.9 294.0L346.0 293.0L346.1 292.0L346.2 291.6L346.3 291.0L346.5 290.0L346.7 289.0L347.0 288.0L347.2 287.5L347.4 287.0L347.8 286.0L348.2 285.4L348.4 285.0L349.1 284.0L349.2 283.9L350.0 283.0L350.2 282.8L351.1 282.0L351.2 281.9L352.2 281.2L352.6 281.0L353.2 280.7L354.2 280.2L354.8 280.0Z" fill="#fed9c9"/>
<path d="M358.2 285.0L359.2 284.9L360.2 284.9L360.4 285.0L361.2 285.2L362.2 285.6L362.9 286.0L363.2 286.3L364.0 287.0L364.2 287.2L364.8 288.0L365.2 288.8L365.3 289.0L365.7 290.0L365.9 291.0L366.1 292.0L366.1 293.0L366.0 294.0L365.8 295.0L365.5 296.0L365.2 296.6L364.9 297.0L364.2 297.8L364.0 298.0L363.2 298.5L362.2 298.9L361.8 299.0L361.2 299.1L360.2 299.3L359.2 299.3L358.2 299.2L357.2 299.1L357.0 299.0L356.2 298.8L355.2 298.2L355.0 298.0L354.2 297.2L354.1 297.0L353.5 296.0L353.2 295.2L353.1 295.0L352.9 294.0L352.7 293.0L352.7 292.0L352.7 291.0L352.9 290.0L353.2 289.0L353.2 289.0L353.7 288.0L354.2 287.3L354.4 287.0L355.2 286.3L355.6 286.0L356.2 285.6L357.2 285.2L358.0 285.0ZM351.2 330.9L352.2 330.7L353.2 330.6L354.2 330.5L355.2 330.5L356.2 330.5L357.2 330.5L358.2 330.5L359.2 330.6L360.2 330.8L361.1 331.0L361.2 331.0L362.2 331.3L363.2 331.8L363.6 332.0L364.2 332.3L365.2 333.0L365.3 333.0L366.2 333.6L366.7 334.0L367.2 334.3L368.2 335.0L368.2 335.0L369.2 335.7L369.7 336.0L370.2 336.3L371.2 336.9L371.3 337.0L372.2 337.5L373.2 338.0L373.2 338.0L374.2 338.4L375.2 338.9L375.5 339.0L376.2 339.2L377.2 339.6L378.2 339.9L378.4 340.0L379.2 340.2L380.2 340.5L381.2 340.8L381.7 341.0L382.2 341.2L383.2 341.5L384.2 341.8L384.7 342.0L385.2 342.2L386.2 342.6L387.2 343.0L387.3 343.0L388.2 343.4L389.2 343.8L389.7 344.0L390.2 344.2L391.2 344.6L392.2 344.9L392.4 345.0L393.2 345.3L394.2 345.5L395.2 345.7L396.2 345.7L397.2 345.6L398.2 345.5L399.2 345.2L400.2 345.0L400.2 345.0L401.2 344.8L402.2 344.8L403.2 345.0L403.3 345.0L404.2 345.3L405.2 345.9L405.3 346.0L406.2 346.9L406.3 347.0L407.0 348.0L407.2 348.5L407.4 349.0L407.7 350.0L407.8 351.0L407.8 352.0L407.7 353.0L407.6 354.0L407.4 355.0L407.3 356.0L407.2 357.0L407.2 358.0L407.3 359.0L407.4 360.0L407.6 361.0L407.9 362.0L408.2 363.0L408.2 363.1L408.5 364.0L408.8 365.0L409.1 366.0L409.2 366.5L409.3 367.0L409.6 368.0L409.7 369.0L409.8 370.0L409.8 371.0L409.7 372.0L409.5 373.0L409.2 374.0L409.2 374.0L408.8 375.0L408.3 376.0L408.2 376.2L407.7 377.0L407.2 377.7L407.0 378.0L406.2 379.0L406.2 379.0L405.2 380.0L405.2 380.0L404.2 380.9L404.1 381.0L403.2 381.7L402.8 382.0L402.2 382.4L401.2 383.0L401.2 383.0L400.2 383.5L399.2 383.9L399.0 384.0L398.2 384.3L397.2 384.7L396.2 385.0L396.0 385.0L395.2 385.2L394.2 385.5L393.2 385.7L392.2 385.9L391.8 386.0L391.2 386.1L390.2 386.3L389.2 386.5L388.2 386.6L387.2 386.7L386.2 386.8L385.2 386.8L384.2 386.7L383.2 386.7L382.2 386.5L381.2 386.3L380.2 386.1L379.8 386.0L379.2 385.9L378.2 385.6L377.2 385.3L376.3 385.0L376.2 385.0L375.2 384.7L374.2 384.4L373.2 384.0L373.1 384.0L372.2 383.8L371.2 383.5L370.2 383.2L369.6 383.0L369.2 382.9L368.2 382.6L367.2 382.3L366.2 382.0L366.2 382.0L365.2 381.7L364.2 381.4L363.2 381.0L363.1 381.0L362.2 380.7L361.2 380.3L360.3 380.0L360.2 380.0L359.2 379.6L358.2 379.2L357.8 379.0L357.2 378.8L356.2 378.3L355.5 378.0L355.2 377.9L354.2 377.4L353.3 377.0L353.2 377.0L352.2 376.5L351.2 376.0L351.1 376.0L350.2 375.6L349.2 375.1L348.9 375.0L348.2 374.7L347.2 374.2L346.8 374.0L346.2 373.7L345.2 373.3L344.7 373.0L344.2 372.8L343.2 372.3L342.7 372.0L342.2 371.7L341.2 371.1L341.0 371.0L340.2 370.5L339.5 370.0L339.2 369.8L338.2 369.0L338.2 369.0L337.2 368.2L337.0 368.0L336.2 367.2L336.0 367.0L335.2 366.0L335.2 366.0L334.4 365.0L334.2 364.7L333.7 364.0L333.2 363.2L333.0 363.0L332.4 362.0L332.2 361.5L331.9 361.0L331.4 360.0L331.2 359.5L330.9 359.0L330.5 358.0L330.2 357.1L330.2 357.0L329.8 356.0L329.6 355.0L329.4 354.0L329.2 353.0L329.2 352.6L329.2 352.0L329.2 351.0L329.2 350.4L329.2 350.0L329.4 349.0L329.6 348.0L330.0 347.0L330.2 346.4L330.4 346.0L330.9 345.0L331.2 344.6L331.6 344.0L332.2 343.1L332.3 343.0L333.2 342.0L333.2 342.0L334.1 341.0L334.2 340.9L335.2 340.0L335.2 340.0L336.2 339.1L336.3 339.0L337.2 338.3L337.5 338.0L338.2 337.4L338.8 337.0L339.2 336.6L340.1 336.0L340.2 335.9L341.2 335.2L341.4 335.0L342.2 334.5L342.9 334.0L343.2 333.8L344.2 333.2L344.7 333.0L345.2 332.7L346.2 332.3L346.9 332.0L347.2 331.9L348.2 331.5L349.2 331.3L350.2 331.0L350.4 331.0Z" fill="#fcbba1"/>
<path d="M349.2 335.8L350.2 335.6L351.2 335.4L352.2 335.2L353.2 335.2L354.2 335.1L355.2 335.1L356.2 335.1L357.2 335.2L358.2 335.3L359.2 335.4L360.2 335.6L361.2 335.8L361.8 336.0L362.2 336.1L363.2 336.4L364.2 336.8L364.7 337.0L365.2 337.2L366.2 337.7L366.9 338.0L367.2 338.1L368.2 338.6L369.0 339.0L369.2 339.1L370.2 339.6L371.1 340.0L371.2 340.0L372.2 340.5L373.2 340.9L373.5 341.0L374.2 341.3L375.2 341.6L376.2 342.0L376.2 342.0L377.2 342.3L378.2 342.7L379.1 343.0L379.2 343.0L380.2 343.4L381.2 343.7L381.9 344.0L382.2 344.1L383.2 344.5L384.2 345.0L384.3 345.0L385.2 345.4L386.2 346.0L386.3 346.0L387.2 346.5L388.0 347.0L388.2 347.1L389.2 347.7L389.6 348.0L390.2 348.4L391.0 349.0L391.2 349.1L392.2 349.9L392.3 350.0L393.2 350.7L393.5 351.0L394.2 351.6L394.6 352.0L395.2 352.6L395.6 353.0L396.2 353.6L396.5 354.0L397.2 354.8L397.4 355.0L398.2 356.0L398.2 356.0L399.0 357.0L399.2 357.2L399.8 358.0L400.2 358.6L400.5 359.0L401.2 360.0L401.2 360.0L401.9 361.0L402.2 361.5L402.5 362.0L403.1 363.0L403.2 363.3L403.6 364.0L404.0 365.0L404.2 365.4L404.4 366.0L404.7 367.0L405.0 368.0L405.2 369.0L405.2 369.7L405.2 370.0L405.2 370.9L405.2 371.0L405.1 372.0L404.8 373.0L404.5 374.0L404.2 374.6L404.0 375.0L403.4 376.0L403.2 376.3L402.6 377.0L402.2 377.5L401.6 378.0L401.2 378.4L400.4 379.0L400.2 379.1L399.2 379.8L398.8 380.0L398.2 380.3L397.2 380.8L396.6 381.0L396.2 381.1L395.2 381.5L394.2 381.8L393.3 382.0L393.2 382.0L392.2 382.3L391.2 382.5L390.2 382.7L389.2 382.9L388.4 383.0L388.2 383.0L387.2 383.2L386.2 383.3L385.2 383.3L384.2 383.3L383.2 383.3L382.2 383.2L381.2 383.1L380.7 383.0L380.2 382.9L379.2 382.8L378.2 382.6L377.2 382.3L376.2 382.1L375.8 382.0L375.2 381.9L374.2 381.6L373.2 381.4L372.2 381.2L371.6 381.0L371.2 380.9L370.2 380.7L369.2 380.4L368.2 380.1L367.7 380.0L367.2 379.9L366.2 379.6L365.2 379.3L364.4 379.0L364.2 379.0L363.2 378.6L362.2 378.3L361.4 378.0L361.2 377.9L360.2 377.5L359.2 377.1L358.9 377.0L358.2 376.7L357.2 376.3L356.5 376.0L356.2 375.9L355.2 375.4L354.3 375.0L354.2 374.9L353.2 374.5L352.2 374.0L352.2 374.0L351.2 373.6L350.2 373.1L350.0 373.0L349.2 372.6L348.2 372.2L347.9 372.0L347.2 371.7L346.2 371.2L345.8 371.0L345.2 370.7L344.2 370.2L343.9 370.0L343.2 369.6L342.2 369.0L342.2 369.0L341.2 368.3L340.8 368.0L340.2 367.5L339.6 367.0L339.2 366.7L338.5 366.0L338.2 365.7L337.6 365.0L337.2 364.5L336.8 364.0L336.2 363.1L336.1 363.0L335.5 362.0L335.2 361.5L334.9 361.0L334.4 360.0L334.2 359.5L334.0 359.0L333.6 358.0L333.3 357.0L333.2 356.8L333.0 356.0L332.7 355.0L332.6 354.0L332.5 353.0L332.5 352.0L332.6 351.0L332.7 350.0L333.0 349.0L333.2 348.5L333.4 348.0L333.9 347.0L334.2 346.5L334.5 346.0L335.2 345.0L335.2 345.0L336.1 344.0L336.2 343.9L337.1 343.0L337.2 342.9L338.2 342.0L338.2 342.0L339.2 341.2L339.5 341.0L340.2 340.4L340.8 340.0L341.2 339.7L342.2 339.0L342.3 339.0L343.2 338.4L343.9 338.0L344.2 337.8L345.2 337.3L345.9 337.0L346.2 336.8L347.2 336.4L348.2 336.1L348.5 336.0Z" fill="#fc9b7c"/>
<path d="M350.2 338.9L351.2 338.6L352.2 338.4L353.2 338.3L354.2 338.2L355.2 338.1L356.2 338.1L357.2 338.2L358.2 338.3L359.2 338.4L360.2 338.5L361.2 338.8L362.1 339.0L362.2 339.0L363.2 339.3L364.2 339.6L365.2 340.0L365.2 340.0L366.2 340.4L367.2 340.8L367.7 341.0L368.2 341.2L369.2 341.6L370.2 342.0L370.2 342.0L371.2 342.4L372.2 342.8L372.7 343.0L373.2 343.2L374.2 343.6L375.2 343.9L375.4 344.0L376.2 344.3L377.2 344.7L378.1 345.0L378.2 345.0L379.2 345.4L380.2 345.8L380.6 346.0L381.2 346.2L382.2 346.7L382.8 347.0L383.2 347.2L384.2 347.8L384.6 348.0L385.2 348.4L386.2 349.0L386.2 349.0L387.2 349.7L387.5 350.0L388.2 350.5L388.7 351.0L389.2 351.4L389.8 352.0L390.2 352.4L390.8 353.0L391.2 353.5L391.7 354.0L392.2 354.7L392.5 355.0L393.2 356.0L393.2 356.0L394.0 357.0L394.2 357.3L394.7 358.0L395.2 358.7L395.4 359.0L396.1 360.0L396.2 360.1L396.9 361.0L397.2 361.5L397.6 362.0L398.2 362.9L398.3 363.0L399.0 364.0L399.2 364.4L399.6 365.0L400.1 366.0L400.2 366.3L400.5 367.0L400.8 368.0L401.0 369.0L401.1 370.0L401.0 371.0L400.8 372.0L400.4 373.0L400.2 373.4L399.9 374.0L399.2 374.9L399.1 375.0L398.2 375.9L398.0 376.0L397.2 376.6L396.6 377.0L396.2 377.2L395.2 377.7L394.5 378.0L394.2 378.1L393.2 378.5L392.2 378.8L391.6 379.0L391.2 379.1L390.2 379.4L389.2 379.6L388.2 379.8L387.2 380.0L387.2 380.0L386.2 380.2L385.2 380.3L384.2 380.4L383.2 380.4L382.2 380.4L381.2 380.3L380.2 380.3L379.2 380.2L378.2 380.0L377.9 380.0L377.2 379.9L376.2 379.7L375.2 379.6L374.2 379.4L373.2 379.2L372.2 379.0L372.2 379.0L371.2 378.8L370.2 378.6L369.2 378.3L368.2 378.1L367.9 378.0L367.2 377.8L366.2 377.5L365.2 377.2L364.5 377.0L364.2 376.9L363.2 376.6L362.2 376.2L361.6 376.0L361.2 375.9L360.2 375.5L359.2 375.1L359.1 375.0L358.2 374.6L357.2 374.2L356.8 374.0L356.2 373.8L355.2 373.3L354.6 373.0L354.2 372.8L353.2 372.3L352.5 372.0L352.2 371.9L351.2 371.4L350.4 371.0L350.2 370.9L349.2 370.4L348.3 370.0L348.2 370.0L347.2 369.5L346.3 369.0L346.2 368.9L345.2 368.4L344.5 368.0L344.2 367.8L343.2 367.1L343.0 367.0L342.2 366.4L341.7 366.0L341.2 365.6L340.6 365.0L340.2 364.6L339.7 364.0L339.2 363.4L338.9 363.0L338.2 362.0L338.2 362.0L337.6 361.0L337.2 360.1L337.1 360.0L336.7 359.0L336.3 358.0L336.2 357.5L336.0 357.0L335.8 356.0L335.6 355.0L335.5 354.0L335.5 353.0L335.6 352.0L335.8 351.0L336.1 350.0L336.2 349.7L336.5 349.0L337.0 348.0L337.2 347.8L337.7 347.0L338.2 346.4L338.6 346.0L339.2 345.4L339.6 345.0L340.2 344.4L340.7 344.0L341.2 343.6L342.0 343.0L342.2 342.9L343.2 342.2L343.4 342.0L344.2 341.5L345.1 341.0L345.2 340.9L346.2 340.4L347.1 340.0L347.2 339.9L348.2 339.5L349.2 339.2L349.8 339.0Z" fill="#fb7a5a"/>
<path d="M354.2 340.9L355.2 340.8L356.2 340.8L357.2 340.8L358.2 340.8L359.2 340.9L359.6 341.0L360.2 341.1L361.2 341.3L362.2 341.5L363.2 341.7L364.1 342.0L364.2 342.0L365.2 342.4L366.2 342.7L367.1 343.0L367.2 343.1L368.2 343.4L369.2 343.8L369.7 344.0L370.2 344.2L371.2 344.5L372.2 344.9L372.4 345.0L373.2 345.3L374.2 345.7L375.1 346.0L375.2 346.1L376.2 346.4L377.2 346.8L377.6 347.0L378.2 347.3L379.2 347.7L379.9 348.0L380.2 348.2L381.2 348.7L381.8 349.0L382.2 349.2L383.2 349.8L383.5 350.0L384.2 350.5L384.9 351.0L385.2 351.3L386.1 352.0L386.2 352.1L387.2 353.0L387.2 353.0L388.1 354.0L388.2 354.1L389.0 355.0L389.2 355.3L389.7 356.0L390.2 356.7L390.4 357.0L391.1 358.0L391.2 358.1L391.8 359.0L392.2 359.7L392.4 360.0L393.0 361.0L393.2 361.4L393.5 362.0L394.1 363.0L394.2 363.2L394.6 364.0L395.1 365.0L395.2 365.2L395.5 366.0L395.9 367.0L396.1 368.0L396.2 368.8L396.2 369.0L396.2 369.3L396.2 370.0L395.9 371.0L395.4 372.0L395.2 372.3L394.6 373.0L394.2 373.4L393.5 374.0L393.2 374.2L392.2 374.8L391.9 375.0L391.2 375.4L390.2 375.8L389.8 376.0L389.2 376.2L388.2 376.6L387.2 376.9L386.8 377.0L386.2 377.1L385.2 377.4L384.2 377.5L383.2 377.7L382.2 377.8L381.2 377.8L380.2 377.8L379.2 377.8L378.2 377.8L377.2 377.7L376.2 377.6L375.2 377.5L374.2 377.3L373.2 377.2L372.2 377.0L372.1 377.0L371.2 376.8L370.2 376.6L369.2 376.4L368.2 376.2L367.5 376.0L367.2 375.9L366.2 375.6L365.2 375.3L364.2 375.0L364.1 375.0L363.2 374.7L362.2 374.3L361.4 374.0L361.2 373.9L360.2 373.5L359.2 373.1L358.9 373.0L358.2 372.7L357.2 372.2L356.7 372.0L356.2 371.8L355.2 371.3L354.6 371.0L354.2 370.8L353.2 370.3L352.6 370.0L352.2 369.8L351.2 369.3L350.5 369.0L350.2 368.8L349.2 368.3L348.6 368.0L348.2 367.8L347.2 367.3L346.7 367.0L346.2 366.7L345.2 366.0L345.1 366.0L344.2 365.3L343.8 365.0L343.2 364.5L342.7 364.0L342.2 363.5L341.7 363.0L341.2 362.3L341.0 362.0L340.3 361.0L340.2 360.8L339.8 360.0L339.4 359.0L339.2 358.5L339.0 358.0L338.8 357.0L338.6 356.0L338.5 355.0L338.5 354.0L338.6 353.0L338.8 352.0L339.1 351.0L339.2 350.9L339.6 350.0L340.2 349.0L340.2 349.0L341.0 348.0L341.2 347.8L341.9 347.0L342.2 346.8L343.0 346.0L343.2 345.9L344.2 345.1L344.3 345.0L345.2 344.4L345.8 344.0L346.2 343.8L347.2 343.2L347.6 343.0L348.2 342.7L349.2 342.2L349.8 342.0L350.2 341.9L351.2 341.5L352.2 341.3L353.2 341.1L353.7 341.0Z" fill="#f6583e"/>
<path d="M353.2 343.9L354.2 343.7L355.2 343.5L356.2 343.4L357.2 343.3L358.2 343.4L359.2 343.4L360.2 343.5L361.2 343.7L362.2 343.8L362.9 344.0L363.2 344.1L364.2 344.3L365.2 344.6L366.2 344.9L366.5 345.0L367.2 345.2L368.2 345.6L369.2 345.9L369.5 346.0L370.2 346.3L371.2 346.6L372.2 347.0L372.2 347.0L373.2 347.4L374.2 347.8L374.8 348.0L375.2 348.2L376.2 348.6L377.1 349.0L377.2 349.0L378.2 349.5L379.1 350.0L379.2 350.0L380.2 350.6L380.9 351.0L381.2 351.2L382.2 351.9L382.4 352.0L383.2 352.6L383.6 353.0L384.2 353.5L384.7 354.0L385.2 354.5L385.7 355.0L386.2 355.6L386.5 356.0L387.2 356.9L387.3 357.0L388.0 358.0L388.2 358.4L388.6 359.0L389.1 360.0L389.2 360.1L389.6 361.0L390.1 362.0L390.2 362.3L390.5 363.0L390.8 364.0L391.1 365.0L391.2 365.4L391.3 366.0L391.4 367.0L391.4 368.0L391.2 368.8L391.2 369.0L390.8 370.0L390.2 370.9L390.1 371.0L389.2 372.0L389.2 372.0L388.2 372.7L387.8 373.0L387.2 373.4L386.2 373.9L385.9 374.0L385.2 374.3L384.2 374.6L383.2 374.9L382.9 375.0L382.2 375.1L381.2 375.3L380.2 375.4L379.2 375.5L378.2 375.5L377.2 375.5L376.2 375.5L375.2 375.4L374.2 375.3L373.2 375.2L372.2 375.1L371.8 375.0L371.2 374.9L370.2 374.7L369.2 374.5L368.2 374.3L367.2 374.0L367.1 374.0L366.2 373.8L365.2 373.5L364.2 373.1L363.8 373.0L363.2 372.8L362.2 372.4L361.2 372.0L361.2 372.0L360.2 371.6L359.2 371.1L358.9 371.0L358.2 370.7L357.2 370.2L356.8 370.0L356.2 369.7L355.2 369.2L354.7 369.0L354.2 368.7L353.2 368.2L352.8 368.0L352.2 367.7L351.2 367.2L350.9 367.0L350.2 366.6L349.2 366.1L349.1 366.0L348.2 365.5L347.4 365.0L347.2 364.8L346.2 364.1L346.1 364.0L345.2 363.3L344.9 363.0L344.2 362.2L344.0 362.0L343.2 361.0L343.2 360.9L342.7 360.0L342.2 359.0L342.2 358.9L341.9 358.0L341.7 357.0L341.6 356.0L341.6 355.0L341.7 354.0L342.0 353.0L342.2 352.4L342.4 352.0L342.9 351.0L343.2 350.6L343.6 350.0L344.2 349.3L344.5 349.0L345.2 348.3L345.5 348.0L346.2 347.4L346.7 347.0L347.2 346.7L348.2 346.0L348.2 346.0L349.2 345.4L350.1 345.0L350.2 344.9L351.2 344.5L352.2 344.2L352.8 344.0Z" fill="#e83429"/>
<path d="M354.2 346.7L355.2 346.4L356.2 346.2L357.2 346.1L358.2 346.0L359.2 346.0L360.2 346.1L361.2 346.2L362.2 346.3L363.2 346.5L364.2 346.7L365.2 346.9L365.4 347.0L366.2 347.2L367.2 347.5L368.2 347.8L368.8 348.0L369.2 348.1L370.2 348.5L371.2 348.8L371.6 349.0L372.2 349.2L373.2 349.6L374.1 350.0L374.2 350.0L375.2 350.5L376.2 350.9L376.3 351.0L377.2 351.5L378.2 352.0L378.2 352.0L379.2 352.6L379.7 353.0L380.2 353.3L381.1 354.0L381.2 354.1L382.2 355.0L382.2 355.0L383.2 356.0L383.2 356.0L384.0 357.0L384.2 357.2L384.8 358.0L385.2 358.7L385.4 359.0L386.0 360.0L386.2 360.5L386.4 361.0L386.8 362.0L387.1 363.0L387.2 363.5L387.3 364.0L387.4 365.0L387.4 366.0L387.3 367.0L387.2 367.2L387.0 368.0L386.4 369.0L386.2 369.3L385.6 370.0L385.2 370.4L384.4 371.0L384.2 371.2L383.2 371.7L382.6 372.0L382.2 372.2L381.2 372.5L380.2 372.8L379.2 373.0L379.1 373.0L378.2 373.1L377.2 373.2L376.2 373.2L375.2 373.2L374.2 373.2L373.2 373.1L372.2 373.0L372.1 373.0L371.2 372.9L370.2 372.7L369.2 372.5L368.2 372.3L367.2 372.0L367.1 372.0L366.2 371.7L365.2 371.4L364.2 371.1L363.9 371.0L363.2 370.7L362.2 370.3L361.4 370.0L361.2 369.9L360.2 369.5L359.2 369.0L359.2 369.0L358.2 368.5L357.2 368.0L357.2 368.0L356.2 367.5L355.3 367.0L355.2 366.9L354.2 366.4L353.5 366.0L353.2 365.8L352.2 365.2L351.8 365.0L351.2 364.6L350.2 364.0L350.2 364.0L349.2 363.3L348.9 363.0L348.2 362.4L347.7 362.0L347.2 361.4L346.8 361.0L346.2 360.1L346.1 360.0L345.6 359.0L345.3 358.0L345.2 357.3L345.2 357.0L345.2 356.0L345.2 355.6L345.3 355.0L345.6 354.0L346.0 353.0L346.2 352.7L346.6 352.0L347.2 351.3L347.4 351.0L348.2 350.2L348.4 350.0L349.2 349.3L349.6 349.0L350.2 348.6L351.2 348.0L351.2 348.0L352.2 347.5L353.2 347.0L353.3 347.0Z" fill="#ca181d"/>
<path d="M356.2 349.9L357.2 349.6L358.2 349.4L359.2 349.3L360.2 349.2L361.2 349.2L362.2 349.3L363.2 349.4L364.2 349.5L365.2 349.7L366.2 349.9L366.6 350.0L367.2 350.2L368.2 350.4L369.2 350.8L370.0 351.0L370.2 351.1L371.2 351.5L372.2 351.8L372.6 352.0L373.2 352.3L374.2 352.7L374.7 353.0L375.2 353.3L376.2 353.8L376.5 354.0L377.2 354.5L378.0 355.0L378.2 355.2L379.2 356.0L379.2 356.0L380.2 356.9L380.3 357.0L381.1 358.0L381.2 358.1L381.8 359.0L382.2 359.6L382.4 360.0L382.9 361.0L383.2 362.0L383.2 362.0L383.4 363.0L383.5 364.0L383.5 365.0L383.2 366.0L383.2 366.1L382.8 367.0L382.2 367.8L382.0 368.0L381.2 368.7L380.8 369.0L380.2 369.4L379.2 369.8L378.7 370.0L378.2 370.2L377.2 370.4L376.2 370.5L375.2 370.6L374.2 370.7L373.2 370.7L372.2 370.6L371.2 370.5L370.2 370.3L369.2 370.2L368.5 370.0L368.2 369.9L367.2 369.7L366.2 369.4L365.2 369.0L365.1 369.0L364.2 368.7L363.2 368.3L362.6 368.0L362.2 367.8L361.2 367.3L360.5 367.0L360.2 366.8L359.2 366.3L358.7 366.0L358.2 365.7L357.2 365.1L357.0 365.0L356.2 364.5L355.4 364.0L355.2 363.8L354.2 363.1L354.0 363.0L353.2 362.4L352.7 362.0L352.2 361.5L351.7 361.0L351.2 360.4L350.9 360.0L350.3 359.0L350.2 358.7L350.0 358.0L349.9 357.0L350.0 356.0L350.2 355.3L350.3 355.0L350.8 354.0L351.2 353.5L351.6 353.0L352.2 352.3L352.6 352.0L353.2 351.5L353.9 351.0L354.2 350.8L355.2 350.3L356.0 350.0Z" fill="#ac1117"/>
<path d="M361.2 354.8L362.2 354.5L363.2 354.2L364.2 354.1L365.2 354.1L366.2 354.1L367.2 354.3L368.2 354.5L369.2 354.7L370.2 355.0L370.3 355.0L371.2 355.4L372.2 355.8L372.7 356.0L373.2 356.3L374.2 356.9L374.4 357.0L375.2 357.6L375.7 358.0L376.2 358.5L376.6 359.0L377.2 359.7L377.4 360.0L377.9 361.0L378.2 361.9L378.2 362.0L378.3 363.0L378.2 363.8L378.2 364.0L377.6 365.0L377.2 365.5L376.6 366.0L376.2 366.2L375.2 366.6L374.2 366.9L373.6 367.0L373.2 367.0L372.2 367.1L371.2 367.0L370.9 367.0L370.2 366.9L369.2 366.7L368.2 366.5L367.2 366.2L366.8 366.0L366.2 365.8L365.2 365.3L364.5 365.0L364.2 364.8L363.2 364.2L362.8 364.0L362.2 363.5L361.5 363.0L361.2 362.8L360.3 362.0L360.2 361.8L359.5 361.0L359.2 360.6L358.8 360.0L358.5 359.0L358.4 358.0L358.7 357.0L359.2 356.3L359.4 356.0L360.2 355.4L360.8 355.0Z" fill="#7e0610"/>
<path d="M299.2 321.0L300.2 320.9L300.7 321.0L301.2 321.0L302.2 321.2L303.2 321.6L304.2 322.0L304.2 322.0L305.2 322.5L306.0 323.0L306.2 323.1L307.2 323.8L307.4 324.0L308.2 324.6L308.7 325.0L309.2 325.4L309.8 326.0L310.2 326.4L310.8 327.0L311.2 327.4L311.8 328.0L312.2 328.5L312.7 329.0L313.2 329.7L313.5 330.0L314.2 331.0L314.2 331.0L314.9 332.0L315.2 332.4L315.6 333.0L316.2 334.0L316.2 334.0L316.9 335.0L317.2 335.6L317.4 336.0L318.0 337.0L318.2 337.5L318.5 338.0L319.0 339.0L319.2 339.5L319.4 340.0L319.9 341.0L320.2 341.7L320.3 342.0L320.8 343.0L321.2 344.0L321.2 344.0L321.7 345.0L322.0 346.0L322.2 346.5L322.4 347.0L322.7 348.0L323.0 349.0L323.1 350.0L323.2 351.0L323.2 351.0L323.3 352.0L323.3 353.0L323.3 354.0L323.2 354.9L323.2 355.0L323.1 356.0L322.9 357.0L322.7 358.0L322.3 359.0L322.2 359.1L321.8 360.0L321.2 361.0L321.2 361.0L320.5 362.0L320.2 362.5L319.7 363.0L319.2 363.6L318.2 364.0L318.2 364.0L317.2 364.1L316.9 364.0L316.2 363.9L315.2 363.7L314.2 363.4L313.2 363.1L313.1 363.0L312.2 362.7L311.2 362.2L310.9 362.0L310.2 361.6L309.4 361.0L309.2 360.9L308.2 360.0L308.2 360.0L307.2 359.1L307.1 359.0L306.2 358.2L306.1 358.0L305.2 357.1L305.1 357.0L304.2 356.0L304.2 356.0L303.4 355.0L303.2 354.8L302.5 354.0L302.2 353.6L301.8 353.0L301.2 352.2L301.1 352.0L300.4 351.0L300.2 350.7L299.7 350.0L299.2 349.1L299.2 349.0L298.6 348.0L298.2 347.3L298.0 347.0L297.5 346.0L297.2 345.3L297.0 345.0L296.6 344.0L296.2 343.0L296.2 343.0L295.7 342.0L295.4 341.0L295.2 340.4L295.1 340.0L294.7 339.0L294.4 338.0L294.2 337.0L294.2 336.9L294.0 336.0L293.8 335.0L293.6 334.0L293.5 333.0L293.4 332.0L293.4 331.0L293.4 330.0L293.4 329.0L293.5 328.0L293.7 327.0L293.9 326.0L294.2 325.2L294.3 325.0L294.8 324.0L295.2 323.3L295.5 323.0L296.2 322.2L296.5 322.0L297.2 321.6L298.2 321.2L299.1 321.0ZM330.2 358.0L330.4 358.0L331.2 358.7L331.3 359.0L331.2 359.4L330.2 359.4L330.0 359.0L330.1 358.0ZM333.2 364.7L333.4 365.0L333.3 366.0L333.2 366.1L333.0 366.0L332.4 365.0ZM304.2 365.7L305.2 365.8L305.5 366.0L306.2 366.3L307.0 367.0L307.2 367.2L307.7 368.0L308.2 368.9L308.3 369.0L308.7 370.0L309.0 371.0L309.2 372.0L309.2 372.0L309.4 373.0L309.5 374.0L309.5 375.0L309.3 376.0L309.2 376.5L309.1 377.0L308.6 378.0L308.2 378.5L307.8 379.0L307.2 379.5L306.2 380.0L306.2 380.0L305.2 380.2L304.5 380.0L304.2 379.9L303.2 379.3L302.8 379.0L302.2 378.2L302.1 378.0L301.5 377.0L301.2 376.2L301.1 376.0L300.8 375.0L300.6 374.0L300.4 373.0L300.3 372.0L300.3 371.0L300.4 370.0L300.6 369.0L301.0 368.0L301.2 367.7L301.8 367.0L302.2 366.6L303.2 366.0L303.2 366.0ZM319.2 367.7L320.2 367.6L320.5 368.0L320.8 369.0L320.2 369.9L319.2 369.5L319.0 369.0L319.0 368.0Z" fill="#dff3da"/>
<path d="M299.2 323.8L300.2 323.6L301.2 323.5L302.2 323.6L303.2 323.9L303.5 324.0L304.2 324.3L305.2 324.7L305.6 325.0L306.2 325.3L307.2 326.0L307.2 326.0L308.2 326.7L308.5 327.0L309.2 327.6L309.6 328.0L310.2 328.6L310.6 329.0L311.2 329.6L311.5 330.0L312.2 330.8L312.4 331.0L313.2 332.0L313.2 332.0L313.9 333.0L314.2 333.4L314.6 334.0L315.2 335.0L315.2 335.0L315.8 336.0L316.2 336.7L316.4 337.0L316.9 338.0L317.2 338.5L317.4 339.0L317.9 340.0L318.2 340.7L318.4 341.0L318.8 342.0L319.2 343.0L319.2 343.0L319.7 344.0L320.1 345.0L320.2 345.3L320.5 346.0L320.9 347.0L321.1 348.0L321.2 348.2L321.4 349.0L321.6 350.0L321.6 351.0L321.7 352.0L321.6 353.0L321.5 354.0L321.3 355.0L321.2 355.3L321.0 356.0L320.7 357.0L320.3 358.0L320.2 358.1L319.6 359.0L319.2 359.6L318.7 360.0L318.2 360.4L317.2 360.9L317.0 361.0L316.2 361.2L315.2 361.3L314.2 361.2L313.5 361.0L313.2 360.9L312.2 360.6L311.2 360.1L311.1 360.0L310.2 359.4L309.6 359.0L309.2 358.7L308.4 358.0L308.2 357.8L307.3 357.0L307.2 356.9L306.3 356.0L306.2 355.9L305.3 355.0L305.2 354.9L304.4 354.0L304.2 353.7L303.6 353.0L303.2 352.5L302.8 352.0L302.2 351.1L302.1 351.0L301.4 350.0L301.2 349.7L300.8 349.0L300.2 348.0L300.2 348.0L299.6 347.0L299.2 346.2L299.1 346.0L298.6 345.0L298.2 344.2L298.1 344.0L297.7 343.0L297.3 342.0L297.2 341.7L296.9 341.0L296.6 340.0L296.3 339.0L296.2 338.7L296.0 338.0L295.8 337.0L295.6 336.0L295.4 335.0L295.3 334.0L295.2 333.0L295.2 332.8L295.2 332.0L295.2 331.0L295.2 330.8L295.3 330.0L295.4 329.0L295.6 328.0L296.0 327.0L296.2 326.6L296.5 326.0L297.2 325.1L297.3 325.0L298.2 324.3L298.8 324.0ZM303.2 369.0L304.2 368.3L305.2 368.4L306.1 369.0L306.2 369.1L306.8 370.0L307.2 370.9L307.2 371.0L307.5 372.0L307.7 373.0L307.7 374.0L307.6 375.0L307.3 376.0L307.2 376.2L306.7 377.0L306.2 377.4L305.2 377.8L304.2 377.5L303.7 377.0L303.2 376.4L303.0 376.0L302.6 375.0L302.4 374.0L302.2 373.0L302.2 372.0L302.3 371.0L302.6 370.0L303.2 369.0Z" fill="#c7e9c0"/>
<path d="M300.2 325.6L301.2 325.4L302.2 325.4L303.2 325.6L304.2 325.9L304.4 326.0L305.2 326.4L306.2 326.9L306.3 327.0L307.2 327.6L307.8 328.0L308.2 328.3L309.0 329.0L309.2 329.2L310.0 330.0L310.2 330.2L311.0 331.0L311.2 331.2L311.8 332.0L312.2 332.4L312.6 333.0L313.2 333.8L313.4 334.0L314.0 335.0L314.2 335.3L314.7 336.0L315.2 336.9L315.3 337.0L315.8 338.0L316.2 338.8L316.3 339.0L316.8 340.0L317.2 340.9L317.2 341.0L317.7 342.0L318.1 343.0L318.2 343.2L318.5 344.0L318.9 345.0L319.2 345.7L319.3 346.0L319.7 347.0L320.0 348.0L320.2 348.8L320.2 349.0L320.4 350.0L320.5 351.0L320.5 352.0L320.3 353.0L320.2 353.8L320.2 354.0L319.9 355.0L319.6 356.0L319.2 356.8L319.1 357.0L318.4 358.0L318.2 358.2L317.2 359.0L317.2 359.0L316.2 359.5L315.2 359.7L314.2 359.6L313.2 359.4L312.2 359.1L312.1 359.0L311.2 358.5L310.4 358.0L310.2 357.9L309.2 357.1L309.1 357.0L308.2 356.2L307.9 356.0L307.2 355.3L306.9 355.0L306.2 354.3L305.9 354.0L305.2 353.2L305.0 353.0L304.2 352.0L304.2 352.0L303.4 351.0L303.2 350.8L302.6 350.0L302.2 349.4L302.0 349.0L301.3 348.0L301.2 347.8L300.7 347.0L300.2 346.0L300.2 346.0L299.7 345.0L299.2 344.0L299.2 343.9L298.8 343.0L298.4 342.0L298.2 341.5L298.0 341.0L297.7 340.0L297.4 339.0L297.2 338.2L297.1 338.0L296.9 337.0L296.7 336.0L296.6 335.0L296.5 334.0L296.5 333.0L296.5 332.0L296.6 331.0L296.8 330.0L297.1 329.0L297.2 328.6L297.5 328.0L298.2 327.0L298.2 326.9L299.2 326.1L299.4 326.0ZM304.2 371.3L305.2 371.0L305.8 372.0L306.1 373.0L306.0 374.0L305.4 375.0L305.2 375.2L304.8 375.0L304.2 374.5L304.0 374.0L303.8 373.0L303.9 372.0Z" fill="#a9dca3"/>
<path d="M300.2 327.6L301.2 327.2L302.2 327.0L303.2 327.1L304.2 327.4L305.2 327.8L305.7 328.0L306.2 328.3L307.2 328.9L307.3 329.0L308.2 329.7L308.6 330.0L309.2 330.5L309.7 331.0L310.2 331.5L310.6 332.0L311.2 332.7L311.5 333.0L312.2 333.9L312.3 334.0L313.0 335.0L313.2 335.3L313.7 336.0L314.2 336.9L314.3 337.0L314.8 338.0L315.2 338.7L315.4 339.0L315.8 340.0L316.2 340.8L316.3 341.0L316.7 342.0L317.2 343.0L317.2 343.1L317.6 344.0L318.0 345.0L318.2 345.6L318.4 346.0L318.7 347.0L319.0 348.0L319.2 348.7L319.3 349.0L319.4 350.0L319.5 351.0L319.4 352.0L319.2 353.0L319.2 353.2L319.0 354.0L318.7 355.0L318.2 355.9L318.2 356.0L317.4 357.0L317.2 357.2L316.2 357.9L315.9 358.0L315.2 358.2L314.2 358.3L313.2 358.1L312.9 358.0L312.2 357.7L311.2 357.2L310.9 357.0L310.2 356.5L309.6 356.0L309.2 355.7L308.4 355.0L308.2 354.8L307.3 354.0L307.2 353.9L306.3 353.0L306.2 352.9L305.4 352.0L305.2 351.8L304.5 351.0L304.2 350.6L303.7 350.0L303.2 349.3L303.0 349.0L302.4 348.0L302.2 347.8L301.7 347.0L301.2 346.0L301.2 346.0L300.6 345.0L300.2 344.1L300.2 344.0L299.7 343.0L299.3 342.0L299.2 341.7L299.0 341.0L298.6 340.0L298.3 339.0L298.2 338.4L298.1 338.0L297.9 337.0L297.7 336.0L297.6 335.0L297.6 334.0L297.6 333.0L297.7 332.0L297.9 331.0L298.2 330.1L298.2 330.0L298.7 329.0L299.2 328.4L299.6 328.0Z" fill="#86cc85"/>
<path d="M301.2 328.9L302.2 328.6L303.2 328.6L304.2 328.7L305.0 329.0L305.2 329.1L306.2 329.6L306.9 330.0L307.2 330.2L308.2 330.9L308.3 331.0L309.2 331.8L309.4 332.0L310.2 332.8L310.3 333.0L311.2 334.0L311.2 334.0L312.0 335.0L312.2 335.3L312.7 336.0L313.2 336.8L313.3 337.0L313.9 338.0L314.2 338.5L314.5 339.0L315.0 340.0L315.2 340.5L315.4 341.0L315.8 342.0L316.2 342.9L316.3 343.0L316.7 344.0L317.1 345.0L317.2 345.4L317.4 346.0L317.8 347.0L318.1 348.0L318.2 348.5L318.3 349.0L318.4 350.0L318.5 351.0L318.4 352.0L318.2 352.8L318.2 353.0L317.8 354.0L317.3 355.0L317.2 355.2L316.5 356.0L316.2 356.3L315.2 356.8L314.2 356.9L313.2 356.8L312.2 356.4L311.4 356.0L311.2 355.9L310.2 355.2L310.0 355.0L309.2 354.4L308.7 354.0L308.2 353.5L307.6 353.0L307.2 352.6L306.6 352.0L306.2 351.6L305.6 351.0L305.2 350.5L304.8 350.0L304.2 349.2L304.0 349.0L303.3 348.0L303.2 347.8L302.7 347.0L302.2 346.2L302.1 346.0L301.6 345.0L301.2 344.3L301.1 344.0L300.6 343.0L300.2 342.0L300.2 342.0L299.8 341.0L299.5 340.0L299.3 339.0L299.2 338.8L299.0 338.0L298.8 337.0L298.7 336.0L298.7 335.0L298.7 334.0L298.8 333.0L299.0 332.0L299.2 331.3L299.3 331.0L299.9 330.0L300.2 329.6L301.0 329.0Z" fill="#60ba6c"/>
<path d="M301.2 330.9L302.2 330.3L303.2 330.1L304.2 330.1L305.2 330.4L306.2 330.9L306.4 331.0L307.2 331.5L307.9 332.0L308.2 332.2L309.1 333.0L309.2 333.1L310.1 334.0L310.2 334.2L310.9 335.0L311.2 335.4L311.7 336.0L312.2 336.8L312.4 337.0L313.0 338.0L313.2 338.4L313.5 339.0L314.1 340.0L314.2 340.3L314.5 341.0L315.0 342.0L315.2 342.6L315.4 343.0L315.7 344.0L316.1 345.0L316.2 345.2L316.5 346.0L316.8 347.0L317.1 348.0L317.2 348.4L317.3 349.0L317.4 350.0L317.4 351.0L317.3 352.0L317.2 352.2L316.9 353.0L316.4 354.0L316.2 354.3L315.4 355.0L315.2 355.2L314.2 355.4L313.2 355.4L312.2 355.0L312.1 355.0L311.2 354.5L310.5 354.0L310.2 353.8L309.2 353.1L309.1 353.0L308.2 352.2L307.9 352.0L307.2 351.3L306.9 351.0L306.2 350.3L305.9 350.0L305.2 349.2L305.1 349.0L304.3 348.0L304.2 347.8L303.6 347.0L303.2 346.3L303.0 346.0L302.5 345.0L302.2 344.5L302.0 344.0L301.5 343.0L301.2 342.3L301.1 342.0L300.7 341.0L300.4 340.0L300.2 339.2L300.2 339.0L300.0 338.0L299.8 337.0L299.7 336.0L299.7 335.0L299.8 334.0L300.0 333.0L300.2 332.5L300.4 332.0L301.1 331.0Z" fill="#3ba458"/>
<path d="M303.2 331.8L304.2 331.7L305.2 331.9L305.6 332.0L306.2 332.3L307.2 332.8L307.4 333.0L308.2 333.6L308.7 334.0L309.2 334.5L309.7 335.0L310.2 335.6L310.5 336.0L311.2 336.8L311.3 337.0L312.0 338.0L312.2 338.4L312.6 339.0L313.1 340.0L313.2 340.2L313.6 341.0L314.0 342.0L314.2 342.5L314.4 343.0L314.8 344.0L315.1 345.0L315.2 345.2L315.5 346.0L315.8 347.0L316.0 348.0L316.2 348.9L316.2 349.0L316.3 350.0L316.2 350.6L316.1 351.0L315.8 352.0L315.2 353.0L315.2 353.0L314.2 353.6L313.2 353.7L312.2 353.4L311.2 353.0L311.2 353.0L310.2 352.4L309.7 352.0L309.2 351.7L308.4 351.0L308.2 350.9L307.2 350.0L307.2 350.0L306.3 349.0L306.2 348.9L305.5 348.0L305.2 347.7L304.7 347.0L304.2 346.3L304.0 346.0L303.4 345.0L303.2 344.6L302.9 344.0L302.4 343.0L302.2 342.4L302.0 342.0L301.7 341.0L301.4 340.0L301.2 339.3L301.1 339.0L301.0 338.0L300.9 337.0L300.9 336.0L300.9 335.0L301.2 334.0L301.2 333.9L301.7 333.0L302.2 332.4L302.8 332.0Z" fill="#228a44"/>
<path d="M304.2 333.7L305.2 333.7L306.2 333.9L306.4 334.0L307.2 334.4L308.0 335.0L308.2 335.2L309.1 336.0L309.2 336.1L310.0 337.0L310.2 337.3L310.7 338.0L311.2 338.7L311.4 339.0L311.9 340.0L312.2 340.5L312.4 341.0L312.9 342.0L313.2 342.8L313.3 343.0L313.6 344.0L313.9 345.0L314.2 345.9L314.2 346.0L314.5 347.0L314.6 348.0L314.7 349.0L314.5 350.0L314.2 350.7L313.9 351.0L313.2 351.4L312.2 351.4L311.2 351.1L311.0 351.0L310.2 350.6L309.2 350.0L309.2 350.0L308.2 349.2L307.9 349.0L307.2 348.3L306.9 348.0L306.2 347.2L306.0 347.0L305.3 346.0L305.2 345.9L304.6 345.0L304.2 344.3L304.1 344.0L303.6 343.0L303.2 342.2L303.1 342.0L302.8 341.0L302.5 340.0L302.3 339.0L302.2 338.1L302.2 338.0L302.2 337.0L302.2 336.7L302.3 336.0L302.7 335.0L303.2 334.2L303.5 334.0Z" fill="#077331"/>
<path d="M305.2 336.6L306.2 336.5L307.2 336.9L307.4 337.0L308.2 337.6L308.6 338.0L309.2 338.6L309.5 339.0L310.2 339.9L310.2 340.0L310.7 341.0L311.2 341.9L311.2 342.0L311.6 343.0L311.9 344.0L312.1 345.0L312.2 345.7L312.2 346.0L312.2 346.5L312.1 347.0L311.3 348.0L311.2 348.0L310.8 348.0L310.2 348.0L309.2 347.5L308.4 347.0L308.2 346.8L307.3 346.0L307.2 345.9L306.5 345.0L306.2 344.6L305.8 344.0L305.2 343.0L305.2 343.0L304.8 342.0L304.5 341.0L304.2 340.0L304.2 339.6L304.2 339.0L304.2 338.3L304.2 338.0L304.8 337.0Z" fill="#005321"/>
<circle cx="311.3" cy="349.6" r="1.8" fill="#245c31" fill-opacity="0.4" stroke="#163c1f" stroke-width="0.7"/><circle cx="311.4" cy="340.8" r="1.8" fill="#245c31" fill-opacity="0.4" stroke="#163c1f" stroke-width="0.7"/><circle cx="303.4" cy="336.3" r="1.8" fill="#245c31" fill-opacity="0.4" stroke="#163c1f" stroke-width="0.7"/><circle cx="302.2" cy="341.1" r="1.8" fill="#245c31" fill-opacity="0.4" stroke="#163c1f" stroke-width="0.7"/><circle cx="314.7" cy="347.7" r="1.8" fill="#245c31" fill-opacity="0.4" stroke="#163c1f" stroke-width="0.7"/><circle cx="312.1" cy="342.8" r="1.8" fill="#245c31" fill-opacity="0.4" stroke="#163c1f" stroke-width="0.7"/><circle cx="314.1" cy="343.8" r="1.8" fill="#245c31" fill-opacity="0.4" stroke="#163c1f" stroke-width="0.7"/><circle cx="304.5" cy="347.1" r="1.8" fill="#245c31" fill-opacity="0.4" stroke="#163c1f" stroke-width="0.7"/><circle cx="308.0" cy="349.9" r="1.8" fill="#245c31" fill-opacity="0.4" stroke="#163c1f" stroke-width="0.7"/><circle cx="315.3" cy="349.4" r="1.8" fill="#245c31" fill-opacity="0.4" stroke="#163c1f" stroke-width="0.7"/><circle cx="307.0" cy="334.2" r="1.8" fill="#245c31" fill-opacity="0.4" stroke="#163c1f" stroke-width="0.7"/><circle cx="310.8" cy="339.8" r="1.8" fill="#245c31" fill-opacity="0.4" stroke="#163c1f" stroke-width="0.7"/><circle cx="302.0" cy="336.2" r="1.8" fill="#245c31" fill-opacity="0.4" stroke="#163c1f" stroke-width="0.7"/><circle cx="311.3" cy="335.5" r="1.8" fill="#245c31" fill-opacity="0.4" stroke="#163c1f" stroke-width="0.7"/><circle cx="307.0" cy="350.7" r="1.8" fill="#245c31" fill-opacity="0.4" stroke="#163c1f" stroke-width="0.7"/><circle cx="309.9" cy="341.7" r="1.8" fill="#245c31" fill-opacity="0.4" stroke="#163c1f" stroke-width="0.7"/><circle cx="300.3" cy="334.1" r="1.8" fill="#245c31" fill-opacity="0.4" stroke="#163c1f" stroke-width="0.7"/><circle cx="300.5" cy="336.5" r="1.8" fill="#245c31" fill-opacity="0.4" stroke="#163c1f" stroke-width="0.7"/><circle cx="303.5" cy="368.9" r="1.8" fill="#245c31" fill-opacity="0.4" stroke="#163c1f" stroke-width="0.7"/><circle cx="305.0" cy="373.0" r="1.8" fill="#245c31" fill-opacity="0.4" stroke="#163c1f" stroke-width="0.7"/><circle cx="305.8" cy="376.8" r="1.8" fill="#245c31" fill-opacity="0.4" stroke="#163c1f" stroke-width="0.7"/><circle cx="320.0" cy="369.4" r="1.8" fill="#245c31" fill-opacity="0.4" stroke="#163c1f" stroke-width="0.7"/><circle cx="330.4" cy="358.1" r="1.8" fill="#245c31" fill-opacity="0.4" stroke="#163c1f" stroke-width="0.7"/><circle cx="333.2" cy="366.0" r="1.8" fill="#245c31" fill-opacity="0.4" stroke="#163c1f" stroke-width="0.7"/><circle cx="317.7" cy="350.0" r="1.8" fill="#245c31" fill-opacity="0.4" stroke="#163c1f" stroke-width="0.7"/><circle cx="314.8" cy="356.2" r="1.8" fill="#245c31" fill-opacity="0.4" stroke="#163c1f" stroke-width="0.7"/>
<path d="M370.8 366.9h3.4v3.4h-3.4zM352.5 352.8h3.4v3.4h-3.4zM363.1 357.9h3.4v3.4h-3.4zM360.1 350.6h3.4v3.4h-3.4zM383.0 360.4h3.4v3.4h-3.4zM358.2 365.6h3.4v3.4h-3.4zM380.5 352.8h3.4v3.4h-3.4zM378.4 367.3h3.4v3.4h-3.4zM350.8 357.1h3.4v3.4h-3.4zM387.5 367.0h3.4v3.4h-3.4zM385.3 360.6h3.4v3.4h-3.4zM364.5 352.5h3.4v3.4h-3.4zM380.5 357.2h3.4v3.4h-3.4zM364.4 352.2h3.4v3.4h-3.4zM371.9 359.5h3.4v3.4h-3.4zM366.2 349.8h3.4v3.4h-3.4zM356.3 360.9h3.4v3.4h-3.4zM358.0 348.3h3.4v3.4h-3.4zM368.5 361.3h3.4v3.4h-3.4zM370.3 360.7h3.4v3.4h-3.4zM361.7 351.2h3.4v3.4h-3.4zM364.4 366.2h3.4v3.4h-3.4zM351.1 358.2h3.4v3.4h-3.4zM354.7 362.2h3.4v3.4h-3.4zM373.9 371.7h3.4v3.4h-3.4zM350.8 342.0h3.4v3.4h-3.4zM346.0 361.9h3.4v3.4h-3.4zM363.2 358.1h3.4v3.4h-3.4zM351.8 342.2h3.4v3.4h-3.4zM362.7 365.8h3.4v3.4h-3.4zM371.4 350.0h3.4v3.4h-3.4zM375.6 362.8h3.4v3.4h-3.4zM366.8 360.1h3.4v3.4h-3.4zM375.0 359.3h3.4v3.4h-3.4zM366.7 350.6h3.4v3.4h-3.4zM357.7 358.8h3.4v3.4h-3.4zM380.7 359.9h3.4v3.4h-3.4zM361.7 347.9h3.4v3.4h-3.4zM344.2 365.1h3.4v3.4h-3.4zM352.5 361.6h3.4v3.4h-3.4zM353.4 341.4h3.4v3.4h-3.4zM379.5 357.0h3.4v3.4h-3.4zM349.5 359.7h3.4v3.4h-3.4zM364.6 361.2h3.4v3.4h-3.4zM363.5 362.6h3.4v3.4h-3.4zM379.4 363.9h3.4v3.4h-3.4zM378.8 347.0h3.4v3.4h-3.4zM373.4 365.3h3.4v3.4h-3.4zM344.8 341.0h3.4v3.4h-3.4zM374.7 360.7h3.4v3.4h-3.4zM353.4 350.8h3.4v3.4h-3.4zM387.1 364.0h3.4v3.4h-3.4zM347.5 357.2h3.4v3.4h-3.4zM378.6 365.9h3.4v3.4h-3.4zM354.9 369.4h3.4v3.4h-3.4zM363.5 365.5h3.4v3.4h-3.4zM353.5 339.4h3.4v3.4h-3.4zM349.7 351.0h3.4v3.4h-3.4zM359.1 357.7h3.4v3.4h-3.4zM350.9 358.4h3.4v3.4h-3.4zM362.2 349.1h3.4v3.4h-3.4zM352.3 346.5h3.4v3.4h-3.4zM350.3 355.6h3.4v3.4h-3.4zM370.9 375.3h3.4v3.4h-3.4zM369.3 352.1h3.4v3.4h-3.4zM349.7 339.7h3.4v3.4h-3.4zM365.2 351.1h3.4v3.4h-3.4zM368.1 350.2h3.4v3.4h-3.4zM354.6 344.1h3.4v3.4h-3.4zM361.3 352.6h3.4v3.4h-3.4zM371.3 370.5h3.4v3.4h-3.4zM349.3 344.2h3.4v3.4h-3.4zM363.0 349.7h3.4v3.4h-3.4zM338.1 354.8h3.4v3.4h-3.4zM367.6 354.8h3.4v3.4h-3.4zM357.9 348.1h3.4v3.4h-3.4zM360.3 349.5h3.4v3.4h-3.4zM373.2 349.9h3.4v3.4h-3.4zM366.9 363.6h3.4v3.4h-3.4zM351.9 344.4h3.4v3.4h-3.4zM353.1 368.6h3.4v3.4h-3.4zM345.9 344.3h3.4v3.4h-3.4zM359.7 356.7h3.4v3.4h-3.4zM369.2 355.8h3.4v3.4h-3.4zM388.1 359.1h3.4v3.4h-3.4zM380.8 350.3h3.4v3.4h-3.4zM374.6 347.8h3.4v3.4h-3.4zM368.3 346.0h3.4v3.4h-3.4zM360.5 365.7h3.4v3.4h-3.4zM375.3 375.8h3.4v3.4h-3.4zM351.3 286.7h3.4v3.4h-3.4zM358.3 286.7h3.4v3.4h-3.4zM361.2 286.7h3.4v3.4h-3.4zM349.9 299.9h3.4v3.4h-3.4zM365.4 297.4h3.4v3.4h-3.4zM320.2 301.6h3.4v3.4h-3.4zM349.9 319.1h3.4v3.4h-3.4zM362.6 319.7h3.4v3.4h-3.4zM366.3 319.1h3.4v3.4h-3.4zM342.8 329.9h3.4v3.4h-3.4zM353.3 334.7h3.4v3.4h-3.4zM363.4 333.8h3.4v3.4h-3.4zM398.4 336.9h3.4v3.4h-3.4zM400.7 346.8h3.4v3.4h-3.4zM404.3 345.4h3.4v3.4h-3.4zM406.9 352.2h3.4v3.4h-3.4zM380.9 342.3h3.4v3.4h-3.4zM388.0 348.8h3.4v3.4h-3.4zM418.5 369.1h3.4v3.4h-3.4zM399.3 364.3h3.4v3.4h-3.4zM400.7 370.6h3.4v3.4h-3.4zM395.1 377.1h3.4v3.4h-3.4zM382.3 383.3h3.4v3.4h-3.4zM338.6 361.0h3.4v3.4h-3.4zM342.8 362.1h3.4v3.4h-3.4zM332.9 350.3h3.4v3.4h-3.4z" fill="#e0182a"/><path d="M371.3 367.4l2.4 2.4M371.3 369.8l2.4 -2.4M353.0 353.3l2.4 2.4M353.0 355.7l2.4 -2.4M363.6 358.4l2.4 2.4M363.6 360.8l2.4 -2.4M360.6 351.1l2.4 2.4M360.6 353.5l2.4 -2.4M383.5 360.9l2.4 2.4M383.5 363.3l2.4 -2.4M358.7 366.1l2.4 2.4M358.7 368.5l2.4 -2.4M381.0 353.3l2.4 2.4M381.0 355.7l2.4 -2.4M378.9 367.8l2.4 2.4M378.9 370.2l2.4 -2.4M351.3 357.6l2.4 2.4M351.3 360.0l2.4 -2.4M388.0 367.5l2.4 2.4M388.0 369.9l2.4 -2.4M385.8 361.1l2.4 2.4M385.8 363.5l2.4 -2.4M365.0 353.0l2.4 2.4M365.0 355.4l2.4 -2.4M381.0 357.7l2.4 2.4M381.0 360.1l2.4 -2.4M364.9 352.7l2.4 2.4M364.9 355.1l2.4 -2.4M372.4 360.0l2.4 2.4M372.4 362.4l2.4 -2.4M366.7 350.3l2.4 2.4M366.7 352.7l2.4 -2.4M356.8 361.4l2.4 2.4M356.8 363.8l2.4 -2.4M358.5 348.8l2.4 2.4M358.5 351.2l2.4 -2.4M369.0 361.8l2.4 2.4M369.0 364.2l2.4 -2.4M370.8 361.2l2.4 2.4M370.8 363.6l2.4 -2.4M362.2 351.7l2.4 2.4M362.2 354.1l2.4 -2.4M364.9 366.7l2.4 2.4M364.9 369.1l2.4 -2.4M351.6 358.7l2.4 2.4M351.6 361.1l2.4 -2.4M355.2 362.7l2.4 2.4M355.2 365.1l2.4 -2.4M374.4 372.2l2.4 2.4M374.4 374.6l2.4 -2.4M351.3 342.5l2.4 2.4M351.3 344.9l2.4 -2.4M346.5 362.4l2.4 2.4M346.5 364.8l2.4 -2.4M363.7 358.6l2.4 2.4M363.7 361.0l2.4 -2.4M352.3 342.7l2.4 2.4M352.3 345.1l2.4 -2.4M363.2 366.3l2.4 2.4M363.2 368.7l2.4 -2.4M371.9 350.5l2.4 2.4M371.9 352.9l2.4 -2.4M376.1 363.3l2.4 2.4M376.1 365.7l2.4 -2.4M367.3 360.6l2.4 2.4M367.3 363.0l2.4 -2.4M375.5 359.8l2.4 2.4M375.5 362.2l2.4 -2.4M367.2 351.1l2.4 2.4M367.2 353.5l2.4 -2.4M358.2 359.3l2.4 2.4M358.2 361.7l2.4 -2.4M381.2 360.4l2.4 2.4M381.2 362.8l2.4 -2.4M362.2 348.4l2.4 2.4M362.2 350.8l2.4 -2.4M344.7 365.6l2.4 2.4M344.7 368.0l2.4 -2.4M353.0 362.1l2.4 2.4M353.0 364.5l2.4 -2.4M353.9 341.9l2.4 2.4M353.9 344.3l2.4 -2.4M380.0 357.5l2.4 2.4M380.0 359.9l2.4 -2.4M350.0 360.2l2.4 2.4M350.0 362.6l2.4 -2.4M365.1 361.7l2.4 2.4M365.1 364.1l2.4 -2.4M364.0 363.1l2.4 2.4M364.0 365.5l2.4 -2.4M379.9 364.4l2.4 2.4M379.9 366.8l2.4 -2.4M379.3 347.5l2.4 2.4M379.3 349.9l2.4 -2.4M373.9 365.8l2.4 2.4M373.9 368.2l2.4 -2.4M345.3 341.5l2.4 2.4M345.3 343.9l2.4 -2.4M375.2 361.2l2.4 2.4M375.2 363.6l2.4 -2.4M353.9 351.3l2.4 2.4M353.9 353.7l2.4 -2.4M387.6 364.5l2.4 2.4M387.6 366.9l2.4 -2.4M348.0 357.7l2.4 2.4M348.0 360.1l2.4 -2.4M379.1 366.4l2.4 2.4M379.1 368.8l2.4 -2.4M355.4 369.9l2.4 2.4M355.4 372.3l2.4 -2.4M364.0 366.0l2.4 2.4M364.0 368.4l2.4 -2.4M354.0 339.9l2.4 2.4M354.0 342.3l2.4 -2.4M350.2 351.5l2.4 2.4M350.2 353.9l2.4 -2.4M359.6 358.2l2.4 2.4M359.6 360.6l2.4 -2.4M351.4 358.9l2.4 2.4M351.4 361.3l2.4 -2.4M362.7 349.6l2.4 2.4M362.7 352.0l2.4 -2.4M352.8 347.0l2.4 2.4M352.8 349.4l2.4 -2.4M350.8 356.1l2.4 2.4M350.8 358.5l2.4 -2.4M371.4 375.8l2.4 2.4M371.4 378.2l2.4 -2.4M369.8 352.6l2.4 2.4M369.8 355.0l2.4 -2.4M350.2 340.2l2.4 2.4M350.2 342.6l2.4 -2.4M365.7 351.6l2.4 2.4M365.7 354.0l2.4 -2.4M368.6 350.7l2.4 2.4M368.6 353.1l2.4 -2.4M355.1 344.6l2.4 2.4M355.1 347.0l2.4 -2.4M361.8 353.1l2.4 2.4M361.8 355.5l2.4 -2.4M371.8 371.0l2.4 2.4M371.8 373.4l2.4 -2.4M349.8 344.7l2.4 2.4M349.8 347.1l2.4 -2.4M363.5 350.2l2.4 2.4M363.5 352.6l2.4 -2.4M338.6 355.3l2.4 2.4M338.6 357.7l2.4 -2.4M368.1 355.3l2.4 2.4M368.1 357.7l2.4 -2.4M358.4 348.6l2.4 2.4M358.4 351.0l2.4 -2.4M360.8 350.0l2.4 2.4M360.8 352.4l2.4 -2.4M373.7 350.4l2.4 2.4M373.7 352.8l2.4 -2.4M367.4 364.1l2.4 2.4M367.4 366.5l2.4 -2.4M352.4 344.9l2.4 2.4M352.4 347.3l2.4 -2.4M353.6 369.1l2.4 2.4M353.6 371.5l2.4 -2.4M346.4 344.8l2.4 2.4M346.4 347.2l2.4 -2.4M360.2 357.2l2.4 2.4M360.2 359.6l2.4 -2.4M369.7 356.3l2.4 2.4M369.7 358.7l2.4 -2.4M388.6 359.6l2.4 2.4M388.6 362.0l2.4 -2.4M381.3 350.8l2.4 2.4M381.3 353.2l2.4 -2.4M375.1 348.3l2.4 2.4M375.1 350.7l2.4 -2.4M368.8 346.5l2.4 2.4M368.8 348.9l2.4 -2.4M361.0 366.2l2.4 2.4M361.0 368.6l2.4 -2.4M375.8 376.3l2.4 2.4M375.8 378.7l2.4 -2.4M351.8 287.2l2.4 2.4M351.8 289.6l2.4 -2.4M358.8 287.2l2.4 2.4M358.8 289.6l2.4 -2.4M361.7 287.2l2.4 2.4M361.7 289.6l2.4 -2.4M350.4 300.4l2.4 2.4M350.4 302.8l2.4 -2.4M365.9 297.9l2.4 2.4M365.9 300.3l2.4 -2.4M320.7 302.1l2.4 2.4M320.7 304.5l2.4 -2.4M350.4 319.6l2.4 2.4M350.4 322.0l2.4 -2.4M363.1 320.2l2.4 2.4M363.1 322.6l2.4 -2.4M366.8 319.6l2.4 2.4M366.8 322.0l2.4 -2.4M343.3 330.4l2.4 2.4M343.3 332.8l2.4 -2.4M353.8 335.2l2.4 2.4M353.8 337.6l2.4 -2.4M363.9 334.3l2.4 2.4M363.9 336.7l2.4 -2.4M398.9 337.4l2.4 2.4M398.9 339.8l2.4 -2.4M401.2 347.3l2.4 2.4M401.2 349.7l2.4 -2.4M404.8 345.9l2.4 2.4M404.8 348.3l2.4 -2.4M407.4 352.7l2.4 2.4M407.4 355.1l2.4 -2.4M381.4 342.8l2.4 2.4M381.4 345.2l2.4 -2.4M388.5 349.3l2.4 2.4M388.5 351.7l2.4 -2.4M419.0 369.6l2.4 2.4M419.0 372.0l2.4 -2.4M399.8 364.8l2.4 2.4M399.8 367.2l2.4 -2.4M401.2 371.1l2.4 2.4M401.2 373.5l2.4 -2.4M395.6 377.6l2.4 2.4M395.6 380.0l2.4 -2.4M382.8 383.8l2.4 2.4M382.8 386.2l2.4 -2.4M339.1 361.5l2.4 2.4M339.1 363.9l2.4 -2.4M343.3 362.6l2.4 2.4M343.3 365.0l2.4 -2.4M333.4 350.8l2.4 2.4M333.4 353.2l2.4 -2.4" stroke="#7a1420" stroke-width="0.6" opacity="0.75" fill="none"/>
</g>
<text x="329.2" y="435.1" text-anchor="middle" class="tk">1</text>
<text x="408.3" y="435.1" text-anchor="middle" class="tk">2</text>
<text x="280.4" y="273.1" text-anchor="end" class="tk">1.00</text>
<text x="280.4" y="306.1" text-anchor="end" class="tk">0.75</text>
<text x="280.4" y="339.1" text-anchor="end" class="tk">0.50</text>
<text x="280.4" y="372.1" text-anchor="end" class="tk">0.25</text>
<text x="280.4" y="405.1" text-anchor="end" class="tk">0.00</text>
<text x="369.4" y="248.5" text-anchor="middle" class="ti"><tspan font-style="italic">v</tspan><tspan font-size="11" dy="2.2" dx="0.8">5</tspan></text>
<text x="368.4" y="455.4" text-anchor="middle" class="lb"><tspan font-style="italic">&#945;</tspan><tspan font-size="13" dy="3.3" dx="1">1</tspan></text>
<text transform="translate(243.6,336.7) rotate(-90)" text-anchor="middle" class="lb"><tspan font-style="italic">&#947;</tspan><tspan font-size="13" dy="3.3" dx="1">1</tspan></text>
<rect x="522" y="256" width="161" height="162" fill="#EAEAF2"/>
<g clip-path="url(#c5)">
<line x1="568.3" y1="256" x2="568.3" y2="418" stroke="#fff" stroke-width="1.2"/>
<line x1="632.1" y1="256" x2="632.1" y2="418" stroke="#fff" stroke-width="1.2"/>
<line x1="522" y1="264.0" x2="683" y2="264.0" stroke="#fff" stroke-width="1.2"/>
<line x1="522" y1="292.5" x2="683" y2="292.5" stroke="#fff" stroke-width="1.2"/>
<line x1="522" y1="321.0" x2="683" y2="321.0" stroke="#fff" stroke-width="1.2"/>
<line x1="522" y1="349.5" x2="683" y2="349.5" stroke="#fff" stroke-width="1.2"/>
<line x1="522" y1="378.0" x2="683" y2="378.0" stroke="#fff" stroke-width="1.2"/>
<line x1="522" y1="406.6" x2="683" y2="406.6" stroke="#fff" stroke-width="1.2"/>
<path d="M596.0 328.8L597.0 328.5L598.0 328.3L599.0 328.2L600.0 328.1L601.0 328.1L602.0 328.0L603.0 328.1L604.0 328.1L605.0 328.2L606.0 328.3L607.0 328.4L608.0 328.6L609.0 328.8L609.9 329.0L610.0 329.0L611.0 329.3L612.0 329.6L613.0 329.9L613.3 330.0L614.0 330.2L615.0 330.6L615.8 331.0L616.0 331.1L617.0 331.5L618.0 332.0L618.1 332.0L619.0 332.4L620.0 332.9L620.2 333.0L621.0 333.4L622.0 333.8L622.4 334.0L623.0 334.2L624.0 334.7L624.7 335.0L625.0 335.2L626.0 335.7L626.5 336.0L627.0 336.3L627.8 337.0L628.0 337.2L628.7 338.0L629.0 338.4L629.4 339.0L630.0 339.8L630.1 340.0L630.7 341.0L631.0 341.4L631.3 342.0L631.9 343.0L632.0 343.1L632.5 344.0L633.0 344.9L633.1 345.0L633.6 346.0L634.0 346.7L634.1 347.0L634.6 348.0L635.0 348.9L635.1 349.0L635.5 350.0L635.9 351.0L636.0 351.3L636.3 352.0L636.7 353.0L637.0 353.8L637.1 354.0L637.5 355.0L638.0 356.0L638.0 356.0L638.6 357.0L639.0 357.5L639.4 358.0L640.0 358.7L640.3 359.0L641.0 359.6L641.6 360.0L642.0 360.3L643.0 360.9L643.2 361.0L644.0 361.4L645.0 361.9L645.1 362.0L646.0 362.4L647.0 362.9L647.3 363.0L648.0 363.3L649.0 363.7L649.6 364.0L650.0 364.1L651.0 364.5L652.0 364.9L652.3 365.0L653.0 365.3L654.0 365.6L655.0 366.0L655.0 366.0L656.0 366.4L657.0 366.9L657.3 367.0L658.0 367.4L659.0 368.0L659.0 368.0L660.0 368.8L660.2 369.0L661.0 369.8L661.2 370.0L661.9 371.0L662.0 371.1L662.5 372.0L662.9 373.0L663.0 373.4L663.2 374.0L663.3 375.0L663.3 376.0L663.3 377.0L663.1 378.0L663.0 378.2L662.8 379.0L662.3 380.0L662.0 380.5L661.7 381.0L661.0 381.9L660.9 382.0L660.0 382.8L659.8 383.0L659.0 383.5L658.1 384.0L658.0 384.1L657.0 384.4L656.0 384.6L655.0 384.7L654.0 384.7L653.0 384.7L652.0 384.5L651.0 384.3L650.1 384.0L650.0 384.0L649.0 383.7L648.0 383.3L647.0 383.0L647.0 383.0L646.0 382.7L645.0 382.4L644.0 382.2L643.3 382.0L643.0 381.9L642.0 381.7L641.0 381.5L640.0 381.3L639.0 381.0L638.8 381.0L638.0 380.8L637.0 380.5L636.0 380.2L635.6 380.0L635.0 379.8L634.0 379.4L633.0 379.0L633.0 379.0L632.0 378.6L631.0 378.1L630.7 378.0L630.0 377.8L629.0 377.4L628.0 377.2L627.1 377.0L627.0 377.0L626.0 376.9L625.0 376.9L624.0 377.0L623.9 377.0L623.0 377.2L622.0 377.4L621.0 377.7L620.0 378.0L620.0 378.0L619.0 378.4L618.0 378.8L617.5 379.0L617.0 379.3L616.0 379.8L615.5 380.0L615.0 380.3L614.0 380.9L613.8 381.0L613.0 381.6L612.4 382.0L612.0 382.3L611.2 383.0L611.0 383.2L610.3 384.0L610.0 384.3L609.4 385.0L609.0 385.5L608.6 386.0L608.0 386.9L607.9 387.0L607.1 388.0L607.0 388.2L606.3 389.0L606.0 389.3L605.2 390.0L605.0 390.1L604.0 390.7L603.3 391.0L603.0 391.1L602.0 391.3L601.0 391.2L600.0 391.0L600.0 391.0L599.0 390.5L598.2 390.0L598.0 389.9L597.1 389.0L597.0 388.9L596.2 388.0L596.0 387.8L595.4 387.0L595.0 386.5L594.6 386.0L594.0 385.3L593.8 385.0L593.0 384.2L592.8 384.0L592.0 383.3L591.6 383.0L591.0 382.6L590.1 382.0L590.0 381.9L589.0 381.5L588.0 381.1L587.7 381.0L587.0 380.8L586.0 380.6L585.0 380.4L584.0 380.2L583.0 380.0L582.9 380.0L582.0 379.8L581.0 379.6L580.0 379.2L579.7 379.0L579.0 378.6L578.3 378.0L578.0 377.7L577.4 377.0L577.0 376.4L576.7 376.0L576.2 375.0L576.0 374.7L575.7 374.0L575.2 373.0L575.0 372.6L574.7 372.0L574.2 371.0L574.0 370.6L573.7 370.0L573.1 369.0L573.0 368.8L572.6 368.0L572.0 367.0L572.0 366.9L571.5 366.0L571.1 365.0L571.0 364.8L570.6 364.0L570.3 363.0L570.0 362.1L570.0 362.0L569.7 361.0L569.5 360.0L569.3 359.0L569.1 358.0L569.0 357.0L569.0 356.9L568.9 356.0L568.8 355.0L568.7 354.0L568.6 353.0L568.6 352.0L568.6 351.0L568.6 350.0L568.7 349.0L568.9 348.0L569.0 347.6L569.2 347.0L569.6 346.0L570.0 345.4L570.3 345.0L571.0 344.1L571.1 344.0L572.0 343.2L572.3 343.0L573.0 342.5L573.8 342.0L574.0 341.9L575.0 341.3L575.4 341.0L576.0 340.7L577.0 340.1L577.1 340.0L578.0 339.4L578.7 339.0L579.0 338.8L580.0 338.1L580.2 338.0L581.0 337.4L581.6 337.0L582.0 336.7L583.0 336.0L583.1 336.0L584.0 335.3L584.5 335.0L585.0 334.6L585.9 334.0L586.0 334.0L587.0 333.3L587.4 333.0L588.0 332.6L589.0 332.0L589.1 332.0L590.0 331.4L590.8 331.0L591.0 330.9L592.0 330.4L592.8 330.0L593.0 329.9L594.0 329.5L595.0 329.1L595.4 329.0Z" fill="#fed9c9"/>
<path d="M598.0 331.9L599.0 331.7L600.0 331.6L601.0 331.5L602.0 331.4L603.0 331.4L604.0 331.5L605.0 331.5L606.0 331.6L607.0 331.8L608.0 332.0L608.1 332.0L609.0 332.2L610.0 332.5L611.0 332.8L611.6 333.0L612.0 333.1L613.0 333.5L614.0 334.0L614.0 334.0L615.0 334.5L615.9 335.0L616.0 335.0L617.0 335.6L617.6 336.0L618.0 336.2L619.0 336.9L619.1 337.0L620.0 337.6L620.6 338.0L621.0 338.3L621.9 339.0L622.0 339.1L623.0 339.8L623.2 340.0L624.0 340.7L624.4 341.0L625.0 341.6L625.4 342.0L626.0 342.6L626.4 343.0L627.0 343.6L627.3 344.0L628.0 344.8L628.1 345.0L628.9 346.0L629.0 346.2L629.6 347.0L630.0 347.7L630.2 348.0L630.7 349.0L631.0 349.6L631.2 350.0L631.6 351.0L632.0 352.0L632.0 352.1L632.3 353.0L632.6 354.0L632.9 355.0L633.0 355.3L633.2 356.0L633.5 357.0L633.7 358.0L634.0 358.8L634.1 359.0L634.4 360.0L634.9 361.0L635.0 361.3L635.4 362.0L636.0 362.8L636.2 363.0L637.0 363.9L637.1 364.0L638.0 364.7L638.5 365.0L639.0 365.4L640.0 365.9L640.1 366.0L641.0 366.5L641.8 367.0L642.0 367.1L643.0 367.7L643.5 368.0L644.0 368.4L644.9 369.0L645.0 369.1L646.0 369.8L646.3 370.0L647.0 370.6L647.5 371.0L648.0 371.4L648.8 372.0L649.0 372.2L650.0 372.9L650.1 373.0L651.0 373.8L651.4 374.0L651.7 375.0L651.0 375.2L650.0 375.3L649.0 375.3L648.0 375.4L647.0 375.4L646.0 375.5L645.0 375.6L644.0 375.7L643.0 375.7L642.0 375.7L641.0 375.6L640.0 375.5L639.0 375.3L638.0 375.0L637.8 375.0L637.0 374.7L636.0 374.3L635.3 374.0L635.0 373.9L634.0 373.4L633.1 373.0L633.0 373.0L632.0 372.6L631.0 372.3L630.0 372.1L629.3 372.0L629.0 372.0L628.0 372.0L627.6 372.0L627.0 372.0L626.0 372.2L625.0 372.4L624.0 372.7L623.0 373.0L623.0 373.0L622.0 373.4L621.0 373.7L620.3 374.0L620.0 374.1L619.0 374.6L618.0 375.0L618.0 375.0L617.0 375.5L616.0 375.9L615.8 376.0L615.0 376.4L614.0 376.8L613.7 377.0L613.0 377.3L612.0 377.8L611.6 378.0L611.0 378.3L610.0 378.9L609.7 379.0L609.0 379.4L608.0 379.9L607.9 380.0L607.0 380.5L606.0 381.0L606.0 381.0L605.0 381.5L604.0 381.9L603.7 382.0L603.0 382.2L602.0 382.3L601.0 382.3L600.0 382.1L599.8 382.0L599.0 381.7L598.0 381.3L597.6 381.0L597.0 380.7L596.0 380.2L595.7 380.0L595.0 379.6L594.0 379.0L593.9 379.0L593.0 378.5L592.0 378.0L592.0 378.0L591.0 377.5L590.0 377.0L589.9 377.0L589.0 376.6L588.0 376.1L587.7 376.0L587.0 375.7L586.0 375.2L585.7 375.0L585.0 374.6L584.0 374.0L584.0 374.0L583.0 373.3L582.6 373.0L582.0 372.5L581.4 372.0L581.0 371.6L580.4 371.0L580.0 370.5L579.6 370.0L579.0 369.3L578.7 369.0L578.0 368.0L578.0 368.0L577.3 367.0L577.0 366.6L576.6 366.0L576.0 365.0L576.0 364.9L575.5 364.0L575.1 363.0L575.0 362.8L574.7 362.0L574.4 361.0L574.1 360.0L574.0 359.2L574.0 359.0L573.8 358.0L573.8 357.0L573.8 356.0L573.8 355.0L573.9 354.0L574.0 353.1L574.0 353.0L574.2 352.0L574.4 351.0L574.8 350.0L575.0 349.5L575.2 349.0L575.7 348.0L576.0 347.6L576.4 347.0L577.0 346.2L577.2 346.0L578.0 345.1L578.1 345.0L579.0 344.1L579.1 344.0L580.0 343.1L580.1 343.0L581.0 342.2L581.2 342.0L582.0 341.3L582.3 341.0L583.0 340.5L583.5 340.0L584.0 339.6L584.8 339.0L585.0 338.8L586.0 338.0L586.1 338.0L587.0 337.3L587.4 337.0L588.0 336.6L588.9 336.0L589.0 335.9L590.0 335.3L590.5 335.0L591.0 334.7L592.0 334.1L592.3 334.0L593.0 333.6L594.0 333.2L594.4 333.0L595.0 332.8L596.0 332.4L597.0 332.1L597.6 332.0Z" fill="#fcbba1"/>
<path d="M601.0 333.9L602.0 333.9L603.0 333.8L604.0 333.9L605.0 334.0L605.4 334.0L606.0 334.1L607.0 334.2L608.0 334.4L609.0 334.7L610.0 335.0L610.0 335.0L611.0 335.4L612.0 335.8L612.5 336.0L613.0 336.2L614.0 336.8L614.4 337.0L615.0 337.3L616.0 338.0L616.0 338.0L617.0 338.6L617.5 339.0L618.0 339.3L618.9 340.0L619.0 340.1L620.0 340.9L620.1 341.0L621.0 341.7L621.3 342.0L622.0 342.6L622.5 343.0L623.0 343.5L623.5 344.0L624.0 344.5L624.5 345.0L625.0 345.6L625.3 346.0L626.0 346.8L626.1 347.0L626.8 348.0L627.0 348.3L627.4 349.0L628.0 350.0L628.0 350.1L628.4 351.0L628.8 352.0L629.0 352.6L629.2 353.0L629.4 354.0L629.7 355.0L629.8 356.0L630.0 357.0L630.0 357.0L630.1 358.0L630.2 359.0L630.3 360.0L630.3 361.0L630.2 362.0L630.1 363.0L630.0 363.4L629.8 364.0L629.4 365.0L629.0 365.6L628.7 366.0L628.0 366.7L627.6 367.0L627.0 367.4L626.1 368.0L626.0 368.1L625.0 368.6L624.3 369.0L624.0 369.2L623.0 369.7L622.4 370.0L622.0 370.2L621.0 370.7L620.4 371.0L620.0 371.2L619.0 371.7L618.4 372.0L618.0 372.2L617.0 372.7L616.4 373.0L616.0 373.2L615.0 373.7L614.3 374.0L614.0 374.1L613.0 374.6L612.1 375.0L612.0 375.0L611.0 375.5L610.0 375.9L609.7 376.0L609.0 376.3L608.0 376.7L607.1 377.0L607.0 377.1L606.0 377.4L605.0 377.7L604.0 377.9L603.2 378.0L603.0 378.0L602.0 378.1L601.0 378.0L600.7 378.0L600.0 377.9L599.0 377.7L598.0 377.4L597.0 377.1L596.9 377.0L596.0 376.7L595.0 376.3L594.4 376.0L594.0 375.8L593.0 375.4L592.2 375.0L592.0 374.9L591.0 374.4L590.2 374.0L590.0 373.9L589.0 373.4L588.4 373.0L588.0 372.8L587.0 372.2L586.8 372.0L586.0 371.5L585.4 371.0L585.0 370.7L584.1 370.0L584.0 369.9L583.1 369.0L583.0 368.9L582.1 368.0L582.0 367.8L581.3 367.0L581.0 366.6L580.5 366.0L580.0 365.3L579.8 365.0L579.2 364.0L579.0 363.6L578.7 363.0L578.2 362.0L578.0 361.3L577.9 361.0L577.6 360.0L577.4 359.0L577.3 358.0L577.3 357.0L577.3 356.0L577.4 355.0L577.5 354.0L577.7 353.0L578.0 352.1L578.0 352.0L578.4 351.0L578.8 350.0L579.0 349.6L579.3 349.0L579.9 348.0L580.0 347.9L580.6 347.0L581.0 346.4L581.3 346.0L582.0 345.2L582.2 345.0L583.0 344.1L583.1 344.0L584.0 343.1L584.1 343.0L585.0 342.1L585.1 342.0L586.0 341.2L586.2 341.0L587.0 340.4L587.4 340.0L588.0 339.6L588.7 339.0L589.0 338.8L590.0 338.1L590.2 338.0L591.0 337.5L591.8 337.0L592.0 336.9L593.0 336.3L593.6 336.0L594.0 335.8L595.0 335.4L596.0 335.0L596.0 335.0L597.0 334.7L598.0 334.4L599.0 334.2L600.0 334.0L600.2 334.0Z" fill="#fc9b7c"/>
<path d="M602.0 335.9L603.0 335.9L604.0 336.0L604.5 336.0L605.0 336.0L606.0 336.2L607.0 336.4L608.0 336.6L609.0 336.9L609.3 337.0L610.0 337.2L611.0 337.6L611.8 338.0L612.0 338.1L613.0 338.6L613.6 339.0L614.0 339.2L615.0 339.9L615.2 340.0L616.0 340.5L616.6 341.0L617.0 341.3L617.9 342.0L618.0 342.1L619.0 342.9L619.1 343.0L620.0 343.8L620.3 344.0L621.0 344.7L621.3 345.0L622.0 345.7L622.3 346.0L623.0 346.9L623.1 347.0L623.9 348.0L624.0 348.2L624.6 349.0L625.0 349.8L625.1 350.0L625.6 351.0L626.0 351.9L626.0 352.0L626.4 353.0L626.7 354.0L626.9 355.0L627.0 356.0L627.0 356.1L627.1 357.0L627.1 358.0L627.0 359.0L627.0 359.3L626.9 360.0L626.7 361.0L626.4 362.0L626.0 362.8L625.9 363.0L625.3 364.0L625.0 364.4L624.5 365.0L624.0 365.5L623.4 366.0L623.0 366.3L622.2 367.0L622.0 367.1L621.0 367.8L620.8 368.0L620.0 368.5L619.2 369.0L619.0 369.1L618.0 369.7L617.5 370.0L617.0 370.3L616.0 370.8L615.7 371.0L615.0 371.3L614.0 371.8L613.6 372.0L613.0 372.3L612.0 372.7L611.4 373.0L611.0 373.2L610.0 373.6L609.0 373.9L608.8 374.0L608.0 374.3L607.0 374.6L606.0 374.9L605.3 375.0L605.0 375.1L604.0 375.2L603.0 375.3L602.0 375.4L601.0 375.3L600.0 375.2L599.0 375.0L598.9 375.0L598.0 374.8L597.0 374.5L596.0 374.1L595.7 374.0L595.0 373.7L594.0 373.3L593.3 373.0L593.0 372.9L592.0 372.4L591.3 372.0L591.0 371.8L590.0 371.3L589.6 371.0L589.0 370.6L588.1 370.0L588.0 369.9L587.0 369.2L586.8 369.0L586.0 368.3L585.7 368.0L585.0 367.3L584.7 367.0L584.0 366.2L583.8 366.0L583.0 365.0L583.0 365.0L582.3 364.0L582.0 363.4L581.8 363.0L581.3 362.0L581.0 361.4L580.9 361.0L580.5 360.0L580.3 359.0L580.2 358.0L580.1 357.0L580.2 356.0L580.3 355.0L580.4 354.0L580.7 353.0L581.0 352.0L581.0 351.9L581.4 351.0L581.8 350.0L582.0 349.6L582.3 349.0L583.0 348.0L583.0 347.9L583.6 347.0L584.0 346.5L584.4 346.0L585.0 345.3L585.3 345.0L586.0 344.2L586.2 344.0L587.0 343.2L587.2 343.0L588.0 342.3L588.3 342.0L589.0 341.4L589.5 341.0L590.0 340.6L590.9 340.0L591.0 339.9L592.0 339.3L592.4 339.0L593.0 338.6L594.0 338.1L594.2 338.0L595.0 337.6L596.0 337.2L596.5 337.0L597.0 336.8L598.0 336.5L599.0 336.3L600.0 336.1L601.0 336.0L601.1 336.0Z" fill="#fb7a5a"/>
<path d="M601.0 338.0L602.0 337.9L603.0 337.9L604.0 337.9L604.8 338.0L605.0 338.0L606.0 338.2L607.0 338.4L608.0 338.7L609.0 339.0L609.1 339.0L610.0 339.4L611.0 339.8L611.3 340.0L612.0 340.3L613.0 340.9L613.1 341.0L614.0 341.6L614.6 342.0L615.0 342.3L616.0 343.0L616.0 343.0L617.0 343.8L617.2 344.0L618.0 344.7L618.3 345.0L619.0 345.7L619.3 346.0L620.0 346.7L620.3 347.0L621.0 347.9L621.1 348.0L621.8 349.0L622.0 349.3L622.5 350.0L623.0 351.0L623.0 351.0L623.4 352.0L623.8 353.0L624.0 353.9L624.0 354.0L624.2 355.0L624.3 356.0L624.3 357.0L624.3 358.0L624.1 359.0L624.0 359.6L623.9 360.0L623.5 361.0L623.0 362.0L623.0 362.1L622.4 363.0L622.0 363.5L621.6 364.0L621.0 364.7L620.7 365.0L620.0 365.6L619.6 366.0L619.0 366.4L618.3 367.0L618.0 367.2L617.0 367.9L616.8 368.0L616.0 368.5L615.2 369.0L615.0 369.1L614.0 369.7L613.3 370.0L613.0 370.2L612.0 370.6L611.2 371.0L611.0 371.1L610.0 371.5L609.0 371.8L608.5 372.0L608.0 372.2L607.0 372.5L606.0 372.7L605.0 372.9L604.2 373.0L604.0 373.0L603.0 373.1L602.0 373.1L601.0 373.1L600.4 373.0L600.0 373.0L599.0 372.8L598.0 372.5L597.0 372.3L596.3 372.0L596.0 371.9L595.0 371.5L594.0 371.1L593.8 371.0L593.0 370.6L592.0 370.0L591.9 370.0L591.0 369.4L590.3 369.0L590.0 368.8L589.0 368.0L589.0 368.0L588.0 367.2L587.8 367.0L587.0 366.2L586.8 366.0L586.0 365.1L585.9 365.0L585.2 364.0L585.0 363.7L584.5 363.0L584.0 362.0L584.0 362.0L583.5 361.0L583.2 360.0L583.0 359.3L582.9 359.0L582.8 358.0L582.7 357.0L582.7 356.0L582.8 355.0L583.0 354.0L583.0 353.9L583.2 353.0L583.5 352.0L583.9 351.0L584.0 350.9L584.4 350.0L585.0 349.0L585.0 348.9L585.6 348.0L586.0 347.4L586.3 347.0L587.0 346.2L587.1 346.0L588.0 345.0L588.0 345.0L589.0 344.0L589.0 344.0L590.0 343.1L590.2 343.0L591.0 342.3L591.4 342.0L592.0 341.6L592.9 341.0L593.0 340.9L594.0 340.3L594.6 340.0L595.0 339.8L596.0 339.3L596.8 339.0L597.0 338.9L598.0 338.6L599.0 338.3L600.0 338.1L600.8 338.0Z" fill="#f6583e"/>
<path d="M601.0 340.0L602.0 339.9L603.0 339.9L604.0 339.9L604.7 340.0L605.0 340.0L606.0 340.2L607.0 340.4L608.0 340.8L608.7 341.0L609.0 341.1L610.0 341.6L610.9 342.0L611.0 342.1L612.0 342.7L612.5 343.0L613.0 343.3L614.0 344.0L614.0 344.0L615.0 344.8L615.2 345.0L616.0 345.7L616.4 346.0L617.0 346.6L617.4 347.0L618.0 347.7L618.3 348.0L619.0 348.9L619.1 349.0L619.8 350.0L620.0 350.4L620.3 351.0L620.8 352.0L621.0 352.6L621.2 353.0L621.4 354.0L621.6 355.0L621.7 356.0L621.6 357.0L621.5 358.0L621.3 359.0L621.0 359.9L621.0 360.0L620.5 361.0L620.0 361.9L619.9 362.0L619.2 363.0L619.0 363.2L618.3 364.0L618.0 364.3L617.3 365.0L617.0 365.2L616.1 366.0L616.0 366.0L615.0 366.7L614.6 367.0L614.0 367.4L613.0 368.0L613.0 368.0L612.0 368.5L611.0 369.0L611.0 369.0L610.0 369.4L609.0 369.8L608.4 370.0L608.0 370.1L607.0 370.4L606.0 370.7L605.0 370.8L604.0 371.0L603.5 371.0L603.0 371.0L602.0 371.0L601.3 371.0L601.0 371.0L600.0 370.9L599.0 370.7L598.0 370.4L597.0 370.1L596.7 370.0L596.0 369.8L595.0 369.3L594.3 369.0L594.0 368.8L593.0 368.3L592.5 368.0L592.0 367.7L591.1 367.0L591.0 366.9L590.0 366.1L589.9 366.0L589.0 365.2L588.8 365.0L588.0 364.0L588.0 364.0L587.2 363.0L587.0 362.6L586.6 362.0L586.1 361.0L586.0 360.7L585.7 360.0L585.4 359.0L585.2 358.0L585.2 357.0L585.1 356.0L585.2 355.0L585.4 354.0L585.7 353.0L586.0 352.0L586.0 352.0L586.4 351.0L586.9 350.0L587.0 349.8L587.5 349.0L588.0 348.3L588.2 348.0L589.0 347.0L589.0 347.0L589.9 346.0L590.0 345.9L590.9 345.0L591.0 344.9L592.0 344.0L592.0 344.0L593.0 343.3L593.4 343.0L594.0 342.6L595.0 342.0L595.0 342.0L596.0 341.5L597.0 341.0L597.0 341.0L598.0 340.6L599.0 340.4L600.0 340.1L600.8 340.0Z" fill="#e83429"/>
<path d="M598.0 342.9L599.0 342.6L600.0 342.3L601.0 342.2L602.0 342.1L603.0 342.0L604.0 342.1L605.0 342.2L606.0 342.4L607.0 342.7L607.9 343.0L608.0 343.0L609.0 343.5L610.0 344.0L610.0 344.0L611.0 344.6L611.6 345.0L612.0 345.2L613.0 346.0L613.0 346.0L614.0 346.8L614.2 347.0L615.0 347.8L615.2 348.0L616.0 348.9L616.1 349.0L616.9 350.0L617.0 350.2L617.5 351.0L618.0 352.0L618.0 352.0L618.4 353.0L618.7 354.0L618.8 355.0L618.9 356.0L618.8 357.0L618.7 358.0L618.4 359.0L618.0 360.0L618.0 360.0L617.5 361.0L617.0 361.7L616.8 362.0L616.0 362.9L616.0 363.0L615.0 363.9L614.9 364.0L614.0 364.8L613.7 365.0L613.0 365.5L612.3 366.0L612.0 366.2L611.0 366.7L610.4 367.0L610.0 367.2L609.0 367.6L608.0 368.0L608.0 368.0L607.0 368.3L606.0 368.5L605.0 368.7L604.0 368.9L603.0 368.9L602.0 368.9L601.0 368.8L600.0 368.7L599.0 368.5L598.0 368.2L597.3 368.0L597.0 367.9L596.0 367.5L595.0 367.0L595.0 367.0L594.0 366.4L593.4 366.0L593.0 365.7L592.1 365.0L592.0 364.9L591.0 364.0L591.0 364.0L590.1 363.0L590.0 362.8L589.4 362.0L589.0 361.3L588.8 361.0L588.4 360.0L588.0 359.0L588.0 358.9L587.8 358.0L587.7 357.0L587.7 356.0L587.7 355.0L587.9 354.0L588.0 353.6L588.2 353.0L588.5 352.0L589.0 351.0L589.0 351.0L589.6 350.0L590.0 349.3L590.2 349.0L591.0 348.0L591.0 348.0L591.9 347.0L592.0 346.9L593.0 346.0L593.0 346.0L594.0 345.2L594.2 345.0L595.0 344.5L595.7 344.0L596.0 343.8L597.0 343.3L597.8 343.0Z" fill="#ca181d"/>
<path d="M600.0 345.0L601.0 344.8L602.0 344.7L603.0 344.6L604.0 344.7L605.0 344.8L605.7 345.0L606.0 345.1L607.0 345.4L608.0 345.9L608.3 346.0L609.0 346.4L610.0 347.0L610.0 347.0L611.0 347.7L611.3 348.0L612.0 348.6L612.4 349.0L613.0 349.6L613.4 350.0L614.0 350.8L614.1 351.0L614.7 352.0L615.0 352.6L615.2 353.0L615.5 354.0L615.7 355.0L615.7 356.0L615.7 357.0L615.5 358.0L615.1 359.0L615.0 359.3L614.6 360.0L614.0 361.0L614.0 361.0L613.2 362.0L613.0 362.2L612.1 363.0L612.0 363.1L611.0 363.9L610.8 364.0L610.0 364.5L609.1 365.0L609.0 365.0L608.0 365.5L607.0 365.8L606.4 366.0L606.0 366.1L605.0 366.3L604.0 366.4L603.0 366.5L602.0 366.5L601.0 366.4L600.0 366.2L599.1 366.0L599.0 366.0L598.0 365.6L597.0 365.2L596.6 365.0L596.0 364.7L595.0 364.0L595.0 364.0L594.0 363.2L593.7 363.0L593.0 362.2L592.8 362.0L592.0 361.0L592.0 360.9L591.5 360.0L591.1 359.0L591.0 358.8L590.8 358.0L590.6 357.0L590.6 356.0L590.6 355.0L590.8 354.0L591.0 353.4L591.1 353.0L591.5 352.0L592.0 351.1L592.1 351.0L592.7 350.0L593.0 349.7L593.6 349.0L594.0 348.5L594.6 348.0L595.0 347.6L595.8 347.0L596.0 346.8L597.0 346.2L597.4 346.0L598.0 345.7L599.0 345.3L599.9 345.0Z" fill="#ac1117"/>
<path d="M601.0 348.7L602.0 348.6L603.0 348.5L604.0 348.6L605.0 348.8L605.5 349.0L606.0 349.2L607.0 349.7L607.6 350.0L608.0 350.3L608.9 351.0L609.0 351.1L609.8 352.0L610.0 352.3L610.5 353.0L611.0 354.0L611.0 354.1L611.2 355.0L611.3 356.0L611.2 357.0L611.0 358.0L611.0 358.0L610.5 359.0L610.0 359.7L609.8 360.0L609.0 360.8L608.8 361.0L608.0 361.5L607.2 362.0L607.0 362.1L606.0 362.5L605.0 362.7L604.0 362.9L603.0 363.0L602.0 362.9L601.0 362.7L600.0 362.5L599.0 362.1L598.9 362.0L598.0 361.5L597.4 361.0L597.0 360.7L596.4 360.0L596.0 359.5L595.7 359.0L595.2 358.0L595.0 357.1L595.0 357.0L594.9 356.0L595.0 355.0L595.0 354.9L595.2 354.0L595.7 353.0L596.0 352.4L596.3 352.0L597.0 351.1L597.1 351.0L598.0 350.2L598.3 350.0L599.0 349.5L600.0 349.0L600.1 349.0Z" fill="#7e0610"/>
<path d="M553.0 329.7L554.0 329.5L555.0 329.3L556.0 329.2L557.0 329.1L558.0 329.0L559.0 329.0L560.0 329.0L561.0 329.1L562.0 329.2L563.0 329.3L564.0 329.5L565.0 329.8L565.6 330.0L566.0 330.1L567.0 330.5L568.0 330.9L568.2 331.0L569.0 331.3L570.0 331.9L570.2 332.0L571.0 332.5L571.7 333.0L572.0 333.2L573.0 334.0L573.0 334.0L574.0 334.9L574.1 335.0L575.0 335.9L575.1 336.0L575.9 337.0L576.0 337.1L576.6 338.0L577.0 338.6L577.3 339.0L577.8 340.0L578.0 340.4L578.3 341.0L578.7 342.0L579.0 343.0L579.0 343.0L579.3 344.0L579.5 345.0L579.6 346.0L579.7 347.0L579.7 348.0L579.7 349.0L579.6 350.0L579.5 351.0L579.3 352.0L579.0 353.0L579.0 353.1L578.7 354.0L578.4 355.0L578.0 355.7L577.9 356.0L577.4 357.0L577.0 357.6L576.8 358.0L576.1 359.0L576.0 359.1L575.3 360.0L575.0 360.4L574.5 361.0L574.0 361.5L573.6 362.0L573.0 362.6L572.6 363.0L572.0 363.5L571.4 364.0L571.0 364.4L570.1 365.0L570.0 365.1L569.0 365.8L568.6 366.0L568.0 366.4L567.0 366.9L566.9 367.0L566.0 367.6L565.5 368.0L565.0 368.6L564.7 369.0L564.2 370.0L564.0 370.4L563.8 371.0L563.7 372.0L563.6 373.0L563.5 374.0L563.4 375.0L563.2 376.0L563.1 377.0L563.0 377.3L562.9 378.0L562.6 379.0L562.3 380.0L562.0 380.8L561.9 381.0L561.5 382.0L561.0 382.8L560.9 383.0L560.1 384.0L560.0 384.1L559.0 385.0L558.9 385.0L558.0 385.6L557.0 385.9L556.8 386.0L556.0 386.2L555.0 386.4L554.0 386.4L553.0 386.4L552.0 386.2L551.0 386.0L550.9 386.0L550.0 385.8L549.0 385.4L548.3 385.0L548.0 384.9L547.0 384.2L546.7 384.0L546.0 383.4L545.6 383.0L545.0 382.4L544.7 382.0L544.0 381.0L544.0 381.0L543.4 380.0L543.0 379.3L542.8 379.0L542.3 378.0L542.0 377.4L541.7 377.0L541.1 376.0L541.0 375.9L540.3 375.0L540.0 374.6L539.5 374.0L539.0 373.2L538.9 373.0L538.4 372.0L538.2 371.0L538.2 370.0L538.4 369.0L538.8 368.0L539.0 367.5L539.2 367.0L539.6 366.0L540.0 365.0L540.0 365.0L540.2 364.0L540.3 363.0L540.3 362.0L540.3 361.0L540.2 360.0L540.1 359.0L540.0 358.4L539.9 358.0L539.7 357.0L539.5 356.0L539.2 355.0L539.0 354.0L539.0 353.9L538.8 353.0L538.6 352.0L538.4 351.0L538.3 350.0L538.2 349.0L538.2 348.0L538.3 347.0L538.4 346.0L538.5 345.0L538.7 344.0L539.0 343.0L539.0 343.0L539.3 342.0L539.7 341.0L540.0 340.3L540.1 340.0L540.6 339.0L541.0 338.3L541.1 338.0L541.8 337.0L542.0 336.7L542.5 336.0L543.0 335.4L543.3 335.0L544.0 334.3L544.3 334.0L545.0 333.4L545.5 333.0L546.0 332.6L547.0 332.0L547.0 332.0L548.0 331.5L549.0 331.0L549.1 331.0L550.0 330.6L551.0 330.3L552.0 330.0L552.0 330.0Z" fill="#dff3da"/>
<path d="M555.0 331.8L556.0 331.7L557.0 331.6L558.0 331.5L559.0 331.5L560.0 331.5L561.0 331.6L562.0 331.7L563.0 331.9L563.3 332.0L564.0 332.2L565.0 332.4L566.0 332.8L566.5 333.0L567.0 333.2L568.0 333.7L568.5 334.0L569.0 334.3L570.0 335.0L570.1 335.0L571.0 335.7L571.3 336.0L572.0 336.6L572.4 337.0L573.0 337.6L573.3 338.0L574.0 338.9L574.1 339.0L574.7 340.0L575.0 340.5L575.3 341.0L575.8 342.0L576.0 342.6L576.1 343.0L576.5 344.0L576.7 345.0L576.9 346.0L577.0 347.0L577.0 347.8L577.0 348.0L577.0 348.5L577.0 349.0L576.9 350.0L576.8 351.0L576.6 352.0L576.3 353.0L576.0 354.0L576.0 354.0L575.6 355.0L575.1 356.0L575.0 356.2L574.6 357.0L574.0 357.8L573.9 358.0L573.1 359.0L573.0 359.2L572.3 360.0L572.0 360.3L571.4 361.0L571.0 361.4L570.4 362.0L570.0 362.3L569.2 363.0L569.0 363.2L568.0 363.9L567.8 364.0L567.0 364.4L566.0 365.0L565.9 365.0L565.0 365.6L564.3 366.0L564.0 366.3L563.3 367.0L563.0 367.4L562.6 368.0L562.2 369.0L562.0 369.5L561.9 370.0L561.7 371.0L561.6 372.0L561.5 373.0L561.5 374.0L561.4 375.0L561.3 376.0L561.1 377.0L561.0 377.3L560.8 378.0L560.5 379.0L560.1 380.0L560.0 380.1L559.5 381.0L559.0 381.7L558.8 382.0L558.0 382.7L557.5 383.0L557.0 383.3L556.0 383.6L555.0 383.8L554.0 383.8L553.0 383.8L552.0 383.6L551.0 383.4L550.0 383.1L549.8 383.0L549.0 382.7L548.0 382.1L547.9 382.0L547.0 381.2L546.8 381.0L546.0 380.1L545.9 380.0L545.3 379.0L545.0 378.5L544.7 378.0L544.2 377.0L544.0 376.5L543.8 376.0L543.2 375.0L543.0 374.5L542.7 374.0L542.1 373.0L542.0 372.8L541.6 372.0L541.3 371.0L541.3 370.0L541.4 369.0L541.6 368.0L541.9 367.0L542.0 366.5L542.1 366.0L542.3 365.0L542.4 364.0L542.5 363.0L542.5 362.0L542.4 361.0L542.4 360.0L542.3 359.0L542.2 358.0L542.0 357.0L542.0 356.8L541.9 356.0L541.7 355.0L541.5 354.0L541.3 353.0L541.2 352.0L541.1 351.0L541.0 350.3L541.0 350.0L540.9 349.0L540.9 348.0L541.0 347.0L541.0 346.8L541.1 346.0L541.2 345.0L541.5 344.0L541.7 343.0L542.0 342.3L542.1 342.0L542.4 341.0L542.9 340.0L543.0 339.8L543.4 339.0L543.9 338.0L544.0 337.9L544.6 337.0L545.0 336.5L545.5 336.0L546.0 335.5L546.5 335.0L547.0 334.6L548.0 334.0L548.0 334.0L549.0 333.5L550.0 333.1L550.3 333.0L551.0 332.7L552.0 332.5L553.0 332.2L554.0 332.0L554.1 332.0Z" fill="#c7e9c0"/>
<path d="M554.0 333.8L555.0 333.6L556.0 333.5L557.0 333.4L558.0 333.3L559.0 333.3L560.0 333.4L561.0 333.4L562.0 333.6L563.0 333.8L563.7 334.0L564.0 334.1L565.0 334.4L566.0 334.8L566.4 335.0L567.0 335.3L568.0 335.9L568.2 336.0L569.0 336.6L569.6 337.0L570.0 337.4L570.7 338.0L571.0 338.3L571.6 339.0L572.0 339.5L572.4 340.0L573.0 340.9L573.1 341.0L573.6 342.0L574.0 342.9L574.0 343.0L574.4 344.0L574.7 345.0L574.9 346.0L575.0 347.0L575.0 347.1L575.1 348.0L575.1 349.0L575.0 349.9L575.0 350.0L574.9 351.0L574.7 352.0L574.5 353.0L574.1 354.0L574.0 354.3L573.7 355.0L573.2 356.0L573.0 356.3L572.6 357.0L572.0 357.8L571.9 358.0L571.0 359.0L571.0 359.0L570.1 360.0L570.0 360.1L569.1 361.0L569.0 361.1L568.0 361.9L567.9 362.0L567.0 362.6L566.2 363.0L566.0 363.1L565.0 363.6L564.3 364.0L564.0 364.2L563.0 364.8L562.8 365.0L562.0 365.8L561.8 366.0L561.2 367.0L561.0 367.4L560.7 368.0L560.4 369.0L560.2 370.0L560.0 371.0L560.0 371.5L560.0 372.0L559.9 373.0L559.9 374.0L559.8 375.0L559.6 376.0L559.4 377.0L559.0 378.0L559.0 378.1L558.5 379.0L558.0 379.8L557.8 380.0L557.0 380.8L556.7 381.0L556.0 381.4L555.0 381.6L554.0 381.7L553.0 381.7L552.0 381.6L551.0 381.4L550.0 381.1L549.8 381.0L549.0 380.6L548.3 380.0L548.0 379.8L547.3 379.0L547.0 378.5L546.7 378.0L546.1 377.0L546.0 376.7L545.7 376.0L545.3 375.0L545.0 374.3L544.9 374.0L544.5 373.0L544.1 372.0L544.0 371.6L543.8 371.0L543.7 370.0L543.7 369.0L543.7 368.0L543.8 367.0L543.9 366.0L544.0 365.2L544.0 365.0L544.1 364.0L544.1 363.0L544.1 362.0L544.0 361.0L544.0 360.6L544.0 360.0L543.9 359.0L543.8 358.0L543.6 357.0L543.5 356.0L543.4 355.0L543.2 354.0L543.1 353.0L543.0 352.1L543.0 352.0L542.9 351.0L542.8 350.0L542.8 349.0L542.8 348.0L542.9 347.0L543.0 346.3L543.0 346.0L543.2 345.0L543.4 344.0L543.7 343.0L544.0 342.1L544.0 342.0L544.4 341.0L544.8 340.0L545.0 339.6L545.3 339.0L545.9 338.0L546.0 337.9L546.8 337.0L547.0 336.8L547.9 336.0L548.0 335.9L549.0 335.3L549.7 335.0L550.0 334.9L551.0 334.5L552.0 334.2L553.0 334.0L553.0 334.0Z" fill="#a9dca3"/>
<path d="M557.0 335.0L558.0 334.9L559.0 334.9L560.0 334.9L560.5 335.0L561.0 335.0L562.0 335.2L563.0 335.4L564.0 335.7L564.7 336.0L565.0 336.1L566.0 336.6L566.7 337.0L567.0 337.2L568.0 337.9L568.2 338.0L569.0 338.7L569.3 339.0L570.0 339.7L570.3 340.0L571.0 340.9L571.1 341.0L571.7 342.0L572.0 342.6L572.2 343.0L572.6 344.0L572.9 345.0L573.0 345.4L573.1 346.0L573.3 347.0L573.4 348.0L573.4 349.0L573.4 350.0L573.3 351.0L573.1 352.0L573.0 352.6L572.9 353.0L572.6 354.0L572.2 355.0L572.0 355.3L571.6 356.0L571.0 356.9L570.9 357.0L570.1 358.0L570.0 358.1L569.1 359.0L569.0 359.1L568.0 360.0L568.0 360.0L567.0 360.8L566.7 361.0L566.0 361.4L565.0 362.0L564.9 362.0L564.0 362.4L563.0 363.0L563.0 363.0L562.0 363.7L561.6 364.0L561.0 364.6L560.7 365.0L560.0 366.0L560.0 366.0L559.5 367.0L559.1 368.0L559.0 368.2L558.8 369.0L558.5 370.0L558.4 371.0L558.3 372.0L558.3 373.0L558.2 374.0L558.1 375.0L558.0 375.3L557.8 376.0L557.4 377.0L557.0 377.7L556.8 378.0L556.0 378.8L555.6 379.0L555.0 379.3L554.0 379.6L553.0 379.7L552.0 379.7L551.0 379.5L550.0 379.1L549.9 379.0L549.0 378.3L548.7 378.0L548.0 377.0L548.0 377.0L547.6 376.0L547.2 375.0L547.0 374.5L546.8 374.0L546.5 373.0L546.2 372.0L546.0 371.1L546.0 371.0L545.8 370.0L545.7 369.0L545.6 368.0L545.6 367.0L545.6 366.0L545.6 365.0L545.6 364.0L545.5 363.0L545.5 362.0L545.4 361.0L545.3 360.0L545.2 359.0L545.1 358.0L545.0 357.0L545.0 356.7L544.9 356.0L544.8 355.0L544.7 354.0L544.6 353.0L544.5 352.0L544.4 351.0L544.4 350.0L544.4 349.0L544.4 348.0L544.5 347.0L544.7 346.0L544.9 345.0L545.0 344.5L545.1 344.0L545.4 343.0L545.7 342.0L546.0 341.1L546.0 341.0L546.5 340.0L547.0 339.1L547.0 339.0L547.8 338.0L548.0 337.8L549.0 337.0L549.0 337.0L550.0 336.4L551.0 336.0L551.1 336.0L552.0 335.7L553.0 335.5L554.0 335.3L555.0 335.2L556.0 335.1L556.7 335.0Z" fill="#86cc85"/>
<path d="M554.0 336.8L555.0 336.7L556.0 336.6L557.0 336.5L558.0 336.4L559.0 336.4L560.0 336.4L561.0 336.6L562.0 336.7L563.0 337.0L563.0 337.0L564.0 337.4L565.0 337.8L565.4 338.0L566.0 338.4L567.0 339.0L567.0 339.0L568.0 339.9L568.1 340.0L569.0 340.9L569.1 341.0L569.8 342.0L570.0 342.3L570.4 343.0L570.9 344.0L571.0 344.3L571.2 345.0L571.5 346.0L571.7 347.0L571.8 348.0L571.9 349.0L571.9 350.0L571.8 351.0L571.7 352.0L571.5 353.0L571.2 354.0L571.0 354.3L570.7 355.0L570.0 356.0L570.0 356.0L569.2 357.0L569.0 357.2L568.2 358.0L568.0 358.2L567.0 359.0L567.0 359.0L566.0 359.7L565.5 360.0L565.0 360.3L564.0 360.8L563.5 361.0L563.0 361.2L562.0 361.8L561.7 362.0L561.0 362.6L560.5 363.0L560.0 363.5L559.6 364.0L559.0 364.8L558.8 365.0L558.2 366.0L558.0 366.4L557.7 367.0L557.2 368.0L557.0 368.6L556.8 369.0L556.5 370.0L556.3 371.0L556.1 372.0L556.0 373.0L556.0 373.0L555.8 374.0L555.4 375.0L555.0 375.7L554.8 376.0L554.0 376.6L553.0 377.0L553.0 377.0L552.0 377.1L551.8 377.0L551.0 376.7L550.2 376.0L550.0 375.7L549.6 375.0L549.3 374.0L549.0 373.1L549.0 373.0L548.7 372.0L548.5 371.0L548.2 370.0L548.0 369.3L547.9 369.0L547.7 368.0L547.6 367.0L547.4 366.0L547.3 365.0L547.1 364.0L547.0 363.0L547.0 362.9L546.9 362.0L546.8 361.0L546.7 360.0L546.5 359.0L546.4 358.0L546.3 357.0L546.2 356.0L546.1 355.0L546.0 354.0L546.0 353.8L545.9 353.0L545.9 352.0L545.8 351.0L545.8 350.0L545.9 349.0L545.9 348.0L546.0 347.5L546.1 347.0L546.2 346.0L546.4 345.0L546.7 344.0L547.0 343.0L547.0 342.9L547.3 342.0L547.7 341.0L548.0 340.3L548.2 340.0L548.9 339.0L549.0 338.9L550.0 338.1L550.2 338.0L551.0 337.6L552.0 337.3L553.0 337.0L553.0 337.0Z" fill="#60ba6c"/>
<path d="M557.0 338.0L558.0 337.9L559.0 337.9L560.0 338.0L560.2 338.0L561.0 338.1L562.0 338.3L563.0 338.6L563.9 339.0L564.0 339.1L565.0 339.6L565.6 340.0L566.0 340.3L566.9 341.0L567.0 341.1L567.8 342.0L568.0 342.3L568.5 343.0L569.0 343.8L569.1 344.0L569.5 345.0L569.8 346.0L570.0 346.6L570.1 347.0L570.2 348.0L570.4 349.0L570.4 350.0L570.4 351.0L570.3 352.0L570.0 353.0L570.0 353.1L569.6 354.0L569.1 355.0L569.0 355.1L568.2 356.0L568.0 356.2L567.1 357.0L567.0 357.1L566.0 357.8L565.7 358.0L565.0 358.4L564.0 358.9L563.8 359.0L563.0 359.4L562.0 360.0L562.0 360.0L561.0 360.6L560.5 361.0L560.0 361.4L559.4 362.0L559.0 362.4L558.4 363.0L558.0 363.5L557.6 364.0L557.0 364.7L556.7 365.0L556.0 365.8L555.8 366.0L555.0 366.8L554.6 367.0L554.0 367.4L553.0 367.5L552.0 367.3L551.5 367.0L551.0 366.8L550.2 366.0L550.0 365.7L549.6 365.0L549.1 364.0L549.0 363.7L548.8 363.0L548.5 362.0L548.3 361.0L548.1 360.0L548.0 359.7L547.9 359.0L547.7 358.0L547.6 357.0L547.5 356.0L547.4 355.0L547.3 354.0L547.3 353.0L547.2 352.0L547.2 351.0L547.2 350.0L547.3 349.0L547.4 348.0L547.6 347.0L547.8 346.0L548.0 345.1L548.0 345.0L548.3 344.0L548.6 343.0L549.0 342.0L549.0 342.0L549.5 341.0L550.0 340.3L550.3 340.0L551.0 339.5L551.9 339.0L552.0 338.9L553.0 338.6L554.0 338.4L555.0 338.2L556.0 338.1L556.8 338.0Z" fill="#3ba458"/>
<path d="M556.0 339.8L557.0 339.7L558.0 339.6L559.0 339.6L560.0 339.7L561.0 339.8L561.6 340.0L562.0 340.1L563.0 340.5L564.0 341.0L564.0 341.0L565.0 341.7L565.3 342.0L566.0 342.7L566.3 343.0L567.0 343.9L567.0 344.0L567.6 345.0L568.0 346.0L568.0 346.1L568.3 347.0L568.5 348.0L568.6 349.0L568.7 350.0L568.7 351.0L568.6 352.0L568.3 353.0L568.0 353.6L567.7 354.0L567.0 354.9L566.8 355.0L566.0 355.7L565.5 356.0L565.0 356.3L564.0 356.8L563.7 357.0L563.0 357.3L562.0 357.9L561.9 358.0L561.0 358.6L560.5 359.0L560.0 359.3L559.2 360.0L559.0 360.2L558.1 361.0L558.0 361.1L557.0 362.0L557.0 362.0L556.0 362.9L555.7 363.0L555.0 363.4L554.0 363.7L553.0 363.7L552.0 363.3L551.6 363.0L551.0 362.4L550.7 362.0L550.1 361.0L550.0 360.8L549.7 360.0L549.4 359.0L549.2 358.0L549.0 357.1L549.0 357.0L548.8 356.0L548.7 355.0L548.7 354.0L548.6 353.0L548.6 352.0L548.7 351.0L548.7 350.0L548.9 349.0L549.0 348.1L549.0 348.0L549.2 347.0L549.5 346.0L549.8 345.0L550.0 344.5L550.2 344.0L550.6 343.0L551.0 342.4L551.3 342.0L552.0 341.3L552.4 341.0L553.0 340.7L554.0 340.3L555.0 340.0L555.0 340.0Z" fill="#228a44"/>
<path d="M557.0 341.9L558.0 341.8L559.0 341.8L560.0 341.9L560.6 342.0L561.0 342.1L562.0 342.5L563.0 343.0L563.0 343.0L564.0 343.9L564.1 344.0L564.9 345.0L565.0 345.1L565.5 346.0L565.9 347.0L566.0 347.4L566.1 348.0L566.3 349.0L566.4 350.0L566.3 351.0L566.1 352.0L566.0 352.1L565.4 353.0L565.0 353.4L564.2 354.0L564.0 354.1L563.0 354.7L562.6 355.0L562.0 355.4L561.2 356.0L561.0 356.1L560.0 356.9L559.9 357.0L559.0 357.8L558.8 358.0L558.0 358.7L557.6 359.0L557.0 359.5L556.3 360.0L556.0 360.2L555.0 360.6L554.0 360.8L553.0 360.5L552.3 360.0L552.0 359.8L551.5 359.0L551.0 358.1L551.0 358.0L550.7 357.0L550.5 356.0L550.3 355.0L550.2 354.0L550.2 353.0L550.2 352.0L550.3 351.0L550.5 350.0L550.7 349.0L550.9 348.0L551.0 347.8L551.3 347.0L551.7 346.0L552.0 345.4L552.2 345.0L552.9 344.0L553.0 343.9L554.0 343.0L554.0 343.0L555.0 342.5L556.0 342.1L556.5 342.0Z" fill="#077331"/>
<path d="M556.0 346.8L557.0 346.5L558.0 346.5L559.0 346.8L559.3 347.0L560.0 347.5L560.4 348.0L561.0 349.0L561.0 349.2L561.1 350.0L561.0 350.5L560.9 351.0L560.5 352.0L560.0 352.7L559.9 353.0L559.1 354.0L559.0 354.1L558.3 355.0L558.0 355.3L557.3 356.0L557.0 356.3L556.0 357.0L556.0 357.0L555.0 357.3L554.0 357.2L553.8 357.0L553.0 356.2L552.9 356.0L552.6 355.0L552.5 354.0L552.4 353.0L552.5 352.0L552.8 351.0L553.0 350.2L553.1 350.0L553.6 349.0L554.0 348.4L554.4 348.0L555.0 347.4L555.6 347.0Z" fill="#005321"/>
<circle cx="562.2" cy="347.6" r="1.8" fill="#245c31" fill-opacity="0.4" stroke="#163c1f" stroke-width="0.7"/><circle cx="564.0" cy="355.9" r="1.8" fill="#245c31" fill-opacity="0.4" stroke="#163c1f" stroke-width="0.7"/><circle cx="559.9" cy="358.7" r="1.8" fill="#245c31" fill-opacity="0.4" stroke="#163c1f" stroke-width="0.7"/><circle cx="561.5" cy="354.1" r="1.8" fill="#245c31" fill-opacity="0.4" stroke="#163c1f" stroke-width="0.7"/><circle cx="556.5" cy="354.8" r="1.8" fill="#245c31" fill-opacity="0.4" stroke="#163c1f" stroke-width="0.7"/><circle cx="551.6" cy="348.9" r="1.8" fill="#245c31" fill-opacity="0.4" stroke="#163c1f" stroke-width="0.7"/><circle cx="550.4" cy="354.0" r="1.8" fill="#245c31" fill-opacity="0.4" stroke="#163c1f" stroke-width="0.7"/><circle cx="549.7" cy="342.8" r="1.8" fill="#245c31" fill-opacity="0.4" stroke="#163c1f" stroke-width="0.7"/><circle cx="558.7" cy="347.8" r="1.8" fill="#245c31" fill-opacity="0.4" stroke="#163c1f" stroke-width="0.7"/><circle cx="554.1" cy="339.4" r="1.8" fill="#245c31" fill-opacity="0.4" stroke="#163c1f" stroke-width="0.7"/><circle cx="554.8" cy="354.3" r="1.8" fill="#245c31" fill-opacity="0.4" stroke="#163c1f" stroke-width="0.7"/><circle cx="556.0" cy="342.2" r="1.8" fill="#245c31" fill-opacity="0.4" stroke="#163c1f" stroke-width="0.7"/><circle cx="567.0" cy="353.3" r="1.8" fill="#245c31" fill-opacity="0.4" stroke="#163c1f" stroke-width="0.7"/><circle cx="557.9" cy="340.5" r="1.8" fill="#245c31" fill-opacity="0.4" stroke="#163c1f" stroke-width="0.7"/><circle cx="566.0" cy="343.1" r="1.8" fill="#245c31" fill-opacity="0.4" stroke="#163c1f" stroke-width="0.7"/><circle cx="557.6" cy="355.8" r="1.8" fill="#245c31" fill-opacity="0.4" stroke="#163c1f" stroke-width="0.7"/><circle cx="561.4" cy="345.8" r="1.8" fill="#245c31" fill-opacity="0.4" stroke="#163c1f" stroke-width="0.7"/><circle cx="550.7" cy="353.3" r="1.8" fill="#245c31" fill-opacity="0.4" stroke="#163c1f" stroke-width="0.7"/><circle cx="553.6" cy="349.9" r="1.8" fill="#245c31" fill-opacity="0.4" stroke="#163c1f" stroke-width="0.7"/><circle cx="555.5" cy="355.0" r="1.8" fill="#245c31" fill-opacity="0.4" stroke="#163c1f" stroke-width="0.7"/><circle cx="546.4" cy="368.7" r="1.8" fill="#245c31" fill-opacity="0.4" stroke="#163c1f" stroke-width="0.7"/><circle cx="547.5" cy="368.6" r="1.8" fill="#245c31" fill-opacity="0.4" stroke="#163c1f" stroke-width="0.7"/><circle cx="554.7" cy="364.3" r="1.8" fill="#245c31" fill-opacity="0.4" stroke="#163c1f" stroke-width="0.7"/><circle cx="555.9" cy="365.5" r="1.8" fill="#245c31" fill-opacity="0.4" stroke="#163c1f" stroke-width="0.7"/><circle cx="551.5" cy="369.1" r="1.8" fill="#245c31" fill-opacity="0.4" stroke="#163c1f" stroke-width="0.7"/><circle cx="545.7" cy="371.2" r="1.8" fill="#245c31" fill-opacity="0.4" stroke="#163c1f" stroke-width="0.7"/><circle cx="548.4" cy="371.1" r="1.8" fill="#245c31" fill-opacity="0.4" stroke="#163c1f" stroke-width="0.7"/><circle cx="552.3" cy="373.8" r="1.8" fill="#245c31" fill-opacity="0.4" stroke="#163c1f" stroke-width="0.7"/><circle cx="549.4" cy="338.6" r="1.8" fill="#245c31" fill-opacity="0.4" stroke="#163c1f" stroke-width="0.7"/><circle cx="540.4" cy="370.8" r="1.8" fill="#245c31" fill-opacity="0.4" stroke="#163c1f" stroke-width="0.7"/><circle cx="550.2" cy="377.9" r="1.8" fill="#245c31" fill-opacity="0.4" stroke="#163c1f" stroke-width="0.7"/><circle cx="557.3" cy="381.6" r="1.8" fill="#245c31" fill-opacity="0.4" stroke="#163c1f" stroke-width="0.7"/><circle cx="558.2" cy="375.9" r="1.8" fill="#245c31" fill-opacity="0.4" stroke="#163c1f" stroke-width="0.7"/><circle cx="565.8" cy="361.0" r="1.8" fill="#245c31" fill-opacity="0.4" stroke="#163c1f" stroke-width="0.7"/><circle cx="568.6" cy="354.2" r="1.8" fill="#245c31" fill-opacity="0.4" stroke="#163c1f" stroke-width="0.7"/>
<path d="M599.4 369.9h3.4v3.4h-3.4zM596.9 367.6h3.4v3.4h-3.4zM601.1 364.5h3.4v3.4h-3.4zM615.1 352.3h3.4v3.4h-3.4zM587.1 352.5h3.4v3.4h-3.4zM611.7 355.0h3.4v3.4h-3.4zM582.1 360.0h3.4v3.4h-3.4zM614.4 354.6h3.4v3.4h-3.4zM600.5 352.9h3.4v3.4h-3.4zM585.9 367.2h3.4v3.4h-3.4zM606.8 353.0h3.4v3.4h-3.4zM599.3 352.2h3.4v3.4h-3.4zM621.1 350.3h3.4v3.4h-3.4zM612.5 362.3h3.4v3.4h-3.4zM601.6 351.7h3.4v3.4h-3.4zM590.2 348.1h3.4v3.4h-3.4zM591.9 351.6h3.4v3.4h-3.4zM615.0 354.0h3.4v3.4h-3.4zM597.8 339.8h3.4v3.4h-3.4zM602.6 357.2h3.4v3.4h-3.4zM596.4 353.5h3.4v3.4h-3.4zM603.2 348.6h3.4v3.4h-3.4zM602.3 365.7h3.4v3.4h-3.4zM597.4 369.7h3.4v3.4h-3.4zM602.7 352.4h3.4v3.4h-3.4zM580.3 356.5h3.4v3.4h-3.4zM588.6 357.7h3.4v3.4h-3.4zM605.4 357.6h3.4v3.4h-3.4zM608.5 355.5h3.4v3.4h-3.4zM600.3 360.4h3.4v3.4h-3.4zM594.9 356.0h3.4v3.4h-3.4zM604.9 354.8h3.4v3.4h-3.4zM594.3 363.6h3.4v3.4h-3.4zM591.5 351.9h3.4v3.4h-3.4zM591.9 356.3h3.4v3.4h-3.4zM612.6 356.1h3.4v3.4h-3.4zM598.1 367.6h3.4v3.4h-3.4zM605.9 358.4h3.4v3.4h-3.4zM590.8 357.9h3.4v3.4h-3.4zM600.8 341.4h3.4v3.4h-3.4zM595.6 365.1h3.4v3.4h-3.4zM616.9 347.2h3.4v3.4h-3.4zM615.0 361.0h3.4v3.4h-3.4zM585.7 350.8h3.4v3.4h-3.4zM618.9 348.6h3.4v3.4h-3.4zM598.1 359.7h3.4v3.4h-3.4zM590.7 349.3h3.4v3.4h-3.4zM606.0 350.5h3.4v3.4h-3.4zM598.7 361.4h3.4v3.4h-3.4zM611.5 339.6h3.4v3.4h-3.4zM591.3 354.8h3.4v3.4h-3.4zM606.1 367.8h3.4v3.4h-3.4zM591.4 360.5h3.4v3.4h-3.4zM604.9 349.5h3.4v3.4h-3.4zM594.8 342.5h3.4v3.4h-3.4zM592.7 345.1h3.4v3.4h-3.4zM599.6 346.3h3.4v3.4h-3.4zM600.0 367.0h3.4v3.4h-3.4zM583.1 343.8h3.4v3.4h-3.4zM600.4 341.6h3.4v3.4h-3.4zM614.3 355.0h3.4v3.4h-3.4zM605.8 355.0h3.4v3.4h-3.4zM592.2 360.6h3.4v3.4h-3.4zM585.2 356.1h3.4v3.4h-3.4zM594.7 339.6h3.4v3.4h-3.4zM609.0 339.3h3.4v3.4h-3.4zM621.1 357.3h3.4v3.4h-3.4zM617.0 345.7h3.4v3.4h-3.4zM596.7 359.4h3.4v3.4h-3.4zM606.2 362.0h3.4v3.4h-3.4zM584.8 354.1h3.4v3.4h-3.4zM593.8 359.5h3.4v3.4h-3.4zM590.5 346.4h3.4v3.4h-3.4zM589.3 350.7h3.4v3.4h-3.4zM601.3 363.5h3.4v3.4h-3.4zM605.6 340.8h3.4v3.4h-3.4zM620.3 357.3h3.4v3.4h-3.4zM596.6 353.1h3.4v3.4h-3.4zM597.9 359.6h3.4v3.4h-3.4zM584.3 344.1h3.4v3.4h-3.4zM608.5 349.8h3.4v3.4h-3.4zM609.9 362.3h3.4v3.4h-3.4zM593.8 360.0h3.4v3.4h-3.4zM595.3 357.1h3.4v3.4h-3.4zM599.0 362.4h3.4v3.4h-3.4zM601.4 283.0h3.4v3.4h-3.4zM603.1 296.5h3.4v3.4h-3.4zM619.7 306.4h3.4v3.4h-3.4zM592.9 311.5h3.4v3.4h-3.4zM566.9 316.3h3.4v3.4h-3.4zM629.6 329.9h3.4v3.4h-3.4zM597.4 335.3h3.4v3.4h-3.4zM608.7 336.1h3.4v3.4h-3.4zM569.7 345.1h3.4v3.4h-3.4zM574.0 359.3h3.4v3.4h-3.4zM577.6 376.5h3.4v3.4h-3.4zM600.0 379.9h3.4v3.4h-3.4zM600.0 387.5h3.4v3.4h-3.4zM619.2 347.3h3.4v3.4h-3.4zM627.1 350.2h3.4v3.4h-3.4zM624.8 359.3h3.4v3.4h-3.4zM634.7 369.1h3.4v3.4h-3.4zM640.9 372.3h3.4v3.4h-3.4zM654.5 372.8h3.4v3.4h-3.4zM653.6 378.5h3.4v3.4h-3.4z" fill="#e0182a"/><path d="M599.9 370.4l2.4 2.4M599.9 372.8l2.4 -2.4M597.4 368.1l2.4 2.4M597.4 370.5l2.4 -2.4M601.6 365.0l2.4 2.4M601.6 367.4l2.4 -2.4M615.6 352.8l2.4 2.4M615.6 355.2l2.4 -2.4M587.6 353.0l2.4 2.4M587.6 355.4l2.4 -2.4M612.2 355.5l2.4 2.4M612.2 357.9l2.4 -2.4M582.6 360.5l2.4 2.4M582.6 362.9l2.4 -2.4M614.9 355.1l2.4 2.4M614.9 357.5l2.4 -2.4M601.0 353.4l2.4 2.4M601.0 355.8l2.4 -2.4M586.4 367.7l2.4 2.4M586.4 370.1l2.4 -2.4M607.3 353.5l2.4 2.4M607.3 355.9l2.4 -2.4M599.8 352.7l2.4 2.4M599.8 355.1l2.4 -2.4M621.6 350.8l2.4 2.4M621.6 353.2l2.4 -2.4M613.0 362.8l2.4 2.4M613.0 365.2l2.4 -2.4M602.1 352.2l2.4 2.4M602.1 354.6l2.4 -2.4M590.7 348.6l2.4 2.4M590.7 351.0l2.4 -2.4M592.4 352.1l2.4 2.4M592.4 354.5l2.4 -2.4M615.5 354.5l2.4 2.4M615.5 356.9l2.4 -2.4M598.3 340.3l2.4 2.4M598.3 342.7l2.4 -2.4M603.1 357.7l2.4 2.4M603.1 360.1l2.4 -2.4M596.9 354.0l2.4 2.4M596.9 356.4l2.4 -2.4M603.7 349.1l2.4 2.4M603.7 351.5l2.4 -2.4M602.8 366.2l2.4 2.4M602.8 368.6l2.4 -2.4M597.9 370.2l2.4 2.4M597.9 372.6l2.4 -2.4M603.2 352.9l2.4 2.4M603.2 355.3l2.4 -2.4M580.8 357.0l2.4 2.4M580.8 359.4l2.4 -2.4M589.1 358.2l2.4 2.4M589.1 360.6l2.4 -2.4M605.9 358.1l2.4 2.4M605.9 360.5l2.4 -2.4M609.0 356.0l2.4 2.4M609.0 358.4l2.4 -2.4M600.8 360.9l2.4 2.4M600.8 363.3l2.4 -2.4M595.4 356.5l2.4 2.4M595.4 358.9l2.4 -2.4M605.4 355.3l2.4 2.4M605.4 357.7l2.4 -2.4M594.8 364.1l2.4 2.4M594.8 366.5l2.4 -2.4M592.0 352.4l2.4 2.4M592.0 354.8l2.4 -2.4M592.4 356.8l2.4 2.4M592.4 359.2l2.4 -2.4M613.1 356.6l2.4 2.4M613.1 359.0l2.4 -2.4M598.6 368.1l2.4 2.4M598.6 370.5l2.4 -2.4M606.4 358.9l2.4 2.4M606.4 361.3l2.4 -2.4M591.3 358.4l2.4 2.4M591.3 360.8l2.4 -2.4M601.3 341.9l2.4 2.4M601.3 344.3l2.4 -2.4M596.1 365.6l2.4 2.4M596.1 368.0l2.4 -2.4M617.4 347.7l2.4 2.4M617.4 350.1l2.4 -2.4M615.5 361.5l2.4 2.4M615.5 363.9l2.4 -2.4M586.2 351.3l2.4 2.4M586.2 353.7l2.4 -2.4M619.4 349.1l2.4 2.4M619.4 351.5l2.4 -2.4M598.6 360.2l2.4 2.4M598.6 362.6l2.4 -2.4M591.2 349.8l2.4 2.4M591.2 352.2l2.4 -2.4M606.5 351.0l2.4 2.4M606.5 353.4l2.4 -2.4M599.2 361.9l2.4 2.4M599.2 364.3l2.4 -2.4M612.0 340.1l2.4 2.4M612.0 342.5l2.4 -2.4M591.8 355.3l2.4 2.4M591.8 357.7l2.4 -2.4M606.6 368.3l2.4 2.4M606.6 370.7l2.4 -2.4M591.9 361.0l2.4 2.4M591.9 363.4l2.4 -2.4M605.4 350.0l2.4 2.4M605.4 352.4l2.4 -2.4M595.3 343.0l2.4 2.4M595.3 345.4l2.4 -2.4M593.2 345.6l2.4 2.4M593.2 348.0l2.4 -2.4M600.1 346.8l2.4 2.4M600.1 349.2l2.4 -2.4M600.5 367.5l2.4 2.4M600.5 369.9l2.4 -2.4M583.6 344.3l2.4 2.4M583.6 346.7l2.4 -2.4M600.9 342.1l2.4 2.4M600.9 344.5l2.4 -2.4M614.8 355.5l2.4 2.4M614.8 357.9l2.4 -2.4M606.3 355.5l2.4 2.4M606.3 357.9l2.4 -2.4M592.7 361.1l2.4 2.4M592.7 363.5l2.4 -2.4M585.7 356.6l2.4 2.4M585.7 359.0l2.4 -2.4M595.2 340.1l2.4 2.4M595.2 342.5l2.4 -2.4M609.5 339.8l2.4 2.4M609.5 342.2l2.4 -2.4M621.6 357.8l2.4 2.4M621.6 360.2l2.4 -2.4M617.5 346.2l2.4 2.4M617.5 348.6l2.4 -2.4M597.2 359.9l2.4 2.4M597.2 362.3l2.4 -2.4M606.7 362.5l2.4 2.4M606.7 364.9l2.4 -2.4M585.3 354.6l2.4 2.4M585.3 357.0l2.4 -2.4M594.3 360.0l2.4 2.4M594.3 362.4l2.4 -2.4M591.0 346.9l2.4 2.4M591.0 349.3l2.4 -2.4M589.8 351.2l2.4 2.4M589.8 353.6l2.4 -2.4M601.8 364.0l2.4 2.4M601.8 366.4l2.4 -2.4M606.1 341.3l2.4 2.4M606.1 343.7l2.4 -2.4M620.8 357.8l2.4 2.4M620.8 360.2l2.4 -2.4M597.1 353.6l2.4 2.4M597.1 356.0l2.4 -2.4M598.4 360.1l2.4 2.4M598.4 362.5l2.4 -2.4M584.8 344.6l2.4 2.4M584.8 347.0l2.4 -2.4M609.0 350.3l2.4 2.4M609.0 352.7l2.4 -2.4M610.4 362.8l2.4 2.4M610.4 365.2l2.4 -2.4M594.3 360.5l2.4 2.4M594.3 362.9l2.4 -2.4M595.8 357.6l2.4 2.4M595.8 360.0l2.4 -2.4M599.5 362.9l2.4 2.4M599.5 365.3l2.4 -2.4M601.9 283.5l2.4 2.4M601.9 285.9l2.4 -2.4M603.6 297.0l2.4 2.4M603.6 299.4l2.4 -2.4M620.2 306.9l2.4 2.4M620.2 309.3l2.4 -2.4M593.4 312.0l2.4 2.4M593.4 314.4l2.4 -2.4M567.4 316.8l2.4 2.4M567.4 319.2l2.4 -2.4M630.1 330.4l2.4 2.4M630.1 332.8l2.4 -2.4M597.9 335.8l2.4 2.4M597.9 338.2l2.4 -2.4M609.2 336.6l2.4 2.4M609.2 339.0l2.4 -2.4M570.2 345.6l2.4 2.4M570.2 348.0l2.4 -2.4M574.5 359.8l2.4 2.4M574.5 362.2l2.4 -2.4M578.1 377.0l2.4 2.4M578.1 379.4l2.4 -2.4M600.5 380.4l2.4 2.4M600.5 382.8l2.4 -2.4M600.5 388.0l2.4 2.4M600.5 390.4l2.4 -2.4M619.7 347.8l2.4 2.4M619.7 350.2l2.4 -2.4M627.6 350.7l2.4 2.4M627.6 353.1l2.4 -2.4M625.3 359.8l2.4 2.4M625.3 362.2l2.4 -2.4M635.2 369.6l2.4 2.4M635.2 372.0l2.4 -2.4M641.4 372.8l2.4 2.4M641.4 375.2l2.4 -2.4M655.0 373.3l2.4 2.4M655.0 375.7l2.4 -2.4M654.1 379.0l2.4 2.4M654.1 381.4l2.4 -2.4" stroke="#7a1420" stroke-width="0.6" opacity="0.75" fill="none"/>
<circle cx="537" cy="304.5" r="4.2" fill="#e5f5e0"/><circle cx="537" cy="304.5" r="1.8" fill="#245c31" fill-opacity="0.75" stroke="#12341a" stroke-width="0.6"/>
</g>
<text x="568.3" y="435.1" text-anchor="middle" class="tk">1</text>
<text x="632.1" y="435.1" text-anchor="middle" class="tk">2</text>
<text x="514.0" y="268.4" text-anchor="end" class="tk">1.0</text>
<text x="514.0" y="296.9" text-anchor="end" class="tk">0.8</text>
<text x="514.0" y="325.4" text-anchor="end" class="tk">0.6</text>
<text x="514.0" y="353.9" text-anchor="end" class="tk">0.4</text>
<text x="514.0" y="382.4" text-anchor="end" class="tk">0.2</text>
<text x="514.0" y="411.0" text-anchor="end" class="tk">0.0</text>
<text x="602.5" y="248.5" text-anchor="middle" class="ti"><tspan font-style="italic">v</tspan><tspan font-size="11" dy="2.2" dx="0.8">6</tspan></text>
<text x="601.5" y="455.4" text-anchor="middle" class="lb"><tspan font-style="italic">&#945;</tspan><tspan font-size="13" dy="3.3" dx="1">1</tspan></text>
<text transform="translate(485.4,336.7) rotate(-90)" text-anchor="middle" class="lb"><tspan font-style="italic">&#947;</tspan><tspan font-size="13" dy="3.3" dx="1">1</tspan></text>
</svg>
</body></html>
